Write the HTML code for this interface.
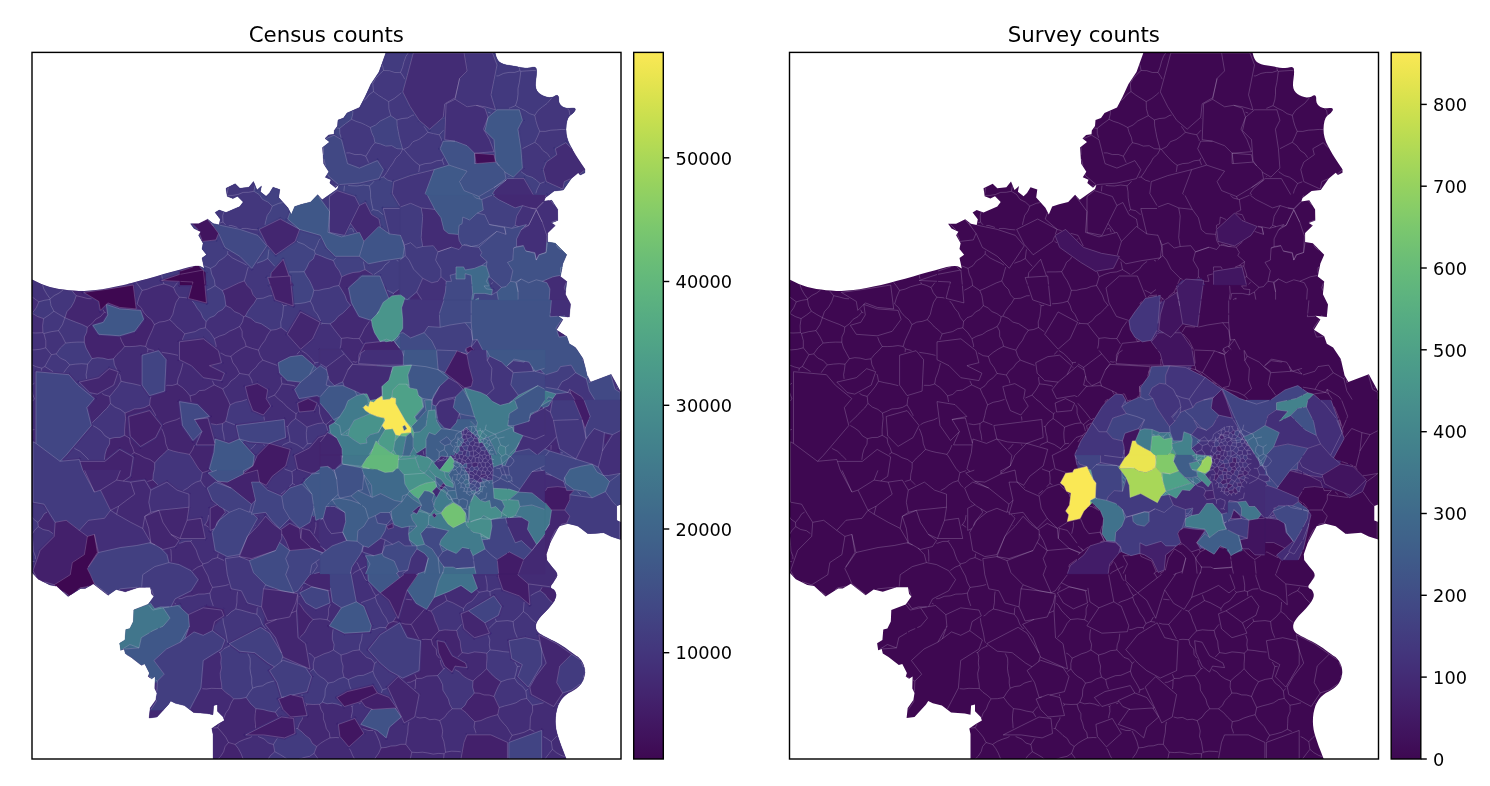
<!DOCTYPE html><html><head><meta charset="utf-8"><title>Census and survey counts</title>
<style>html,body{margin:0;padding:0;background:#fff}svg{display:block}text{font-family:"DejaVu Sans","Liberation Sans",sans-serif;fill:#000}</style></head><body>
<svg width="1490" height="786" viewBox="0 0 1490 786">
<defs>
<clipPath id="c1"><rect x="32.0" y="52.4" width="589.0" height="706.6"/></clipPath>
<clipPath id="c2"><rect x="789.5" y="52.4" width="589.0" height="706.6"/></clipPath>
<linearGradient id="vg" x1="0" y1="0" x2="0" y2="1"><stop offset="0.000" stop-color="#fae855"/><stop offset="0.031" stop-color="#ebe550"/><stop offset="0.062" stop-color="#dae24e"/><stop offset="0.094" stop-color="#c8df4f"/><stop offset="0.125" stop-color="#b7db53"/><stop offset="0.156" stop-color="#a6d759"/><stop offset="0.188" stop-color="#96d25f"/><stop offset="0.219" stop-color="#88cd67"/><stop offset="0.250" stop-color="#7ac76e"/><stop offset="0.281" stop-color="#6fc074"/><stop offset="0.312" stop-color="#65ba7a"/><stop offset="0.344" stop-color="#5db37f"/><stop offset="0.375" stop-color="#56ac83"/><stop offset="0.406" stop-color="#51a586"/><stop offset="0.438" stop-color="#4c9d89"/><stop offset="0.469" stop-color="#49968b"/><stop offset="0.500" stop-color="#478e8c"/><stop offset="0.531" stop-color="#44878c"/><stop offset="0.562" stop-color="#42808c"/><stop offset="0.594" stop-color="#41788c"/><stop offset="0.625" stop-color="#40718b"/><stop offset="0.656" stop-color="#3f698b"/><stop offset="0.688" stop-color="#3f628a"/><stop offset="0.719" stop-color="#3f5a89"/><stop offset="0.750" stop-color="#405287"/><stop offset="0.781" stop-color="#414985"/><stop offset="0.812" stop-color="#424081"/><stop offset="0.844" stop-color="#43377d"/><stop offset="0.875" stop-color="#432e77"/><stop offset="0.906" stop-color="#43256f"/><stop offset="0.938" stop-color="#421b66"/><stop offset="0.969" stop-color="#40125c"/><stop offset="1.000" stop-color="#3e0851"/></linearGradient>
</defs>
<rect width="1490" height="786" fill="#fff"/>
<g clip-path="url(#c1)">
<path d="M379.0,72.0L371.0,84.0L365.0,97.0L359.5,107.5L351.5,111.0L347.0,113.0L343.5,118.0L338.0,120.0L337.5,126.0L334.3,130.4L334.0,134.3L328.6,135.0L325.0,138.4L329.5,142.0L322.5,147.6L323.7,163.7L328.8,171.7L325.3,177.3L331.0,179.7L329.8,183.1L335.5,187.7L339.0,184.5L337.5,189.0L322.2,199.8L317.6,194.7L310.7,202.0L301.6,204.3L294.7,206.6L291.3,214.6L287.9,207.8L278.7,197.5L279.8,189.5L273.0,187.2L269.5,192.9L266.1,196.3L260.4,191.8L261.5,186.0L257.0,190.0L253.5,181.4L248.9,187.2L239.8,188.3L235.2,183.7L226.0,188.3L227.2,196.3L232.9,198.6L237.5,196.3L243.2,202.0L239.8,206.6L226.0,212.4L219.2,210.1L215.1,212.4L220.3,219.2L219.2,224.9L213.4,223.8L207.7,219.2L198.6,223.8L190.6,223.8L194.0,228.4L200.9,231.8L198.6,235.2L203.1,243.3L202.0,249.0L206.6,254.7L202.0,258.1L204.3,268.4L203.9,268.2L203.0,267.8L201.7,267.1L200.0,266.3L197.3,266.0L193.8,266.3L189.3,267.1L183.8,268.6L177.8,270.2L171.0,272.1L163.7,274.1L155.6,276.4L147.6,278.7L139.6,280.8L131.6,282.9L123.6,284.9L116.0,286.6L108.9,288.0L102.2,289.2L95.8,290.0L89.8,290.6L84.1,290.9L78.7,290.9L73.5,290.6L68.5,290.2L63.7,289.6L58.9,288.9L54.4,288.1L49.9,287.0L45.5,285.6L41.3,283.9L37.2,281.9L34.1,280.5L32.0,279.5L31.0,279.0L31.0,571.5L38.3,579.2L49.8,584.9L56.6,586.1L68.1,596.4L80.7,588.4L85.2,588.4L93.3,583.8L108.1,595.2L116.2,589.5L125.3,591.8L139.0,587.2L150.5,587.2L151.6,594.1L153.9,596.4L148.2,604.4L133.8,610.1L133.3,621.6L129.9,628.4L125.8,629.6L124.9,639.9L119.6,643.3L120.7,650.2L124.2,649.0L125.3,653.6L131.0,657.1L141.3,665.1L144.8,663.9L149.4,673.1L148.2,676.5L151.6,678.8L155.1,676.5L154.8,688.5L157.0,693.0L155.9,699.9L150.2,707.9L149.1,718.1L157.0,717.0L168.5,704.4L170.7,701.0L175.3,703.3L184.4,705.6L193.6,712.4L207.3,713.6L213.0,714.7L213.6,705.6L217.5,704.4L217.5,711.3L223.2,717.0L224.4,720.4L218.7,723.8L211.8,728.4L213.0,734.1L213.0,760.0L566.6,760.0L566.1,758.6L565.0,756.0L563.5,751.9L561.4,746.5L559.6,741.5L558.1,737.0L556.9,733.0L556.1,729.4L555.6,725.6L555.4,721.7L555.5,717.5L556.0,713.2L556.9,709.2L558.0,705.6L559.5,702.4L561.3,699.5L563.4,697.0L565.7,694.9L568.3,693.1L571.2,691.6L573.8,690.1L576.1,688.5L578.2,686.8L580.0,685.0L581.5,682.9L582.8,680.6L583.8,678.0L584.5,675.1L584.8,672.2L584.6,669.4L584.0,666.5L582.9,663.6L581.5,661.1L579.9,658.9L578.0,657.1L575.8,655.7L573.5,654.1L571.0,652.2L568.3,650.3L565.4,648.1L562.2,646.0L558.6,643.8L554.6,641.6L550.3,639.5L546.6,637.6L543.5,635.9L541.1,634.6L539.3,633.5L537.9,632.3L536.8,630.8L536.1,629.2L535.7,627.4L535.7,625.6L536.1,623.8L536.8,622.0L537.9,620.2L539.3,618.2L541.1,616.1L543.3,613.8L545.8,611.2L548.2,608.7L550.3,606.2L552.3,603.7L554.1,601.2L555.4,598.8L556.1,596.7L556.3,594.7L555.9,592.9L555.3,591.4L554.4,590.1L553.2,589.1L551.8,588.4L551.0,587.5L550.8,586.4L551.2,585.2L552.3,583.7L553.4,582.2L554.5,580.6L555.6,578.9L556.8,577.2L557.2,575.3L556.8,573.3L555.7,571.2L553.8,569.1L552.1,567.1L550.7,565.3L549.4,563.6L548.3,562.2L547.5,561.1L547.0,560.4L546.7,560.0L546.3,554.3L550.2,542.9L559.1,526.3L568.0,523.8L578.2,526.3L588.3,534.0L603.6,532.7L611.2,536.5L622.0,540.0L622.0,522.4L616.8,520.4L616.8,506.0L622.0,504.0L622.0,394.0L611.3,374.3L590.9,382.0L587.1,375.6L583.3,359.1L575.6,347.6L569.3,343.8L566.7,336.2L556.5,329.8L562.9,319.6L557.8,315.8L569.3,317.1L570.5,304.4L565.4,294.2L566.7,281.4L560.3,276.4L562.9,263.6L566.7,254.7L555.3,243.3L547.6,242.0L547.6,233.1L555.3,225.5L551.4,222.9L557.8,220.4L557.6,209.4L551.8,200.3L543.8,201.4L545.0,198.0L554.1,191.1L563.3,190.0L571.3,178.5L578.2,172.8L580.4,175.1L585.0,172.8L585.0,169.4L584.3,168.3L582.9,166.2L580.7,163.0L577.9,158.7L575.2,154.4L572.8,150.3L570.6,146.2L568.6,142.2L567.2,138.0L566.3,133.8L566.0,129.3L566.3,124.7L567.0,120.9L568.1,117.9L569.7,115.7L571.7,114.2L573.3,112.9L574.4,111.6L575.1,110.4L575.4,109.2L575.0,108.4L573.9,108.0L572.0,107.9L569.5,108.3L567.1,108.2L565.0,107.8L563.0,107.0L561.3,105.8L560.0,104.3L559.1,102.5L558.7,100.2L558.7,97.7L558.2,96.0L557.2,95.3L555.7,95.5L553.7,96.7L551.6,97.3L549.3,97.5L546.8,97.1L544.3,96.3L542.0,95.2L540.0,93.9L538.3,92.4L536.8,90.6L535.9,88.3L535.5,85.4L535.6,82.0L536.1,78.0L536.5,74.6L536.6,71.9L536.5,69.9L536.2,68.4L535.4,67.5L534.1,67.1L532.4,67.2L530.1,67.7L527.6,68.0L525.0,68.0L522.3,67.7L519.5,67.2L516.5,66.6L513.3,66.0L510.1,65.4L506.6,64.9L503.8,64.2L501.5,63.3L499.8,62.3L498.6,61.2L497.6,59.8L496.8,58.2L496.0,56.3L495.5,54.2L495.0,52.6L494.7,51.5L494.7,51.4L386.4,51.4Z" fill="#432e77"/>
<path d="M485.0,130.7L488.0,117.3L483.5,129.2L489.5,139.7L494.0,151.7L474.6,153.2L494.0,154.7L495.5,162.1L499.2,165.9L495.5,160.6L494.0,139.7ZM571.4,178.4L564.3,181.6L562.8,189.1L546.3,181.6L543.3,169.6L546.3,162.1L556.8,154.7L555.3,148.7L565.8,142.7L572.2,149.1L570.6,146.2L568.6,142.2L567.2,138.0L566.3,133.8L566.0,129.3L566.3,124.7L567.0,120.9L568.1,117.9L569.7,115.7L571.7,114.2L573.3,112.9L574.4,111.6L575.1,110.4L575.4,109.2L575.0,108.4L573.9,108.0L572.0,107.9L569.5,108.3L567.1,108.2L565.0,107.8L563.0,107.0L561.3,105.8L560.0,104.3L559.1,102.5L558.7,100.2L558.7,97.7L558.2,96.0L557.2,95.3L555.7,95.5L553.7,96.7L551.6,97.3L549.3,97.5L546.8,97.1L544.3,96.3L542.0,95.2L540.0,93.9L538.3,92.4L536.8,90.6L535.9,88.3L535.5,85.4L535.6,82.0L536.1,78.0L536.5,74.6L536.6,71.9L536.5,69.9L536.2,68.4L535.4,67.5L534.1,67.1L532.4,67.2L530.1,67.7L527.6,68.0L525.0,68.0L522.3,67.7L519.5,67.2L516.5,66.6L513.3,66.0L510.1,65.4L506.6,64.9L503.8,64.2L501.5,63.3L499.8,62.3L498.6,61.2L497.6,59.8L496.8,58.2L496.0,56.3L495.5,54.2L495.0,52.6L494.7,51.5L494.7,51.4L386.4,51.4L379.0,72.0L371.0,84.0L365.0,97.0L359.5,107.5L351.5,111.0L347.0,113.0L343.5,118.0L338.0,120.0L337.5,126.0L334.3,130.4L334.0,134.3L328.6,135.0L325.0,138.4L325.6,138.8L334.0,135.2L341.5,139.7L347.5,163.6L359.4,168.1L377.4,160.6L383.3,169.6L378.9,178.6L359.4,183.1L339.0,184.5L337.5,189.0L322.2,199.8L317.6,194.7L317.1,195.3L317.6,195.0L329.5,211.5L329.5,196.5L337.0,190.6L354.9,196.5L359.4,205.5L365.4,202.5L371.4,214.5L378.9,219.0L380.4,226.4L379.7,227.0L389.3,233.9L383.3,208.5L400.0,208.5L400.0,207.1L400.0,206.3L392.3,193.5L393.8,181.6L410.3,175.6L434.2,169.6L449.1,165.1L440.2,148.7L443.2,141.2L455.1,141.2L444.7,139.7L446.1,103.8L455.1,99.3L459.6,78.4L455.1,97.8L444.7,103.8L443.2,117.3L429.7,129.2L419.2,120.3L410.3,106.8L402.8,91.9L407.3,75.4L413.3,53.0L464.1,53.0L492.5,53.0L497.0,65.0L494.0,79.9L491.0,94.9L495.5,109.8L485.0,106.8L476.1,105.3L485.0,108.3L488.0,117.3L497.0,109.8L519.4,109.8L522.4,120.3L517.9,129.2L520.9,148.7L522.4,168.1L513.4,177.1L504.7,172.1L506.0,178.6L494.0,187.6L505.2,180.6L507.5,178.6L523.9,178.6L533.5,195.0L546.1,195.0L543.9,201.1L542.5,202.4L542.4,203.3L543.9,201.8L548.8,200.7L543.8,201.4L545.0,198.0L554.1,191.1L563.3,190.0L571.3,178.5ZM322.5,147.6L323.7,163.7L325.9,167.2L323.5,157.7L323.5,146.8ZM474.6,153.2L474.6,163.6L476.0,163.5ZM338.5,184.6L328.0,175.6L327.6,173.7L325.3,177.3L331.0,179.7L329.8,183.1L335.5,187.7L339.0,184.5ZM329.5,232.4L329.5,211.5L328.0,232.4L341.5,236.9L357.5,232.9L350.5,223.4L344.5,235.4ZM494.5,225.3L489.3,224.5L494.9,225.6ZM190.6,223.8L194.0,228.4L198.4,230.6L197.9,229.4L192.3,223.8ZM504.7,228.5L506.0,234.4L504.8,228.5ZM267.7,277.5L270.7,277.3L271.2,272.8L283.2,259.3L289.0,276.1L290.2,276.0L290.6,280.8L291.4,282.9L330.0,270.0L359.3,278.4L361.9,276.0L379.9,276.0L383.6,285.3L400.0,290.0L400.0,260.1L402.6,257.9L383.3,260.8L368.4,263.8L359.4,256.3L335.5,256.3L326.5,247.4L320.6,235.4L299.6,229.4L287.7,219.0L290.2,212.3L287.9,207.8L278.7,197.5L279.8,189.5L273.0,187.2L269.5,192.9L266.1,196.3L260.4,191.8L261.5,186.0L257.0,190.0L253.5,181.4L248.9,187.2L239.8,188.3L235.2,183.7L226.0,188.3L227.2,196.3L232.9,198.6L237.5,196.3L243.2,202.0L239.8,206.6L226.0,212.4L219.2,210.1L215.1,212.4L220.3,219.2L219.2,224.9L213.4,223.8L207.7,219.2L207.3,219.4L213.4,226.3L211.4,223.4L239.8,229.4L257.8,235.4L266.7,245.9L251.8,268.3L239.8,256.3L224.9,247.4L218.9,233.9L218.5,233.4L215.9,239.9L202.4,241.4L199.6,233.8L198.6,235.2L203.1,243.3L202.0,249.0L206.6,254.7L202.0,258.1L204.3,268.4L203.9,268.2L203.0,267.8L201.7,267.1L200.0,266.3L198.8,266.1L202.8,270.1L203.4,270.0L203.5,270.9L205.4,272.8L205.4,280.8L270.0,290.0L271.7,289.4L270.3,285.0L269.7,285.0L269.9,283.8ZM295.1,241.4L275.7,254.8L266.7,244.4L259.2,229.4L280.2,219.0L299.6,229.4ZM496.9,231.3L478.7,245.0L471.2,246.5L478.7,247.2ZM471.2,246.5L465.1,244.2L463.4,245.1ZM437.8,252.0L451.5,247.2L437.9,251.8ZM404.7,247.3L404.3,247.4L402.8,257.7L405.3,255.6ZM481.8,265.4L486.3,266.2L487.1,261.6ZM484.0,285.9L486.3,288.9L492.4,289.6L491.6,294.9L496.9,291.9L501.5,287.4L489.3,276.8L489.1,275.8L487.7,278.5L489.5,285.0L488.8,285.0L489.3,285.9ZM585.0,172.8L585.0,169.8L579.5,174.2L580.4,175.1ZM538.7,207.0L537.9,207.0L536.3,208.6L530.2,207.9L536.3,209.4ZM557.5,220.0L551.4,222.3L551.8,222.7L557.8,220.4L557.6,209.4L551.8,200.3L550.8,200.4L557.5,209.4ZM542.3,222.3L536.3,209.4L528.7,225.3L536.3,210.1ZM554.7,226.1L555.3,225.5L552.7,223.7ZM513.7,226.7L512.1,228.3L518.6,226.6L515.4,225.4L514.9,226.4ZM528.7,225.3L524.4,226.6L521.1,229.8ZM547.6,242.0L547.6,242.0L547.6,234.7L546.9,235.9L546.6,242.8L547.5,242.7ZM513.6,248.0L523.4,245.7L516.6,246.5ZM534.8,252.5L529.7,251.7L530.2,252.2L534.8,253.3L536.3,260.1ZM539.3,254.8L539.9,254.6L540.1,254.4L538.6,254.8L536.3,260.1ZM562.0,268.0L561.3,269.8L560.5,275.2L560.5,275.3L560.5,275.3ZM517.9,281.7L517.6,281.1L515.8,282.1L518.1,291.9L516.6,282.8ZM566.7,281.4L566.5,281.2L566.6,281.3L564.3,287.4L565.6,291.8ZM563.9,316.5L568.0,316.9L564.3,315.9ZM557.0,329.0L562.9,319.6L562.1,319.0L556.0,328.0L556.2,328.7ZM363.4,261.6L363.9,264.1L365.0,269.6L372.8,274.5L374.0,274.5L377.7,272.0L381.9,269.2L385.0,264.9L389.0,261.8L389.6,261.4L383.6,262.3L368.7,265.3L368.7,265.3L368.6,265.3L368.5,265.3L368.4,265.3L368.4,265.3L368.3,265.3L368.2,265.3L368.1,265.3L368.1,265.3L368.0,265.3L367.9,265.2L367.8,265.2L367.8,265.2L367.7,265.1L367.7,265.1L367.6,265.1L367.5,265.0L367.5,265.0L367.4,265.0ZM427.9,132.3L433.6,133.7L439.3,134.8L441.6,139.5L441.7,140.8L441.8,140.7L441.8,140.6L441.8,140.5L441.8,140.5L441.9,140.4L441.9,140.4L442.0,140.3L442.0,140.2L442.1,140.2L442.1,140.1L442.2,140.1L442.2,140.0L442.3,140.0L442.3,140.0L442.4,139.9L442.5,139.9L442.6,139.8L442.6,139.8L442.7,139.8L442.7,139.8L442.8,139.7L442.9,139.7L443.0,139.7L443.0,139.7L443.1,139.7L443.2,139.7L443.2,139.7L443.2,139.7L444.0,119.0L444.0,118.5L430.7,130.4L430.7,130.4L430.6,130.4L430.6,130.5L430.5,130.5L430.4,130.5L430.4,130.6L430.3,130.6L430.2,130.6L430.2,130.7L430.1,130.7L430.0,130.7L430.0,130.7L429.9,130.7L429.8,130.7L429.8,130.7L429.7,130.7L429.6,130.7L429.5,130.7L429.5,130.7L429.4,130.7L429.3,130.7L429.2,130.7L429.2,130.7L429.1,130.6L429.1,130.6L429.0,130.6L428.9,130.5L428.9,130.5L428.8,130.5L428.7,130.4L428.7,130.4L423.9,126.3L425.1,128.1ZM489.3,278.7L490.9,284.3L491.0,284.6L491.0,284.7L491.0,284.8L491.0,284.8L491.0,284.9L491.0,285.0L491.0,285.1L491.0,285.1L491.0,285.2L491.0,285.2L491.0,285.3L491.0,285.4L490.9,285.5L490.9,285.5L490.9,285.6L490.9,285.7L490.8,285.7L490.8,285.8L490.8,285.9L490.8,286.0L490.8,286.0L490.8,286.1L490.8,286.2L490.8,286.3L490.8,286.3L490.7,286.4L490.7,286.5L490.7,286.5L490.7,286.6L490.6,286.7L490.6,286.7L490.5,286.8L490.5,286.8L490.4,286.9L490.4,286.9L490.3,287.0L490.3,287.0L490.2,287.1L490.2,287.1L490.1,287.2L490.0,287.2L489.9,287.2L489.9,287.2L489.8,287.3L489.8,287.3L489.7,287.3L489.6,287.3L489.5,287.3L489.5,287.3L489.4,287.4L489.3,287.4L487.6,287.4L487.0,287.4L487.1,287.5L492.6,288.2L492.6,288.2L492.7,288.2L492.7,288.2L492.8,288.2L492.9,288.2L493.0,288.3L493.0,288.3L493.1,288.3L493.1,288.4L493.2,288.4L493.3,288.4L493.3,288.5L493.4,288.5L493.4,288.6L493.5,288.6L493.5,288.7L493.6,288.7L493.6,288.8L493.7,288.9L493.7,289.0L493.7,289.0L493.8,289.1L493.8,289.1L493.8,289.2L493.8,289.3L493.8,289.4L493.9,289.4L493.9,289.5L493.9,289.6L493.9,289.7L493.9,289.7L493.9,289.8L493.9,289.9L493.5,292.1L496.0,290.7L499.3,287.4ZM479.2,462.6L478.1,463.0L477.5,466.3L478.7,468.9L481.9,466.4L480.6,462.7ZM459.5,465.2L461.7,461.4L462.2,459.6L465.5,460.7L468.0,457.9L468.0,457.3L465.7,455.7L463.8,455.9L462.1,459.4L459.5,458.4L457.1,459.5L457.2,462.8ZM462.1,459.4L463.8,455.9L462.3,454.4L459.2,454.8L459.5,458.4ZM482.5,461.8L485.3,462.7L487.9,461.8L488.2,460.7L485.6,458.0L483.3,459.1L482.7,460.6Z" fill="#423c7f" stroke="#423c7f" stroke-width="0.3"/>
<path d="M31.0,571.2L31.0,571.5L37.0,577.8L33.5,571.4ZM49.8,584.9L55.8,586.0L54.2,584.8L41.6,580.8ZM120.6,588.8L118.2,590.0L125.3,591.8L139.0,587.2L145.6,587.2L141.7,586.8ZM93.6,584.1L108.1,595.2L108.9,594.6L108.5,594.8L94.4,583.8ZM80.3,587.8L71.1,594.5L80.7,588.4L85.2,588.4L91.4,584.9L86.4,586.8ZM69.1,595.7L59.4,588.6L68.1,596.4ZM148.5,604.8L150.8,603.9L152.9,607.5L153.7,607.4L149.8,602.2L148.2,604.4L133.8,610.1L133.8,610.1L148.2,604.4ZM120.7,650.2L124.2,649.0L124.2,649.0L139.0,647.9L129.9,644.5ZM131.0,657.1L126.7,654.5L131.0,657.1L141.3,665.1L142.8,664.6L141.3,665.1ZM263.5,588.8L267.5,589.2L272.2,588.4L265.2,585.4ZM150.6,587.8L151.6,594.1L153.6,596.1L153.8,595.8L150.8,587.8ZM184.8,638.7L188.7,628.0L188.3,628.0L186.6,631.0L184.4,639.0ZM173.7,606.2L179.9,604.8L182.1,609.2L188.3,614.7L203.2,607.8L203.3,607.9L205.2,606.9L205.5,607.0L206.8,606.3L223.3,609.3L224.8,615.3L219.4,618.6L219.2,619.0L213.7,625.3L212.3,630.7L224.9,639.9L221.5,649.0L203.2,660.5L200.9,688.0L189.7,709.5L193.6,712.4L207.3,713.6L213.0,714.7L213.6,705.6L217.5,704.4L217.5,711.3L223.2,717.0L224.4,720.4L218.7,723.8L211.8,728.4L213.0,734.1L213.0,760.0L566.6,760.0L566.1,758.6L565.0,756.0L563.5,751.9L561.4,746.5L559.6,741.5L558.1,737.0L556.9,733.0L556.1,729.4L555.6,725.6L555.4,721.7L555.5,717.5L556.0,713.2L556.9,709.2L558.0,705.6L559.5,702.4L561.3,699.5L563.4,697.0L565.7,694.9L568.3,693.1L571.2,691.6L573.8,690.1L576.1,688.5L578.2,686.8L580.0,685.0L581.4,683.1L571.7,690.1L562.7,693.0L553.7,706.5L531.3,694.5L529.8,687.1L535.8,676.6L546.2,663.1L541.7,649.7L538.8,634.7L556.7,643.7L571.7,654.2L580.6,660.2L584.6,669.4L584.6,669.4L584.0,666.5L582.9,663.6L581.5,661.1L579.9,658.9L578.0,657.1L575.8,655.7L573.5,654.1L571.0,652.2L568.3,650.3L565.4,648.1L562.2,646.0L558.6,643.8L554.6,641.6L550.3,639.5L546.6,637.6L543.5,635.9L541.1,634.6L539.3,633.5L537.9,632.3L536.8,630.8L536.1,629.2L535.7,627.4L535.7,625.6L536.1,623.8L536.8,622.0L537.9,620.2L539.3,618.2L541.1,616.1L543.3,613.8L545.8,611.2L548.2,608.7L550.3,606.2L552.3,603.7L554.1,601.2L554.7,600.0L529.4,600.0L529.8,604.8L524.2,600.0L496.9,600.0L501.4,606.3L498.4,615.3L484.9,622.8L489.4,633.2L474.5,637.7L464.0,628.8L461.0,613.8L468.5,610.8L486.9,600.0L432.4,600.0L426.6,609.3L416.1,603.3L413.9,600.0L403.8,600.0L402.7,603.3L398.2,618.3L389.2,600.3L388.8,600.0L356.0,600.0L356.3,601.8L363.8,606.3L371.3,625.8L369.8,631.7L344.4,633.2L329.4,625.8L341.4,607.8L332.4,601.8L330.0,602.8L330.0,602.9L315.9,608.9L305.8,602.9L299.8,592.8L307.7,588.8L308.5,585.4L308.8,585.3L305.7,583.7L305.5,583.9L302.9,583.9L297.8,590.8L295.3,592.0L296.4,593.6L297.8,593.8L297.5,595.1L298.0,595.9L296.5,610.8L298.0,637.7L305.5,643.7L310.0,669.1L283.1,657.2L282.8,656.5L281.1,661.7L283.1,660.2L305.5,667.6L311.5,676.6L307.0,691.6L292.4,695.0L302.5,697.5L307.0,715.5L290.6,717.0L283.1,709.5L278.6,699.0L284.3,696.9L281.6,697.5L277.1,682.6L269.6,670.6L274.5,666.8L268.1,663.1L254.7,652.7L239.7,651.2L229.2,643.7L260.6,627.3L269.6,633.2L281.5,653.0L275.6,637.7L265.1,624.3L265.7,616.7L261.5,606.9L247.4,602.9L241.4,590.8L231.3,588.8L229.0,580.7L196.2,582.7L191.1,590.8L175.0,598.9L171.1,606.6ZM541.7,664.6L528.3,687.1L517.8,676.6L522.3,664.6L511.8,658.7L508.9,640.7L525.3,637.7L538.8,640.7L541.7,649.7ZM380.3,634.7L399.7,622.8L407.2,637.7L420.6,640.7L419.1,670.6L402.7,678.1L389.2,670.6L380.3,663.1L368.3,649.7ZM467.0,734.9L490.9,734.9L507.4,742.4L507.4,758.8L461.0,758.8L464.0,742.4ZM541.7,758.8L508.9,758.8L508.9,742.4L541.7,730.4ZM414.7,717.0L404.2,722.9L395.2,703.5L387.7,687.1L398.2,676.6L419.1,694.5ZM444.6,666.1L438.6,652.7L437.1,640.7L444.6,642.2L452.0,655.7L465.5,663.1L467.0,667.6L455.0,666.1L452.0,672.1ZM372.6,709.4L365.3,706.5L361.4,701.3L344.4,706.5L336.9,697.5L347.4,691.6L372.8,685.6L377.3,693.0L389.2,697.5L396.7,708.0L395.4,708.3L401.2,717.0L389.2,727.4L386.2,737.9L377.3,730.4L360.8,724.4L371.3,709.5ZM348.9,746.9L339.9,736.4L338.4,724.4L354.8,718.5L363.8,733.4ZM263.6,734.9L245.7,734.9L263.6,725.9L281.6,717.0L293.5,718.5L295.0,733.4L284.6,737.9ZM148.8,674.9L148.2,676.5L150.0,677.7L150.0,676.9L149.3,676.5ZM584.8,672.0L582.5,681.2L582.8,680.6L583.8,678.0L584.5,675.1L584.8,672.2ZM154.8,688.5L156.7,692.5L157.3,681.5L156.0,682.6L155.0,682.1ZM150.5,709.9L156.2,701.7L156.5,695.9L155.9,699.9L150.2,707.9L149.1,718.1L157.0,717.0L163.4,709.9ZM540.1,590.7L542.1,587.3L529.9,585.6L530.6,595.7L534.8,593.1ZM475.8,733.4L475.9,732.7L474.0,727.2L474.8,721.6L470.2,717.3L466.0,712.6L461.0,708.8L452.3,708.8L447.9,712.5L444.5,717.3L439.7,720.6L441.5,725.7L442.7,731.0L442.0,736.5L443.9,741.6L444.8,746.9L445.6,752.2L451.4,751.2L457.1,751.4L460.8,751.8L462.5,742.1L462.5,742.1L462.5,742.0L462.6,741.9L462.6,741.9L462.6,741.8L465.6,734.4L465.6,734.3L465.6,734.2L465.7,734.2L465.7,734.1L465.7,734.1L465.8,734.0L465.8,734.0L465.9,733.9L465.9,733.8L466.0,733.8L466.0,733.7L466.1,733.7L466.2,733.7L466.3,733.6L466.3,733.6L466.4,733.5L466.4,733.5L466.5,733.5L466.6,733.5L466.7,733.4L466.7,733.4L466.8,733.4L466.9,733.4L467.0,733.4L467.0,733.4ZM497.7,714.7L500.0,719.2L503.3,723.1L506.8,726.8L509.3,731.2L512.1,735.3L518.3,733.9L524.3,732.2L529.9,729.3L530.2,723.2L530.4,717.2L532.7,711.3L532.4,705.2L526.8,698.4L521.1,699.6L516.0,702.8L510.4,704.5L504.8,705.9L499.2,707.6ZM298.8,603.2L300.7,605.4L304.1,610.6L308.4,615.2L313.0,619.5L320.1,618.8L327.2,619.8L328.6,614.4L328.6,608.7L330.5,604.3L316.5,610.3L316.5,610.3L316.4,610.3L316.3,610.4L316.2,610.4L316.2,610.4L316.1,610.4L316.0,610.4L316.0,610.4L315.9,610.4L315.8,610.4L315.8,610.4L315.7,610.4L315.6,610.4L315.5,610.4L315.5,610.4L315.4,610.3L315.3,610.3L315.3,610.3L315.2,610.3L315.1,610.2L315.1,610.2L305.0,604.2L305.0,604.2L304.9,604.1L304.9,604.1L304.8,604.0L304.8,604.0L304.7,603.9L304.7,603.9L304.6,603.8L304.6,603.8L304.5,603.7L304.5,603.6L299.1,594.6L299.1,594.8L299.2,595.0L299.3,595.0L299.3,595.1L299.3,595.1L299.4,595.2L299.4,595.3L299.4,595.4L299.5,595.4L299.5,595.5L299.5,595.6L299.5,595.7L299.5,595.7L299.5,595.8L299.5,595.9L299.5,596.0L299.5,596.0ZM205.0,524.8L204.0,525.2L206.6,538.2L206.6,538.2L206.6,538.3L206.7,538.3L206.7,538.4L206.7,538.5L206.7,538.6L206.6,538.6L206.6,538.7L206.6,538.8L206.6,538.9L206.6,538.9L206.6,539.0L206.5,539.0L206.5,539.1L206.5,539.2L206.4,539.3L206.4,539.3L206.3,539.4L206.3,539.4L206.2,539.5L206.2,539.5L206.1,539.6L206.1,539.6L206.0,539.7L206.0,539.7L205.9,539.8L205.8,539.8L205.8,539.8L205.7,539.8L205.6,539.9L205.6,539.9L205.5,539.9L205.4,539.9L205.3,539.9L205.3,539.9L205.2,540.0L205.2,540.0L191.8,540.0L190.7,541.3L193.5,545.6L196.2,550.0L197.8,555.0L199.7,559.8L202.8,564.0L202.3,565.3L205.0,570.7L208.0,576.0L209.7,582.0L212.5,587.4L209.9,593.1L210.7,598.5L212.5,603.7L213.3,606.0L223.5,607.8L223.6,607.8L223.7,607.9L223.7,607.9L223.8,607.9L223.8,607.9L223.9,608.0L224.0,608.0L224.0,608.0L224.1,608.1L224.2,608.1L224.2,608.1L224.3,608.2L224.3,608.2L224.4,608.3L224.4,608.3L224.5,608.4L224.5,608.5L224.5,608.5L224.6,608.6L224.6,608.7L224.6,608.7L224.7,608.8L224.7,608.8L224.7,608.9L224.7,608.9L226.2,614.9L226.2,615.0L226.2,615.0L226.2,615.1L226.3,615.2L226.3,615.2L226.3,615.3L226.3,615.4L226.2,615.5L226.2,615.5L226.2,615.6L226.2,615.7L226.2,615.8L226.2,615.8L226.1,615.9L226.1,615.9L226.1,616.0L227.6,615.3L231.4,611.7L235.8,609.0L241.1,610.1L246.2,611.6L251.5,613.1L256.8,614.2L257.2,608.5L257.7,607.4L247.0,604.3L247.0,604.3L246.9,604.3L246.9,604.3L246.8,604.2L246.7,604.2L246.6,604.1L246.6,604.1L246.5,604.0L246.5,604.0L246.4,603.9L246.3,603.9L246.3,603.8L246.2,603.8L246.2,603.7L246.2,603.7L246.1,603.6L246.1,603.5L240.4,592.1L231.0,590.3L231.0,590.2L230.9,590.2L230.9,590.2L230.8,590.2L230.7,590.2L230.6,590.1L230.6,590.1L230.5,590.0L230.5,590.0L230.4,590.0L230.3,589.9L230.3,589.9L230.2,589.8L230.2,589.7L230.1,589.7L230.1,589.6L230.1,589.6L230.0,589.5L230.0,589.5L229.9,589.4L229.9,589.3L229.9,589.2L229.9,589.2L225.9,575.1L225.9,575.1L225.8,575.0L225.8,575.0L225.8,574.9L225.8,574.9L223.8,558.8L223.8,558.7L223.8,558.6L223.8,558.6L223.8,558.5L223.8,558.5L223.8,558.4L223.8,558.3L223.8,558.2L223.8,558.2L223.9,558.1L223.9,558.0L223.9,557.9L224.0,557.9L224.0,557.8L224.0,557.8L224.1,557.7L224.1,557.7L224.2,557.6L224.2,557.5L224.3,557.5L224.3,557.4L224.4,557.4L224.4,557.4L224.5,557.3L224.6,557.3L224.6,557.2L224.7,557.2L224.8,557.2L224.8,557.2L224.9,557.1L225.0,557.1L225.0,557.1L214.6,551.9L214.5,551.9L214.4,551.8L214.4,551.8L214.3,551.7L214.3,551.7L214.2,551.6L214.2,551.6L214.1,551.5L214.1,551.5L214.0,551.4L214.0,551.4L214.0,551.3L213.9,551.3L213.9,551.2L213.9,551.2L213.8,551.1L213.8,551.0L213.8,550.9L213.8,550.9L213.7,550.8L213.7,550.8L210.7,532.7L210.7,532.6L210.7,532.5L210.7,532.5L210.7,532.4L210.7,532.3L210.7,532.2L210.7,532.2L210.7,532.1L210.7,532.0L210.8,531.9L210.8,531.9L210.8,531.8L210.8,531.8L210.9,531.7L210.7,531.8L210.7,531.8L210.6,531.8L210.6,531.8L210.5,531.9L210.4,531.9L210.3,531.9L210.3,531.9L210.2,531.9L210.2,531.9L210.1,531.9L210.0,531.9L209.9,531.9L209.9,531.9L209.8,531.8L209.7,531.8L209.6,531.8L209.6,531.8L209.5,531.7L209.5,531.7L209.4,531.7L209.3,531.6L209.3,531.6L209.2,531.5L209.1,531.5L209.1,531.4L209.0,531.4L209.0,531.3L209.0,531.2L208.9,531.2L208.9,531.1L208.9,531.1L208.8,531.0L208.8,530.9L208.8,530.9L208.7,530.8L208.7,530.7L208.7,530.7L208.7,530.6L208.7,530.5L208.7,530.4L208.7,530.4L208.7,527.3ZM31.5,430.2L34.5,429.4L34.5,399.4L31.5,401.4ZM34.5,399.0L32.2,392.9L31.5,390.8L31.5,401.4L34.5,399.4ZM478.1,438.8L479.9,436.5L476.9,434.4L475.5,434.8L474.1,438.6ZM467.0,450.5L464.6,450.2L462.8,451.6L462.3,454.4L463.8,455.9L465.7,455.7Z" fill="#432e77" stroke="#432e77" stroke-width="0.3"/>
<path d="M621.4,539.1L621.5,539.1L621.5,522.7L621.2,522.6L621.2,537.6ZM233.6,698.8L230.8,703.6L228.9,708.8L225.6,713.3L224.0,717.8L224.9,720.2L224.9,720.3L224.9,720.3L224.9,720.4L224.9,720.4L224.9,720.5L224.9,720.5L224.9,720.6L224.9,720.6L224.8,720.7L224.8,720.7L224.8,720.7L224.7,720.8L224.7,720.8L224.7,720.8L219.0,724.2L212.4,728.6L213.5,734.0L213.5,734.0L213.5,734.1L213.5,759.5L217.3,759.5L220.8,756.1L223.6,751.7L225.1,746.5L228.5,742.5L235.1,744.4L239.7,741.4L244.7,739.3L250.0,737.6L252.1,736.4L245.7,736.4L245.7,736.4L245.6,736.4L245.5,736.4L245.4,736.4L245.4,736.4L245.3,736.4L245.2,736.3L245.1,736.3L245.1,736.3L245.0,736.2L245.0,736.2L244.9,736.2L244.8,736.1L244.8,736.1L244.7,736.0L244.6,736.0L244.6,735.9L244.5,735.9L244.5,735.8L244.5,735.8L244.4,735.7L244.4,735.6L244.4,735.6L244.3,735.5L244.3,735.4L244.3,735.4L244.2,735.3L244.2,735.2L244.2,735.2L244.2,735.1L244.2,735.0L244.2,734.9L244.2,734.9L244.2,734.8L244.2,734.7L244.2,734.6L244.2,734.6L244.3,734.5L244.3,734.4L244.3,734.3L244.3,734.3L244.4,734.2L244.4,734.2L244.5,734.1L244.5,734.0L244.5,734.0L244.6,733.9L244.6,733.8L244.7,733.8L244.8,733.7L244.8,733.7L244.9,733.7L244.9,733.6L245.0,733.6L245.0,733.6L255.6,728.3L255.4,724.3L254.9,719.0L255.2,713.8L255.9,708.6L250.5,703.5L246.2,697.5L240.0,698.7ZM208.7,515.0L208.6,515.1L207.7,520.3L205.0,524.8L208.7,527.3ZM109.7,396.4L104.5,395.0L101.9,393.3L98.0,395.4L98.0,395.4L97.9,395.5L97.8,395.5L97.8,395.5L97.7,395.5L97.6,395.6L97.6,395.6L97.5,395.6L97.4,395.6L97.3,395.6L97.3,395.6L97.2,395.6L97.1,395.6L97.0,395.6L97.0,395.6L91.7,394.5L95.2,397.4L95.3,397.4L95.3,397.5L95.4,397.5L95.4,397.6L95.5,397.7L95.5,397.7L95.6,397.8L95.6,397.9L95.6,397.9L95.7,398.0L95.7,398.0L95.7,398.1L95.7,398.2L95.8,398.3L95.8,398.3L95.8,398.4L95.8,398.5L95.8,398.6L95.8,398.6L95.8,398.7L95.8,398.8L95.8,398.9L95.8,398.9L95.7,399.0L95.7,399.1L95.7,399.1L95.7,399.2L95.6,399.3L95.6,399.3L95.5,399.4L95.5,399.5L95.5,399.5L95.4,399.5L88.5,407.9L92.2,422.7L95.5,419.5L99.5,415.8L103.2,411.7L107.2,408.0L110.4,403.4ZM38.2,526.6L43.2,529.5L48.9,530.7L52.9,533.6L53.6,522.7L48.9,515.1L48.9,515.1L48.8,515.1L48.8,515.1L47.1,512.1L44.2,513.8L41.4,518.3L38.0,522.4ZM318.5,567.1L315.4,571.8L318.5,571.0ZM480.4,447.7L484.6,445.9L484.3,443.9L482.8,442.1L479.2,442.9L478.1,438.8L474.1,438.6L475.5,434.8L473.1,432.9L472.1,433.0L471.2,435.2L471.5,436.9L473.8,438.7L473.4,440.2L475.0,442.7L479.2,442.9L478.8,446.6ZM467.0,467.8L465.0,471.2L469.6,471.9L470.0,471.3L469.4,468.7ZM472.7,471.5L470.0,471.3L469.6,471.9L469.1,473.9L473.8,475.7L475.1,474.4ZM486.3,455.3L485.6,458.0L488.2,460.7L489.9,458.6L489.3,455.2Z" fill="#432771" stroke="#432771" stroke-width="0.3"/>
<path d="M542.1,587.3L540.1,590.7L544.7,594.0L548.1,598.7L552.3,602.5L552.4,602.6L553.7,600.9L554.9,598.6L555.6,596.6L555.8,594.7L555.4,593.0L554.9,591.6L554.0,590.4L552.9,589.5L551.6,588.8L551.5,588.8L551.5,588.8L551.4,588.8L551.4,588.7L551.1,588.3L551.0,588.4L550.9,588.4L550.8,588.4L550.8,588.4L550.7,588.4L550.6,588.4L550.5,588.4L550.5,588.4ZM137.1,304.0L137.1,304.0L137.6,308.7L140.8,308.9L140.8,308.9L140.9,308.9L140.9,308.9L141.0,308.9L141.1,308.9L141.2,309.0L141.2,309.0L141.3,309.0L141.3,309.0L141.4,309.1L141.5,309.1L141.5,309.2L141.6,309.2L141.7,309.3L141.7,309.3L141.8,309.4L141.8,309.4L141.9,309.5L141.9,309.5L141.9,309.6L142.0,309.6L142.0,309.7L142.0,309.8L142.1,309.9L142.1,309.9L145.1,318.9L145.1,318.9L145.1,319.0L145.1,319.0L145.1,319.1L145.1,319.2L145.1,319.3L145.1,319.3L145.1,319.4L145.1,319.5L145.1,319.6L145.1,319.6L145.1,319.7L145.1,319.7L145.1,319.8L145.0,319.9L145.0,320.0L145.0,320.0L144.9,320.1L144.9,320.1L144.9,320.2L144.8,320.2L135.9,332.2L135.8,332.2L135.8,332.3L135.7,332.3L135.7,332.4L135.6,332.5L135.5,332.5L135.5,332.5L135.4,332.6L135.4,332.6L135.3,332.7L135.2,332.7L135.1,332.7L135.1,332.7L120.1,337.2L120.1,337.2L120.0,337.3L120.0,337.3L119.9,337.3L119.9,337.3L119.8,337.3L119.7,337.3L119.6,337.3L119.6,337.3L98.7,335.8L98.6,335.8L98.5,335.8L98.5,335.8L98.4,335.7L98.4,335.7L98.3,335.7L98.2,335.7L98.1,335.6L98.1,335.6L98.0,335.6L97.9,335.5L97.9,335.5L97.8,335.4L97.7,335.4L97.7,335.3L97.6,335.3L97.6,335.2L97.5,335.1L97.5,335.1L91.6,326.2L91.5,326.1L91.5,326.0L91.5,326.0L91.4,325.9L91.4,325.9L91.4,325.8L91.4,325.7L91.3,325.6L91.3,325.6L91.3,325.5L91.3,325.4L91.3,325.3L91.3,325.3L91.3,325.2L91.3,325.1L91.3,325.0L91.3,325.0L91.4,324.9L91.4,324.9L91.4,324.8L91.4,324.7L91.5,324.6L91.5,324.6L91.5,324.5L91.6,324.5L91.6,324.4L91.7,324.3L91.7,324.3L91.8,324.2L91.8,324.2L91.9,324.1L92.0,324.1L92.0,324.1L92.1,324.0L92.1,324.0L92.2,323.9L92.3,323.9L92.4,323.9L92.4,323.9L102.3,321.1L106.2,314.5L105.2,307.6L103.1,309.7L104.4,312.2L100.6,316.5L95.6,319.3L91.9,323.8L87.3,327.1L86.7,332.2L84.4,337.0L84.3,342.2L86.0,348.0L89.0,353.3L91.9,358.7L97.3,357.7L102.7,358.1L108.1,359.5L113.5,358.8L117.0,354.4L121.1,350.7L124.7,346.5L129.9,346.6L135.2,346.3L140.4,345.6L145.7,346.4L147.4,340.7L149.8,335.4L152.3,330.1L154.4,324.6L151.6,319.9L147.3,316.5L143.8,312.5L141.1,307.7ZM473.0,681.0L472.6,687.1L474.3,693.0L479.3,693.2L484.1,694.9L489.2,695.0L494.0,696.5L496.0,691.4L498.3,686.4L501.1,681.7L495.7,678.0L490.9,673.6L486.6,668.7L482.3,673.0L477.5,676.8ZM313.0,619.5L308.4,615.2L304.1,610.6L300.7,605.4L298.8,603.2L298.0,610.8L299.5,637.0L300.1,637.5L300.5,636.7L304.4,632.9L307.0,628.2L309.5,623.5ZM228.5,742.5L225.1,746.5L223.6,751.7L220.8,756.1L217.3,759.5L243.7,759.5L242.8,758.1L240.8,753.2L238.3,748.6L235.1,744.4ZM168.0,449.4L165.8,443.7L165.0,437.6L163.1,431.7L161.7,428.6L156.9,438.1L156.9,438.2L156.9,438.2L156.9,438.3L156.8,438.4L156.8,438.4L156.7,438.5L156.7,438.5L156.6,438.6L156.6,438.6L156.5,438.7L156.5,438.7L156.4,438.7L156.4,438.8L141.4,447.7L141.4,447.7L141.3,447.8L141.3,447.8L141.2,447.8L141.1,447.9L141.0,447.9L141.0,447.9L140.9,447.9L140.9,447.9L140.8,447.9L140.7,447.9L140.6,447.9L140.6,447.9L140.5,447.9L140.4,447.9L140.3,447.9L140.3,447.9L140.2,447.9L140.2,447.9L140.1,447.8L140.0,447.8L139.9,447.8L139.9,447.7L139.8,447.7L139.8,447.7L139.7,447.6L139.7,447.6L139.6,447.5L139.6,447.5L130.0,437.9L129.6,438.2L130.4,443.2L132.7,447.8L134.2,452.6L139.5,454.8L144.5,457.7L150.0,459.5L154.7,462.9L158.9,458.1L163.6,453.9ZM158.0,484.8L157.2,484.1L152.9,479.9L153.3,474.2L154.6,468.6L154.7,462.9L150.0,459.5L144.5,457.7L139.5,454.8L134.2,452.6L132.7,447.8L130.4,443.2L129.6,438.2L124.7,435.3L120.0,437.4L114.8,437.5L109.8,438.7L109.5,444.1L106.6,448.9L105.1,454.1L104.4,459.4L104.3,459.8L118.8,448.3L118.8,448.2L118.9,448.2L118.9,448.2L119.0,448.1L119.0,448.1L119.1,448.0L119.2,448.0L119.3,448.0L119.3,448.0L119.4,448.0L119.5,447.9L119.6,447.9L119.6,447.9L119.7,447.9L119.8,447.9L119.9,447.9L119.9,447.9L120.0,448.0L120.1,448.0L120.1,448.0L120.2,448.0L120.3,448.0L120.3,448.1L120.4,448.1L120.4,448.1L133.9,455.6L133.9,455.6L134.0,455.7L134.0,455.7L134.1,455.7L134.2,455.8L134.2,455.9L134.3,455.9L134.3,456.0L134.4,456.0L134.4,456.1L134.5,456.1L134.5,456.2L134.5,456.3L134.6,456.4L134.6,456.4L134.6,456.5L134.6,456.6L134.6,456.7L134.7,456.7L134.7,456.8L134.7,456.9L134.7,457.0L134.7,457.0L134.7,457.1L134.7,457.1L131.7,476.6L131.7,476.6L131.6,476.7L131.6,476.7L131.6,476.8L131.6,476.9L131.5,477.0L131.5,477.0L131.5,477.1L131.4,477.2L131.4,477.3L131.3,477.3L131.3,477.4L131.2,477.4L131.2,477.5L131.1,477.5L131.0,477.6L131.0,477.6L127.3,480.1L130.7,480.6L144.5,478.6L144.6,478.6L144.7,478.6L144.7,478.6L144.8,478.6L144.9,478.6L145.0,478.6L145.0,478.6L145.1,478.6L145.2,478.6L145.2,478.6L145.3,478.7L145.4,478.7L145.4,478.7L145.5,478.8L145.6,478.8L145.6,478.8L145.7,478.9L145.7,478.9L145.8,479.0L145.9,479.0L145.9,479.1L145.9,479.2L146.0,479.2L146.0,479.3L146.0,479.3L151.4,488.2ZM300.7,590.7L300.7,590.5L302.8,586.6L299.2,591.4ZM381.0,747.9L378.7,753.2L375.3,757.9L374.6,759.5L409.8,759.5L410.5,758.0L411.7,752.2L405.8,744.3L400.8,744.3L395.9,745.8L390.9,746.0L386.0,747.4ZM362.7,728.6L363.0,728.7L368.5,730.5L373.2,730.5L361.2,726.2ZM437.3,461.9L441.3,459.9L444.3,457.9L441.7,457.6ZM610.2,435.6L605.7,434.5L604.6,444.5ZM318.5,402.6L318.5,398.0L316.8,397.2L310.7,398.2L317.8,401.7L317.8,401.7L317.9,401.8L317.9,401.8L318.0,401.9L318.0,401.9L318.1,402.0L318.1,402.0L318.2,402.1L318.2,402.1L318.3,402.2L318.3,402.2L318.4,402.3L318.4,402.4L318.4,402.4L318.5,402.5L318.5,402.6ZM558.8,331.8L560.0,335.5L564.0,335.1ZM469.8,324.2L468.2,324.2L470.0,326.4ZM417.3,499.9L413.8,497.6L413.1,497.1L413.0,497.1L413.0,497.1L412.9,497.0L412.8,497.0L412.8,496.9L409.5,493.6L409.1,494.1L413.3,497.7L417.6,500.6ZM212.2,365.0L209.4,365.7L212.0,367.0ZM93.9,490.9L84.4,470.0L120.6,470.0L116.6,480.1L123.2,481.0L130.2,476.3L133.2,456.9L119.7,449.4L104.8,461.4L79.9,461.4L82.7,470.0L93.8,491.0ZM191.5,365.7L203.4,377.7L221.4,380.6L224.4,373.2L209.4,365.7L221.4,362.7L218.4,350.7L203.4,338.8L179.5,341.8L179.5,359.7ZM392.8,340.6L391.9,341.4L390.9,340.9L385.9,341.8L384.9,341.2L364.9,343.3L358.9,355.2L358.9,360.8L360.9,353.0L365.4,350.0L400.0,350.0L400.0,348.8L393.5,340.5ZM376.8,365.7L403.8,365.7L403.8,365.1L403.3,365.1L380.6,365.1L366.2,364.2L372.8,365.5ZM196.0,444.9L214.7,444.9L214.9,443.2L207.9,418.0L194.5,419.5L201.9,431.5ZM224.8,615.3L223.3,609.3L206.8,606.3L205.5,607.0L217.4,609.6L221.5,610.1L221.6,610.6L223.3,610.9L222.4,612.6L223.8,615.9L219.5,618.5L219.4,618.6ZM252.9,559.3L268.5,553.3L268.7,552.8L251.5,558.6L240.2,556.7L240.0,556.8L243.9,558.4L248.7,560.0ZM214.3,528.7L216.1,525.7L217.2,522.3L225.3,512.3L223.3,508.7L219.2,506.2L217.4,504.6L210.2,508.3L210.2,530.4ZM251.5,504.2L255.5,500.2L251.5,482.1L259.5,482.1L257.5,470.0L243.4,474.0L227.3,482.1L217.2,481.1L231.3,488.1ZM323.0,552.7L325.3,551.0L323.3,548.3L320.0,545.9L320.0,543.9L309.8,530.4L301.8,528.4L300.8,538.5L311.9,548.5ZM485.5,471.7L485.6,474.0L486.6,475.5L487.4,476.0L490.5,473.8L490.7,472.2L487.3,470.1Z" fill="#43236e" stroke="#43236e" stroke-width="0.3"/>
<path d="M552.4,602.6L552.3,602.5L548.1,598.7L544.7,594.0L540.1,590.7L534.8,593.1L530.6,595.7L531.3,604.7L531.3,604.7L531.3,604.8L531.3,604.9L531.3,605.0L531.3,605.0L531.3,605.1L531.2,605.2L531.2,605.3L531.2,605.3L531.2,605.4L531.1,605.5L531.1,605.5L531.1,605.6L531.0,605.7L531.0,605.7L530.9,605.8L530.9,605.8L530.8,605.9L530.8,605.9L530.7,606.0L530.7,606.0L530.6,606.1L530.6,606.1L530.5,606.2L530.4,606.2L530.3,606.2L530.3,606.2L530.2,606.3L530.2,606.3L530.1,606.3L530.0,606.3L529.9,606.3L529.9,606.3L529.8,606.3L529.7,606.3L529.6,606.3L529.6,606.3L529.5,606.3L529.4,606.3L529.3,606.3L529.3,606.2L529.2,606.2L529.2,606.2L529.1,606.1L529.0,606.1L528.9,606.1L528.9,606.0L528.8,606.0L528.8,606.0L524.1,602.0L518.5,597.2L502.4,591.3L502.3,591.3L502.2,591.2L502.2,591.2L502.1,591.2L502.1,591.1L502.0,591.1L501.9,591.1L501.9,591.0L501.8,591.0L501.8,590.9L501.7,590.8L501.7,590.8L501.6,590.7L501.6,590.6L501.6,590.6L501.5,590.5L501.5,590.5L501.5,590.4L501.4,590.3L497.0,576.9L497.0,576.9L496.9,576.8L496.9,576.7L496.9,576.6L496.9,576.6L496.9,576.4L496.9,576.4L496.9,575.5L485.5,575.5L486.4,579.7L487.2,585.2L487.1,590.8L478.9,592.3L475.5,596.8L471.9,601.1L466.7,603.9L463.5,608.5L458.1,605.6L452.7,602.7L447.0,600.6L441.6,604.1L436.1,607.2L431.0,611.1L433.6,615.8L435.1,620.9L437.4,625.8L439.1,630.9L445.0,629.8L450.8,630.3L456.7,630.4L457.9,636.0L460.2,641.3L460.7,647.0L462.0,652.6L468.2,653.5L474.5,651.9L480.6,652.4L486.8,653.2L490.1,649.9L496.7,650.5L503.3,651.6L509.2,652.1L507.4,641.0L507.4,640.9L507.4,640.8L507.4,640.8L507.4,640.7L507.4,640.6L507.4,640.5L507.4,640.5L507.4,640.4L507.4,640.4L507.4,640.3L507.4,640.2L507.5,640.1L507.5,640.1L507.5,640.0L507.6,640.0L507.6,639.9L507.6,639.8L507.7,639.8L507.7,639.7L507.8,639.6L507.8,639.6L507.9,639.5L507.9,639.5L508.0,639.5L508.1,639.4L508.1,639.4L508.2,639.4L508.3,639.3L508.3,639.3L508.4,639.3L508.5,639.3L508.6,639.2L508.6,639.2L525.0,636.2L525.1,636.2L525.2,636.2L525.2,636.2L525.3,636.2L525.4,636.2L525.5,636.2L525.5,636.2L525.6,636.3L525.6,636.3L538.1,639.0L537.3,635.0L537.3,635.0L537.3,634.9L537.3,634.9L537.3,634.8L537.3,634.7L537.3,634.6L537.3,634.6L537.3,634.5L537.3,634.4L537.3,634.3L537.3,634.3L537.4,634.2L537.4,634.1L537.4,634.1L537.4,634.0L537.5,633.9L537.5,633.9L537.6,633.8L537.6,633.8L537.7,633.7L537.7,633.7L537.8,633.6L537.8,633.6L537.9,633.5L537.9,633.5L538.0,633.4L538.0,633.4L538.1,633.4L538.2,633.3L538.3,633.3L538.3,633.3L537.5,632.6L537.5,632.6L537.5,632.6L536.4,631.1L536.4,631.1L536.3,631.0L535.6,629.4L535.6,629.3L535.6,629.3L535.2,627.5L535.2,627.4L535.2,627.4L535.2,625.6L535.2,625.5L535.2,625.5L535.6,623.7L535.6,623.7L535.6,623.6L536.3,621.8L536.4,621.8L536.4,621.7L537.5,619.9L537.5,619.9L538.9,617.9L538.9,617.9L540.7,615.8L540.8,615.7L542.9,613.4L542.9,613.4L545.5,610.9L547.8,608.4L549.9,605.9L551.9,603.4ZM463.0,629.9L463.0,629.9L462.9,629.8L462.9,629.8L462.8,629.7L462.8,629.7L462.8,629.6L462.7,629.5L462.7,629.5L462.7,629.4L462.6,629.3L462.6,629.3L462.6,629.2L462.6,629.2L462.5,629.1L462.5,629.0L461.6,624.3L459.5,614.1L459.5,614.1L459.5,614.0L459.5,613.9L459.5,613.8L459.5,613.8L459.5,613.7L459.5,613.6L459.5,613.5L459.5,613.5L459.6,613.4L459.6,613.3L459.6,613.2L459.6,613.2L459.7,613.1L459.7,613.1L459.7,613.0L459.8,612.9L459.8,612.9L459.9,612.8L459.9,612.7L460.0,612.7L460.0,612.6L460.1,612.6L460.2,612.6L460.2,612.5L460.3,612.5L460.3,612.5L460.4,612.4L460.4,612.4L467.8,609.5L493.1,594.6L493.2,594.6L493.2,594.5L493.3,594.5L493.4,594.4L493.4,594.4L493.5,594.4L493.6,594.4L493.7,594.4L493.7,594.4L493.8,594.4L493.9,594.4L494.0,594.4L494.0,594.4L494.1,594.4L494.2,594.4L494.3,594.4L494.3,594.4L494.4,594.4L494.4,594.5L494.5,594.5L494.6,594.5L494.7,594.6L494.7,594.6L494.8,594.7L494.8,594.7L494.9,594.7L494.9,594.8L495.0,594.9L495.0,594.9L495.1,595.0L495.1,595.0L502.6,605.5L502.6,605.5L502.7,605.5L502.7,605.6L502.7,605.7L502.7,605.7L502.8,605.8L502.8,605.8L502.8,605.9L502.8,606.0L502.9,606.1L502.9,606.1L502.9,606.2L502.9,606.3L502.9,606.4L502.9,606.4L502.9,606.5L502.9,606.5L502.8,606.6L502.8,606.7L502.8,606.8L502.8,606.8L499.8,615.8L499.8,615.8L499.8,615.9L499.7,615.9L499.7,616.0L499.7,616.0L499.6,616.1L499.6,616.2L499.6,616.2L499.5,616.3L499.5,616.3L499.4,616.4L499.4,616.4L499.3,616.5L499.3,616.5L499.2,616.5L499.1,616.6L499.1,616.6L486.8,623.4L490.8,632.6L490.8,632.7L490.8,632.8L490.9,632.8L490.9,632.9L490.9,633.0L490.9,633.1L490.9,633.1L490.9,633.2L490.9,633.2L490.9,633.3L490.9,633.4L490.9,633.5L490.9,633.5L490.9,633.6L490.8,633.7L490.8,633.8L490.8,633.8L490.8,633.9L490.7,634.0L490.7,634.0L490.6,634.1L490.6,634.2L490.6,634.2L490.5,634.3L490.5,634.3L490.4,634.4L490.3,634.4L490.3,634.5L490.2,634.5L490.1,634.5L490.1,634.6L490.0,634.6L490.0,634.6L489.9,634.7L489.8,634.7L474.9,639.2L474.9,639.2L474.8,639.2L474.7,639.2L474.6,639.2L474.6,639.2L474.5,639.2L474.4,639.2L474.3,639.2L474.3,639.2L474.2,639.2L474.1,639.2L474.0,639.2L474.0,639.1L473.9,639.1L473.8,639.1L473.8,639.0L473.7,639.0L473.6,639.0L473.6,638.9L473.5,638.9L473.5,638.9ZM494.0,696.5L496.6,702.1L499.2,707.6L504.8,705.9L510.4,704.5L516.0,702.8L521.1,699.6L526.8,698.4L525.8,691.0L522.4,686.5L517.7,683.1L514.6,678.3L507.7,679.4L501.1,681.7L498.3,686.4L496.0,691.4ZM333.4,650.0L328.9,652.3L324.0,653.8L319.4,656.0L314.7,658.1L313.3,663.5L313.4,669.0L316.4,673.2L320.2,676.5L324.7,679.2L328.0,683.1L333.7,682.0L338.6,679.0L344.0,677.2L342.6,671.7L343.1,666.0L341.4,660.6L341.0,655.0ZM289.9,441.9L289.5,436.7L288.2,431.7L287.7,426.6L286.3,426.4L287.2,437.3L287.2,437.4L287.2,437.5L287.2,437.5L287.2,437.6L287.2,437.7L287.2,437.8L287.1,437.8L287.1,437.9L287.1,438.0L287.1,438.1L287.0,438.1L287.0,438.2L287.0,438.2L286.9,438.3L286.9,438.4L286.8,438.4L286.8,438.5L286.7,438.5L286.7,438.6L286.6,438.6L286.6,438.7L286.5,438.7L286.4,438.8L286.4,438.8L286.3,438.8L286.2,438.9L286.2,438.9L274.1,443.3L290.6,448.0L290.6,448.0L290.7,448.0L290.7,448.0L290.8,448.1L290.9,448.1L291.0,448.2L291.0,448.2L291.1,448.2L291.1,448.3L291.2,448.3L291.2,448.4L291.3,448.4L291.3,448.5L291.4,448.5L291.4,448.6L291.5,448.7L291.5,448.7L291.5,448.8L291.5,448.8L291.6,448.9L291.6,449.0L291.6,449.1L291.6,449.1L291.7,449.2L291.7,449.3L291.7,449.4L291.7,449.4L291.7,449.5L291.7,449.6L291.6,449.7L291.6,449.7L291.6,449.8L291.6,449.8L287.1,466.3L287.1,466.3L287.1,466.4L287.1,466.4L287.0,466.5L287.0,466.5L287.0,466.6L287.0,466.7L286.9,466.7L286.9,466.8L286.8,466.9L286.8,466.9L286.7,467.0L286.7,467.0L286.6,467.0L286.6,467.1L273.3,477.4L267.5,486.1L267.5,486.2L267.4,486.2L267.4,486.3L267.3,486.3L267.3,486.4L267.2,486.4L267.2,486.5L267.1,486.5L267.1,486.6L267.0,486.6L266.9,486.6L266.9,486.7L266.8,486.7L266.7,486.7L266.7,486.7L267.2,487.6L268.4,488.9L281.3,494.4L288.7,487.1L288.7,487.0L288.7,487.0L288.8,487.0L288.8,486.9L288.9,486.9L289.0,486.8L289.0,486.8L289.1,486.8L289.1,486.7L289.2,486.7L289.2,486.7L295.0,484.8L292.4,483.4L292.6,477.5L291.9,471.6L296.1,469.0L293.2,455.7L293.2,455.7L293.2,455.6L293.2,455.6L293.2,455.5L293.2,455.4L293.2,455.3L293.2,455.3L293.2,455.2L293.2,455.1L293.2,455.1L293.2,455.0L293.2,454.9L293.3,454.9L293.3,454.8L293.3,454.7L293.4,454.7L293.4,454.6L293.4,454.5L293.5,454.5L293.5,454.4L293.5,454.4L293.6,454.3L293.7,454.3L293.7,454.2L293.8,454.2L293.8,454.1L293.9,454.1L294.0,454.1L294.0,454.1L303.2,449.4L303.1,448.6L296.8,444.5ZM34.6,561.7L31.5,561.4L31.5,571.3L31.9,571.7L31.7,571.4L31.7,571.4L31.7,571.3L31.6,571.2L31.6,571.2L31.6,571.1L31.6,571.0L31.6,571.0L31.5,570.9L31.5,570.8L31.5,570.7L31.5,570.7L31.5,570.6L31.5,570.6L31.5,570.5L31.5,570.4L31.6,570.3L31.6,570.3L31.6,570.2L31.6,570.2ZM258.1,736.4L259.5,737.1L264.4,739.1L268.3,743.0L273.4,744.5L276.6,739.3L277.4,738.4L263.5,736.4ZM575.2,491.4L575.2,491.4L575.1,491.4L575.1,491.5L575.0,491.6L575.0,491.6L574.9,491.7L574.9,491.7L573.0,493.6L588.0,495.7L585.4,493.1ZM426.6,472.9L433.9,478.7L433.7,476.9L428.3,470.9ZM370.3,490.1L370.0,485.8L367.6,482.4L368.3,484.4ZM283.1,539.0L283.1,539.0L283.0,539.1L283.0,539.1L281.5,542.1L286.2,545.8L284.3,541.1ZM459.6,78.4L455.1,99.3L467.1,106.8L476.1,105.3L485.0,106.8L495.5,109.8L491.0,94.9L494.0,79.9L497.0,65.0L492.5,53.0L464.1,53.0L467.1,70.9ZM475.3,457.8L475.2,462.2L478.1,463.0L479.2,462.6L478.6,457.3Z" fill="#43347b" stroke="#43347b" stroke-width="0.3"/>
<path d="M474.8,721.6L474.0,727.2L475.9,732.7L475.8,733.4L490.9,733.4L490.9,733.4L491.0,733.4L491.1,733.4L491.2,733.4L491.3,733.5L491.4,733.5L491.4,733.5L491.5,733.5L491.5,733.5L508.0,741.0L508.0,741.0L508.1,741.1L508.1,741.1L508.2,741.0L508.2,741.0L508.3,741.0L508.3,741.0L541.2,729.0L541.3,729.0L541.3,729.0L541.4,729.0L541.5,728.9L541.5,728.9L541.6,728.9L541.7,728.9L541.8,728.9L541.8,728.9L541.9,728.9L542.0,728.9L542.1,729.0L542.1,729.0L542.2,729.0L542.2,729.0L542.3,729.0L542.4,729.1L542.5,729.1L542.5,729.1L542.6,729.2L542.6,729.2L542.7,729.3L542.7,729.3L542.8,729.4L542.8,729.4L542.9,729.5L542.9,729.5L543.0,729.6L543.0,729.6L543.1,729.7L543.1,729.8L543.1,729.8L543.1,729.9L543.2,730.0L543.2,730.0L543.2,730.1L543.2,730.2L543.2,730.3L543.2,730.3L543.2,730.4L543.2,730.4L543.2,736.6L546.2,738.1L551.3,741.7L552.4,749.3L548.9,753.8L545.4,758.4L544.9,759.5L565.9,759.5L565.6,758.8L564.6,756.1L563.0,752.1L560.9,746.7L560.9,746.7L559.1,741.7L559.1,741.7L557.6,737.2L557.6,737.2L556.4,733.1L556.4,733.1L555.6,729.5L555.6,729.5L555.1,725.7L555.1,725.6L554.9,721.7L554.9,721.6L555.1,717.5L555.1,717.5L555.6,713.1L555.6,713.1L556.4,709.1L556.4,709.1L557.5,705.5L557.6,705.4L558.3,703.8L559.0,702.2L559.1,702.1L560.9,699.2L560.9,699.2L563.0,696.7L563.0,696.6L565.4,694.5L565.4,694.4L567.5,693.0L563.6,694.3L555.0,707.3L554.9,707.4L554.9,707.4L554.9,707.5L554.8,707.5L554.8,707.6L554.7,707.6L554.6,707.7L554.6,707.7L554.5,707.8L554.4,707.8L554.4,707.8L554.3,707.9L554.3,707.9L554.2,707.9L554.1,707.9L554.0,708.0L554.0,708.0L553.9,708.0L553.8,708.0L553.7,708.0L553.7,708.0L553.6,708.0L553.5,708.0L553.4,708.0L553.4,708.0L553.3,707.9L553.3,707.9L553.2,707.9L553.1,707.9L553.0,707.8L553.0,707.8L543.6,702.8L538.4,704.1L532.4,705.2L532.7,711.3L530.4,717.2L530.2,723.2L529.9,729.3L524.3,732.2L518.3,733.9L512.1,735.3L509.3,731.2L506.8,726.8L503.3,723.1L500.0,719.2L497.7,714.7L491.9,716.2L486.2,718.1L480.8,720.6ZM313.0,619.5L309.5,623.5L307.0,628.2L304.4,632.9L300.5,636.7L300.1,637.5L306.4,642.5L306.5,642.5L306.5,642.6L306.6,642.7L306.6,642.7L306.7,642.8L306.7,642.9L306.8,642.9L306.8,643.0L306.8,643.0L306.9,643.1L306.9,643.2L306.9,643.3L307.0,643.3L307.0,643.4L307.0,643.4L308.7,653.1L311.0,654.2L314.7,658.1L319.4,656.0L324.0,653.8L328.9,652.3L333.4,650.0L334.1,644.6L332.3,639.3L332.4,634.0L333.1,629.3L328.8,627.1L328.7,627.1L328.6,627.0L328.6,627.0L328.5,627.0L328.5,626.9L328.4,626.9L328.4,626.8L328.3,626.8L328.3,626.7L328.2,626.6L328.2,626.6L328.1,626.5L328.1,626.5L328.1,626.4L328.0,626.3L328.0,626.2L328.0,626.2L328.0,626.1L328.0,626.0L327.9,626.0L327.9,625.9L327.9,625.8L327.9,625.8L327.9,625.7L327.9,625.6L327.9,625.5L328.0,625.5L328.0,625.4L328.0,625.3L328.0,625.2L328.0,625.2L328.1,625.1L328.1,625.0L328.2,624.9L328.2,624.9L339.3,608.2L332.2,603.5L330.9,604.1L330.8,604.1L330.8,604.1L330.7,604.2L330.7,604.2L330.6,604.2L330.6,604.3L330.5,604.3L328.6,608.7L328.6,614.4L327.2,619.8L320.1,618.8ZM200.7,480.7L203.3,485.0L205.8,487.5L205.8,487.5L205.8,487.5L205.9,487.4L205.9,487.4L205.9,487.3L206.0,487.2L206.0,487.1L206.1,487.1L206.1,487.0L206.2,487.0L206.2,486.9L206.3,486.9L214.3,480.9L214.3,480.9L214.4,480.8L214.5,480.8L214.6,480.7L214.6,480.7L207.2,474.1L207.2,474.1L207.1,474.1L207.1,474.0L207.0,473.9L207.0,473.9L206.9,473.8L206.9,473.8L206.8,473.7L206.8,473.6L206.8,473.6L206.8,473.5L206.7,473.4L206.7,473.4L206.7,473.3L206.7,473.2L206.7,473.1L206.7,473.1L206.7,473.0L206.7,472.9L206.7,472.8L206.7,472.8L206.7,472.7L206.7,472.6L206.8,472.5L206.8,472.5L206.8,472.4L206.8,472.3L206.9,472.3L206.9,472.2L207.0,472.1L207.0,472.1L207.1,472.0L207.1,472.0L207.2,471.9L207.2,471.9L207.3,471.8L207.3,471.8L207.4,471.7L207.5,471.7L207.5,471.7L207.6,471.6L207.7,471.6L207.7,471.6L209.6,471.0L208.8,470.3L207.7,471.0L202.4,472.7ZM332.0,419.9L330.6,420.7L326.0,424.6L327.6,429.9L327.9,431.1L328.0,431.1L328.0,431.1L328.1,431.1L328.2,431.2L328.2,431.2L328.3,431.2L328.3,431.2L328.7,431.4L327.6,426.0L327.6,426.0L327.6,425.9L327.6,425.8L327.6,425.7L327.6,425.7L327.6,425.6L327.6,425.6L327.6,425.5L327.6,425.4L327.6,425.3L327.7,425.3L327.7,425.2L327.7,425.1L327.7,425.0L327.8,425.0L327.8,424.9L327.8,424.9L327.9,424.8L327.9,424.8L328.0,424.7L328.0,424.7L328.1,424.6L328.1,424.6L328.2,424.5L328.2,424.5L328.3,424.4L328.3,424.4L333.4,421.5L333.7,421.2L333.7,421.2L333.6,421.2L333.6,421.2L333.5,421.1L333.4,421.1L333.3,421.1L333.3,421.1L333.2,421.1L333.1,421.1L333.0,421.0L333.0,421.0L332.9,421.0L332.8,420.9L332.8,420.9L332.7,420.9L332.6,420.8L332.6,420.8L332.5,420.7L332.5,420.7L332.4,420.6L332.4,420.6ZM478.9,592.3L477.2,590.5L472.4,594.1L472.4,594.1L472.3,594.1L472.2,594.2L472.1,594.2L472.1,594.2L472.0,594.3L472.0,594.3L471.9,594.3L471.8,594.3L471.7,594.3L471.7,594.4L471.6,594.4L471.5,594.4L471.4,594.4L471.4,594.4L471.3,594.4L471.2,594.3L471.2,594.3L471.1,594.3L471.0,594.3L471.0,594.3L470.9,594.2L470.8,594.2L470.7,594.2L470.7,594.2L470.6,594.1L470.6,594.1L460.9,587.1L449.7,592.7L449.7,592.7L449.6,592.8L449.6,592.8L435.1,598.6L427.9,610.1L427.9,610.1L427.8,610.2L427.8,610.2L431.0,611.1L436.1,607.2L441.6,604.1L447.0,600.6L452.7,602.7L458.1,605.6L463.5,608.5L466.7,603.9L471.9,601.1L475.5,596.8ZM101.9,393.3L104.5,395.0L109.7,396.4L113.8,391.5L117.7,386.7L121.0,381.2L126.6,382.6L132.3,383.6L137.9,384.9L140.8,385.7L140.7,385.6L140.7,385.6L140.7,385.5L140.7,385.4L140.7,385.3L140.6,385.3L140.6,385.2L140.6,385.1L140.6,355.2L140.6,355.2L140.6,355.1L140.7,355.1L140.7,355.0L140.7,354.9L140.7,354.8L140.7,354.8L140.8,354.7L140.8,354.6L140.8,354.5L140.8,354.5L140.9,354.4L140.9,354.4L141.0,354.3L141.0,354.2L141.1,354.2L141.1,354.1L141.2,354.1L141.2,354.0L141.3,354.0L141.4,353.9L141.4,353.9L141.5,353.9L141.6,353.8L141.6,353.8L141.7,353.8L141.7,353.8L154.0,350.4L153.1,350.3L147.9,348.9L145.7,346.4L140.4,345.6L135.2,346.3L129.9,346.6L124.7,346.5L121.1,350.7L117.0,354.4L113.5,358.8L114.4,364.7L116.8,369.6L118.7,370.3L118.7,370.3L118.8,370.3L118.9,370.3L118.9,370.4L119.0,370.4L119.1,370.4L119.1,370.5L119.2,370.5L119.2,370.6L119.3,370.6L119.3,370.7L119.4,370.7L119.4,370.8L119.5,370.9L119.5,370.9L119.5,371.0L119.6,371.0L119.6,371.1L119.6,371.2L119.7,371.3L119.7,371.3L119.7,371.4L119.7,371.4L119.7,371.5L119.7,371.6L119.7,371.7L119.7,371.7L119.7,371.8L119.7,371.9L119.7,372.0L119.7,372.0L119.6,372.1L119.6,372.1L115.2,385.6L115.1,385.6L115.1,385.7L115.1,385.8L115.1,385.8L115.0,385.9L115.0,386.0L115.0,386.0L114.9,386.1L114.9,386.1L114.8,386.2L114.8,386.2L114.7,386.3L114.7,386.3L114.6,386.4L114.6,386.4L114.5,386.4L114.5,386.4ZM283.5,305.7L286.7,305.3L282.0,303.8ZM418.8,453.5L418.8,453.6L418.8,453.6L424.5,455.2L424.5,449.7ZM281.7,697.9L284.3,696.9L281.6,697.5ZM301.3,692.9L292.4,695.0L302.5,697.5ZM543.8,201.4L543.9,201.1L542.5,202.4L542.4,203.3L543.9,201.8L548.8,200.7ZM358.0,364.7L372.8,365.5L366.2,364.2L358.6,363.6L358.6,362.1ZM352.6,363.6L348.0,369.7L352.6,364.4L353.2,364.4ZM538.7,207.0L537.9,207.0L536.3,208.6L530.2,207.9L536.3,209.4ZM571.1,393.9L569.6,389.3L568.1,392.4ZM118.6,506.2L110.5,510.3L116.6,514.3ZM402.8,91.9L410.3,106.8L419.2,120.3L429.7,129.2L443.2,117.3L444.7,103.8L455.1,97.8L459.6,78.4L467.1,70.9L464.1,53.0L413.3,53.0L407.3,75.4ZM533.5,195.0L523.9,178.6L507.5,178.6L505.2,180.6L506.0,180.1L495.5,189.1L492.5,193.5L495.2,195.0ZM542.4,203.3L542.5,202.4L537.9,207.0L538.7,207.0ZM546.3,162.1L543.3,169.6L546.3,181.6L562.8,189.1L564.3,181.6L571.4,178.4L578.2,172.8L579.5,174.2L585.0,169.8L585.0,169.4L584.3,168.3L582.9,166.2L580.7,163.0L577.9,158.7L575.2,154.4L572.8,150.3L572.2,149.1L565.8,142.7L555.3,148.7L556.8,154.7ZM550.7,586.9L550.8,586.7L550.8,586.4L551.2,585.2L552.3,583.7L553.1,582.7L557.2,575.3L556.8,573.3L555.7,571.2L553.8,569.1L552.1,567.1L550.7,565.3L549.4,563.6L548.3,562.2L547.5,561.1L547.0,560.4L546.7,560.0L546.5,557.4L546.6,558.2L546.4,560.1L545.0,560.1L545.0,574.0L518.4,574.0L517.8,574.9L528.3,583.9ZM421.2,237.4L422.7,246.5L433.3,245.7L437.9,251.8L451.5,247.2L459.1,249.5L462.3,245.6L462.1,245.7L459.1,240.4L458.3,234.4L448.5,233.6L443.9,229.8L440.9,217.7L434.8,209.4L421.2,207.9L422.7,216.2ZM549.9,288.9L549.2,299.5L549.2,300.0L551.4,300.0L568.3,300.0L570.5,304.4L565.4,294.2L565.6,291.8L564.3,287.4L566.6,281.3L566.5,281.2L560.3,276.4L560.5,275.3L560.5,275.3L552.9,276.8L542.3,281.3L546.9,282.8ZM532.0,471.7L535.2,471.3L533.6,470.9ZM557.6,486.6L565.7,487.6L563.7,481.5L551.5,475.4L545.0,473.7L545.0,491.5L547.4,487.6ZM360.9,393.9L363.9,393.9L366.9,393.9L370.0,400.7L376.8,399.2L382.1,395.4L382.1,386.3L388.9,380.3L391.2,372.7L392.7,366.7L380.6,365.9L352.6,364.4L348.0,369.7L342.7,381.8L344.2,386.2L354.8,390.9ZM334.4,385.6L342.7,381.8L348.0,369.7L352.6,363.6L344.2,353.8L326.1,367.4L329.1,380.3ZM515.3,542.8L521.4,540.6L532.0,550.4L536.5,544.3L527.5,529.2L529.0,521.6L521.4,517.1L505.5,517.8L507.8,526.2ZM532.0,492.9L545.0,503.5L545.0,470.1L532.0,471.7L519.9,489.1L518.4,492.1ZM465.0,463.8L466.3,463.3L465.5,460.7L462.2,459.6L461.7,461.4ZM480.1,477.7L479.9,476.7L476.2,474.2L475.1,474.4L473.8,475.7L473.0,478.3L474.1,479.5L477.1,481.3L475.0,485.1L475.1,485.8L476.6,487.8L478.4,488.1L480.6,486.6L479.4,483.0L477.3,481.3ZM485.3,462.7L482.5,461.8L480.6,462.7L481.9,466.4L483.4,467.4L485.4,467.0ZM457.1,459.5L459.5,458.4L459.2,454.8L457.4,453.3L456.7,453.4L455.2,456.4L455.1,458.3Z" fill="#432c75" stroke="#432c75" stroke-width="0.3"/>
<path d="M474.8,721.6L480.8,720.6L486.2,718.1L491.9,716.2L497.7,714.7L499.2,707.6L496.6,702.1L494.0,696.5L489.2,695.0L484.1,694.9L479.3,693.2L474.3,693.0L471.0,697.0L467.3,700.6L464.9,705.4L461.0,708.8L466.0,712.6L470.2,717.3ZM275.4,712.2L268.9,711.1L262.5,709.4L255.9,708.6L255.2,713.8L254.9,719.0L255.4,724.3L255.6,728.3L278.3,716.9ZM487.4,476.0L486.6,475.5L481.0,478.0L480.1,477.7L477.3,481.3L479.4,483.0L483.6,483.0L481.1,478.1L486.8,479.8L487.6,477.3Z" fill="#43226d" stroke="#43226d" stroke-width="0.3"/>
<path d="M250.6,449.2L252.3,448.1L255.7,444.1L255.9,443.9L249.7,443.4L249.7,443.4L249.6,443.4L249.5,443.4L249.4,443.4L249.4,443.4L244.0,441.8ZM221.9,688.6L225.5,692.3L229.8,695.3L233.6,698.8L240.0,698.7L246.2,697.5L250.5,703.5L255.9,708.6L262.5,709.4L268.9,711.1L275.4,712.2L279.1,707.6L280.3,706.9L277.2,699.6L277.2,699.6L277.2,699.5L277.2,699.5L277.1,699.4L277.1,699.3L277.1,699.2L277.1,699.2L277.1,699.1L277.1,699.0L277.1,698.9L277.1,698.9L277.1,698.8L277.1,698.7L277.1,698.6L277.2,698.6L277.2,698.5L277.2,698.4L277.3,698.3L277.3,698.3L277.3,698.2L277.4,698.2L277.4,698.1L277.5,698.0L277.5,698.0L277.6,697.9L277.6,697.9L277.7,697.8L277.8,697.8L277.8,697.7L277.9,697.7L277.9,697.7L278.0,697.6L278.1,697.6L279.8,697.0L275.7,683.2L268.3,671.4L268.3,671.4L268.3,671.3L268.3,671.3L268.2,671.2L268.2,671.1L268.2,671.0L268.2,671.0L268.1,670.9L268.1,670.8L268.1,670.7L268.1,670.7L268.1,670.6L268.1,670.5L268.1,670.5L268.1,670.4L268.2,670.3L268.2,670.3L268.2,670.2L268.2,670.1L268.2,670.0L268.3,670.0L268.3,669.9L268.3,669.9L268.4,669.8L268.4,669.7L268.5,669.7L268.5,669.6L268.6,669.5L268.6,669.5L268.7,669.4L268.7,669.4L271.8,667.0L267.4,664.4L267.3,664.4L267.2,664.3L267.2,664.3L254.1,654.1L239.6,652.7L239.5,652.7L239.4,652.7L239.4,652.6L239.3,652.6L239.2,652.6L239.1,652.6L239.1,652.5L239.0,652.5L239.0,652.5L238.9,652.4L238.8,652.4L230.1,646.1L229.3,646.1L224.2,648.5L220.2,652.5L221.3,657.6L220.8,662.8L221.5,667.9L220.2,673.1L220.5,678.3L221.5,683.4ZM522.4,148.7L528.2,145.7L534.8,142.3L537.4,136.8L539.7,131.3L537.5,126.1L535.9,120.8L534.8,115.3L529.6,113.7L525.1,110.6L520.2,108.4L515.5,105.6L510.4,107.8L508.9,108.3L519.4,108.3L519.4,108.3L519.5,108.3L519.6,108.3L519.7,108.3L519.7,108.3L519.8,108.4L519.9,108.4L520.0,108.4L520.0,108.4L520.1,108.5L520.2,108.5L520.2,108.6L520.3,108.6L520.4,108.6L520.4,108.7L520.5,108.7L520.5,108.8L520.6,108.9L520.6,108.9L520.7,109.0L520.7,109.0L520.7,109.1L520.8,109.1L520.8,109.2L520.8,109.3L520.8,109.4L520.9,109.4L523.8,119.9L523.9,119.9L523.9,120.0L523.9,120.0L523.9,120.1L523.9,120.2L523.9,120.3L523.9,120.3L523.9,120.4L523.9,120.4L523.9,120.5L523.9,120.6L523.9,120.7L523.8,120.7L523.8,120.8L523.8,120.8L523.8,120.9L523.7,120.9L519.5,129.5L522.4,148.5L522.4,148.5L522.4,148.6L522.4,148.6ZM84.3,342.2L78.0,342.1L71.8,342.4L65.6,343.1L60.3,348.0L56.2,353.9L60.3,358.1L65.8,360.6L69.8,364.9L75.8,364.1L81.7,363.7L87.6,364.2L91.9,358.7L89.0,353.3L86.0,348.0ZM161.7,275.2L162.4,278.6L178.5,273.2L178.5,271.3L178.5,271.3L178.5,271.2L178.5,271.1L178.5,271.0L178.5,271.0L178.6,270.9L178.6,270.8L178.6,270.8L178.6,270.7L178.7,270.6L178.7,270.6L178.7,270.5L178.8,270.5L177.9,270.7L171.2,272.6L163.8,274.6ZM277.4,738.4L276.6,739.3L273.4,744.5L274.8,751.7L279.6,754.3L284.3,757.1L287.4,759.5L298.5,759.5L298.7,759.4L303.9,757.5L309.5,756.4L314.1,753.3L316.7,746.5L312.4,743.5L309.8,738.6L305.5,735.5L301.9,731.8L297.7,728.6L296.1,728.5L296.5,733.3L296.5,733.3L296.5,733.4L296.5,733.4L296.5,733.5L296.5,733.6L296.5,733.7L296.5,733.7L296.5,733.8L296.5,733.9L296.4,734.0L296.4,734.0L296.4,734.1L296.4,734.1L296.3,734.2L296.3,734.3L296.2,734.3L296.2,734.4L296.1,734.4L296.1,734.5L296.0,734.6L296.0,734.6L295.9,734.6L295.9,734.7L295.8,734.7L295.7,734.7L295.6,734.8L295.6,734.8L285.2,739.3L285.1,739.3L285.1,739.3L285.0,739.3L284.9,739.4L284.9,739.4L284.8,739.4L284.7,739.4L284.7,739.4L284.6,739.4L284.5,739.4L284.5,739.4L284.4,739.4L284.4,739.4ZM382.2,64.5L382.5,65.4L383.6,70.5L389.3,70.7L394.8,72.5L400.5,72.4L402.6,67.2L404.0,61.6L406.0,56.3L408.9,51.9L386.7,51.9ZM556.1,392.4L560.6,391.8L557.1,390.8L546.5,388.9L546.5,389.7ZM490.8,139.0L490.8,139.0L490.9,139.1L490.9,139.1L490.9,139.2L490.9,139.2L492.8,144.3L492.5,140.4L490.4,138.2ZM416.1,455.2L416.8,454.5L416.8,454.5L416.7,454.5L416.6,454.4L416.6,454.4L416.5,454.4L416.4,454.4L416.3,454.4L416.3,454.3L416.2,454.3L416.2,454.3L416.1,454.2L416.0,454.2L416.0,454.1L415.9,454.1L415.8,454.0L415.8,454.0L415.7,453.9L415.7,453.9L415.7,453.8L415.6,453.8L413.7,450.6L412.3,453.4L413.4,453.1L413.4,453.1L413.5,453.0L413.6,453.0L413.7,453.0L413.7,453.0L413.8,453.0L413.9,453.0L414.0,453.0L414.0,453.0L414.1,453.0L414.2,453.0L414.3,453.0L414.3,453.0L414.4,453.1L414.5,453.1L414.6,453.1L414.6,453.2L414.7,453.2L414.7,453.2L414.8,453.3L414.8,453.3L414.9,453.4L415.0,453.4L415.0,453.5L415.1,453.5L415.1,453.6L415.1,453.7ZM388.6,543.6L386.1,542.2L385.7,544.2ZM328.4,381.7L327.8,384.1L330.1,384.8L331.4,384.7ZM407.7,590.6L407.2,589.9L406.9,590.8ZM261.2,236.6L257.8,235.4L266.7,245.9L267.3,245.0L262.2,235.4ZM320.0,363.6L320.1,365.7L326.7,370.1L326.1,367.4ZM213.6,438.3L214.9,443.2L215.4,439.0ZM371.3,709.5L372.6,709.4L371.6,709.0ZM494.0,154.7L495.5,162.1L499.2,165.9L495.5,160.6L494.0,139.7L485.0,130.7L488.0,117.3L483.5,129.2L489.5,139.7L494.0,151.7L474.6,153.2ZM243.4,470.9L243.4,473.2L252.8,465.9ZM275.6,550.5L268.7,552.8L268.5,553.3ZM535.2,471.3L542.5,470.4L540.3,469.2L536.2,469.7L533.6,470.9ZM562.7,693.0L571.7,690.1L581.4,683.1L581.5,682.9L582.5,681.2L584.8,672.0L584.6,669.4L580.6,660.2L571.7,654.2L559.7,666.1L556.7,682.6ZM50.1,514.3L55.2,522.3L66.2,520.3L79.3,530.4L88.4,520.3L104.5,518.3L110.5,510.3L100.5,490.1L94.4,492.1L82.7,470.0L79.3,459.5L60.0,461.3L36.0,443.4L33.0,441.8L33.0,502.2L44.1,504.2ZM145.6,587.2L150.5,587.2L150.6,587.8L150.8,587.8L153.8,595.8L153.6,596.1L153.9,596.4L149.8,602.2L154.6,608.7L160.9,606.9L169.2,606.9L171.1,606.6L175.0,598.9L191.1,590.8L198.1,579.7L191.1,570.7L179.0,564.6L168.9,562.6L154.8,566.6L142.7,574.7L141.7,586.8ZM440.9,269.2L440.9,276.8L446.2,281.3L451.5,281.3L450.0,275.3L456.0,273.7L456.0,266.9L463.6,266.9L465.1,270.0L474.2,268.4L481.8,265.4L487.1,261.6L480.3,255.6L481.8,252.5L478.7,247.2L471.2,246.5L462.8,245.0L459.1,249.5L451.5,247.2L437.8,252.0L435.6,260.1ZM409.1,260.1L413.6,269.2L422.7,278.3L431.8,282.8L437.9,281.3L440.9,276.8L440.9,269.2L435.6,260.1L437.9,251.8L433.3,245.7L422.7,246.5L416.7,248.0L410.6,242.7L404.5,245.0L405.3,255.6ZM404.5,245.0L410.6,242.7L416.7,248.0L422.7,246.5L421.2,237.4L422.7,216.2L421.2,207.9L410.6,203.3L400.0,207.1L400.0,234.4ZM407.6,299.5L416.7,291.9L422.7,278.3L413.6,269.2L409.1,260.1L405.3,255.6L400.0,260.1L400.0,294.9L400.5,294.9L404.9,298.1L404.6,298.9ZM582.0,419.3L573.9,400.0L552.5,400.0L550.4,412.2L553.5,420.4ZM566.7,523.2L575.9,525.3L577.3,526.1L578.2,526.3L580.2,527.9L581.0,528.3L582.7,529.8L587.5,533.4L595.3,533.4L603.6,532.7L611.2,536.5L619.7,539.3L619.7,522.2L617.3,520.6L616.8,520.4L616.8,520.3L616.6,520.2L616.6,505.9L612.6,501.8L605.4,491.6L592.2,497.8L569.8,494.7L569.8,499.8L564.7,510.0L569.8,516.1ZM385.1,539.8L392.7,544.3L398.7,541.3L404.8,545.9L412.4,545.9L409.3,539.8L408.6,533.7L409.3,526.2L401.8,527.7L394.2,524.7L391.9,518.6L386.6,524.7L385.1,530.7L380.6,538.3ZM386.6,526.2L392.7,523.1L393.4,527.7L388.1,529.2ZM487.2,468.0L490.0,466.1L490.5,464.5L487.9,461.8L485.3,462.7L485.4,467.0ZM459.7,466.3L460.7,466.9L465.0,463.8L461.7,461.4L459.5,465.2Z" fill="#423b7f" stroke="#423b7f" stroke-width="0.3"/>
<path d="M255.9,443.9L255.7,444.1L252.3,448.1L250.6,449.2L255.4,454.4L255.4,454.4L255.5,454.5L255.5,454.5L255.6,454.6L255.6,454.7L255.6,454.7L255.6,454.8L255.7,454.9L255.7,454.9L255.7,455.0L255.7,455.1L255.8,455.1L255.9,454.8L255.9,454.8L255.9,454.7L256.0,454.7L256.0,454.6L256.0,454.5L256.1,454.5L256.1,454.4L256.2,454.4L256.2,454.3L264.9,445.6L263.4,444.5ZM253.9,191.3L254.9,186.1L253.4,182.4L249.3,187.5L249.3,187.5L249.2,187.6L249.2,187.6L249.1,187.6L249.1,187.7L249.1,187.7L249.0,187.7L249.0,187.7L239.9,188.8L239.8,188.8L239.8,188.8L239.7,188.8L239.7,188.8L239.6,188.8L239.6,188.7L239.5,188.7L239.5,188.7L239.4,188.7L235.1,184.3L226.5,188.6L227.3,193.5L227.7,195.9L232.9,198.1L237.3,195.9L237.3,195.8L237.4,195.8L237.4,195.8L237.5,195.8L237.5,195.8L237.6,195.8L237.6,195.8L237.7,195.8L237.7,195.8L237.7,195.9L237.8,195.9L237.8,195.9L237.9,195.9L243.6,201.6L243.6,201.7L243.6,201.7L243.6,201.8L243.7,201.8L243.7,201.9L243.7,201.9L243.7,202.0L243.7,202.0L243.7,202.1L243.7,202.1L243.7,202.2L243.7,202.2L243.6,202.3L243.6,202.3L240.2,206.9L240.2,206.9L240.1,207.0L240.1,207.0L240.0,207.0L240.0,207.1L226.2,212.9L226.1,212.9L226.1,212.9L226.0,212.9L226.0,212.9L225.9,212.9L225.9,212.9L225.8,212.9L219.3,210.6L215.8,212.6L220.7,218.9L220.7,218.9L220.7,219.0L220.8,219.0L220.8,219.1L220.8,219.1L220.8,219.2L220.8,219.2L220.8,219.2L220.8,219.3L220.1,223.0L219.9,223.7L240.1,228.0L240.1,228.0L240.3,228.0L240.3,228.0L258.2,234.0L258.2,234.0L258.3,234.0L258.4,234.0L258.5,234.1L258.5,234.1L258.6,234.1L258.6,234.2L258.7,234.2L258.7,234.3L258.8,234.3L258.8,234.3L258.9,234.4L258.9,234.4L261.7,237.7L257.9,230.1L257.9,230.1L257.9,230.0L257.8,229.9L257.8,229.9L257.8,229.8L257.8,229.8L257.8,229.7L257.8,229.7L257.8,229.6L257.7,229.5L257.7,229.4L257.7,229.4L257.8,229.3L257.8,229.2L257.8,229.1L257.8,229.1L257.8,229.0L257.8,228.9L257.9,228.8L257.9,228.8L257.9,228.7L258.0,228.7L258.0,228.6L258.0,228.5L258.1,228.5L258.1,228.4L258.2,228.4L258.2,228.3L258.3,228.3L258.3,228.2L258.4,228.2L258.5,228.1L258.6,228.1L258.6,228.1L264.9,224.9L265.9,220.5L267.2,215.4L270.4,211.0L272.3,206.1L267.9,202.1L262.5,199.4L259.0,194.4ZM333.1,629.3L332.4,634.0L332.3,639.3L334.1,644.6L333.4,650.0L341.0,655.0L347.1,653.3L353.0,650.7L359.3,650.0L362.9,653.5L366.4,657.3L371.4,659.2L374.6,663.3L372.9,671.2L374.6,676.2L377.3,680.7L380.0,685.2L382.4,689.9L386.7,688.5L386.4,687.7L386.4,687.7L386.3,687.6L386.3,687.5L386.3,687.4L386.3,687.4L386.3,687.3L386.2,687.2L386.2,687.1L386.2,687.1L386.2,687.0L386.2,686.9L386.3,686.8L386.3,686.8L386.3,686.7L386.3,686.6L386.3,686.5L386.4,686.5L386.4,686.4L386.4,686.3L386.5,686.3L386.5,686.2L386.6,686.1L386.6,686.1L386.7,686.0L386.7,686.0L396.4,676.3L388.5,671.9L388.5,671.9L388.4,671.9L388.4,671.8L388.3,671.8L388.3,671.8L379.3,664.3L379.3,664.3L379.2,664.2L379.2,664.2L379.2,664.2L379.1,664.1L367.2,650.7L367.2,650.7L367.1,650.6L367.1,650.5L367.0,650.5L367.0,650.4L366.9,650.3L366.9,650.3L366.9,650.2L366.9,650.1L366.8,650.0L366.8,650.0L366.8,649.9L366.8,649.8L366.8,649.7L366.8,649.7L366.8,649.6L366.8,649.5L366.8,649.4L366.8,649.4L366.9,649.3L366.9,649.3L366.9,649.2L366.9,649.1L367.0,649.0L367.0,649.0L367.0,648.9L367.1,648.8L367.1,648.8L367.1,648.7L379.1,633.8L379.1,633.8L379.2,633.7L379.2,633.7L379.3,633.6L379.3,633.6L379.4,633.5L379.4,633.5L379.5,633.5L379.5,633.5L386.3,629.3L385.8,627.6L388.4,623.4L386.1,618.0L382.5,613.2L380.1,607.9L377.1,602.8L375.2,597.2L369.4,599.7L363.5,601.7L361.0,602.9L364.6,605.0L364.6,605.0L364.7,605.1L364.7,605.1L364.8,605.2L364.8,605.2L364.9,605.3L364.9,605.3L365.0,605.4L365.0,605.4L365.1,605.5L365.1,605.6L365.1,605.6L365.2,605.7L365.2,605.8L365.2,605.8L372.7,625.2L372.7,625.2L372.7,625.3L372.7,625.4L372.8,625.5L372.8,625.5L372.8,625.6L372.8,625.7L372.8,625.8L372.8,625.8L372.8,625.9L372.8,626.0L372.8,626.1L372.7,626.1L371.3,632.1L371.2,632.1L371.2,632.2L371.2,632.3L371.2,632.4L371.1,632.4L371.1,632.5L371.1,632.5L371.0,632.6L371.0,632.7L370.9,632.7L370.9,632.8L370.8,632.8L370.8,632.9L370.7,632.9L370.7,633.0L370.6,633.0L370.6,633.0L370.5,633.1L370.4,633.1L370.3,633.1L370.3,633.2L370.2,633.2L370.1,633.2L370.1,633.2L370.0,633.2L369.9,633.2L369.9,633.2L344.5,634.7L344.4,634.7L344.3,634.7L344.3,634.7L344.2,634.7L344.1,634.7L344.0,634.7L344.0,634.7L343.9,634.6L343.8,634.6L343.7,634.6L343.7,634.6ZM327.9,431.1L327.6,429.9L326.0,424.6L323.6,422.9L317.8,423.5L312.3,425.2L307.0,427.1L306.3,432.7L306.5,438.2L307.4,443.8L303.1,448.6L303.2,449.4L308.7,446.7L317.4,436.5L317.5,436.5L317.5,436.4L317.5,436.4L317.6,436.3L317.6,436.3L317.7,436.2L317.8,436.2L317.8,436.2L317.9,436.1L318.0,436.1L318.0,436.1L318.1,436.0L318.1,436.0L324.7,433.9L326.4,431.6L326.4,431.6L326.5,431.5L326.5,431.5L326.6,431.4L326.6,431.4L326.7,431.3L326.7,431.3L326.8,431.2L326.8,431.2L326.9,431.2L327.0,431.2L327.1,431.1L327.1,431.1L327.2,431.1L327.2,431.1L327.3,431.0L327.4,431.0L327.5,431.0L327.5,431.0L327.6,431.0L327.7,431.0L327.8,431.0L327.8,431.0L327.9,431.1ZM58.5,330.6L62.5,324.5L64.9,317.7L59.3,314.5L53.9,311.2L48.9,315.1L43.6,318.6L42.6,325.6L42.9,332.7L43.9,333.5L51.2,331.7ZM63.7,372.7L66.4,368.9L69.8,364.9L65.8,360.6L60.3,358.1L56.2,353.9L51.4,354.7L48.1,360.6L44.8,366.5L50.3,369.9L53.1,371.7ZM349.2,229.2L352.1,228.1L350.7,226.3ZM210.5,268.4L211.7,274.2L214.3,279.7L215.1,285.6L222.3,290.5L227.8,288.2L233.2,285.6L238.6,283.0L244.3,280.9L247.1,285.6L251.0,289.5L253.0,294.7L256.7,298.7L263.1,298.2L269.1,295.8L272.2,295.7L269.1,286.4L269.1,286.4L269.0,286.4L269.0,286.4L268.9,286.3L268.8,286.3L268.8,286.2L268.7,286.2L268.7,286.1L268.6,286.1L268.6,286.0L268.5,286.0L268.5,285.9L268.4,285.8L268.4,285.8L268.4,285.7L268.3,285.6L268.3,285.6L268.3,285.5L268.3,285.4L268.2,285.3L268.2,285.3L268.2,285.2L268.2,285.1L268.2,285.0L268.2,285.0L268.2,284.9L268.2,284.9L268.3,284.0L266.3,278.0L266.3,277.9L266.3,277.8L266.3,277.8L266.3,277.7L266.2,277.6L266.2,277.6L266.2,277.5L266.2,277.4L266.2,277.4L266.3,277.3L266.3,277.2L266.3,277.1L266.3,277.1L266.3,277.0L266.3,276.9L266.4,276.8L266.4,276.8L266.4,276.7L266.5,276.7L266.5,276.6L266.6,276.6L266.6,276.5L266.6,276.5L266.7,276.4L266.7,276.4L266.8,276.3L266.9,276.3L266.9,276.2L267.0,276.2L267.1,276.1L267.1,276.1L267.2,276.1L267.2,276.1L267.3,276.0L267.4,276.0L267.5,276.0L267.5,276.0L267.6,276.0L267.6,276.0L269.3,275.9L269.7,272.6L269.7,272.6L269.7,272.5L269.8,272.4L269.8,272.3L269.8,272.3L269.8,272.2L269.9,272.1L269.9,272.1L269.9,272.0L270.0,271.9L270.0,271.9L270.1,271.8L270.1,271.8L274.9,266.4L272.1,263.4L267.8,258.5L263.2,261.0L258.2,262.7L256.9,263.3L253.0,269.1L253.0,269.2L252.9,269.2L252.9,269.3L252.8,269.3L252.8,269.4L252.7,269.4L252.7,269.5L252.6,269.5L252.6,269.6L252.5,269.6L252.5,269.6L252.4,269.7L252.3,269.7L252.2,269.7L252.2,269.7L252.1,269.8L252.0,269.8L251.9,269.8L251.9,269.8L251.8,269.8L251.7,269.8L251.6,269.8L251.6,269.8L251.5,269.8L251.5,269.8L251.4,269.7L251.3,269.7L251.2,269.7L251.2,269.7L251.1,269.6L251.0,269.6L251.0,269.6L250.9,269.5L250.8,269.5L250.8,269.4L250.7,269.4L250.7,269.4L238.9,257.5L227.8,250.9L227.7,254.0L223.7,258.0L218.9,260.9L215.5,265.6ZM567.1,487.1L567.8,489.1L570.7,489.1L566.9,486.2ZM413.0,527.7L410.7,527.7L410.5,530.0L412.3,528.3ZM322.9,199.9L328.0,206.9L328.0,196.5L328.0,196.5L328.0,196.4L328.0,196.4L328.0,196.3ZM132.2,646.9L130.1,646.1L128.3,647.2ZM92.5,393.2L89.8,392.6L79.3,382.1L76.0,382.9L77.8,385.1L91.2,396.0ZM298.2,594.4L300.5,593.9L299.8,592.8L300.6,592.4L298.5,589.8L297.8,590.8L295.3,592.0L296.4,593.6L297.8,593.8L297.5,595.1L298.0,595.9ZM207.6,416.9L194.5,419.5L207.9,418.0ZM225.3,558.6L239.4,556.6L247.4,536.4L239.4,554.6L227.3,556.6L224.9,555.4ZM255.7,457.0L254.3,455.4L252.8,465.9L257.3,455.4ZM524.4,226.6L521.1,229.8L528.7,225.3ZM416.9,574.0L414.5,574.0L417.6,574.9L418.5,573.5ZM551.5,475.4L545.0,471.8L545.0,473.7ZM231.3,588.8L241.4,590.8L247.4,602.9L261.5,606.9L263.5,588.8L265.6,584.8L253.5,572.7L249.4,560.6L239.4,556.6L225.3,558.6L227.3,574.7ZM513.1,372.7L535.0,371.2L534.0,369.7L533.3,371.2L531.8,366.4L529.0,362.1L524.7,361.3L524.2,362.1L513.6,360.6L507.4,365.5L506.3,366.7L506.9,367.2L512.8,371.2L512.2,372.0ZM544.6,374.1L540.4,369.6L535.0,371.2ZM545.0,380.6L545.4,375.0L545.0,374.6ZM559.6,448.9L575.9,459.1L586.1,438.7L582.0,419.3L553.5,420.4L556.6,436.7ZM461.6,469.7L464.8,471.3L464.9,474.4L465.7,474.9L468.9,474.2L469.7,478.8L473.0,478.3L473.8,475.7L469.1,473.9L469.6,471.9L465.0,471.2L467.0,467.8L469.4,468.7L472.0,466.0L471.9,463.2L475.2,462.2L475.3,457.8L473.8,456.4L478.8,453.4L475.2,450.8L473.6,450.9L473.4,456.2L469.8,455.9L468.0,457.3L468.0,457.9L470.9,461.0L471.5,462.9L466.8,463.6L466.8,467.6L460.9,467.1ZM467.3,445.5L464.4,442.6L463.3,442.6L462.0,443.3L461.4,445.8L462.2,446.3Z" fill="#43377d" stroke="#43377d" stroke-width="0.3"/>
<path d="M225.7,421.3L222.5,423.6L216.4,424.7L211.1,423.7L214.9,437.5L215.0,437.5L215.0,437.5L215.1,437.5L215.2,437.5L215.3,437.5L215.3,437.5L215.4,437.5L215.5,437.5L215.6,437.5L215.6,437.5L215.7,437.5L215.8,437.5L215.9,437.5L215.9,437.5L228.8,441.8L237.6,438.1L234.9,425.8L234.9,425.8L234.9,425.7L234.8,425.7L234.8,425.6L234.8,425.5L234.8,425.4L234.8,425.4L234.9,425.3L234.9,425.2L234.9,425.1L234.9,425.1L234.9,425.0L235.0,424.9L235.0,424.9L231.0,423.3ZM375.2,597.2L377.1,602.8L380.1,607.9L382.5,613.2L386.1,618.0L388.4,623.4L393.2,621.5L395.8,617.2L395.9,617.0L388.0,601.3L379.3,594.0L379.3,594.0L379.2,593.9L379.2,593.9L379.2,593.9L375.8,595.7ZM183.2,490.6L187.6,488.1L191.5,484.8L195.8,482.2L200.7,480.7L202.4,472.7L198.5,468.5L195.5,463.8L192.6,459.0L189.5,454.4L184.1,453.3L178.7,452.4L173.3,451.1L168.0,449.4L163.6,453.9L158.9,458.1L154.7,462.9L154.6,468.6L153.3,474.2L152.9,479.9L157.2,484.1L158.0,484.8L166.2,480.7L166.3,480.7L166.3,480.7L166.4,480.7L166.5,480.6L166.5,480.6L166.6,480.6L166.7,480.6L166.8,480.6L166.8,480.6L166.9,480.6L166.9,480.6L167.0,480.6L167.1,480.6L167.2,480.6L167.2,480.6L167.3,480.6L167.4,480.7L167.5,480.7L167.5,480.7L167.6,480.7L167.6,480.8L167.7,480.8L167.7,480.8L167.8,480.9L167.8,480.9L177.7,488.8ZM287.7,426.6L288.2,431.7L289.5,436.7L289.9,441.9L296.8,444.5L303.1,448.6L307.4,443.8L306.5,438.2L306.3,432.7L307.0,427.1L301.4,422.7L295.6,418.5L291.0,422.0ZM149.6,404.9L150.1,399.8L150.9,396.8L150.0,397.0L150.0,397.0L149.9,397.1L149.9,397.1L149.8,397.1L149.7,397.1L149.6,397.1L149.6,397.1L149.5,397.1L149.5,397.1L149.4,397.1L149.3,397.1L149.2,397.0L149.2,397.0L149.1,397.0L149.0,397.0L149.0,396.9L148.9,396.9L148.8,396.9L148.8,396.8L148.7,396.8L148.7,396.8L148.6,396.7L148.6,396.7L148.5,396.6L148.5,396.6L148.4,396.5L148.4,396.5L140.9,386.0L140.9,386.0L140.9,385.9L140.8,385.9L140.8,385.8L140.8,385.7L140.8,385.7L137.9,384.9L132.3,383.6L126.6,382.6L121.0,381.2L117.7,386.7L113.8,391.5L109.7,396.4L110.4,403.4L114.9,407.1L120.4,409.4L125.0,413.0L129.8,411.1L134.5,408.9L139.9,408.6L144.9,407.4ZM280.3,706.9L279.1,707.6L275.4,712.2L278.3,716.9L280.9,715.6L280.9,715.6L281.0,715.6L281.1,715.6L281.2,715.5L281.2,715.5L281.3,715.5L281.3,715.5L281.4,715.5L281.5,715.5L281.6,715.5L281.6,715.5L281.7,715.5L281.8,715.5L287.7,716.2L282.0,710.6L282.0,710.5L281.9,710.5L281.9,710.4L281.8,710.4L281.8,710.3L281.8,710.2L281.7,710.2L281.7,710.1L281.7,710.1ZM31.5,286.0L31.8,285.0L32.6,280.3L31.8,279.9L31.5,279.8ZM110.4,403.4L107.2,408.0L103.2,411.7L99.5,415.8L95.5,419.5L92.2,422.7L92.8,425.1L92.8,425.2L92.8,425.3L92.8,425.3L92.8,425.4L92.8,425.4L92.8,425.5L92.8,425.6L92.8,425.7L92.8,425.7L92.8,425.8L92.8,425.9L92.7,426.0L92.7,426.0L92.7,426.1L92.7,426.1L92.6,426.2L92.6,426.3L92.5,426.3L92.5,426.4L92.5,426.5L92.4,426.5L67.0,456.4L67.0,456.4L67.0,456.5L66.9,456.5L63.9,459.5L79.2,458.0L79.2,458.0L79.3,458.0L79.4,458.0L79.5,458.0L79.5,458.0L79.6,458.1L79.6,458.1L79.7,458.1L79.8,458.1L79.9,458.1L79.9,458.2L80.0,458.2L80.0,458.2L80.1,458.3L80.2,458.3L80.2,458.3L80.3,458.4L80.4,458.4L80.4,458.5L80.5,458.5L80.5,458.6L80.5,458.7L80.6,458.7L80.6,458.8L80.6,458.8L80.7,458.9L80.7,459.0L80.7,459.0L80.8,459.1L81.0,459.9L88.5,459.9L104.2,459.9L104.3,459.8L104.4,459.4L105.1,454.1L106.6,448.9L109.5,444.1L109.8,438.7L114.8,437.5L120.0,437.4L124.7,435.3L124.6,429.8L125.0,424.2L125.6,418.6L125.0,413.0L120.4,409.4L114.9,407.1ZM184.7,333.9L182.5,339.1L182.6,339.9L203.3,337.3L203.3,337.3L203.4,337.3L203.4,337.3L203.5,337.3L203.6,337.3L203.7,337.3L203.7,337.3L203.8,337.3L203.9,337.3L204.0,337.4L204.0,337.4L204.1,337.4L204.2,337.5L204.2,337.5L204.3,337.5L204.4,337.6L204.4,337.6L216.1,347.0L216.1,345.4L214.4,338.7L210.4,332.7L205.3,327.8L200.0,328.8L195.2,331.6L189.9,332.7ZM318.5,362.3L314.7,362.7L315.0,364.5L315.1,364.6L315.1,364.6L315.2,364.7L315.2,364.7L315.3,364.8L315.3,364.8L315.4,364.9L315.4,364.9L315.4,365.0L315.5,365.1L315.5,365.2L315.5,365.2L315.5,365.3L315.6,365.4L315.6,365.5L315.6,365.5L315.6,365.6L315.6,365.7L315.6,365.8L315.6,365.8L315.6,365.9L315.6,366.0L315.5,366.1L315.5,366.1L315.5,366.2L315.5,366.2L315.4,366.3L315.4,366.4L314.3,368.7L318.9,364.7L318.9,364.6L318.8,364.6L318.8,364.5L318.8,364.5L318.7,364.4L318.7,364.3L318.6,364.2L318.6,364.2L318.6,364.1L318.6,364.1L318.5,364.0L318.5,363.9L318.5,363.8L318.5,363.8L318.5,363.7L318.5,363.6ZM614.0,380.3L616.3,388.3L616.4,388.4L619.3,390.0ZM148.2,534.9L147.3,528.7L145.2,522.5L144.3,528.1ZM309.6,668.9L283.1,657.2L282.8,656.5L281.1,661.7L283.1,660.2L305.5,667.6L307.8,671.1ZM300.7,401.8L308.1,398.6L309.3,399.2L309.7,396.8L299.1,398.6ZM197.6,441.2L201.9,431.5L194.4,439.0ZM215.2,482.1L231.3,488.1L216.9,480.8ZM212.2,532.4L214.3,528.7L211.8,529.8ZM547.4,446.8L544.7,449.0L545.2,449.2ZM265.6,516.3L273.6,524.4L280.7,529.7L289.7,523.4L299.8,528.4L289.7,518.3L279.6,528.4L271.6,520.3L267.1,514.4ZM257.5,518.3L247.4,536.4L257.5,526.4L261.1,521.9ZM474.6,163.6L476.0,163.5L474.6,153.2ZM263.5,588.8L267.5,589.2L272.2,588.4L265.2,585.4ZM225.3,512.3L217.2,522.3L216.1,525.7L219.2,520.3L229.3,512.3L223.3,508.7ZM311.9,548.5L322.5,553.1L323.0,552.7ZM437.9,251.8L437.8,252.0L451.5,247.2ZM149.5,542.8L155.2,545.0L150.8,542.5ZM425.2,193.5L434.2,169.6L410.3,175.6L393.8,181.6L392.3,193.5L400.0,206.3L400.0,195.0L426.4,195.0ZM410.6,203.3L421.2,207.9L434.8,209.4L427.3,195.0L400.0,195.0L400.0,207.1ZM403.0,332.6L410.6,337.9L424.2,332.6L428.0,326.5L440.1,327.3L439.4,313.6L443.9,300.0L404.2,300.0L401.6,307.8L402.7,319.7L402.7,328.4L400.0,332.7L400.0,333.3ZM487.3,360.6L488.8,357.6L487.1,357.0ZM512.2,372.0L512.8,371.2L506.9,367.2ZM569.6,389.3L581.7,396.9L583.8,400.0L584.1,400.0L595.0,400.0L589.3,390.9L586.3,378.7L575.7,372.7L568.1,378.7L562.0,381.8L557.5,389.3L568.1,392.4ZM472.9,380.3L471.4,386.3L464.6,387.9L480.5,392.4L486.6,395.4L494.1,388.6L491.1,380.3L491.9,368.2L487.3,360.6L486.6,350.0L471.4,350.0L466.9,354.5L469.2,366.7ZM491.1,380.3L494.1,388.6L486.6,395.4L492.6,401.5L500.2,405.3L509.3,403.0L518.4,395.4L510.8,384.8L513.1,372.7L506.3,366.7L501.7,362.1L489.6,356.1L487.3,360.6L491.9,368.2ZM467.2,438.6L465.6,434.7L463.9,434.4L463.3,434.7L461.6,437.5L463.9,439.5Z" fill="#43357c" stroke="#43357c" stroke-width="0.3"/>
<path d="M222.5,423.6L225.7,421.3L227.2,415.8L228.3,410.3L230.1,404.9L227.8,399.5L225.0,394.3L222.7,388.9L214.2,384.9L209.5,387.4L204.9,390.1L199.3,390.7L195.2,394.4L190.0,395.9L186.3,391.3L182.1,387.3L177.2,384.0L172.3,385.4L167.0,385.3L166.3,385.7L166.1,391.2L166.1,391.2L166.1,391.3L166.1,391.3L166.0,391.4L166.0,391.5L166.0,391.6L166.0,391.6L165.9,391.7L165.9,391.8L165.9,391.8L165.9,391.9L165.8,392.0L165.8,392.0L165.7,392.1L165.7,392.1L165.6,392.2L165.6,392.2L165.5,392.3L165.5,392.3L165.4,392.4L165.4,392.4L165.3,392.4L165.2,392.5L165.2,392.5L165.1,392.5L165.0,392.5L165.0,392.5L150.9,396.8L150.1,399.8L149.6,404.9L144.9,407.4L139.9,408.6L134.5,408.9L129.8,411.1L125.0,413.0L125.6,418.6L125.0,424.2L124.6,429.8L124.7,435.3L129.6,438.2L130.0,437.9L129.1,437.0L129.1,437.0L129.0,436.9L129.0,436.9L128.9,436.8L128.9,436.8L128.9,436.7L128.8,436.6L128.8,436.5L128.8,436.5L128.7,436.4L128.7,436.4L128.7,436.3L128.7,436.2L128.7,436.1L128.7,436.1L127.2,416.6L127.2,416.6L127.2,416.5L127.2,416.5L127.2,416.4L127.2,416.3L127.2,416.2L127.2,416.2L127.3,416.1L127.3,416.0L127.3,416.0L127.3,415.9L127.4,415.8L127.4,415.8L127.4,415.7L127.5,415.7L127.5,415.6L127.6,415.5L127.6,415.5L127.7,415.4L127.7,415.4L127.8,415.3L127.9,415.3L127.9,415.3L128.0,415.2L128.0,415.2L128.1,415.1L128.2,415.1L128.2,415.1L128.3,415.1L149.2,409.1L149.2,409.1L149.3,409.1L149.4,409.1L149.5,409.1L149.5,409.1L149.6,409.1L149.7,409.1L149.8,409.1L149.8,409.1L149.9,409.1L150.0,409.1L150.0,409.1L150.1,409.1L150.2,409.2L150.2,409.2L150.3,409.2L150.4,409.2L150.4,409.3L150.5,409.3L150.6,409.4L150.6,409.4L150.7,409.5L150.7,409.5L150.8,409.6L150.8,409.6L162.8,424.6L162.8,424.6L162.8,424.7L162.8,424.7L162.9,424.8L162.9,424.8L163.0,424.9L163.0,425.0L163.0,425.0L163.0,425.1L163.0,425.2L163.1,425.2L163.1,425.3L163.1,425.4L163.1,425.5L163.1,425.5L163.1,425.6L163.1,425.7L163.1,425.7L163.1,425.8L163.0,425.9L163.0,425.9L163.0,426.0L163.0,426.1L162.9,426.2L162.9,426.2L161.7,428.6L163.1,431.7L165.0,437.6L165.8,443.7L168.0,449.4L173.3,451.1L178.7,452.4L184.1,453.3L189.5,454.4L192.6,459.0L195.5,463.8L198.5,468.5L202.4,472.7L207.7,471.0L208.8,470.3L208.4,470.0L208.4,470.0L208.3,469.9L208.3,469.9L208.2,469.8L208.2,469.7L208.2,469.7L208.1,469.6L208.1,469.5L208.1,469.5L208.0,469.4L208.0,469.3L208.0,469.2L208.0,469.2L207.9,469.1L207.9,469.0L207.9,468.9L207.9,468.9L207.9,468.8L207.9,468.7L207.9,468.6L208.0,468.6L208.0,468.5L208.0,468.5L212.4,452.1L213.1,446.4L196.0,446.4L195.9,446.4L195.8,446.4L195.8,446.4L195.7,446.4L195.6,446.4L195.6,446.4L195.5,446.4L195.4,446.3L195.4,446.3L195.3,446.3L195.2,446.2L195.1,446.2L195.1,446.2L195.0,446.1L195.0,446.1L194.9,446.0L194.9,446.0L194.8,445.9L194.8,445.9L194.7,445.8L194.7,445.7L194.6,445.7L194.6,445.6L194.6,445.5L194.6,445.5L194.5,445.4L194.5,445.3L194.5,445.2L194.5,445.2L194.5,445.1L194.5,445.0L194.5,444.9L194.5,444.9L194.5,444.8L194.5,444.7L194.5,444.6L194.5,444.6L194.5,444.5L194.6,444.4L194.6,444.4L194.6,444.3L197.3,438.3L194.0,441.5L194.0,441.5L193.9,441.6L193.9,441.6L193.8,441.7L193.8,441.7L193.7,441.8L193.7,441.8L193.6,441.8L193.5,441.8L193.4,441.9L193.4,441.9L193.3,441.9L193.3,441.9L193.2,441.9L193.1,441.9L193.0,442.0L193.0,442.0L192.9,442.0L192.8,441.9L192.7,441.9L192.7,441.9L192.6,441.9L192.5,441.9L192.4,441.9L192.4,441.8L192.3,441.8L192.3,441.8L192.2,441.7L192.1,441.7L192.1,441.6L192.0,441.6L192.0,441.6L191.9,441.5L191.9,441.4L191.8,441.4L191.8,441.3L191.7,441.3L181.3,426.4L181.3,426.3L181.2,426.3L181.2,426.2L181.2,426.1L181.1,426.1L181.1,426.0L181.1,425.9L181.1,425.9L181.0,425.8L181.0,425.7L181.0,425.7L180.1,417.9L178.0,401.8L178.0,401.7L178.0,401.6L178.0,401.6L178.0,401.5L178.0,401.4L178.0,401.4L178.0,401.3L178.1,401.2L178.1,401.2L178.1,401.1L178.1,401.0L178.2,400.9L178.2,400.9L178.2,400.8L178.3,400.8L178.3,400.7L178.4,400.6L178.4,400.6L178.4,400.5L178.5,400.5L178.6,400.4L178.6,400.4L178.7,400.3L178.8,400.3L178.8,400.3L178.9,400.2L178.9,400.2L179.0,400.2L179.1,400.1L179.2,400.1L179.2,400.1L179.3,400.1L179.4,400.1L179.5,400.1L179.5,400.1L179.6,400.1L179.6,400.1L179.7,400.1L179.8,400.1L197.7,403.1L197.7,403.1L197.8,403.1L197.9,403.1L198.0,403.2L198.0,403.2L198.1,403.2L198.2,403.2L198.3,403.3L198.3,403.3L198.4,403.4L198.4,403.4L198.5,403.5L198.5,403.5L210.5,415.5L210.5,415.5L210.6,415.6L210.6,415.6L210.7,415.7L210.7,415.7L210.7,415.8L210.8,415.8L210.8,415.9L210.8,416.0L210.9,416.1L210.9,416.1L210.9,416.2L210.9,416.3L210.9,416.4L210.9,416.4L210.9,416.5L210.9,416.6L210.9,416.7L210.9,416.7L210.9,416.8L210.9,416.8L210.9,416.9L210.9,417.0L210.8,417.1L210.8,417.1L210.8,417.2L210.7,417.3L210.7,417.3L210.7,417.4L210.6,417.5L210.6,417.5L210.5,417.6L210.5,417.6L210.4,417.7L210.4,417.7L210.3,417.8L210.2,417.8L210.2,417.8L210.1,417.9L210.0,417.9L210.0,417.9L209.9,418.0L209.8,418.0L209.7,418.0L209.7,418.0L209.5,418.0L211.1,423.7L216.4,424.7ZM443.6,668.9L445.0,668.4L443.6,667.3L443.6,667.3L443.5,667.2L443.5,667.2L443.4,667.1L443.4,667.1L443.3,667.0L443.3,667.0L443.3,666.9L443.2,666.8L443.2,666.8L443.2,666.7L437.2,653.3L437.2,653.3L437.2,653.2L437.1,653.1L437.1,653.0L437.1,653.0L437.1,652.9L437.1,652.9L435.6,640.9L435.6,640.9L435.6,640.8L435.6,640.7L435.6,640.6L435.6,640.6L435.6,640.5L435.6,640.4L435.6,640.3L435.6,640.3L435.7,640.2L435.7,640.1L435.7,640.1L435.8,640.0L435.8,639.9L435.8,639.9L435.9,639.8L435.9,639.8L436.0,639.7L436.0,639.6L436.1,639.6L436.1,639.5L436.2,639.5L436.3,639.5L436.3,639.4L436.4,639.4L436.5,639.3L436.5,639.3L436.6,639.3L436.7,639.3L436.8,639.2L436.8,639.2L436.9,639.2L437.0,639.2L437.1,639.2L437.1,639.2L437.2,639.2L437.3,639.2L437.4,639.2L437.4,639.2L444.9,640.7L444.9,640.7L445.0,640.8L445.0,640.8L445.1,640.8L445.1,640.8L445.2,640.9L445.3,640.9L445.4,640.9L445.4,641.0L445.5,641.0L445.5,641.1L445.6,641.1L445.6,641.2L445.7,641.2L445.7,641.3L445.8,641.3L445.8,641.4L445.9,641.5L445.9,641.5L453.1,654.6L457.7,657.1L462.0,652.6L460.7,647.0L460.2,641.3L457.9,636.0L456.7,630.4L450.8,630.3L445.0,629.8L439.1,630.9L437.4,625.8L435.1,620.9L433.6,615.8L431.0,611.1L427.8,610.2L427.8,610.2L427.7,610.3L427.7,610.4L427.6,610.4L427.6,610.5L427.5,610.5L427.5,610.5L427.4,610.6L427.4,610.6L427.3,610.7L427.2,610.7L427.1,610.7L427.1,610.7L427.0,610.8L427.0,610.8L426.9,610.8L426.8,610.8L426.7,610.8L426.7,610.8L426.6,610.8L426.5,610.8L426.4,610.8L426.4,610.8L426.3,610.8L426.2,610.8L426.2,610.7L426.1,610.7L426.0,610.7L426.0,610.7L425.9,610.6L425.9,610.6L415.4,604.6L415.4,604.6L415.3,604.6L415.3,604.5L415.2,604.5L415.2,604.5L415.1,604.4L415.1,604.4L415.0,604.3L415.0,604.3L414.9,604.2L414.9,604.2L412.0,599.8L411.4,599.8L405.7,599.2L404.1,603.8L399.6,618.7L399.6,618.7L399.6,618.8L399.6,618.9L399.5,619.0L399.5,619.0L399.5,619.1L399.4,619.1L399.4,619.2L399.3,619.3L399.3,619.3L399.2,619.4L399.2,619.4L399.1,619.5L399.1,619.5L399.0,619.5L398.9,619.6L398.9,619.6L398.8,619.7L398.7,619.7L398.7,619.7L398.6,619.7L398.5,619.8L398.5,619.8L398.4,619.8L398.3,619.8L398.2,619.8L398.2,619.8L398.1,619.8L398.0,619.8L397.9,619.8L397.9,619.7L397.8,619.7L397.7,619.7L397.6,619.7L397.6,619.6L397.5,619.6L397.5,619.6L397.4,619.5L397.3,619.5L397.2,619.4L397.2,619.4L397.1,619.3L397.1,619.3L397.0,619.2L397.0,619.2L397.0,619.1L396.9,619.1L396.9,619.0L396.9,619.0L395.9,617.0L395.8,617.2L393.2,621.5L388.4,623.4L385.8,627.6L386.3,629.3L398.9,621.5L398.9,621.5L399.0,621.4L399.1,621.4L399.2,621.4L399.2,621.4L399.3,621.3L399.3,621.3L399.4,621.3L399.5,621.3L399.6,621.3L399.6,621.3L399.7,621.3L399.8,621.3L399.9,621.3L399.9,621.3L400.0,621.3L400.1,621.3L400.2,621.3L400.2,621.4L400.3,621.4L400.3,621.4L400.4,621.5L400.5,621.5L400.6,621.5L400.6,621.6L400.7,621.6L400.7,621.7L400.8,621.7L400.8,621.8L400.9,621.8L400.9,621.9L401.0,622.0L401.0,622.0L401.0,622.1L401.0,622.1L401.5,623.1L408.2,636.4L421.0,639.2L421.0,639.3L421.1,639.3L421.1,639.3L421.2,639.3L421.3,639.4L421.4,639.4L421.4,639.4L421.5,639.5L421.5,639.5L421.6,639.6L421.6,639.6L421.7,639.7L421.7,639.7L421.8,639.8L421.8,639.8L421.9,639.9L421.9,639.9L422.0,640.0L422.0,640.1L422.0,640.2L422.1,640.2L422.1,640.3L422.1,640.4L422.1,640.5L422.1,640.5L422.1,640.6L422.1,640.7L422.1,640.8L422.1,640.8L420.6,670.7L420.6,670.7L420.6,670.8L420.6,670.9L420.6,671.0L420.6,671.0L420.6,671.1L420.5,671.2L420.5,671.2L420.5,671.3L420.4,671.4L420.4,671.4L420.4,671.5L420.3,671.5L420.3,671.6L420.2,671.7L420.2,671.7L420.1,671.8L420.0,671.8L420.0,671.8L419.9,671.9L419.9,671.9L419.8,672.0L419.8,672.0L403.7,679.3L407.3,682.4L410.3,682.2L415.6,679.8L416.6,678.5L421.9,678.3L426.9,676.1L432.2,675.8L437.5,675.6ZM398.8,573.5L400.1,575.7L400.8,575.1L400.7,575.1L400.7,575.1L400.6,575.0L400.6,574.9L400.5,574.9L400.5,574.8L400.5,574.7L400.4,574.7L400.4,574.6L400.4,574.6L400.3,574.5L400.3,574.4L400.3,574.3L400.3,574.3L400.3,574.2L400.3,574.1L400.3,574.0L400.3,574.0L400.3,573.9L400.3,573.8L400.3,573.7L400.3,573.7L400.3,573.6L400.3,573.5L400.4,573.5L400.4,573.4L400.4,573.3L400.5,573.3L400.5,573.2L400.5,573.2L400.6,573.1L400.6,573.0L400.7,573.0L400.7,572.9L400.8,572.9L400.9,572.8L400.9,572.8L401.0,572.8L401.0,572.7L399.4,573.0Z" fill="#43256f" stroke="#43256f" stroke-width="0.3"/>
<path d="M225.7,421.3L231.0,423.3L235.0,424.9L235.0,424.8L235.0,424.8L235.1,424.7L235.1,424.7L235.1,424.6L235.2,424.6L235.2,424.5L235.3,424.5L235.3,424.4L235.4,424.4L235.5,424.3L235.5,424.3L235.6,424.2L235.6,424.2L235.7,424.1L235.8,424.1L235.8,424.1L235.9,424.1L236.0,424.0L236.0,424.0L236.1,424.0L236.2,424.0L264.3,420.5L264.4,419.7L263.9,416.4L263.8,416.4L263.8,416.4L263.7,416.5L263.7,416.5L263.6,416.5L263.5,416.5L263.4,416.5L263.4,416.5L263.3,416.5L263.2,416.5L263.1,416.5L263.1,416.5L263.0,416.5L262.9,416.5L262.8,416.5L262.8,416.5L262.7,416.4L262.7,416.4L252.2,411.9L252.2,411.9L252.1,411.9L252.0,411.8L252.0,411.8L251.9,411.8L251.8,411.7L251.8,411.7L251.7,411.6L251.7,411.6L251.6,411.5L251.6,411.5L251.5,411.4L251.5,411.3L251.5,411.2L251.4,411.2L251.4,411.1L251.4,411.1L247.0,399.4L241.5,401.2L235.6,402.3L230.1,404.9L228.3,410.3L227.2,415.8ZM532.4,705.2L538.4,704.1L543.6,702.8L530.6,695.9L530.6,695.9L530.5,695.8L530.4,695.8L530.3,695.7L530.3,695.7L530.2,695.6L530.2,695.6L530.1,695.5L530.1,695.5L530.0,695.4L530.0,695.4L530.0,695.3L529.9,695.2L529.9,695.1L529.9,695.1L529.9,695.0L529.8,695.0L529.8,694.9L529.8,694.8L528.6,688.5L528.5,688.5L528.4,688.6L528.3,688.6L528.3,688.6L528.2,688.6L528.1,688.6L528.0,688.5L528.0,688.5L527.9,688.5L527.8,688.5L527.8,688.5L527.7,688.4L527.6,688.4L527.6,688.4L527.5,688.3L527.4,688.3L527.4,688.2L527.3,688.2L527.2,688.1L527.2,688.1L516.8,677.7L516.7,677.6L516.7,677.6L516.7,677.5L516.6,677.5L516.6,677.4L516.5,677.3L516.5,677.3L516.5,677.2L516.4,677.2L516.4,677.1L516.4,677.0L516.4,676.9L516.4,676.9L516.3,676.8L516.3,676.8L516.3,676.7L516.3,676.6L516.3,676.5L516.3,676.5L516.3,676.4L516.3,676.3L516.4,676.2L516.4,676.2L516.4,676.1L516.4,676.1L520.5,665.3L511.1,660.0L511.1,659.9L511.0,659.9L511.0,659.9L510.9,659.8L510.8,659.8L510.8,659.7L510.7,659.7L510.7,659.6L510.6,659.6L510.6,659.5L510.6,659.4L510.5,659.3L510.5,659.3L510.4,659.2L510.4,659.2L510.4,659.1L510.4,659.0L510.4,658.9L510.4,658.9L509.2,652.1L503.3,651.6L496.7,650.5L490.1,649.9L486.8,653.2L487.0,658.4L486.6,663.5L486.6,668.7L490.9,673.6L495.7,678.0L501.1,681.7L507.7,679.4L514.6,678.3L517.7,683.1L522.4,686.5L525.8,691.0L526.8,698.4ZM35.4,559.2L35.4,556.3L33.4,551.1L33.1,545.6L32.7,540.1L31.8,534.7L34.6,530.3L38.2,526.6L38.0,522.4L33.4,519.1L31.5,516.3L31.5,534.7L31.5,561.4L34.6,561.7ZM372.8,83.2L373.5,91.5L378.4,95.2L383.5,98.4L388.7,101.6L388.9,108.8L390.8,115.7L396.9,119.9L397.2,125.9L398.3,131.7L399.4,137.5L401.0,143.3L402.6,149.0L396.9,148.7L391.7,145.7L385.8,146.1L380.5,144.0L374.9,142.7L373.9,137.5L371.7,132.6L370.2,127.5L365.7,125.1L361.0,122.9L356.1,121.4L351.5,119.3L345.5,123.7L339.7,128.3L339.8,133.4L341.1,137.7L342.3,138.4L342.3,138.4L342.4,138.5L342.4,138.5L342.5,138.6L342.5,138.6L342.6,138.7L342.6,138.7L342.7,138.8L342.7,138.8L342.8,138.9L342.8,139.0L342.8,139.1L342.8,139.1L342.9,139.2L342.9,139.2L342.9,139.3L342.9,139.3L348.7,162.5L359.4,166.5L376.8,159.3L376.8,159.3L376.9,159.2L377.0,159.2L377.0,159.2L377.1,159.2L377.2,159.2L377.2,159.2L377.3,159.1L377.4,159.1L377.5,159.2L377.5,159.2L377.6,159.2L377.7,159.2L377.8,159.2L377.8,159.2L377.9,159.3L378.0,159.3L378.1,159.3L378.1,159.3L378.2,159.4L378.2,159.4L378.3,159.5L378.3,159.5L378.4,159.6L378.4,159.6L378.5,159.7L378.5,159.7L378.6,159.8L378.6,159.8L384.6,168.8L384.6,168.8L384.7,168.9L384.7,168.9L384.7,169.0L384.7,169.1L384.8,169.1L384.8,169.2L384.8,169.3L384.8,169.3L384.8,169.4L384.8,169.5L384.8,169.6L384.8,169.6L384.8,169.7L384.8,169.8L384.8,169.9L384.8,169.9L384.8,170.0L384.8,170.0L384.8,170.1L384.7,170.2L384.7,170.3L384.7,170.3L381.1,177.4L383.5,177.0L386.8,172.4L389.7,167.5L393.0,163.0L395.7,158.0L400.1,154.2L402.7,149.1L403.8,149.3L409.1,146.7L412.9,141.7L418.6,139.6L423.4,136.2L427.9,132.3L425.1,128.1L423.9,126.3L418.3,121.4L418.2,121.4L418.2,121.3L418.1,121.3L418.1,121.2L418.1,121.2L418.0,121.1L418.0,121.1L409.0,107.7L409.0,107.6L408.9,107.5L408.9,107.5L401.4,92.5L401.4,92.5L401.4,92.4L401.4,92.4L401.3,92.3L401.3,92.2L401.3,92.1L401.3,92.1L401.3,92.0L401.3,91.9L401.3,91.8L401.3,91.8L401.3,91.6L401.3,91.6L401.3,91.5L401.3,91.5L405.8,75.0L411.8,52.6L411.8,52.6L411.8,52.5L411.9,52.4L411.9,52.3L411.9,52.3L412.0,52.2L412.0,52.2L412.1,52.1L412.1,52.0L412.2,52.0L412.2,51.9L412.2,51.9L408.9,51.9L406.0,56.3L404.0,61.6L402.6,67.2L400.5,72.4L394.8,72.5L389.3,70.7L383.6,70.5L379.4,74.3L375.7,78.4ZM439.3,134.8L433.6,133.7L427.9,132.3L423.4,136.2L418.6,139.6L412.9,141.7L409.1,146.7L403.8,149.3L402.7,149.1L400.1,154.2L395.7,158.0L393.0,163.0L389.7,167.5L386.8,172.4L383.5,177.0L387.8,180.1L392.3,181.5L392.3,181.4L392.3,181.4L392.3,181.3L392.4,181.2L392.4,181.1L392.4,181.1L392.4,181.0L392.5,180.9L392.5,180.9L392.5,180.8L392.6,180.7L392.6,180.7L392.7,180.6L392.7,180.6L392.8,180.5L392.8,180.5L392.9,180.4L392.9,180.4L393.0,180.3L393.1,180.3L393.1,180.2L393.2,180.2L393.3,180.2L393.3,180.2L409.8,174.2L409.8,174.2L409.9,174.1L409.9,174.1L433.8,168.2L446.9,164.2L438.9,149.4L438.8,149.4L438.8,149.3L438.8,149.2L438.7,149.2L438.7,149.1L438.7,149.0L438.7,149.0L438.7,148.9L438.7,148.8L438.7,148.7L438.7,148.7L438.7,148.6L438.7,148.5L438.7,148.4L438.7,148.4L438.7,148.3L438.7,148.2L438.8,148.2L438.8,148.1L441.7,140.8L441.6,139.5ZM274.8,751.7L270.2,755.8L267.9,759.5L287.4,759.5L284.3,757.1L279.6,754.3ZM331.3,180.4L330.4,182.9L335.5,187.0L337.2,185.5L337.0,185.3ZM485.5,471.7L487.3,470.1L487.2,468.0L485.4,467.0L483.4,467.4L482.5,470.6ZM472.5,446.3L473.3,450.7L469.6,451.5L469.8,455.9L473.4,456.2L473.6,450.9L475.2,450.8L478.6,446.7L473.8,445.5ZM477.6,470.5L474.4,469.2L472.7,471.5L475.1,474.4L476.2,474.2Z" fill="#43387e" stroke="#43387e" stroke-width="0.3"/>
<path d="M254.9,186.1L253.9,191.3L259.0,194.4L262.5,199.4L267.9,202.1L272.3,206.1L270.4,211.0L267.2,215.4L265.9,220.5L264.9,224.9L279.5,217.6L279.5,217.6L279.6,217.6L279.7,217.6L279.8,217.5L279.8,217.5L279.9,217.5L279.9,217.5L280.0,217.5L280.1,217.5L280.2,217.5L280.2,217.5L280.3,217.5L280.4,217.5L280.5,217.5L280.5,217.5L280.6,217.5L280.6,217.5L280.7,217.6L280.8,217.6L280.9,217.6L280.9,217.6L288.6,221.8L286.7,220.1L286.6,220.1L286.6,220.0L286.5,220.0L286.5,219.9L286.4,219.8L286.4,219.8L286.4,219.7L286.3,219.6L286.3,219.6L286.3,219.5L286.2,219.4L286.2,219.3L286.2,219.3L286.2,219.2L286.2,219.2L286.2,219.1L286.2,219.0L286.2,218.9L286.2,218.9L286.2,218.7L286.2,218.7L286.2,218.6L286.2,218.6L286.2,218.5L286.3,218.4L288.7,211.8L288.8,211.8L288.8,211.7L288.8,211.6L288.9,211.5L288.9,211.5L288.9,211.4L289.0,211.4L289.0,211.3L289.1,211.3L289.1,211.3L287.5,208.1L278.3,197.8L278.3,197.8L278.3,197.8L278.2,197.7L278.2,197.7L278.2,197.6L278.2,197.6L278.2,197.5L278.2,197.5L278.2,197.4L279.2,189.8L273.2,187.8L269.9,193.2L269.9,193.2L269.9,193.3L266.5,196.7L266.4,196.7L266.4,196.7L266.3,196.7L266.3,196.8L266.2,196.8L266.2,196.8L266.2,196.8L266.1,196.8L266.1,196.8L266.0,196.8L266.0,196.8L265.9,196.8L265.9,196.7L265.8,196.7L265.8,196.7L260.1,192.2L260.1,192.2L260.0,192.1L260.0,192.1L260.0,192.0L259.9,192.0L259.9,192.0L259.9,191.9L259.9,191.9L259.9,191.8L259.9,191.8L259.9,191.7L260.7,187.3L257.3,190.4L257.3,190.4L257.3,190.4L257.2,190.5L257.2,190.5L257.1,190.5L257.1,190.5L257.0,190.5L257.0,190.5L256.9,190.5L256.9,190.5L256.8,190.5L256.8,190.4L256.7,190.4L256.7,190.4L256.6,190.4L256.6,190.3L256.6,190.3L256.6,190.2L256.5,190.2ZM508.3,177.1L509.1,176.3L506.8,175.0L507.2,177.1L507.3,177.1L507.3,177.1L507.4,177.1L507.5,177.1ZM333.3,260.5L335.7,266.2L339.4,271.1L341.7,276.8L347.3,274.3L353.1,272.5L359.3,271.9L365.0,269.6L363.9,264.1L363.4,261.6L358.9,257.8L336.0,257.8ZM352.1,228.1L349.2,229.2L346.8,234.0L355.0,232.0L352.5,228.7ZM326.0,177.1L328.8,178.2L327.1,176.7L327.0,176.7L327.0,176.6L326.9,176.6L326.9,176.5L326.8,176.5L326.8,176.4L326.7,176.4L326.7,176.3L326.7,176.2L326.6,176.1L326.6,176.1Z" fill="#424182" stroke="#424182" stroke-width="0.3"/>
<path d="M137.1,304.0L137.1,304.0L139.2,297.1L142.1,290.4L147.6,289.1L152.9,286.8L158.4,285.3L163.9,284.0L168.9,285.4L173.6,287.6L175.8,292.8L179.3,297.2L185.5,297.7L187.0,298.2L187.0,298.2L187.0,298.1L187.0,298.0L187.0,298.0L190.2,286.5L180.0,286.5L180.0,286.5L179.9,286.5L179.8,286.5L179.7,286.5L179.7,286.5L179.6,286.5L179.5,286.5L179.4,286.4L179.4,286.4L179.3,286.4L179.3,286.4L179.2,286.3L179.1,286.3L179.1,286.2L179.0,286.2L179.0,286.1L178.9,286.1L178.9,286.0L178.8,286.0L178.8,285.9L178.7,285.9L178.7,285.8L178.7,285.7L178.6,285.6L178.6,285.6L178.6,285.5L178.6,285.5L178.5,285.4L178.5,285.3L178.5,285.2L178.5,285.2L178.5,285.1L178.5,285.0L178.5,282.8L161.5,282.0L161.5,282.0L161.4,282.0L161.3,281.9L161.2,281.9L161.2,281.9L161.1,281.9L161.0,281.9L161.0,281.8L160.9,281.8L160.8,281.8L160.8,281.7L160.7,281.7L160.7,281.7L160.6,281.6L160.5,281.6L160.5,281.5L160.4,281.4L160.4,281.4L160.4,281.3L160.3,281.2L160.3,281.2L160.2,281.1L160.2,281.1L160.2,281.0L160.2,280.9L160.1,280.8L160.1,280.8L160.1,280.7L160.1,280.6L160.1,280.5L160.1,280.5L160.1,280.4L160.1,280.4L160.1,280.3L160.1,280.2L160.1,280.1L160.1,280.1L160.2,280.0L160.2,279.9L160.2,279.8L160.2,279.8L160.3,279.7L160.3,279.7L160.4,279.6L160.4,279.5L160.5,279.5L160.5,279.4L160.6,279.4L160.6,279.3L160.7,279.3L160.7,279.2L160.8,279.2L160.9,279.2L160.9,279.1L161.0,279.1L161.1,279.1L161.1,279.0L162.4,278.6L161.7,275.2L155.8,276.9L155.8,276.9L147.8,279.2L147.7,279.2L139.7,281.3L139.7,281.3L131.7,283.4L131.7,283.4L128.3,284.2L132.9,283.5L132.9,283.5L133.0,283.5L133.1,283.5L133.2,283.5L133.2,283.5L133.3,283.5L133.4,283.5L133.5,283.5L133.5,283.5L133.6,283.5L133.7,283.5L133.8,283.6L133.8,283.6L133.9,283.7L134.0,283.7L134.0,283.7L134.1,283.8L134.2,283.8L134.2,283.9L134.3,283.9L134.3,284.0L134.4,284.1L134.4,284.1L134.5,284.2L134.5,284.2L134.5,284.3L134.5,284.4L134.6,284.4L134.6,284.5L134.6,284.6L134.6,284.6L134.7,284.7L134.7,284.8ZM50.2,298.8L46.7,294.0L43.8,288.9L42.6,284.9L41.1,284.3L41.1,284.3L37.0,282.4L33.9,280.9L32.6,280.3L31.8,285.0L31.5,286.0L31.5,296.5L38.8,301.8L44.3,300.3L50.0,299.4ZM65.6,343.1L62.4,336.6L58.5,330.6L51.2,331.7L43.9,333.5L45.8,340.5L45.8,347.8L51.4,354.7L56.2,353.9L60.3,348.0ZM31.8,534.7L32.7,540.1L33.1,545.6L33.4,551.1L35.4,556.3L35.4,559.2L38.7,550.0L38.7,550.0L38.7,549.9L38.7,549.9L38.8,549.8L38.8,549.8L38.8,549.7L38.8,549.7L38.9,549.6L38.9,549.6L39.0,549.5L39.0,549.5L52.7,535.8L52.9,533.6L48.9,530.7L43.2,529.5L38.2,526.6L34.6,530.3ZM44.8,366.5L48.1,360.6L51.4,354.7L45.8,347.8L39.9,349.3L34.0,349.9L31.5,349.8L31.5,362.9L32.0,365.0L36.8,366.9L41.8,368.2ZM297.7,728.6L299.4,723.7L302.3,719.1L302.5,717.4L295.0,718.1L295.0,718.1L295.0,718.2L295.0,718.3L295.0,718.3L296.1,728.5ZM257.4,515.0L256.9,515.6L258.6,517.3L258.6,517.3L258.6,517.3L258.7,517.4L258.7,517.5L258.8,517.5L258.8,517.6L258.8,517.6L258.9,517.7L258.9,517.8L258.9,517.9L258.9,517.9L259.0,518.0L259.0,518.1L259.0,518.2L259.0,518.2L259.0,518.3L259.0,518.4L259.0,518.5L259.0,518.5L259.0,518.6L259.0,518.7L258.9,518.8L258.9,518.8L258.9,518.9L258.9,518.9L258.8,519.0L258.8,519.0L253.9,527.8L255.8,525.9L256.4,525.4L264.4,515.4L264.4,515.3L264.5,515.3L264.5,515.2L264.6,515.2L264.6,515.1L264.7,515.1L264.7,515.1L264.8,515.0L264.9,515.0L264.9,514.9L265.0,514.9L265.1,514.9L265.1,514.9L265.2,514.8L265.3,514.8L265.4,514.8L265.4,514.8L265.5,514.8L265.6,514.8L265.6,514.8L264.9,513.9ZM41.4,370.7L41.8,368.2L36.8,366.9L32.0,365.0L31.5,365.2L31.5,385.3L34.5,383.1L34.5,371.7L34.5,371.7L34.5,371.6L34.5,371.5L34.5,371.4L34.5,371.4L34.5,371.3L34.6,371.2L34.6,371.1L34.6,371.1L34.6,371.0L34.7,370.9L34.7,370.9L34.7,370.8L34.8,370.7L34.8,370.7L34.9,370.6L34.9,370.6L35.0,370.5L35.0,370.5L35.1,370.4L35.2,370.4L35.2,370.4L35.3,370.3L35.4,370.3L35.4,370.3L35.5,370.2L35.6,370.2L35.7,370.2L35.7,370.2L35.8,370.2L35.8,370.2L35.9,370.2L36.0,370.2L36.1,370.2L36.1,370.2ZM614.7,475.8L608.7,476.8L608.7,476.8L608.6,476.8L608.6,476.9L608.5,476.9L608.5,476.9L607.0,476.9L609.7,479.5Z" fill="#43337a" stroke="#43337a" stroke-width="0.3"/>
<path d="M104.4,312.2L103.1,309.7L101.3,311.4L101.3,311.4L101.2,311.5L101.2,311.5L101.1,311.6L101.1,311.6L101.0,311.7L101.0,311.7L100.9,311.7L100.8,311.8L100.7,311.8L100.7,311.8L100.6,311.8L100.5,311.8L100.4,311.9L100.4,311.9L100.3,311.9L100.2,311.9L100.1,311.9L100.1,311.9L100.0,311.8L99.9,311.8L99.8,311.8L99.8,311.8L99.7,311.8L99.7,311.7L99.6,311.7L99.5,311.7L99.4,311.6L99.4,311.6L99.3,311.5L99.3,311.5L99.2,311.4L99.2,311.4L99.1,311.3L99.1,311.3L99.0,311.2L99.0,311.2L98.9,311.1L98.9,311.0L98.9,310.9L98.9,310.9L98.8,310.8L98.8,310.7L98.8,310.6L98.8,310.6L97.4,302.3L91.6,298.8L87.4,298.5L81.8,297.0L76.2,295.7L74.2,301.6L71.2,307.0L66.9,311.7L64.9,317.7L70.5,320.1L76.2,322.3L81.8,324.4L87.3,327.1L91.9,323.8L95.6,319.3L100.6,316.5ZM72.1,291.0L72.3,291.1L76.2,295.7L81.8,297.0L87.4,298.5L91.6,298.8L83.1,293.7L83.0,293.7L83.0,293.6L82.9,293.6L82.8,293.6L82.8,293.5L82.7,293.5L82.7,293.4L82.6,293.3L82.6,293.3L82.6,293.2L82.5,293.2L82.5,293.1L82.5,293.0L82.4,293.0L82.4,292.9L82.4,292.8L82.4,292.8L82.3,292.7L82.3,292.6L82.3,292.5L82.3,292.5L82.3,292.4L82.3,292.3L82.3,292.2L82.4,292.2L82.4,292.1L82.4,292.0L82.4,291.9L82.4,291.9L82.5,291.8L82.5,291.8L82.5,291.7L82.6,291.6L82.6,291.5L82.6,291.5L82.7,291.4L82.7,291.4L82.8,291.4L78.7,291.4L78.6,291.4L73.5,291.1L73.5,291.1ZM256.7,298.7L253.0,294.7L251.0,289.5L247.1,285.6L244.3,280.9L238.6,283.0L233.2,285.6L227.8,288.2L222.3,290.5L224.3,295.3L225.2,300.4L225.8,305.6L230.6,307.9L234.5,311.6L239.4,313.6L243.7,316.7L245.4,316.1L247.7,311.5L250.8,307.2L254.1,303.2ZM180.3,538.5L180.0,538.5L170.9,534.4L179.0,540.5ZM125.5,479.4L123.2,481.0L126.3,481.5ZM302.1,527.0L299.8,528.4L300.8,538.5L301.8,528.4L302.3,528.5ZM106.4,305.2L106.3,304.4L105.7,304.9ZM275.7,254.8L295.1,241.4L299.6,229.4L280.2,219.0L259.2,229.4L266.7,244.4ZM97.3,394.1L113.7,385.1L118.2,371.7L109.2,368.7L98.8,377.7L79.3,382.1L89.8,392.6ZM312.6,338.8L320.1,322.3L300.6,311.9L287.2,334.3L300.6,349.2ZM330.8,433.4L329.7,433.8L334.2,436.4L333.7,435.6ZM320.0,469.4L320.0,467.1L320.0,455.0L320.0,442.4L325.6,435.1L318.6,437.5L309.6,447.9L294.7,455.4L297.6,468.9L311.1,473.3L315.1,472.7ZM339.3,465.2L341.0,464.4L341.1,463.4ZM283.1,657.2L310.0,669.1L305.5,643.7L298.0,637.7L296.5,610.8L291.4,613.0L289.7,617.0L276.6,619.4L265.1,624.3L275.6,637.7ZM274.4,588.1L267.5,589.2L281.7,590.8ZM281.7,590.8L296.4,593.6L295.3,592.0L293.7,592.8ZM297.5,595.1L295.8,602.9L291.4,613.0L296.5,610.8L298.0,595.9ZM267.6,621.0L265.7,616.7L265.1,624.3L276.6,619.4ZM404.2,722.9L414.7,717.0L419.1,694.5L398.2,676.6L387.7,687.1L395.2,703.5ZM546.2,663.1L535.8,676.6L529.8,687.1L531.3,694.5L553.7,706.5L562.7,693.0L556.7,682.6L559.7,666.1L571.7,654.2L556.7,643.7L538.8,634.7L541.7,649.7ZM474.5,637.7L489.4,633.2L484.9,622.8L468.5,610.8L461.0,613.8L464.0,628.8ZM170.9,534.4L180.0,538.5L187.0,520.3L189.0,507.2L158.9,510.3L162.9,522.3ZM201.1,518.3L187.0,520.3L180.0,538.5L205.2,538.5ZM150.8,542.5L162.9,549.5L175.0,546.5L179.0,540.5L170.9,534.4L162.9,522.3L158.9,510.3L144.8,516.3L148.8,528.4ZM275.6,550.5L279.6,542.5L281.7,538.5L281.7,530.4L273.6,524.4L265.6,516.3L257.5,526.4L247.4,536.4L239.4,556.6L251.5,558.6ZM267.6,621.0L289.7,617.0L295.8,602.9L297.8,593.8L281.7,590.8L263.5,588.8L261.5,606.9ZM217.4,609.6L205.2,606.9L203.3,607.9ZM222.4,612.6L223.3,610.9L221.6,610.6ZM214.6,621.6L213.7,625.3L219.2,619.0L219.5,618.5ZM188.3,628.0L188.7,628.0L189.4,626.2ZM330.0,590.8L330.0,574.7L329.3,574.0L320.0,574.0L320.0,572.2L309.8,574.7L303.8,582.7L311.9,586.8ZM545.0,531.4L545.0,533.7L538.0,542.8L545.0,535.3L545.0,560.1L546.4,560.1L546.6,558.2L546.3,554.3L547.3,551.3L547.4,550.7L551.5,538.5L555.5,530.3L558.5,527.3L559.1,526.3L559.8,526.1L561.6,524.2L566.7,523.2L569.8,516.1L564.7,510.0L551.5,510.0L549.4,524.2ZM336.7,437.8L327.6,432.5L320.0,442.4L320.0,455.0L341.2,455.0L342.0,462.6L342.5,457.5L342.0,448.4ZM327.6,466.4L331.0,469.0L332.4,469.0ZM327.6,466.4L334.4,470.1L342.0,462.6L341.2,455.0L320.0,455.0L320.0,467.1ZM421.5,505.7L418.4,506.5L412.4,511.8L416.9,514.1ZM184.8,638.7L194.0,631.9L203.2,635.3L212.3,630.7L214.6,621.6L223.8,615.9L221.5,610.1L203.2,607.8L188.3,614.7L189.4,626.2ZM481.2,450.3L480.4,447.7L478.8,446.6L479.2,442.9L475.0,442.7L473.8,445.5L478.6,446.7L475.2,450.8L478.8,453.4L473.8,456.4L475.3,457.8L478.6,457.3L479.1,456.7L479.9,454.9L479.2,453.5ZM479.1,456.7L482.7,460.6L483.3,459.1L481.9,455.4L479.9,454.9Z" fill="#432670" stroke="#432670" stroke-width="0.3"/>
<path d="M142.1,290.4L139.2,297.1L137.1,304.0L141.1,307.7L143.8,312.5L147.3,316.5L151.6,319.9L154.4,324.6L159.2,322.1L164.6,321.4L169.7,319.7L172.8,314.4L174.2,308.4L176.0,302.5L179.3,297.2L175.8,292.8L173.6,287.6L168.9,285.4L163.9,284.0L158.4,285.3L152.9,286.8L147.6,289.1ZM452.3,708.8L449.7,704.3L448.4,699.2L445.7,694.7L442.9,690.2L442.6,684.7L440.4,680.0L437.5,675.6L432.2,675.8L426.9,676.1L421.9,678.3L416.6,678.5L415.6,679.8L410.3,682.2L407.3,682.4L420.1,693.4L420.1,693.4L420.2,693.5L420.2,693.5L420.3,693.6L420.3,693.6L420.4,693.7L420.4,693.7L420.5,693.8L420.5,693.9L420.5,694.0L420.5,694.0L420.6,694.1L420.6,694.1L420.6,694.2L420.6,694.3L420.6,694.4L420.6,694.4L420.6,694.5L420.6,694.6L420.6,694.7L420.6,694.7L420.6,694.8L420.6,694.8L416.1,717.3L416.1,717.3L416.1,717.4L416.1,717.4L416.1,717.5L416.0,717.6L416.0,717.6L416.0,717.7L415.9,717.8L415.9,717.8L415.8,717.9L415.8,717.9L415.7,718.0L415.7,718.0L415.6,718.1L415.6,718.1L415.5,718.2L415.5,718.2L415.4,718.3L415.4,718.3L409.0,721.9L408.1,726.1L407.8,732.3L406.6,738.3L405.8,744.3L411.7,752.2L417.1,752.6L422.5,752.2L427.9,753.0L433.2,754.1L438.7,753.4L444.1,753.8L445.6,752.2L444.8,746.9L443.9,741.6L442.0,736.5L442.7,731.0L441.5,725.7L439.7,720.6L444.5,717.3L447.9,712.5ZM233.6,698.8L229.8,695.3L225.5,692.3L221.9,688.6L221.5,683.4L220.5,678.3L220.2,673.1L221.5,667.9L220.8,662.8L221.3,657.6L220.2,652.5L219.0,652.4L204.6,661.4L202.4,688.1L202.4,688.1L202.3,688.2L202.3,688.3L202.3,688.4L202.3,688.4L202.3,688.5L202.2,688.5L202.2,688.6L202.2,688.7L191.1,709.9L193.8,711.9L207.3,713.1L207.4,713.1L212.5,714.1L213.1,705.6L213.1,705.5L213.1,705.5L213.1,705.4L213.2,705.4L213.2,705.3L213.2,705.3L213.2,705.3L213.3,705.2L213.3,705.2L213.4,705.2L213.4,705.1L213.5,705.1L217.4,703.9L217.4,703.9L217.4,703.9L217.5,703.9L217.5,703.9L217.6,703.9L217.6,703.9L217.7,703.9L217.7,704.0L217.8,704.0L217.8,704.0L217.9,704.0L217.9,704.1L217.9,704.1L217.9,704.2L218.0,704.2L218.0,704.3L218.0,704.3L218.0,704.4L218.0,704.4L218.0,711.1L223.6,716.6L223.6,716.7L223.6,716.7L223.6,716.8L223.7,716.8L223.7,716.8L224.0,717.8L225.6,713.3L228.9,708.8L230.8,703.6ZM166.3,385.7L167.0,385.3L172.3,385.4L177.2,384.0L182.1,387.3L186.3,391.3L190.0,395.9L195.2,394.4L199.3,390.7L204.9,390.1L209.5,387.4L214.2,384.9L222.7,388.9L227.5,385.7L230.9,381.0L235.7,377.7L239.5,373.4L236.7,367.7L232.8,362.5L230.8,356.4L235.5,352.5L240.7,349.1L246.1,346.3L244.8,341.3L242.2,336.6L242.1,331.1L239.7,326.4L234.7,329.0L229.5,331.2L224.8,334.4L219.4,336.1L214.4,338.7L216.1,345.4L216.1,347.0L219.3,349.6L219.4,349.6L219.4,349.6L219.5,349.7L219.5,349.7L219.5,349.8L219.6,349.9L219.6,349.9L219.7,350.0L219.7,350.0L219.7,350.1L219.8,350.1L219.8,350.2L219.8,350.3L219.8,350.4L219.9,350.4L222.8,362.3L222.8,362.4L222.9,362.5L222.9,362.5L222.9,362.6L222.9,362.7L222.9,362.8L222.9,362.8L222.9,362.9L222.9,362.9L222.8,363.0L222.8,363.1L222.8,363.2L222.8,363.2L222.8,363.3L222.7,363.4L222.7,363.5L222.7,363.5L222.6,363.6L222.6,363.6L222.5,363.7L222.5,363.7L222.4,363.8L222.4,363.8L222.3,363.9L222.3,363.9L222.2,364.0L222.1,364.0L222.1,364.0L222.0,364.1L221.9,364.1L221.9,364.1L221.8,364.2L221.8,364.2L213.7,366.2L225.0,371.8L225.1,371.8L225.2,371.9L225.2,371.9L225.3,372.0L225.3,372.0L225.4,372.1L225.4,372.1L225.5,372.2L225.5,372.2L225.6,372.3L225.6,372.3L225.7,372.4L225.7,372.5L225.7,372.5L225.8,372.6L225.8,372.7L225.8,372.7L225.8,372.8L225.8,372.9L225.9,373.0L225.9,373.0L225.9,373.1L225.9,373.2L225.9,373.3L225.9,373.3L225.9,373.4L225.8,373.5L225.8,373.6L225.8,373.6L225.8,373.7L225.8,373.7L222.8,381.2L222.8,381.2L222.7,381.3L222.7,381.4L222.7,381.4L222.6,381.5L222.6,381.6L222.5,381.6L222.5,381.7L222.4,381.7L222.4,381.8L222.3,381.8L222.3,381.9L222.2,381.9L222.1,381.9L222.1,382.0L222.0,382.0L222.0,382.0L221.9,382.1L221.8,382.1L221.7,382.1L221.7,382.1L221.6,382.1L221.6,382.1L221.5,382.1L221.4,382.1L221.3,382.1L221.3,382.1L221.2,382.1L221.1,382.1L203.2,379.1L203.2,379.1L203.1,379.1L203.0,379.1L202.9,379.1L202.9,379.0L202.8,379.0L202.7,379.0L202.6,378.9L202.6,378.9L202.5,378.8L202.5,378.8L202.4,378.7L202.4,378.7L190.6,366.9L178.9,361.1L178.8,361.0L178.7,361.0L178.7,361.0L178.6,360.9L178.6,360.9L178.5,360.8L178.5,360.8L178.4,360.7L178.4,360.7L178.3,360.6L178.3,360.5L178.2,360.5L178.2,360.4L178.2,360.3L178.1,360.3L178.1,360.2L178.1,360.1L178.1,360.0L178.0,360.0L178.0,359.9L178.0,359.8L178.0,359.7L178.0,359.7L178.0,355.4L178.0,341.8L178.0,341.7L178.0,341.6L178.0,341.6L178.0,341.5L178.1,341.5L178.1,341.4L178.1,341.3L178.1,341.2L178.1,341.2L178.2,341.1L178.2,341.1L178.3,341.0L178.3,340.9L178.3,340.9L178.4,340.8L178.4,340.7L178.5,340.7L178.5,340.6L178.6,340.6L178.6,340.6L178.7,340.5L178.8,340.5L178.8,340.5L178.9,340.4L178.9,340.4L179.0,340.4L179.1,340.3L179.2,340.3L179.2,340.3L179.3,340.3L179.3,340.3L182.6,339.9L182.5,339.1L184.7,333.9L181.1,330.2L177.0,327.0L173.6,323.1L169.7,319.7L164.6,321.4L159.2,322.1L154.4,324.6L152.3,330.1L149.8,335.4L147.4,340.7L145.7,346.4L147.9,348.9L153.1,350.3L154.0,350.4L158.2,349.3L158.2,349.3L158.3,349.3L158.4,349.3L158.5,349.2L158.5,349.2L158.6,349.2L158.6,349.2L158.7,349.2L158.8,349.3L158.9,349.3L158.9,349.3L159.0,349.3L159.1,349.3L159.2,349.4L159.2,349.4L159.3,349.4L159.3,349.4L159.4,349.5L159.4,349.5L159.5,349.6L159.6,349.6L159.6,349.7L159.7,349.7L159.7,349.8L159.7,349.8L167.2,358.8L167.2,358.8L167.3,358.8L167.3,358.9L167.4,359.0L167.4,359.0L167.4,359.1L167.4,359.1L167.5,359.2L167.5,359.3L167.5,359.3L167.5,359.4L167.5,359.5L167.6,359.5L167.6,359.6L167.6,359.7L167.6,359.8L167.6,359.8ZM405.7,599.2L411.4,599.8L412.0,599.8L407.6,593.3ZM31.5,455.4L31.5,455.4L31.5,441.8L31.5,441.8L31.5,441.7L31.5,441.6L31.5,441.5L31.6,441.5L31.6,441.4L31.6,441.4L31.6,441.3L31.6,441.2L31.7,441.1L31.7,441.1L31.8,441.0L31.8,441.0L31.8,440.9L31.9,440.8L31.9,440.8L32.0,440.7L32.0,440.7L32.1,440.6L32.2,440.6L32.2,440.6L32.3,440.5L32.3,440.5L32.4,440.4L32.5,440.4L32.6,440.4L32.6,440.4L32.7,440.3L32.8,440.3L32.8,440.3L32.9,440.3L33.0,440.3L33.0,440.3L33.1,440.3L33.2,440.3L33.3,440.3L33.3,440.3L33.4,440.4L33.5,440.4L33.6,440.4L33.6,440.4L33.7,440.5L33.7,440.5L34.5,440.9L34.5,429.4L31.5,430.2ZM230.8,356.4L232.8,362.5L236.7,367.7L239.5,373.4L248.8,375.0L251.8,370.8L255.8,367.5L258.7,363.3L262.8,360.1L260.0,355.4L258.4,350.1L252.2,348.4L246.1,346.3L240.7,349.1L235.5,352.5ZM354.9,759.5L352.5,755.3L350.5,750.4L349.1,748.4L349.0,748.4L348.9,748.4L348.9,748.4L348.8,748.4L348.7,748.4L348.6,748.4L348.6,748.3L348.5,748.3L348.4,748.3L348.4,748.3L348.3,748.3L348.2,748.2L348.2,748.2L348.1,748.2L348.0,748.1L348.0,748.1L347.9,748.0L347.8,748.0L347.8,747.9L347.7,747.9L347.7,747.8L338.8,737.4L338.7,737.4L338.7,737.3L338.7,737.2L338.6,737.2L338.6,737.1L338.5,737.0L338.5,737.0L338.5,736.9L338.5,736.9L338.4,736.8L338.4,736.7L338.4,736.6L338.4,736.6L336.9,724.6L336.9,724.6L336.9,724.5L336.9,724.5L336.9,724.4L336.9,724.3L336.9,724.2L336.9,724.2L336.9,724.1L337.0,724.0L337.0,723.9L337.0,723.9L337.0,723.8L337.1,723.8L337.1,723.7L337.1,723.6L337.2,723.6L337.2,723.5L337.3,723.5L337.3,723.4L337.4,723.3L337.4,723.3L337.5,723.3L337.5,723.2L337.6,723.2L337.6,723.1L337.7,723.1L337.8,723.1L337.9,723.0L337.9,723.0L351.2,718.2L351.2,716.9L352.4,711.7L352.2,706.5L350.9,706.1L344.8,707.9L344.8,707.9L344.7,708.0L344.7,708.0L344.6,708.0L344.5,708.0L344.4,708.0L344.4,708.0L344.3,708.0L344.2,708.0L344.1,708.0L344.1,708.0L344.0,707.9L343.9,707.9L343.8,707.9L343.8,707.9L343.7,707.8L343.7,707.8L343.6,707.8L343.5,707.7L343.5,707.7L343.4,707.7L343.3,707.6L343.3,707.6L343.2,707.5L343.2,707.5L342.0,706.0L337.3,704.2L332.3,703.2L327.1,703.8L322.3,702.2L319.6,704.3L320.9,709.2L323.4,713.6L323.4,718.9L325.2,723.6L326.3,728.5L329.3,732.8L330.0,737.9L325.3,740.3L320.8,743.1L316.7,746.5L314.1,753.3L317.3,757.7L318.1,759.5ZM246.1,346.3L252.2,348.4L258.4,350.1L261.4,345.0L265.0,340.3L267.5,335.0L270.9,330.2L266.1,326.9L261.2,323.7L255.4,322.1L250.8,318.3L245.4,316.1L243.7,316.7L242.5,321.9L239.7,326.4L242.1,331.1L242.2,336.6L244.8,341.3ZM434.2,498.9L438.7,491.0L438.7,491.0L438.7,491.0L438.6,490.9L438.6,490.9L436.6,488.9L434.0,491.5L435.5,493.5L435.5,493.5L435.6,493.6L435.6,493.6L435.7,493.7L435.7,493.7L435.7,493.8L435.7,493.9L435.8,494.0L435.8,494.0L435.8,494.1L435.8,494.2L435.8,494.3L435.8,494.3L435.8,494.4L435.8,494.5L435.8,494.6L435.8,494.6L435.8,494.7L435.8,494.8L435.7,494.9L435.7,494.9ZM485.6,474.0L485.5,471.7L482.5,470.6L481.3,471.2L481.2,474.5ZM469.6,444.8L472.5,446.3L473.8,445.5L475.0,442.7L473.4,440.2L469.6,442.4ZM466.3,463.3L466.8,463.6L471.5,462.9L470.9,461.0L468.0,457.9L465.5,460.7Z" fill="#432a74" stroke="#432a74" stroke-width="0.3"/>
<path d="M76.2,295.7L72.3,291.1L72.1,291.0L68.5,290.7L68.5,290.7L63.6,290.1L63.6,290.1L63.1,290.0L59.0,293.1L54.3,295.5L50.2,298.8L50.0,299.4L51.0,305.6L53.9,311.2L59.3,314.5L64.9,317.7L62.5,324.5L58.5,330.6L62.4,336.6L65.6,343.1L71.8,342.4L78.0,342.1L84.3,342.2L84.4,337.0L86.7,332.2L87.3,327.1L81.8,324.4L76.2,322.3L70.5,320.1L64.9,317.7L66.9,311.7L71.2,307.0L74.2,301.6ZM452.3,708.8L461.0,708.8L464.9,705.4L467.3,700.6L471.0,697.0L474.3,693.0L472.6,687.1L473.0,681.0L467.8,678.9L463.2,676.0L459.3,671.8L454.9,669.6L453.4,672.8L453.4,672.8L453.3,672.9L453.3,672.9L453.2,673.0L453.2,673.1L453.1,673.1L453.1,673.2L453.0,673.2L453.0,673.3L452.9,673.3L452.9,673.4L452.8,673.4L452.7,673.4L452.7,673.5L452.6,673.5L452.5,673.5L452.5,673.5L452.4,673.6L452.3,673.6L452.2,673.6L452.2,673.6L452.1,673.6L452.0,673.6L451.9,673.6L451.9,673.6L451.8,673.6L451.7,673.6L451.6,673.6L451.6,673.5L451.5,673.5L451.5,673.5L451.4,673.5L451.3,673.4L451.2,673.4L451.2,673.4L451.1,673.3L451.1,673.3L445.0,668.4L443.6,668.9L437.5,675.6L440.4,680.0L442.6,684.7L442.9,690.2L445.7,694.7L448.4,699.2L449.7,704.3ZM219.0,652.4L220.2,652.5L224.2,648.5L229.3,646.1L228.9,645.3L228.4,644.9L228.4,644.9L228.3,644.8L228.2,644.8L228.2,644.8L228.1,644.7L228.1,644.6L228.0,644.6L228.0,644.5L228.0,644.5L227.9,644.4L227.9,644.4L227.9,644.3L227.8,644.2L227.8,644.1L227.8,644.1L227.8,644.0L227.8,643.9L227.8,643.8L227.7,643.8L227.7,643.7L227.7,643.6L227.8,643.6L227.8,643.5L227.8,643.4L227.8,643.4L227.8,643.3L227.8,643.2L227.9,643.1L227.9,643.1L227.9,643.0L227.9,643.0L228.0,642.9L228.0,642.8L228.1,642.8L228.1,642.7L228.2,642.6L228.2,642.6L228.3,642.5L228.3,642.5L228.4,642.5L228.4,642.4L228.5,642.4L228.6,642.4L259.9,625.9L260.0,625.9L260.1,625.9L260.1,625.9L260.2,625.8L260.2,625.8L260.3,625.8L260.4,625.8L260.5,625.8L260.5,625.8L260.6,625.8L260.7,625.8L260.8,625.8L260.8,625.8L260.9,625.8L261.0,625.8L261.1,625.8L261.1,625.8L261.2,625.9L261.2,625.9L261.3,625.9L261.4,625.9L261.5,626.0L261.5,626.0L267.9,630.3L263.9,625.2L263.9,625.2L263.9,625.1L263.9,625.1L263.8,625.0L263.8,624.9L263.8,624.8L263.7,624.8L263.7,624.7L263.7,624.7L263.7,624.6L263.7,624.5L263.6,624.4L263.6,624.4L263.6,624.3L263.6,624.3L263.6,624.2L263.6,624.2L264.2,616.9L260.4,608.1L257.7,607.4L257.2,608.5L256.8,614.2L251.5,613.1L246.2,611.6L241.1,610.1L235.8,609.0L231.4,611.7L227.6,615.3L226.1,616.0L226.1,616.0L226.0,616.1L226.0,616.2L226.0,616.2L225.9,616.3L225.9,616.3L225.8,616.4L225.8,616.4L225.7,616.5L225.7,616.5L225.6,616.6L225.6,616.6L222.9,618.2L220.6,619.7L220.5,619.8L220.5,619.8L220.5,619.9L220.4,619.9L220.4,620.0L220.4,620.0L215.0,626.0L214.0,630.1L225.8,638.7L225.8,638.7L225.9,638.8L225.9,638.8L226.0,638.9L226.0,638.9L226.1,639.0L226.1,639.0L226.2,639.1L226.2,639.1L226.2,639.2L226.3,639.3L226.3,639.4L226.3,639.4L226.3,639.5L226.4,639.6L226.4,639.7L226.4,639.7L226.4,639.8L226.4,639.9L226.4,640.0L226.4,640.0L226.4,640.1L226.4,640.2L226.4,640.2L226.3,640.3L226.3,640.4L226.3,640.4L222.9,649.6L222.9,649.6L222.8,649.7L222.8,649.7L222.8,649.8L222.7,649.8L222.7,649.9L222.7,650.0L222.6,650.0L222.6,650.1L222.5,650.1L222.5,650.2L222.4,650.2L222.4,650.3L222.3,650.3L222.3,650.3ZM534.8,142.3L528.2,145.7L522.4,148.7L523.9,168.0L523.9,168.0L523.9,168.1L523.9,168.2L523.9,168.3L523.9,168.3L523.9,168.4L523.9,168.5L523.8,168.6L523.8,168.6L523.8,168.7L523.8,168.7L523.7,168.8L523.7,168.9L523.7,168.9L523.6,169.0L523.6,169.1L523.5,169.1L523.5,169.2L523.5,169.2L521.1,171.6L522.7,172.8L526.9,175.6L532.0,177.2L536.2,180.0L540.1,183.5L544.8,181.8L541.9,170.0L541.9,170.0L541.9,169.9L541.8,169.8L541.8,169.7L541.8,169.6L541.8,169.5L541.8,169.5L541.9,169.4L541.9,169.3L541.9,169.2L541.9,169.2L541.9,169.1L541.9,169.1L544.9,161.6L544.9,161.6L545.0,161.5L545.0,161.4L545.1,161.4L545.1,161.3L545.1,161.2L545.2,161.2L545.2,161.1L545.3,161.1L545.3,161.0L545.4,161.0L545.4,160.9L545.5,160.9L550.1,157.6L547.5,153.7L542.7,150.4L539.4,145.7ZM534.8,115.3L535.9,120.8L537.5,126.1L539.7,131.3L537.4,136.8L534.8,142.3L539.4,145.7L542.7,150.4L547.5,153.7L550.1,157.6L555.1,154.0L553.8,149.0L553.8,149.0L553.8,148.9L553.8,148.9L553.8,148.8L553.8,148.7L553.8,148.6L553.8,148.6L553.8,148.5L553.8,148.4L553.8,148.3L553.9,148.3L553.9,148.2L553.9,148.1L553.9,148.1L554.0,148.0L554.0,147.9L554.0,147.9L554.1,147.8L554.1,147.8L554.2,147.7L554.2,147.6L554.3,147.6L554.3,147.5L554.4,147.5L554.4,147.4L554.5,147.4L554.6,147.4L565.0,141.4L565.0,141.4L565.1,141.3L565.2,141.3L565.3,141.3L565.3,141.3L565.4,141.2L565.5,141.2L565.6,141.2L565.6,141.2L565.7,141.2L565.8,141.2L565.9,141.2L565.9,141.2L566.0,141.2L566.1,141.2L566.2,141.3L566.2,141.3L566.3,141.3L566.4,141.3L566.4,141.4L566.5,141.4L566.6,141.4L566.6,141.5L566.7,141.5L566.7,141.6L566.8,141.6L566.8,141.6L568.7,143.5L568.2,142.4L568.1,142.4L566.7,138.2L566.7,138.1L565.8,133.8L565.8,133.8L565.5,129.3L565.5,129.3L565.8,124.7L565.8,124.6L566.5,120.8L566.5,120.8L566.5,120.7L567.7,117.7L567.7,117.7L567.7,117.6L567.7,117.6L569.3,115.4L569.3,115.3L569.4,115.3L569.4,115.3L569.8,115.0L571.4,113.8L572.9,112.5L574.0,111.3L574.7,110.2L574.9,109.3L574.7,108.8L573.8,108.5L572.1,108.5L569.5,108.7L569.4,108.7L567.1,108.7L567.0,108.7L567.0,108.7L564.9,108.3L564.8,108.2L564.8,108.2L562.8,107.4L562.8,107.4L562.7,107.4L561.0,106.2L561.0,106.2L560.9,106.2L560.9,106.2L559.6,104.6L559.6,104.6L559.6,104.6L559.5,104.5L558.7,102.7L558.7,102.6L558.6,102.6L558.2,100.3L558.2,100.3L558.2,100.2L558.2,97.7L557.8,96.3L557.1,95.8L555.9,96.0L553.9,97.1L553.9,97.1L553.8,97.2L551.9,97.7L550.9,99.0L547.2,103.3L542.5,106.8L538.0,110.4ZM190.7,541.3L191.8,540.0L180.4,540.0L180.4,540.0L180.4,540.0L180.4,540.1L180.5,540.2L180.5,540.3L180.5,540.3L180.5,540.4L180.5,540.5L180.5,540.6L180.5,540.6L180.5,540.7L180.5,540.8L180.4,540.9L180.4,540.9L180.4,541.0L180.4,541.1L180.3,541.1L180.3,541.2L180.2,541.3L180.2,541.3L178.9,543.2L180.1,543.2L185.3,541.4ZM50.2,298.8L54.3,295.5L59.0,293.1L63.1,290.0L58.9,289.4L58.8,289.4L54.3,288.6L54.2,288.6L49.8,287.4L49.7,287.4L45.4,286.0L45.4,286.0L42.6,284.9L43.8,288.9L46.7,294.0ZM116.8,369.6L114.4,364.7L113.5,358.8L108.1,359.5L102.7,358.1L97.3,357.7L91.9,358.7L87.6,364.2L81.7,363.7L75.8,364.1L69.8,364.9L66.4,368.9L63.7,372.7L69.0,373.2L69.0,373.2L69.1,373.2L69.2,373.2L69.3,373.2L69.3,373.2L69.4,373.3L69.5,373.3L69.5,373.3L69.6,373.3L69.7,373.4L69.7,373.4L69.8,373.5L69.8,373.5L69.9,373.6L69.9,373.6L70.0,373.7L70.0,373.7L78.9,384.1L80.2,385.1L78.3,383.2L78.3,383.2L78.2,383.1L78.2,383.1L78.1,383.0L78.1,383.0L78.0,382.9L78.0,382.8L78.0,382.7L78.0,382.7L77.9,382.6L77.9,382.6L77.9,382.5L77.9,382.4L77.9,382.3L77.8,382.3L77.8,382.2L77.8,382.1L77.8,382.0L77.9,382.0L77.9,381.9L77.9,381.8L77.9,381.8L77.9,381.7L77.9,381.6L78.0,381.6L78.0,381.5L78.0,381.4L78.1,381.4L78.1,381.3L78.1,381.2L78.2,381.2L78.2,381.1L78.3,381.1L78.3,381.0L78.4,381.0L78.5,380.9L78.5,380.9L78.6,380.8L78.6,380.8L78.7,380.8L78.8,380.8L78.8,380.7L78.9,380.7L79.0,380.7L79.0,380.7L98.1,376.3L108.3,367.5L108.3,367.5L108.4,367.5L108.4,367.4L108.5,367.4L108.5,367.4L108.6,367.3L108.7,367.3L108.8,367.3L108.8,367.2L108.9,367.2L109.0,367.2L109.1,367.2L109.1,367.2L109.2,367.2L109.3,367.2L109.4,367.2L109.4,367.2L109.5,367.2L109.6,367.2L109.7,367.3L109.7,367.3ZM31.5,488.8L31.5,488.8L31.5,516.3L33.4,519.1L38.0,522.4L41.4,518.3L44.2,513.8L47.1,512.1L43.2,505.6L32.8,503.7L32.7,503.7L32.6,503.7L32.6,503.6L32.5,503.6L32.4,503.6L32.4,503.6L32.3,503.5L32.2,503.5L32.2,503.5L32.1,503.4L32.1,503.4L32.0,503.3L32.0,503.3L31.9,503.2L31.9,503.2L31.8,503.1L31.8,503.0L31.7,502.9L31.7,502.9L31.6,502.8L31.6,502.8L31.6,502.7L31.6,502.6L31.6,502.5L31.5,502.5L31.5,502.4L31.5,502.3L31.5,502.2L31.5,502.2ZM544.3,405.8L547.4,404.7L548.1,403.5L544.4,405.5ZM318.5,561.7L317.5,562.4L318.5,564.6ZM464.4,442.6L467.9,440.6L467.5,438.9L471.5,436.9L471.2,435.2L465.8,434.6L467.9,431.7L467.0,428.9L463.5,430.5L463.9,434.4L465.6,434.7L467.2,438.6L463.9,439.5L463.3,442.6Z" fill="#43367c" stroke="#43367c" stroke-width="0.3"/>
<path d="M454.9,669.6L459.3,671.8L463.2,676.0L467.8,678.9L473.0,681.0L477.5,676.8L482.3,673.0L486.6,668.7L486.6,663.5L487.0,658.4L486.8,653.2L480.6,652.4L474.5,651.9L468.2,653.5L462.0,652.6L457.7,657.1L466.2,661.8L466.2,661.8L466.3,661.9L466.4,661.9L466.4,662.0L466.5,662.0L466.5,662.1L466.6,662.1L466.6,662.2L466.7,662.2L466.7,662.3L466.7,662.3L466.8,662.4L466.8,662.4L466.9,662.5L466.9,662.6L466.9,662.6L466.9,662.7L468.4,667.2L468.4,667.2L468.4,667.3L468.5,667.3L468.5,667.4L468.5,667.5L468.5,667.6L468.5,667.6L468.5,667.7L468.5,667.7L468.5,667.8L468.5,667.9L468.4,668.0L468.4,668.0L468.4,668.1L468.4,668.2L468.3,668.3L468.3,668.3L468.3,668.4L468.3,668.4L468.2,668.5L468.2,668.5L468.1,668.6L468.1,668.6L468.0,668.7L468.0,668.8L467.9,668.8L467.9,668.8L467.8,668.9L467.7,668.9L467.7,669.0L467.6,669.0L467.5,669.0L467.5,669.0L467.4,669.1L467.3,669.1L467.3,669.1L467.2,669.1L467.1,669.1L467.1,669.1L467.0,669.1L466.9,669.1L466.8,669.1L466.8,669.1L455.9,667.8ZM202.8,564.0L199.7,559.8L197.8,555.0L196.2,550.0L193.5,545.6L190.7,541.3L185.3,541.4L180.1,543.2L178.9,543.2L176.2,547.3L176.2,547.4L176.1,547.4L176.1,547.5L176.0,547.5L176.0,547.6L175.9,547.6L175.9,547.7L175.8,547.7L175.8,547.7L175.7,547.8L175.7,547.8L175.6,547.9L175.6,547.9L175.5,547.9L175.4,547.9L175.3,548.0L175.3,548.0L165.0,550.5L168.0,553.5L168.0,553.5L168.0,553.6L168.1,553.6L168.1,553.7L168.1,553.7L168.2,553.8L168.2,553.8L168.3,553.9L168.3,554.0L168.3,554.0L168.3,554.1L168.4,554.2L168.4,554.2L170.1,561.3L179.3,563.2L179.3,563.2L179.4,563.2L179.4,563.2L179.5,563.2L179.6,563.2L179.6,563.3L179.7,563.3L191.7,569.3L191.8,569.3L191.8,569.4L191.9,569.4L191.9,569.5L192.0,569.5L192.0,569.5L192.1,569.6L192.1,569.6L192.2,569.7L192.2,569.7L192.2,569.7L199.3,578.8L199.3,578.8L199.4,578.9L199.4,578.9L199.4,579.0L199.5,579.1L199.5,579.1L199.5,579.2L199.5,579.3L199.6,579.3L199.6,579.4L199.6,579.5L199.6,579.6L199.6,579.6L199.6,579.7L199.6,579.7L199.6,579.8L199.6,579.9L199.6,580.0L199.6,580.0L199.6,580.1L199.5,580.2L199.5,580.3L199.5,580.3L199.5,580.4L199.4,580.4L199.4,580.5L199.4,580.5L192.3,591.6L192.3,591.6L192.3,591.7L192.2,591.7L192.2,591.8L192.1,591.8L192.1,591.9L192.1,591.9L192.0,592.0L191.9,592.0L191.9,592.1L191.8,592.1L191.8,592.1L191.7,592.1L178.6,598.7L181.3,598.6L186.8,596.3L192.7,595.9L198.3,594.1L204.2,594.0L209.9,593.1L212.5,587.4L209.7,582.0L208.0,576.0L205.0,570.7L202.3,565.3ZM460.8,751.8L457.1,751.4L451.4,751.2L445.6,752.2L444.1,753.8L443.6,758.9L443.5,759.5L459.7,759.5L459.6,759.4L459.6,759.4L459.6,759.3L459.6,759.3L459.5,759.2L459.5,759.1L459.5,759.0L459.5,759.0L459.5,758.9L459.5,758.8L459.5,758.7L459.5,758.7L459.5,758.6L459.5,758.6ZM411.7,752.2L410.5,758.0L409.8,759.5L443.5,759.5L443.6,758.9L444.1,753.8L438.7,753.4L433.2,754.1L427.9,753.0L422.5,752.2L417.1,752.6ZM365.0,269.6L359.3,271.9L353.1,272.5L347.3,274.3L341.7,276.8L339.0,285.5L342.0,290.4L344.9,295.3L346.8,300.7L350.4,305.2L346.7,309.3L342.8,313.1L338.2,316.3L334.7,320.7L330.1,323.8L333.7,328.8L337.5,333.6L341.3,338.4L341.0,344.6L340.1,348.5L341.2,348.5L341.2,348.5L341.3,348.5L341.4,348.5L341.5,348.5L341.5,348.5L341.6,348.6L341.7,348.6L341.8,348.6L341.8,348.6L341.9,348.7L341.9,348.7L342.0,348.7L342.1,348.8L342.1,348.8L342.2,348.9L342.3,348.9L342.3,349.0L342.4,349.0L342.4,349.1L345.4,352.8L352.7,361.5L353.7,362.7L353.7,362.7L353.8,362.8L353.8,362.8L353.9,362.9L353.9,362.9L353.9,363.0L357.1,363.1L357.1,362.1L357.1,362.1L357.1,362.0L357.1,361.9L357.2,361.8L357.2,361.8L357.4,360.6L357.4,355.2L357.4,355.2L357.5,355.1L357.5,355.1L357.5,355.0L357.5,354.9L357.5,354.8L357.5,354.8L357.5,354.7L357.6,354.7L357.6,354.6L357.6,354.6L363.6,342.6L363.6,342.6L363.6,342.5L363.7,342.4L363.7,342.4L363.8,342.3L363.8,342.2L363.9,342.2L363.9,342.1L364.0,342.1L364.1,342.0L364.1,342.0L364.2,342.0L364.2,341.9L364.3,341.9L364.4,341.9L364.5,341.8L364.5,341.8L364.6,341.8L364.6,341.8L364.7,341.8L364.8,341.8L377.6,340.4L373.3,333.5L373.3,333.5L373.3,333.4L373.2,333.3L373.2,333.2L373.2,333.2L371.0,326.7L371.0,326.7L371.0,326.6L371.0,326.6L371.0,326.5L371.0,326.5L370.2,321.7L358.5,317.8L358.5,317.8L358.4,317.7L358.3,317.7L358.2,317.7L358.2,317.7L358.1,317.6L358.1,317.6L358.0,317.5L358.0,317.5L357.9,317.4L357.9,317.4L357.8,317.3L357.8,317.3L357.7,317.2L357.7,317.2L357.6,317.1L357.6,317.1L350.2,303.6L350.1,303.6L350.1,303.5L350.1,303.5L350.0,303.4L350.0,303.3L350.0,303.2L350.0,303.2L347.0,288.2L347.0,288.2L347.0,288.1L347.0,288.1L347.0,288.0L347.0,287.9L347.0,287.8L347.0,287.8L347.0,287.7L347.0,287.6L347.0,287.6L347.0,287.5L347.1,287.4L347.1,287.4L347.1,287.3L347.2,287.2L347.2,287.2L347.2,287.1L347.3,287.0L347.3,287.0L347.4,286.9L347.4,286.9L347.5,286.8L347.5,286.8L360.9,274.9L361.0,274.8L361.0,274.8L361.1,274.7L361.2,274.7L361.2,274.7L361.3,274.6L361.4,274.6L361.5,274.6L361.5,274.5L361.6,274.5L361.7,274.5L361.8,274.5L361.8,274.5L361.9,274.5L361.9,274.5L372.8,274.5ZM310.2,528.9L310.2,528.9L310.3,529.0L310.4,529.0L310.5,529.0L310.5,529.1L310.6,529.1L310.6,529.1L310.7,529.2L310.8,529.2L310.8,529.3L310.9,529.3L310.9,529.4L311.0,529.4L311.0,529.5L311.0,529.5L318.5,539.4L318.5,520.8L316.5,521.7L316.5,521.7L316.4,521.8L316.3,521.8L316.2,521.8L316.2,521.8L316.1,521.8L316.0,521.8L315.9,521.8L315.9,521.8L315.9,521.8L315.8,521.8L315.7,521.8L315.6,521.8L315.6,521.8L315.5,521.8L315.4,521.8L315.3,521.7L315.3,521.7L315.2,521.7L315.1,521.6L315.1,521.6L315.0,521.6L314.9,521.5L314.9,521.5L314.8,521.4L314.8,521.4L314.7,521.3L314.7,521.2L314.6,521.2L314.6,521.1L314.6,521.0L314.5,521.0L314.5,520.9L314.5,520.8L314.4,520.8L314.4,520.7L314.4,520.6L314.4,520.6L313.5,515.1L313.2,516.0L311.3,522.8L311.3,522.8L311.3,522.9L311.2,522.9L311.2,523.0L311.2,523.0L311.1,523.1L311.1,523.2L311.1,523.2L311.0,523.3L311.0,523.3L310.9,523.4L310.9,523.4L310.8,523.5L310.8,523.5L310.7,523.6L310.6,523.6L310.6,523.6L304.2,527.5ZM288.9,522.1L288.9,522.1L289.0,522.1L289.0,522.0L289.1,522.0L289.1,522.0L289.2,521.9L289.3,521.9L289.4,521.9L289.4,521.9L289.5,521.9L289.6,521.9L289.7,521.9L289.7,521.9L289.8,521.9L289.8,521.9L289.9,521.9L290.0,521.9L290.1,521.9L290.1,521.9L290.2,521.9L290.3,522.0L290.4,522.0L290.4,522.0L292.2,522.9L289.7,520.4L286.1,524.0ZM121.2,590.2L125.3,591.3L131.2,589.3ZM116.3,509.0L113.5,510.5L115.6,511.9ZM498.4,576.4L498.4,574.0L497.6,574.0ZM210.8,223.3L213.4,226.3L211.4,223.4ZM317.8,541.0L320.0,543.9L320.0,540.3ZM142.7,528.4L150.8,542.5L148.8,528.4L144.8,516.3ZM158.9,510.3L150.8,512.3L144.8,516.3ZM357.5,232.9L359.4,232.4L363.9,241.4L378.9,226.4L379.7,227.0L380.4,226.4L378.9,219.0L371.4,214.5L365.4,202.5L359.4,205.5L350.5,223.4ZM307.7,588.8L311.9,586.8L308.8,585.3L308.5,585.4ZM330.0,584.8L330.0,590.8L311.9,586.8L328.0,590.8L330.0,602.8L332.4,601.8ZM100.5,490.1L116.6,480.1L120.6,470.0L84.4,470.0L94.4,492.1ZM118.6,506.2L134.7,494.2L130.7,482.1L116.6,480.1L100.5,490.1L110.5,510.3ZM130.7,522.3L142.7,528.4L144.8,516.3L150.8,512.3L148.8,502.2L150.8,490.1L144.8,480.1L130.7,482.1L134.7,494.2L118.6,506.2L116.6,514.3ZM506.0,203.3L515.1,207.9L522.7,205.6L530.2,207.9L536.3,208.6L543.9,201.1L546.1,195.0L492.4,195.0L498.4,199.5ZM532.1,550.2L535.5,546.1L535.9,545.2L532.1,550.2ZM545.0,574.0L545.0,535.3L538.0,542.8L532.0,550.4L523.7,559.5L518.4,574.0ZM471.2,435.2L472.1,433.0L471.1,431.8L467.9,431.7L465.8,434.6Z" fill="#432973" stroke="#432973" stroke-width="0.3"/>
<path d="M544.9,759.5L545.4,758.4L548.9,753.8L552.4,749.3L551.3,741.7L546.2,738.1L543.2,736.6L543.2,758.8L543.2,758.9L543.2,759.0L543.2,759.0L543.2,759.1L543.2,759.2L543.2,759.2L543.2,759.3L543.1,759.4L543.1,759.4L543.1,759.5ZM314.7,658.1L311.0,654.2L308.7,653.1L311.5,668.9L311.5,668.9L311.5,669.0L311.5,669.0L311.5,669.1L311.5,669.2L311.5,669.3L311.5,669.3L311.5,669.4L311.4,669.5L311.4,669.6L311.4,669.6L311.4,669.7L311.3,669.7L311.3,669.8L311.3,669.9L311.2,670.0L311.2,670.0L311.1,670.1L311.1,670.1L311.0,670.2L311.0,670.2L310.9,670.3L310.9,670.3L310.8,670.4L310.8,670.4L310.7,670.4L310.6,670.5L310.6,670.5L310.5,670.5L310.4,670.6L310.4,670.6L310.3,670.6L310.2,670.6L310.1,670.6L310.1,670.6L310.0,670.6L309.9,670.6L309.8,670.6L309.8,670.6L309.7,670.6L309.6,670.6L309.5,670.6L309.5,670.5L309.4,670.5L309.4,670.5L309.1,670.4L309.9,671.5L313.4,669.0L313.3,663.5ZM361.0,602.9L363.5,601.7L369.4,599.7L375.2,597.2L375.8,595.7L373.1,591.4L371.0,586.8L368.6,583.3L367.2,582.0L367.2,581.9L367.2,581.9L367.1,581.8L367.1,581.7L367.0,581.7L367.0,581.6L367.0,581.6L366.9,581.5L366.9,581.4L366.9,581.3L366.8,581.3L366.8,581.2L366.8,581.1L366.8,581.0L366.8,581.0L366.5,575.5L365.4,575.5L365.4,575.5L365.3,575.5L365.3,575.5L365.2,575.5L365.1,575.5L365.0,575.5L365.0,575.4L364.9,575.4L364.8,575.4L364.7,575.3L364.7,575.3L364.6,575.3L364.6,575.2L364.5,575.2L364.4,575.2L364.4,575.1L364.3,575.0L364.3,575.0L364.2,574.9L364.2,574.9L364.2,574.8L364.1,574.7L364.1,574.7L364.0,574.6L364.0,574.5L364.0,574.4L364.0,574.4L364.0,574.3L363.9,574.3L363.9,574.2L363.9,574.1L363.9,574.0L363.9,574.0L363.9,573.9L363.9,573.8L364.0,573.7L364.0,573.7L364.0,573.6L364.0,573.5L364.1,573.4L364.1,573.4L366.1,569.0L365.9,566.3L365.4,558.8L364.1,556.4L364.1,556.4L364.1,556.3L364.0,556.3L364.0,556.2L364.0,556.1L364.0,556.0L364.0,556.0L363.9,555.9L363.9,555.8L363.9,555.7L363.9,555.7L363.9,555.6L363.9,555.5L364.0,555.4L364.0,555.4L364.0,555.3L364.0,555.2L364.0,555.2L364.0,555.1L364.1,555.0L364.1,555.0L364.2,554.9L364.2,554.8L364.2,554.8L364.3,554.7L364.3,554.7L364.4,554.6L364.5,554.6L364.5,554.5L364.6,554.5L364.6,554.4L364.7,554.4L364.7,554.4L364.8,554.3L364.9,554.3L362.4,553.5L362.3,553.9L362.3,553.9L362.3,554.0L362.3,554.0L362.2,554.1L362.2,554.2L362.1,554.2L362.1,554.3L356.8,562.3L353.2,567.6L352.2,572.2L357.7,600.9ZM53.1,371.7L50.3,369.9L44.8,366.5L41.8,368.2L41.4,370.7ZM341.7,276.8L339.4,271.1L335.7,266.2L333.3,260.5L327.2,258.5L321.2,256.0L315.2,253.8L313.3,258.8L309.0,262.3L306.9,267.2L304.2,271.7L306.6,276.3L309.6,280.7L311.8,285.4L313.8,290.3L319.0,290.3L324.0,289.0L329.1,288.3L333.9,286.4L339.0,285.5ZM31.5,390.8L32.2,392.9L34.5,399.0L34.5,383.1L31.5,385.3ZM322.2,323.4L320.8,324.4L314.0,339.4L313.9,339.4L313.9,339.5L313.9,339.6L313.8,339.7L313.8,339.7L313.7,339.8L313.7,339.8L313.6,339.9L313.6,339.9L301.6,350.4L301.6,350.4L301.5,350.5L301.5,350.5L301.5,350.5L306.1,353.5L310.6,357.8L314.7,362.7L318.5,362.3L318.5,350.0L318.5,350.0L318.5,349.9L318.5,349.8L318.5,349.7L318.5,349.7L318.6,349.6L318.6,349.5L318.6,349.4L318.6,349.4L318.7,349.3L318.7,349.3L318.7,349.2L318.8,349.1L318.8,349.1L318.9,349.0L318.9,349.0L319.0,348.9L319.0,348.9L319.1,348.8L319.1,348.8L319.2,348.7L319.3,348.7L319.3,348.7L319.4,348.6L319.4,348.6L319.5,348.6L319.6,348.6L319.7,348.5L319.7,348.5L319.8,348.5L319.9,348.5L320.0,348.5L320.0,348.5L340.1,348.5L341.0,344.6L341.3,338.4L337.5,333.6L333.7,328.8L330.1,323.8ZM352.2,706.5L352.4,711.7L351.2,716.9L351.2,718.2L354.3,717.1L354.4,717.0L354.4,717.0L354.5,717.0L354.6,717.0L354.6,717.0L354.7,717.0L354.8,717.0L354.9,717.0L354.9,717.0L355.0,717.0L355.1,717.0L355.2,717.0L355.2,717.0L355.3,717.0L355.4,717.1L355.5,717.1L355.5,717.1L355.6,717.2L355.6,717.2L355.7,717.2L355.8,717.3L355.8,717.3L355.9,717.4L355.9,717.4L356.0,717.5L356.0,717.6L356.1,717.6L356.1,717.7L356.1,717.7L359.6,723.5L369.3,709.7L364.8,707.9L364.7,707.9L364.7,707.8L364.6,707.8L364.5,707.8L364.5,707.8L364.4,707.7L364.4,707.7L364.3,707.6L364.3,707.6L364.2,707.5L364.2,707.5L364.1,707.4L364.1,707.4L360.8,703.0L353.1,705.4ZM291.9,471.6L292.6,477.5L292.4,483.4L295.0,484.8L301.3,482.7L301.3,482.7L301.4,482.6L301.5,482.6L301.6,482.6L301.6,482.6L301.7,482.6L301.8,482.6L301.9,482.6L301.9,482.6L302.0,482.6L302.1,482.6L302.2,482.6L302.2,482.7L302.3,482.7L302.4,482.7L302.5,482.8L302.4,482.7L302.4,482.6L302.4,482.5L302.4,482.5L302.3,482.4L302.3,482.3L302.3,482.3L302.3,482.2L302.3,482.1L302.3,482.1L302.3,482.0L302.3,481.9L302.3,481.8L302.3,481.8L302.4,481.7L302.4,481.6L302.4,481.5L302.4,481.5L302.5,481.4L302.5,481.4L302.5,481.3L302.6,481.2L302.6,481.1L302.7,481.1L302.7,481.0L302.7,481.0L303.7,480.1L303.6,479.5L303.6,479.5L303.6,479.4L303.6,479.3L303.6,479.2L303.6,479.2L303.6,479.1L303.7,479.0L303.7,478.9L303.7,478.9L303.7,478.8L303.7,478.7L303.8,478.7L303.8,478.6L303.9,478.5L303.9,478.5L303.9,478.4L304.0,478.4L304.0,478.3L304.1,478.3L304.1,478.2L304.2,478.2L304.3,478.1L304.3,478.1L308.5,475.3L309.4,474.4L297.2,470.3L297.1,470.3L297.0,470.2L297.0,470.2L296.9,470.2L296.9,470.1L296.8,470.1L296.7,470.1L296.7,470.0L296.6,470.0L296.5,469.9L296.5,469.8L296.4,469.8L296.4,469.7L296.4,469.6L296.3,469.6L296.3,469.5L296.3,469.5L296.2,469.4L296.2,469.3L296.2,469.2L296.2,469.2L296.1,469.0ZM444.3,457.9L441.3,459.9L437.3,461.9L436.1,463.1L436.1,463.1L436.1,463.2L436.0,463.2L435.9,463.3L435.9,463.3L435.9,463.3L439.6,467.8L442.6,464.0L444.4,461.2L444.4,461.2L444.5,461.2L444.5,461.2L446.7,458.2ZM479.9,476.7L481.2,474.5L481.3,471.2L478.7,469.8L477.6,470.5L476.2,474.2ZM478.7,468.9L478.7,469.8L481.3,471.2L482.5,470.6L483.4,467.4L481.9,466.4Z" fill="#433079" stroke="#433079" stroke-width="0.3"/>
<path d="M359.3,650.0L353.0,650.7L347.1,653.3L341.0,655.0L341.4,660.6L343.1,666.0L342.6,671.7L344.0,677.2L348.2,679.5L353.0,677.5L357.9,675.7L363.3,675.3L368.1,673.3L372.9,671.2L374.6,663.3L371.4,659.2L366.4,657.3L362.9,653.5ZM169.7,319.7L173.6,323.1L177.0,327.0L181.1,330.2L184.7,333.9L189.9,332.7L195.2,331.6L200.0,328.8L205.3,327.8L206.1,321.6L202.8,317.5L200.7,312.5L197.3,308.5L194.7,304.0L192.2,300.9L188.1,299.9L188.1,299.9L188.0,299.8L188.0,299.8L187.9,299.8L187.8,299.8L187.7,299.7L187.7,299.7L187.6,299.6L187.6,299.6L187.5,299.5L187.5,299.5L187.4,299.4L187.4,299.4L187.3,299.3L187.3,299.3L187.2,299.2L187.2,299.1L187.1,299.1L187.1,299.0L187.1,298.9L187.1,298.9L187.0,298.8L187.0,298.7L187.0,298.6L187.0,298.6L187.0,298.5L187.0,298.4L187.0,298.3L187.0,298.3L187.0,298.2L185.5,297.7L179.3,297.2L176.0,302.5L174.2,308.4L172.8,314.4ZM205.3,327.8L210.4,332.7L214.4,338.7L219.4,336.1L224.8,334.4L229.5,331.2L234.7,329.0L239.7,326.4L242.5,321.9L243.7,316.7L239.4,313.6L234.5,311.6L230.6,307.9L225.8,305.6L222.5,309.6L217.9,312.0L214.5,315.9L209.5,317.8L206.1,321.6ZM375.8,595.7L379.2,593.9L368.6,583.3L371.0,586.8L373.1,591.4ZM444.3,116.3L445.6,116.9L446.1,103.8L455.1,99.3L459.6,78.4L455.1,97.8L444.7,103.8L443.2,117.3ZM266.2,485.3L259.5,481.9L264.8,487.4ZM272.9,442.1L269.2,443.4L273.0,444.5ZM268.3,444.4L269.2,443.4L267.9,443.3ZM391.3,698.3L389.2,697.5L396.7,708.0L395.4,708.3L401.2,717.0L392.3,697.2ZM136.2,308.9L119.7,307.4L107.8,302.9L106.3,304.4L119.7,308.9L136.3,310.1ZM536.3,210.1L542.3,222.3L536.3,209.4L528.7,225.3ZM281.7,533.8L281.7,538.5L279.6,542.5L289.7,550.5L285.7,540.5ZM326.1,550.4L323.3,548.3L325.3,551.0ZM467.4,352.2L466.2,349.4L465.1,350.0L467.6,353.8L468.8,352.6ZM467.2,354.2L461.0,352.3L466.9,354.5ZM455.1,141.2L467.1,145.7L474.6,153.2L494.0,151.7L489.5,139.7L483.5,129.2L488.0,117.3L485.0,108.3L476.1,105.3L467.1,106.8L455.1,99.3L446.1,103.8L444.7,139.7ZM344.5,235.4L350.5,223.4L359.4,205.5L354.9,196.5L337.0,190.6L329.5,196.5L329.5,211.5L329.5,232.4ZM87.4,536.4L94.4,534.4L98.5,552.5L120.6,547.5L136.7,545.5L150.8,542.5L142.7,528.4L130.7,522.3L116.6,514.3L110.5,510.3L104.5,518.3L88.4,520.3L79.3,530.4ZM546.9,235.9L547.6,234.7L547.6,233.1L554.7,226.1L552.7,223.7L551.4,222.9L551.8,222.7L551.4,222.3L557.5,220.0L557.5,209.4L550.8,200.4L548.8,200.7L543.9,201.8L536.3,209.4L542.3,222.3ZM523.4,245.7L525.7,251.0L534.8,252.5L536.3,260.1L538.6,254.8L546.1,252.5L546.9,235.9L542.3,222.3L536.3,210.1L528.7,225.3L521.1,229.8L516.6,238.9L516.6,246.5ZM558.4,316.2L557.8,315.8L560.5,316.1L564.3,315.9L568.0,316.9L569.3,317.1L570.5,304.4L568.3,300.0L551.4,300.0L549.9,316.7ZM454.8,400.4L455.3,397.8L453.4,398.6ZM438.3,402.6L436.3,406.0L436.3,406.1L439.6,401.5L445.0,400.3L439.8,400.7L439.6,400.7ZM459.3,413.6L457.5,419.0L460.6,419.0L459.4,413.6ZM543.0,407.8L543.7,408.2L545.0,407.5L545.0,409.0L550.4,412.2L552.5,400.0L573.9,400.0L574.9,400.0L571.1,393.9L568.1,392.4L556.0,393.9L552.9,398.4L548.4,406.0ZM538.0,410.6L534.3,412.1L532.1,414.3L543.7,408.2L540.8,406.4ZM529.0,421.2L530.3,415.8L530.0,416.0ZM547.4,446.8L556.6,436.7L553.5,420.4L550.4,412.2L545.0,409.0L545.0,434.8L535.0,439.3L522.9,435.6L519.3,442.4L514.8,451.9L529.1,448.9L537.2,455.0ZM608.5,475.4L620.7,473.3L620.7,430.5L612.6,434.6L602.4,450.9L598.3,467.2L603.4,475.4ZM380.6,365.1L403.3,365.1L403.3,357.6L403.5,355.7L401.8,350.0L365.4,350.0L360.9,353.0L358.6,362.1L358.6,363.6ZM326.1,367.4L344.2,353.8L341.2,350.0L320.0,350.0L320.0,363.6ZM435.8,406.0L439.6,400.7L447.2,398.5L455.5,396.9L463.1,389.4L457.8,383.3L448.7,378.0L439.6,386.3L432.1,400.0L432.1,404.5ZM438.1,421.2L444.2,428.0L450.2,429.5L456.3,422.7L459.3,413.6L453.3,407.5L454.8,400.4L453.3,398.5L439.6,401.5L435.8,406.8L436.6,413.6ZM522.9,435.6L535.0,439.3L545.0,434.8L545.0,407.5L530.5,415.1L529.0,421.2L513.8,425.7L513.8,431.8ZM331.4,533.7L342.7,532.2L345.7,521.6L345.0,512.5L334.4,506.5L326.1,506.5L323.0,518.6L326.8,527.7ZM326.1,550.4L332.1,545.9L346.5,540.6L342.7,532.2L331.4,533.7L326.8,527.7L323.0,518.6L320.0,520.1L320.0,545.9ZM373.8,555.7L382.1,553.4L385.1,539.8L380.6,538.3L368.5,547.4L363.2,545.9L362.4,551.9ZM473.3,450.7L472.5,446.3L469.6,444.8L468.3,445.8L467.0,450.5L469.6,451.5ZM464.6,450.2L462.2,446.3L461.4,445.8L459.1,446.8L459.5,450.8L462.8,451.6ZM484.9,454.3L481.9,455.4L483.3,459.1L485.6,458.0L486.3,455.3Z" fill="#432f78" stroke="#432f78" stroke-width="0.3"/>
<path d="M313.4,669.0L309.9,671.5L312.7,675.8L312.7,675.8L312.8,675.9L312.8,675.9L312.9,676.0L312.9,676.0L312.9,676.1L312.9,676.2L312.9,676.3L313.0,676.3L313.0,676.4L313.0,676.5L313.0,676.6L313.0,676.6L313.0,676.7L313.0,676.8L313.0,676.9L312.9,676.9L312.9,677.0L312.9,677.0L308.4,692.0L308.4,692.0L308.4,692.1L308.4,692.1L308.3,692.2L308.3,692.3L308.3,692.3L308.2,692.4L308.2,692.5L308.2,692.5L308.1,692.6L308.1,692.6L308.0,692.7L308.0,692.7L307.9,692.8L307.8,692.8L307.8,692.8L307.7,692.9L307.6,692.9L307.6,692.9L307.5,693.0L307.5,693.0L307.4,693.0L307.3,693.0L298.7,695.0L302.1,695.9L302.9,696.1L302.9,696.1L303.0,696.1L303.0,696.1L303.1,696.2L303.2,696.2L303.3,696.2L303.3,696.3L303.4,696.3L303.4,696.3L303.5,696.4L303.5,696.4L303.6,696.5L303.6,696.5L303.7,696.6L303.7,696.7L303.8,696.7L303.8,696.8L303.9,696.9L303.9,696.9L303.9,697.0L303.9,697.0L304.0,697.1L304.0,697.2L305.4,702.9L307.0,704.1L313.3,704.5L319.6,704.3L322.3,702.2L324.9,696.1L325.3,689.2L328.0,683.1L324.7,679.2L320.2,676.5L316.4,673.2ZM515.5,105.6L520.2,108.4L525.1,110.6L529.6,113.7L534.8,115.3L538.0,110.4L542.5,106.8L547.2,103.3L550.9,99.0L551.9,97.7L551.7,97.8L551.6,97.8L551.6,97.8L549.3,98.0L549.2,98.0L549.2,98.0L546.8,97.6L546.7,97.6L546.7,97.6L544.1,96.7L544.0,96.7L541.8,95.7L541.7,95.6L539.7,94.3L539.7,94.3L539.6,94.3L537.9,92.7L537.9,92.7L537.9,92.7L536.4,90.9L536.4,90.9L536.4,90.9L536.4,90.8L535.4,88.5L535.4,88.4L535.4,88.4L535.0,85.5L535.0,85.5L535.0,85.4L535.1,82.0L535.1,81.9L535.6,77.9L536.0,74.6L536.1,71.9L536.1,69.9L535.8,68.7L535.2,67.9L534.1,67.6L532.4,67.7L530.2,68.2L530.1,68.2L527.7,68.5L527.6,68.5L525.0,68.5L525.0,68.5L522.3,68.2L522.2,68.2L519.4,67.7L516.4,67.1L513.3,66.5L510.0,65.9L506.6,65.4L506.5,65.3L503.7,64.6L503.6,64.6L501.3,63.8L501.3,63.8L501.2,63.7L499.5,62.7L499.5,62.7L499.5,62.7L499.4,62.7L498.3,61.5L498.2,61.5L498.2,61.5L497.2,60.1L497.2,60.0L496.3,58.4L496.3,58.4L495.6,56.5L495.6,56.4L495.0,54.3L494.5,52.7L494.3,51.9L493.5,51.9L493.6,51.9L493.6,52.0L493.7,52.0L493.7,52.1L493.8,52.2L493.8,52.2L493.8,52.3L493.9,52.3L493.9,52.4L493.9,52.5L498.4,64.4L498.4,64.4L498.4,64.5L498.4,64.6L498.5,64.7L498.5,64.7L498.5,64.8L498.5,64.9L498.5,64.9L498.5,65.0L498.5,65.1L498.5,65.1L498.5,65.2L498.5,65.2L492.5,94.8L496.6,108.4L496.7,108.3L496.7,108.3L496.8,108.3L496.9,108.3L497.0,108.3L497.0,108.3L508.9,108.3L510.4,107.8ZM544.8,181.8L540.1,183.5L536.8,190.1L535.9,193.5L546.1,193.5L546.1,193.5L546.2,193.5L546.3,193.5L546.4,193.5L546.4,193.5L546.5,193.6L546.6,193.6L546.7,193.6L546.7,193.6L546.8,193.7L546.8,193.7L546.9,193.7L547.0,193.8L547.0,193.8L547.1,193.8L547.2,193.9L547.2,193.9L547.3,194.0L547.3,194.0L547.3,194.1L547.4,194.2L547.4,194.2L547.4,194.3L547.5,194.4L547.5,194.4L547.5,194.5L547.6,194.6L547.6,194.6L547.6,194.7L547.6,194.8L547.6,194.8L547.6,194.9L547.6,195.0L547.6,195.1L547.6,195.1L547.6,195.2L547.6,195.3L547.6,195.4L547.6,195.4L547.6,195.4L553.8,190.7L553.8,190.7L553.9,190.6L553.9,190.6L554.0,190.6L554.0,190.6L560.8,189.8L545.7,182.9L545.7,182.9L545.6,182.9L545.6,182.9L545.5,182.8L545.4,182.8L545.4,182.7L545.3,182.7L545.2,182.6L545.2,182.6L545.1,182.5L545.1,182.5L545.1,182.4L545.0,182.3L545.0,182.2L545.0,182.2L544.9,182.1L544.9,182.1L544.9,182.0L544.9,181.9ZM263.4,444.5L264.9,445.6L265.9,444.7ZM373.5,91.5L372.8,83.2L375.7,78.4L379.4,74.3L383.6,70.5L382.5,65.4L382.2,64.5L379.5,72.2L379.4,72.2L379.4,72.3L371.4,84.2L365.5,97.2L365.4,97.2L359.9,107.7L359.9,107.8L359.9,107.8L359.9,107.8L359.8,107.9L359.8,107.9L359.7,107.9L359.7,108.0L352.8,111.0L352.8,113.9L351.5,119.3L356.1,121.4L361.0,122.9L365.7,125.1L370.2,127.5L375.6,125.0L380.2,121.0L385.5,118.4L390.8,115.7L388.9,108.8L388.7,101.6L383.5,98.4L378.4,95.2ZM38.8,301.8L36.2,307.9L32.2,313.3L37.6,316.5L43.6,318.6L48.9,315.1L53.9,311.2L51.0,305.6L50.0,299.4L44.3,300.3ZM339.0,285.5L333.9,286.4L329.1,288.3L324.0,289.0L319.0,290.3L313.8,290.3L312.5,295.9L310.3,301.2L305.0,302.7L299.6,303.5L294.5,303.8L294.7,305.7L294.7,305.8L294.7,305.9L294.7,305.9L294.7,306.0L294.6,306.1L294.6,306.2L294.6,306.2L294.6,306.3L294.6,306.4L294.5,306.4L294.5,306.5L294.5,306.6L294.5,306.6L294.4,306.7L294.4,306.7L294.3,306.8L294.3,306.9L294.2,306.9L294.2,307.0L294.1,307.0L294.1,307.1L294.0,307.1L294.0,307.2L293.9,307.2L293.8,307.2L293.7,307.3L293.7,307.3L293.6,307.3L293.5,307.3L293.4,307.4L293.4,307.4L293.3,307.4L293.2,307.4L293.1,307.4L293.1,307.4L293.0,307.4L292.9,307.4L292.9,307.4L292.8,307.3L292.7,307.3L292.7,307.3L286.7,305.3L283.5,305.7L283.0,311.2L282.4,316.7L280.7,322.0L281.0,327.5L285.1,330.5L286.9,331.8L299.3,311.1L299.4,311.1L299.4,311.0L299.4,311.0L299.5,310.9L299.5,310.8L299.6,310.8L299.6,310.7L299.7,310.7L299.7,310.7L299.8,310.6L299.9,310.6L299.9,310.5L300.0,310.5L300.1,310.5L300.1,310.5L300.2,310.4L300.3,310.4L300.4,310.4L300.4,310.4L300.5,310.4L300.5,310.4L300.6,310.4L300.7,310.4L300.8,310.4L300.8,310.4L300.9,310.4L301.0,310.4L301.1,310.4L301.1,310.4L301.2,310.5L301.2,310.5L301.3,310.5L301.3,310.5L320.8,321.0L320.8,321.0L320.9,321.1L320.9,321.1L321.0,321.2L321.1,321.2L321.1,321.3L321.2,321.3L321.2,321.4L321.3,321.4L321.3,321.5L321.3,321.5L321.4,321.6L321.4,321.7L321.5,321.8L321.5,321.8L321.5,321.9L321.5,321.9L321.5,322.0L321.6,322.1L321.6,322.2L321.6,322.2L321.6,322.3L321.6,322.4L321.6,322.5L321.6,322.5L321.5,322.6L321.5,322.7L321.5,322.8L321.5,322.8L321.4,322.9L321.4,323.0L320.8,324.4L322.2,323.4L330.1,323.8L334.7,320.7L338.2,316.3L342.8,313.1L346.7,309.3L350.4,305.2L346.8,300.7L344.9,295.3L342.0,290.4ZM281.0,327.5L280.7,322.0L282.4,316.7L283.0,311.2L283.5,305.7L282.0,303.8L274.7,301.3L274.7,301.3L274.6,301.3L274.6,301.3L274.5,301.2L274.4,301.2L274.4,301.1L274.3,301.1L274.2,301.0L274.2,301.0L274.1,300.9L274.1,300.9L274.0,300.8L274.0,300.8L273.9,300.7L273.9,300.6L273.9,300.5L273.8,300.5L273.8,300.4L273.8,300.4L272.2,295.7L269.1,295.8L263.1,298.2L256.7,298.7L254.1,303.2L250.8,307.2L247.7,311.5L245.4,316.1L250.8,318.3L255.4,322.1L261.2,323.7L266.1,326.9L270.9,330.2L276.2,329.5ZM328.0,683.1L325.3,689.2L324.9,696.1L322.3,702.2L327.1,703.8L332.3,703.2L337.3,704.2L342.0,706.0L335.7,698.5L335.7,698.5L335.7,698.4L335.6,698.4L335.6,698.3L335.6,698.2L335.5,698.1L335.5,698.1L335.5,698.0L335.5,698.0L335.4,697.9L335.4,697.8L335.4,697.7L335.4,697.7L335.4,697.6L335.4,697.5L335.4,697.4L335.4,697.4L335.4,697.3L335.4,697.2L335.5,697.1L335.5,697.1L335.5,697.0L335.5,697.0L335.6,696.9L335.6,696.8L335.6,696.7L335.6,696.7L335.7,696.6L335.7,696.6L335.8,696.5L335.8,696.5L335.9,696.4L335.9,696.4L336.0,696.3L336.1,696.3L336.1,696.2L336.2,696.2L346.6,690.2L346.6,690.2L346.7,690.2L346.8,690.2L346.9,690.1L346.9,690.1L347.0,690.1L347.0,690.1L372.4,684.1L372.5,684.1L372.6,684.1L372.6,684.1L372.7,684.1L372.8,684.1L372.9,684.1L372.9,684.1L373.0,684.1L373.0,684.1L373.1,684.1L373.2,684.1L373.3,684.2L373.3,684.2L373.4,684.2L373.5,684.2L373.5,684.3L373.6,684.3L373.7,684.4L373.7,684.4L373.8,684.4L373.8,684.5L373.9,684.5L373.9,684.6L374.0,684.7L374.0,684.7L374.1,684.8L374.1,684.8L378.3,691.8L381.4,693.0L382.4,689.9L380.0,685.2L377.3,680.7L374.6,676.2L372.9,671.2L368.1,673.3L363.3,675.3L357.9,675.7L353.0,677.5L348.2,679.5L344.0,677.2L338.6,679.0L333.7,682.0ZM382.4,689.9L381.4,693.0L389.8,696.1L389.8,696.1L389.9,696.2L389.9,696.2L390.0,696.2L390.0,696.3L390.1,696.3L390.2,696.4L390.2,696.4L390.3,696.5L390.3,696.5L390.4,696.6L390.4,696.6L390.4,696.7L386.7,688.5ZM346.8,433.9L347.2,432.3L345.2,433.7L346.5,433.9ZM400.0,234.4L400.0,208.5L383.3,208.5L389.3,233.9L400.4,235.3ZM404.7,247.3L404.5,245.0L402.5,240.2L404.3,247.4ZM478.6,457.3L479.2,462.6L480.6,462.7L482.5,461.8L482.7,460.6L479.1,456.7Z" fill="#42397e" stroke="#42397e" stroke-width="0.3"/>
<path d="M540.1,183.5L536.2,180.0L532.0,177.2L526.9,175.6L522.7,172.8L521.1,171.6L515.6,177.1L523.9,177.1L523.9,177.1L524.0,177.1L524.1,177.1L524.2,177.1L524.2,177.1L524.3,177.1L524.3,177.2L524.4,177.2L524.5,177.2L524.6,177.2L524.6,177.3L524.7,177.3L524.7,177.3L524.8,177.4L524.8,177.4L524.9,177.5L524.9,177.5L525.0,177.6L525.0,177.6L525.1,177.7L525.1,177.7L525.2,177.8L525.2,177.8L534.3,193.5L535.9,193.5L536.8,190.1ZM62.1,459.2L60.0,461.3L63.0,461.1ZM362.5,551.0L363.2,545.9L360.9,553.4ZM365.4,555.7L373.8,555.7L363.6,552.3ZM444.6,141.2L455.1,141.2L444.7,139.7ZM286.4,222.3L299.6,229.4L287.7,219.0ZM320.0,520.1L323.0,518.6L320.0,518.6ZM609.5,481.5L620.7,473.3L608.5,475.4L603.4,475.4ZM334.4,385.6L329.1,380.3L328.1,376.0L326.1,385.1L329.9,386.3L342.7,385.6L344.2,386.2L342.7,381.8ZM534.8,252.5L529.7,251.7L530.2,252.2L534.8,253.3L536.3,260.1ZM512.1,228.3L518.6,226.6L515.4,225.4L514.9,226.4L513.7,226.7ZM465.1,244.2L463.4,245.1L471.2,246.5ZM342.7,464.1L342.0,462.6L341.1,463.4L341.0,464.4L339.3,465.2L334.4,470.1ZM188.7,628.0L188.3,628.0L186.6,631.0L184.4,639.0L184.8,638.7ZM315.7,561.9L311.9,564.6L309.8,574.7L312.0,574.2L317.5,566.0ZM305.7,583.7L303.8,582.7L302.9,583.9L305.5,583.9ZM254.7,652.7L268.1,663.1L274.5,666.8L281.1,661.7L282.8,656.5L281.5,653.0L269.6,633.2L260.6,627.3L229.2,643.7L239.7,651.2ZM94.4,583.8L108.5,594.8L108.9,594.6L116.2,589.5L118.2,590.0L120.6,588.8L141.7,586.8L142.7,574.7L154.8,566.6L168.9,562.6L166.9,554.6L160.5,548.1L155.2,545.0L149.5,542.8L136.7,545.5L120.6,547.5L98.5,552.5L87.4,568.7L90.4,574.7ZM219.2,506.2L229.3,512.3L239.4,508.3L249.4,512.3L251.5,504.2L231.3,488.1L215.2,482.1L207.2,488.1L212.2,500.2ZM477.2,213.2L484.8,214.7L489.3,224.5L504.5,226.8L512.1,228.3L515.1,225.3L516.6,216.2L522.7,205.6L515.1,207.9L506.0,203.3L498.4,199.5L492.4,195.0L481.8,199.5L483.3,210.1ZM436.3,350.0L436.3,350.0L436.6,350.0L457.0,350.8L461.0,352.3L467.2,354.2L467.6,353.8L465.1,350.0L466.2,349.4L465.9,348.5L470.4,346.2L471.2,346.9L472.7,340.1L471.2,330.3L465.1,322.7L450.0,325.0L440.1,327.3L428.0,326.5L424.2,332.6L431.8,340.9Z" fill="#424081" stroke="#424081" stroke-width="0.3"/>
<path d="M205.8,487.5L203.3,485.0L200.7,480.7L195.8,482.2L191.5,484.8L187.6,488.1L183.2,490.6L189.5,492.7L189.5,492.7L189.6,492.8L189.7,492.8L189.8,492.8L189.8,492.9L189.9,492.9L189.9,492.9L190.0,493.0L190.0,493.0L190.1,493.1L190.1,493.1L190.2,493.2L190.2,493.2L190.3,493.3L190.3,493.4L190.4,493.4L190.4,493.5L190.4,493.6L190.4,493.6L190.5,493.7L190.5,493.8L190.5,493.8L190.5,493.9L190.5,494.0L190.5,494.0L190.5,494.1L190.5,494.2L190.5,507.2L190.5,507.3L190.5,507.3L190.5,507.4L190.5,507.5L190.5,507.5L188.8,518.6L200.9,516.8L200.9,516.8L201.0,516.8L201.1,516.8L201.2,516.8L201.2,516.8L201.3,516.8L201.4,516.8L201.5,516.9L201.5,516.9L201.6,516.9L201.7,516.9L201.8,517.0L201.8,517.0L201.9,517.0L202.0,517.1L202.0,517.1L202.1,517.2L202.2,517.2L202.2,517.3L202.3,517.3L202.3,517.4L202.4,517.4L202.4,517.5L202.4,517.6L202.5,517.6L202.5,517.7L202.5,517.8L202.6,517.9L202.6,517.9L202.6,518.0L202.6,518.0L204.0,525.2L205.0,524.8L207.7,520.3L208.6,515.1L208.7,515.0L208.7,508.3L208.7,508.2L208.7,508.1L208.7,508.1L208.7,508.0L208.7,507.9L208.8,507.8L208.8,507.8L208.8,507.7L208.8,507.6L208.9,507.6L208.9,507.5L208.9,507.4L209.0,507.4L209.0,507.3L209.1,507.3L209.1,507.2L209.2,507.2L209.2,507.1L209.3,507.1L209.4,507.0L209.4,507.0L209.5,506.9L209.5,506.9L214.7,504.3L211.2,501.3L211.2,501.3L211.1,501.3L211.1,501.2L211.0,501.2L211.0,501.1L211.0,501.0L210.9,501.0L210.9,500.9L210.9,500.9L210.8,500.8L210.8,500.8L205.8,488.7L205.8,488.7L205.7,488.6L205.7,488.5L205.7,488.4L205.7,488.4L205.7,488.3L205.7,488.2L205.7,488.1L205.7,488.1L205.7,488.0L205.7,487.9L205.7,487.8L205.7,487.8L205.7,487.7L205.8,487.6ZM487.1,590.8L487.2,585.2L486.4,579.7L485.5,575.5L474.4,575.5L478.9,587.9L478.9,587.9L478.9,588.0L478.9,588.0L478.9,588.1L478.9,588.2L478.9,588.3L479.0,588.3L479.0,588.4L478.9,588.5L478.9,588.6L478.9,588.6L478.9,588.7L478.9,588.8L478.9,588.9L478.9,588.9L478.8,589.0L478.8,589.0L478.8,589.1L478.7,589.2L478.7,589.2L478.6,589.3L478.6,589.4L478.6,589.4L478.5,589.5L478.4,589.5L478.4,589.6L478.4,589.6L477.2,590.5L478.9,592.3ZM209.9,593.1L204.2,594.0L198.3,594.1L192.7,595.9L186.8,596.3L181.3,598.6L178.6,598.7L176.1,600.0L174.5,603.1L173.7,604.7L179.6,603.4L179.6,603.4L179.7,603.3L179.7,603.3L179.8,603.3L179.9,603.3L180.0,603.3L180.0,603.3L180.1,603.3L180.2,603.4L180.3,603.4L180.3,603.4L180.4,603.4L180.4,603.4L180.5,603.5L180.6,603.5L180.7,603.5L180.7,603.6L180.8,603.6L180.8,603.6L180.9,603.7L180.9,603.7L181.0,603.8L181.0,603.8L181.1,603.9L181.1,603.9L181.2,604.0L181.2,604.1L181.2,604.1L181.2,604.2L183.3,608.3L188.5,612.9L202.5,606.5L202.5,606.5L202.6,606.4L202.7,606.4L202.8,606.4L202.8,606.4L202.9,606.4L204.5,605.6L204.5,605.6L204.6,605.5L204.6,605.5L204.7,605.5L204.8,605.5L204.9,605.4L204.9,605.4L205.0,605.4L205.1,605.4L205.2,605.4L205.2,605.4L205.3,605.4L206.1,605.0L206.2,605.0L206.3,604.9L206.3,604.9L206.4,604.9L206.4,604.9L206.5,604.9L206.6,604.8L206.7,604.8L206.7,604.8L206.8,604.8L206.8,604.8L206.9,604.8L207.0,604.8L207.1,604.8L207.1,604.8L213.3,606.0L212.5,603.7L210.7,598.5ZM45.8,347.8L45.8,340.5L43.9,333.5L42.9,332.7L35.5,333.0L31.5,332.8L31.5,349.8L34.0,349.9L39.9,349.3ZM318.1,759.5L317.3,757.7L314.1,753.3L309.5,756.4L303.9,757.5L298.7,759.4L298.5,759.5ZM448.9,478.3L447.4,475.4L447.4,475.3L447.3,475.2L447.3,475.2L447.3,475.1L447.3,475.1L447.2,475.0L447.2,474.9L447.2,474.8L447.2,474.8L447.2,474.7L447.2,474.6L447.2,474.5L447.2,474.5L447.2,474.4L447.2,474.4L447.3,474.3L447.3,474.2L447.3,474.1L447.3,474.1L447.4,474.0L447.4,474.0L447.4,473.9L447.5,473.9L447.5,473.7L446.2,473.5L447.0,476.9ZM162.1,549.8L162.9,549.5L160.5,548.1ZM219.3,234.9L218.9,233.9L218.5,233.4L217.9,234.9ZM264.7,630.0L269.6,633.2L281.5,653.0L275.6,637.7L265.1,624.3ZM484.6,107.1L484.9,106.8L476.1,105.3L485.0,108.3ZM603.2,443.3L602.4,450.9L606.5,444.4ZM398.2,676.6L400.9,678.9L402.7,678.1L398.8,676.0ZM538.8,640.7L541.7,649.7L540.0,641.0ZM530.2,688.9L529.8,687.1L535.8,676.6L546.2,663.1L541.7,649.7L541.7,664.6L528.3,687.1ZM508.9,758.8L508.9,742.4L508.0,742.7L507.4,742.4L507.4,758.8ZM252.9,559.3L248.7,560.0L243.9,558.4L249.4,560.6ZM448.5,377.2L452.7,378.6L444.7,372.7ZM582.0,419.3L586.1,438.7L585.1,428.5ZM150.8,512.3L158.9,510.3L189.0,507.2L189.0,494.2L177.0,490.1L166.9,482.1L150.8,490.1L148.8,502.2ZM528.7,225.3L536.3,209.4L530.2,207.9L522.7,205.6L516.6,216.2L515.1,225.3L518.6,226.6L526.4,224.5L524.4,226.6ZM445.4,291.9L446.2,281.3L440.9,276.8L437.9,281.3L431.8,282.8L422.7,278.3L416.7,291.9L422.0,300.0L443.2,300.0ZM477.2,339.4L471.2,346.9L474.2,350.0L482.8,350.0ZM452.7,378.6L448.5,377.2L448.1,377.6L448.7,378.0L457.8,383.3L463.1,389.3L463.6,388.6L453.9,379.6ZM432.5,399.3L439.6,386.3L437.9,388.9L432.6,398.4L432.5,398.5ZM453.4,398.6L455.3,397.8L455.5,396.9L447.2,398.5L439.8,400.7L445.0,400.3L453.3,398.5ZM436.0,405.9L436.3,406.0L438.3,402.6ZM598.3,467.2L602.4,450.9L604.4,432.6L594.2,428.5L586.1,438.7L575.9,459.1L592.2,464.2ZM456.3,449.9L454.3,455.0L489.7,455.0L489.6,454.5L485.1,446.9L480.5,440.1L471.4,432.5L466.1,427.2L461.6,431.8L462.3,440.9ZM461.6,464.1L468.4,474.7L469.2,480.7L480.5,482.3L486.6,480.7L492.6,480.0L493.4,467.1L491.1,455.0L450.2,455.0L453.3,459.5ZM416.9,574.0L424.5,571.6L428.3,558.0L424.5,553.4L416.9,548.9L410.9,558.0L407.8,570.1L401.8,574.0ZM484.9,450.9L481.2,450.3L479.2,453.5L479.9,454.9L481.9,455.4L484.9,454.3Z" fill="#433179" stroke="#433179" stroke-width="0.3"/>
<path d="M286.3,426.4L287.7,426.6L291.0,422.0L295.6,418.5L301.4,422.7L307.0,427.1L312.3,425.2L317.8,423.5L323.6,422.9L326.0,424.6L330.6,420.7L332.0,419.9L327.9,414.5L318.9,404.0L318.8,404.0L318.8,403.9L318.8,403.8L318.7,403.7L318.7,403.7L318.6,403.6L318.6,403.6L318.6,403.5L318.6,403.4L318.5,403.4L318.5,403.5L318.5,403.5L318.5,403.6L318.5,403.6L315.5,411.1L315.5,411.1L315.4,411.2L315.4,411.3L315.4,411.3L315.3,411.4L315.3,411.5L315.2,411.5L315.2,411.6L315.1,411.6L315.1,411.7L315.0,411.7L315.0,411.8L314.9,411.8L314.8,411.9L314.8,411.9L314.7,411.9L314.6,411.9L314.6,412.0L314.5,412.0L314.4,412.0L314.4,412.0L314.3,412.0L314.2,412.0L299.3,413.5L299.3,413.5L299.2,413.5L299.1,413.5L299.0,413.5L299.0,413.5L298.9,413.5L298.8,413.5L298.7,413.5L298.7,413.5L298.6,413.4L298.5,413.4L298.4,413.4L298.4,413.3L298.3,413.3L298.3,413.3L298.2,413.2L298.2,413.2L298.1,413.1L298.0,413.1L298.0,413.0L297.9,413.0L297.9,412.9L297.9,412.8L297.8,412.7L297.8,412.7L297.7,412.6L297.7,412.6L297.7,412.5L297.7,412.4L297.7,412.3L297.7,412.3L296.2,403.3L296.2,403.3L296.1,403.2L296.1,403.2L296.1,403.1L296.1,403.0L296.2,402.9L296.2,402.9L296.2,402.8L296.2,402.7L296.2,402.6L296.2,402.6L296.3,402.5L296.3,402.5L296.3,402.4L296.3,402.3L296.4,402.3L296.4,402.2L296.5,402.1L296.5,402.1L296.6,402.0L296.6,402.0L296.7,401.9L296.7,401.9L296.8,401.8L296.8,401.8L296.9,401.8L296.9,401.7L297.0,401.7L297.1,401.7L301.8,399.7L299.4,400.1L299.4,400.1L299.3,400.1L299.2,400.1L299.1,400.1L299.1,400.1L299.0,400.1L298.9,400.1L298.8,400.1L298.8,400.0L298.7,400.0L298.6,400.0L298.5,400.0L298.5,399.9L298.4,399.9L298.4,399.9L298.3,399.8L298.3,399.8L298.2,399.7L298.1,399.7L298.1,399.6L298.0,399.6L298.0,399.5L297.9,399.5L297.9,399.4L297.9,399.4L297.8,399.3L297.8,399.3L293.3,390.3L293.3,390.3L293.3,390.2L293.2,390.1L293.2,390.0L293.2,390.0L293.2,389.9L293.2,389.9L293.2,389.8L293.2,389.7L293.2,389.6L293.2,389.6L293.2,389.5L293.2,389.4L293.2,389.3L293.2,389.3L293.2,389.2L293.2,389.2L293.3,389.1L293.3,389.0L293.3,388.9L293.3,388.9L293.4,388.8L293.4,388.8L293.5,388.7L293.5,388.7L297.8,383.3L287.0,382.1L287.0,382.1L286.9,382.1L286.8,382.1L286.8,382.1L286.7,382.1L286.6,382.0L286.6,382.0L286.5,382.0L286.4,382.0L286.4,381.9L286.3,381.9L286.2,381.8L286.2,381.8L286.1,381.7L286.1,381.7L278.6,374.2L278.6,374.2L278.6,374.1L278.5,374.1L278.5,374.0L278.5,374.0L278.4,373.9L278.4,373.9L278.3,373.8L278.3,373.8L278.3,373.7L278.3,373.6L278.2,373.5L278.2,373.5L278.2,373.4L278.2,373.4L276.7,362.9L276.7,362.9L276.7,362.8L276.7,362.7L276.7,362.7L276.7,362.6L276.7,362.5L276.7,362.5L276.7,362.4L276.8,362.3L276.8,362.2L276.8,362.2L276.8,362.1L276.9,362.1L276.9,362.0L276.9,361.9L277.0,361.8L277.0,361.8L277.1,361.7L277.1,361.7L277.2,361.6L277.2,361.6L277.3,361.5L277.3,361.5L277.4,361.4L277.4,361.4L277.5,361.4L277.5,361.4L289.5,355.4L289.5,355.4L289.6,355.3L289.7,355.3L289.8,355.3L289.8,355.3L290.0,355.2L290.0,355.2L296.8,354.4L301.9,353.7L302.0,353.7L302.1,353.7L302.1,353.7L302.2,353.7L302.2,353.7L302.3,353.7L302.4,353.7L302.5,353.8L302.5,353.8L302.6,353.8L302.7,353.8L302.7,353.9L302.8,353.9L302.9,353.9L302.9,353.9L303.0,354.0L303.0,354.0L303.1,354.1L303.1,354.1L315.0,364.5L314.7,362.7L310.6,357.8L306.1,353.5L301.5,350.5L301.4,350.5L301.4,350.6L301.3,350.6L301.2,350.6L301.1,350.7L301.1,350.7L301.0,350.7L301.0,350.7L300.9,350.7L300.8,350.7L300.7,350.7L300.7,350.7L300.6,350.7L300.5,350.7L300.4,350.7L300.4,350.7L300.3,350.7L300.2,350.7L300.1,350.7L300.1,350.6L300.0,350.6L300.0,350.6L299.9,350.5L299.8,350.5L299.8,350.5L299.7,350.4L299.6,350.4L299.6,350.3L299.5,350.3L299.5,350.2L286.1,335.3L286.0,335.3L286.0,335.2L286.0,335.2L285.9,335.1L285.9,335.0L285.8,335.0L285.8,334.9L285.8,334.8L285.8,334.8L285.7,334.7L285.7,334.6L285.7,334.5L285.7,334.5L285.7,334.4L285.7,334.3L285.7,334.2L285.7,334.2L285.7,334.1L285.7,334.0L285.7,334.0L285.7,333.9L285.8,333.8L285.8,333.8L285.8,333.7L285.8,333.6L285.9,333.5L285.9,333.5L286.9,331.8L285.1,330.5L281.0,327.5L276.2,329.5L270.9,330.2L267.5,335.0L265.0,340.3L261.4,345.0L258.4,350.1L260.0,355.4L262.8,360.1L258.7,363.3L255.8,367.5L251.8,370.8L248.8,375.0L239.5,373.4L235.7,377.7L230.9,381.0L227.5,385.7L222.7,388.9L225.0,394.3L227.8,399.5L230.1,404.9L235.6,402.3L241.5,401.2L247.0,399.4L246.9,399.1L246.9,399.1L246.9,399.0L246.8,399.0L243.9,387.0L243.9,387.0L243.8,386.9L243.8,386.8L243.8,386.7L243.8,386.7L243.8,386.6L243.8,386.5L243.8,386.4L243.8,386.4L243.9,386.3L243.9,386.2L243.9,386.1L243.9,386.1L243.9,386.0L244.0,386.0L244.0,385.9L244.0,385.8L244.1,385.8L244.1,385.7L244.2,385.6L244.2,385.6L244.3,385.5L244.3,385.5L244.4,385.4L244.4,385.4L244.5,385.4L244.6,385.3L244.6,385.3L244.7,385.3L244.8,385.2L244.8,385.2L244.9,385.2L244.9,385.2L256.9,382.2L256.9,382.2L257.0,382.2L257.1,382.2L257.2,382.1L257.2,382.1L257.3,382.1L257.4,382.1L257.5,382.1L257.5,382.2L257.6,382.2L257.6,382.2L257.7,382.2L257.8,382.2L257.9,382.3L257.9,382.3L258.0,382.3L258.0,382.3L268.5,388.3L268.5,388.3L268.6,388.4L268.6,388.4L268.7,388.5L268.7,388.5L268.8,388.6L268.9,388.6L268.9,388.7L269.0,388.7L269.0,388.8L269.0,388.9L269.1,389.0L269.1,389.0L269.1,389.1L269.2,389.1L269.2,389.2L269.2,389.3L269.2,389.4L269.2,389.4L269.2,389.5L269.2,389.6L269.2,389.7L269.2,389.7L269.2,389.8L269.2,389.9L267.8,398.3L272.0,405.3L272.0,405.3L272.1,405.4L272.1,405.4L272.1,405.5L272.1,405.6L272.2,405.7L272.2,405.7L272.2,405.8L272.2,405.8L272.2,405.9L272.2,406.0L272.2,406.1L272.2,406.1L272.2,406.2L272.2,406.3L272.2,406.4L272.2,406.4L272.2,406.5L272.1,406.6L272.1,406.6L272.1,406.7L272.1,406.8L272.0,406.8L272.0,406.9L272.0,406.9L271.9,407.0L271.9,407.0L264.4,416.0L264.4,416.0L264.3,416.1L264.3,416.1L264.2,416.2L264.2,416.2L264.1,416.3L264.1,416.3L264.0,416.4L263.9,416.4L263.9,416.4L264.4,419.7L264.3,420.5L284.0,418.0L284.0,418.0L284.1,418.0L284.2,418.0L284.3,418.0L284.3,418.0L284.4,418.0L284.5,418.1L284.6,418.1L284.6,418.1L284.7,418.1L284.8,418.1L284.9,418.2L284.9,418.2L285.0,418.3L285.0,418.3L285.1,418.3L285.2,418.4L285.2,418.4L285.3,418.5L285.3,418.6L285.4,418.6L285.4,418.7L285.4,418.7L285.5,418.8L285.5,418.8L285.6,418.9L285.6,419.0L285.6,419.1L285.6,419.1L285.7,419.2L285.7,419.3L285.7,419.4L285.7,419.4ZM302.8,586.6L300.7,590.5L300.7,590.7L306.4,587.8L306.8,585.9L305.7,585.4L305.7,585.4L305.6,585.4L305.5,585.4L305.5,585.4L303.7,585.4ZM252.1,736.4L250.0,737.6L244.7,739.3L239.7,741.4L235.1,744.4L238.3,748.6L240.8,753.2L242.8,758.1L243.7,759.5L267.9,759.5L270.2,755.8L274.8,751.7L273.4,744.5L268.3,743.0L264.4,739.1L259.5,737.1L258.1,736.4ZM31.9,313.4L31.5,315.2L31.5,332.8L35.5,333.0L42.9,332.7L42.6,325.6L43.6,318.6L37.6,316.5L32.2,313.3L36.2,307.9L38.8,301.8L31.5,296.5L31.5,313.2ZM374.6,759.5L375.3,757.9L378.7,753.2L381.0,747.9L386.0,747.4L390.9,746.0L395.9,745.8L400.8,744.3L405.8,744.3L406.6,738.3L407.8,732.3L408.1,726.1L409.0,721.9L404.9,724.3L404.9,724.3L404.8,724.3L404.8,724.3L404.7,724.4L404.6,724.4L404.5,724.4L404.5,724.4L404.4,724.4L404.4,724.4L404.3,724.4L404.2,724.4L404.1,724.4L404.1,724.4L404.0,724.4L403.9,724.4L403.8,724.4L403.8,724.4L403.7,724.4L403.6,724.3L403.5,724.3L403.5,724.3L403.4,724.2L403.4,724.2L403.3,724.2L403.3,724.1L403.2,724.1L403.1,724.0L403.1,724.0L403.0,723.9L403.0,723.8L403.0,723.8L402.9,723.7L402.9,723.7L402.8,723.6L402.8,723.6L400.8,719.3L390.6,728.3L387.7,738.3L387.7,738.3L387.6,738.4L387.6,738.5L387.6,738.6L387.6,738.6L387.5,738.7L387.5,738.7L387.4,738.8L387.4,738.9L387.3,738.9L387.3,739.0L387.2,739.0L387.2,739.1L387.1,739.1L387.1,739.2L387.0,739.2L386.9,739.2L386.8,739.3L386.8,739.3L386.7,739.3L386.7,739.3L386.6,739.4L386.5,739.4L386.4,739.4L386.4,739.4L386.3,739.4L386.2,739.4L386.1,739.4L386.1,739.4L386.0,739.4L385.9,739.4L385.8,739.3L385.8,739.3L385.7,739.3L385.6,739.3L385.6,739.2L385.5,739.2L385.4,739.2L385.4,739.1L385.3,739.1L385.3,739.1L376.5,731.7L373.2,730.5L368.5,730.5L363.0,728.7L362.7,728.6L365.1,732.6L365.1,732.7L365.2,732.8L365.2,732.8L365.2,732.9L365.2,732.9L365.3,733.0L365.3,733.1L365.3,733.2L365.3,733.2L365.3,733.3L365.3,733.4L365.3,733.5L365.3,733.5L365.3,733.6L365.3,733.7L365.3,733.8L365.3,733.8L365.2,733.9L365.2,733.9L365.2,734.0L365.2,734.1L365.1,734.2L365.1,734.2L365.0,734.3L365.0,734.3L364.9,734.4L364.9,734.4L364.8,734.5L364.8,734.5L349.9,748.0L349.8,748.0L349.8,748.1L349.7,748.1L349.6,748.2L349.6,748.2L349.5,748.2L349.5,748.2L349.4,748.3L349.3,748.3L349.2,748.3L349.2,748.3L349.1,748.4L349.1,748.4L350.5,750.4L352.5,755.3L354.9,759.5ZM543.2,664.5L544.6,662.9L543.2,658.9Z" fill="#432d76" stroke="#432d76" stroke-width="0.3"/>
<path d="M316.7,746.5L320.8,743.1L325.3,740.3L330.0,737.9L329.3,732.8L326.3,728.5L325.2,723.6L323.4,718.9L323.4,713.6L320.9,709.2L319.6,704.3L313.3,704.5L307.0,704.1L305.4,702.9L308.5,715.1L308.5,715.1L308.5,715.2L308.5,715.3L308.5,715.4L308.5,715.4L308.5,715.5L308.5,715.6L308.5,715.7L308.5,715.7L308.5,715.8L308.5,715.8L308.4,715.9L308.4,716.0L308.4,716.1L308.4,716.1L308.3,716.2L308.3,716.2L308.2,716.3L308.2,716.4L308.1,716.4L308.1,716.5L308.0,716.5L308.0,716.6L307.9,716.6L307.9,716.7L307.8,716.7L307.8,716.7L307.7,716.8L307.7,716.8L307.6,716.9L307.5,716.9L307.4,716.9L307.4,716.9L307.3,716.9L307.3,717.0L307.2,717.0L307.1,717.0L302.5,717.4L302.3,719.1L299.4,723.7L297.7,728.6L301.9,731.8L305.5,735.5L309.8,738.6L312.4,743.5ZM398.5,289.5L393.4,293.3L393.5,294.2L398.5,293.6ZM599.3,471.6L597.3,468.4L596.3,467.9L598.3,471.1ZM547.6,448.6L549.9,449.5L565.4,454.3L558.8,450.2L558.8,450.1L558.7,450.1L558.7,450.1L558.6,450.0L558.6,450.0L558.5,449.9L558.5,449.9L558.4,449.8L558.4,449.7L558.3,449.7L558.3,449.6L558.3,449.5L558.2,449.5L558.2,449.4L558.2,449.4L558.2,449.3L558.2,449.2L555.8,439.8L548.5,447.8L548.5,447.9L548.4,447.9L548.4,447.9L548.3,448.0L548.3,448.0ZM419.2,298.5L416.3,294.1L411.1,298.5ZM149.7,717.5L156.8,716.5L161.4,711.4L150.5,711.4L150.5,711.4L150.4,711.4L150.3,711.4ZM486.6,475.5L485.6,474.0L481.2,474.5L479.9,476.7L480.1,477.7L481.0,478.0ZM478.1,463.0L475.2,462.2L471.9,463.2L472.0,466.0L473.9,467.6L477.5,466.3Z" fill="#432872" stroke="#432872" stroke-width="0.3"/>
<path d="M333.3,260.5L336.0,257.8L335.5,257.8L335.5,257.8L335.4,257.8L335.3,257.8L335.2,257.8L335.2,257.8L335.1,257.8L335.0,257.8L335.0,257.7L334.9,257.7L334.8,257.7L334.8,257.7L334.7,257.6L334.6,257.6L334.6,257.5L334.5,257.5L334.5,257.4L334.4,257.4L325.5,248.4L325.5,248.4L325.4,248.3L325.3,248.3L325.3,248.2L325.3,248.2L325.2,248.1L325.2,248.0L320.4,238.5L318.9,240.6L316.8,245.7L314.4,250.6L315.2,253.8L321.2,256.0L327.2,258.5ZM396.9,119.9L390.8,115.7L385.5,118.4L380.2,121.0L375.6,125.0L370.2,127.5L371.7,132.6L373.9,137.5L374.9,142.7L380.5,144.0L385.8,146.1L391.7,145.7L396.9,148.7L402.6,149.0L401.0,143.3L399.4,137.5L398.3,131.7L397.2,125.9ZM392.3,181.5L387.8,180.1L383.5,177.0L381.1,177.4L380.2,179.3L380.2,179.3L380.1,179.4L380.1,179.4L380.1,179.5L380.0,179.5L380.0,179.6L379.9,179.6L379.9,179.7L379.8,179.7L379.8,179.8L379.7,179.8L379.6,179.9L379.6,179.9L379.5,179.9L379.5,180.0L379.4,180.0L379.3,180.0L379.2,180.0L379.2,180.1L359.8,184.5L359.7,184.5L359.7,184.6L359.6,184.6L359.6,184.6L359.5,184.6L339.1,186.0L339.1,186.0L339.1,186.0L339.0,186.0L338.0,189.2L338.0,189.2L337.9,189.3L337.9,189.3L343.9,191.3L355.4,195.1L355.4,195.1L355.5,195.2L355.6,195.2L355.7,195.2L355.7,195.2L355.8,195.3L355.8,195.3L355.9,195.4L355.9,195.4L356.0,195.5L356.0,195.5L356.1,195.6L356.1,195.6L356.2,195.7L356.2,195.8L356.3,195.8L356.3,195.9L360.1,203.5L364.7,201.2L364.8,201.2L364.8,201.1L364.9,201.1L365.0,201.1L365.0,201.1L365.1,201.0L365.2,201.0L365.3,201.0L365.3,201.0L365.4,201.0L365.5,201.0L365.6,201.0L365.6,201.0L365.7,201.0L365.8,201.1L365.9,201.1L365.9,201.1L366.0,201.1L366.0,201.2L366.1,201.2L366.2,201.2L366.3,201.3L366.3,201.3L366.4,201.4L366.4,201.4L366.5,201.5L366.5,201.5L366.6,201.6L366.6,201.6L366.7,201.7L366.7,201.7L366.7,201.8L366.7,201.8L371.3,210.9L372.5,213.4L379.6,217.7L379.7,217.7L379.7,217.7L379.8,217.8L379.9,217.8L379.9,217.9L380.0,218.0L380.0,218.0L380.1,218.1L380.1,218.1L380.2,218.2L380.2,218.3L380.2,218.3L380.3,218.4L380.3,218.5L380.3,218.5L380.3,218.6L380.3,218.7L381.8,226.1L381.8,226.2L381.8,226.3L381.9,226.3L381.9,226.4L381.9,226.5L381.9,226.6L381.8,226.6L381.8,226.7L387.0,230.4L381.9,208.8L381.9,208.8L381.9,208.7L381.9,208.7L381.9,208.6L381.8,208.5L381.9,208.4L381.9,208.4L381.9,208.3L381.9,208.2L381.9,208.1L381.9,208.1L381.9,208.0L382.0,207.9L382.0,207.8L382.0,207.8L382.1,207.7L382.1,207.7L382.2,207.6L382.2,207.5L382.3,207.5L382.3,207.4L382.4,207.4L382.4,207.3L382.5,207.3L382.5,207.2L382.6,207.2L382.7,207.2L382.7,207.1L382.8,207.1L382.9,207.1L382.9,207.1L383.0,207.0L383.1,207.0L383.2,207.0L383.2,207.0L383.3,207.0L383.3,207.0L398.5,207.0L398.5,206.8L391.0,194.3L391.0,194.3L391.0,194.2L391.0,194.2L390.9,194.1L390.9,194.0L390.9,193.9L390.9,193.9L390.8,193.8L390.8,193.8L390.8,193.7L390.8,193.6L390.8,193.5L390.8,193.5L390.8,193.4L390.8,193.4ZM486.8,108.9L487.9,112.1L488.7,114.7L493.5,110.8Z" fill="#414282" stroke="#414282" stroke-width="0.3"/>
<path d="M389.6,261.4L389.0,261.8L385.0,264.9L381.9,269.2L377.7,272.0L374.0,274.5L379.9,274.5L379.9,274.5L380.0,274.5L380.1,274.5L380.2,274.5L380.2,274.5L380.3,274.5L380.3,274.6L380.4,274.6L380.5,274.6L380.6,274.7L380.6,274.7L380.7,274.7L380.7,274.8L380.8,274.8L380.9,274.8L380.9,274.9L381.0,274.9L381.0,275.0L381.1,275.1L381.1,275.1L381.1,275.2L381.2,275.3L381.2,275.3L381.3,275.4L381.3,275.4L389.5,295.9L391.0,294.7L391.0,294.7L391.1,294.7L391.1,294.6L391.2,294.6L391.3,294.6L391.4,294.5L391.4,294.5L391.5,294.5L391.6,294.5L391.7,294.5L391.7,294.5L393.5,294.2L393.4,293.3L398.5,289.5L398.5,261.1L398.5,260.1L398.5,260.1L398.5,260.0ZM192.2,300.9L194.7,304.0L197.3,308.5L200.7,312.5L202.8,317.5L206.1,321.6L209.5,317.8L214.5,315.9L217.9,312.0L222.5,309.6L225.8,305.6L225.2,300.4L224.3,295.3L222.3,290.5L215.1,285.6L214.3,279.7L211.7,274.2L210.5,268.4L215.5,265.6L218.9,260.9L223.7,258.0L227.7,254.0L227.8,250.9L224.1,248.7L224.1,248.6L224.0,248.6L223.9,248.6L223.9,248.5L223.8,248.5L223.8,248.4L223.7,248.3L223.7,248.3L223.6,248.2L223.6,248.1L223.5,248.1L223.5,248.0L223.5,248.0L218.6,237.1L217.3,240.4L217.3,240.5L217.2,240.6L217.2,240.6L217.2,240.7L217.1,240.7L217.1,240.8L217.0,240.8L217.0,240.9L216.9,241.0L216.9,241.0L216.8,241.1L216.8,241.1L216.7,241.1L216.6,241.2L216.6,241.2L216.5,241.3L216.5,241.3L216.4,241.3L216.3,241.3L216.2,241.4L216.2,241.4L216.1,241.4L216.1,241.4L203.4,242.8L203.5,243.1L203.6,243.1L203.6,243.1L203.6,243.2L203.6,243.2L203.6,243.3L203.6,243.3L203.6,243.4L202.5,248.9L207.0,254.4L207.0,254.4L207.0,254.5L207.1,254.5L207.1,254.6L207.1,254.6L207.1,254.7L207.1,254.7L207.1,254.8L207.1,254.8L207.1,254.9L207.1,254.9L207.0,255.0L207.0,255.0L207.0,255.0L206.9,255.1L206.9,255.1L202.6,258.3L204.8,268.3L204.8,268.3L204.8,268.4L204.8,268.4L204.8,268.5L204.8,268.5L204.8,268.6L204.7,268.6L204.7,268.7L204.7,268.7L204.7,268.7L204.6,268.8L204.6,268.8L204.5,268.8L204.5,268.9L204.5,268.9L204.4,268.9L204.5,268.9L204.5,269.0L204.6,269.0L204.6,269.1L204.7,269.2L204.7,269.2L204.8,269.3L204.8,269.3L204.8,269.4L204.8,269.5L204.9,269.6L204.9,269.6L204.9,269.7L204.9,269.7L204.9,269.8L204.9,269.9L205.0,270.2L206.5,271.7L206.5,271.7L206.6,271.8L206.6,271.9L206.7,271.9L206.7,272.0L206.7,272.1L206.8,272.1L206.8,272.2L206.8,272.2L206.8,272.3L206.9,272.4L206.9,272.5L206.9,272.5L206.9,272.6L206.9,272.7L206.9,272.8L206.9,272.8L206.9,285.0L206.9,285.1L206.9,285.2L206.9,285.2L206.9,285.3L206.9,285.4L206.9,285.5L206.8,285.5L206.8,285.6L206.8,285.6L206.8,285.7L206.7,285.8L206.7,285.9L206.7,285.9L206.6,286.0L206.6,286.0L206.5,286.1L206.5,286.1L206.4,286.2L207.9,302.8L207.9,302.8L207.9,302.9L207.9,302.9L207.9,303.0L207.9,303.1L207.9,303.2L207.9,303.2L207.9,303.3L207.9,303.4L207.8,303.5L207.8,303.5L207.8,303.6L207.7,303.7L207.7,303.7L207.6,303.8L207.6,303.9L207.6,303.9L207.5,304.0L207.4,304.0L207.4,304.1L207.3,304.1L207.3,304.2L207.2,304.2L207.1,304.2L207.1,304.3L207.0,304.3L206.9,304.3L206.8,304.3L206.8,304.4L206.7,304.4L206.6,304.4L206.5,304.4L206.5,304.4L206.4,304.4L206.3,304.4L206.2,304.4L206.2,304.4L206.1,304.4L206.1,304.3ZM468.3,445.8L469.6,444.8L469.6,442.4L467.9,440.6L464.4,442.6L467.3,445.5ZM469.6,442.4L473.4,440.2L473.8,438.7L471.5,436.9L467.5,438.9L467.9,440.6ZM472.0,466.0L469.4,468.7L470.0,471.3L472.7,471.5L474.4,469.2L473.9,467.6ZM477.5,466.3L473.9,467.6L474.4,469.2L477.6,470.5L478.7,469.8L478.7,468.9Z" fill="#423d80" stroke="#423d80" stroke-width="0.3"/>
<path d="M314.4,250.6L316.8,245.7L318.9,240.6L320.4,238.5L319.5,236.7L300.5,231.2L296.5,241.9L296.5,241.9L296.5,242.0L296.5,242.1L296.4,242.2L296.4,242.2L296.3,242.3L296.3,242.3L296.2,242.4L296.2,242.4L296.1,242.5L296.1,242.5L296.0,242.6L296.0,242.6L276.5,256.1L276.5,256.1L276.4,256.1L276.4,256.2L276.3,256.2L276.3,256.2L276.2,256.3L276.1,256.3L276.0,256.3L276.0,256.3L275.9,256.3L275.8,256.3L275.7,256.3L275.7,256.3L275.6,256.3L275.6,256.3L275.5,256.3L275.4,256.3L275.3,256.3L275.3,256.3L275.2,256.2L275.1,256.2L275.0,256.2L275.0,256.2L274.9,256.1L274.9,256.1L274.8,256.0L274.7,256.0L274.7,255.9L274.6,255.9L274.6,255.8L274.6,255.8L267.4,247.5L256.9,263.3L258.2,262.7L263.2,261.0L267.8,258.5L272.1,263.4L274.9,266.4L282.0,258.3L282.1,258.3L282.1,258.2L282.2,258.2L282.2,258.1L282.3,258.1L282.4,258.1L282.4,258.0L282.5,258.0L282.5,258.0L282.6,257.9L282.7,257.9L282.8,257.9L282.8,257.9L282.9,257.9L283.0,257.8L283.1,257.8L283.1,257.8L283.2,257.8L283.3,257.8L283.4,257.8L283.4,257.9L283.5,257.9L283.6,257.9L283.7,257.9L283.7,257.9L283.8,258.0L283.8,258.0L283.9,258.0L284.0,258.1L284.0,258.1L284.1,258.1L284.2,258.2L284.2,258.2L284.3,258.3L284.3,258.3L284.4,258.4L284.4,258.5L284.4,258.5L284.5,258.6L284.5,258.7L284.5,258.7L284.6,258.8L284.6,258.8L290.0,274.5L290.1,274.5L290.1,274.5L290.2,274.5L290.2,274.5L290.3,274.5L290.4,274.5L290.5,274.5L290.5,274.5L290.6,274.5L290.7,274.6L290.7,274.6L290.8,274.6L290.9,274.7L290.9,274.7L291.0,274.7L291.0,274.8L291.1,274.8L291.2,274.9L291.2,274.9L291.3,275.0L291.3,275.0L291.4,275.1L291.4,275.1L291.4,275.2L291.5,275.3L291.5,275.3L291.5,275.4L291.6,275.4L291.6,275.5L291.6,275.6L291.6,275.7L291.6,275.7L291.7,275.8L291.7,275.8L292.1,280.4L293.6,284.6L293.6,284.6L293.6,284.7L293.6,284.7L293.6,284.8L293.6,284.9L293.6,285.0L293.6,285.0L293.6,285.1L293.6,285.2L293.6,285.3L293.6,285.3L293.6,285.4L293.6,285.5L293.5,285.6L293.5,285.6L293.5,285.7L293.5,285.7L293.4,285.8L293.4,285.9L293.3,286.0L293.3,286.0L293.2,286.1L293.2,286.1L293.1,286.2L293.1,286.2L293.0,286.3L293.0,286.3L292.9,286.4L292.8,286.4L292.7,286.4L292.7,286.4L294.5,303.8L299.6,303.5L305.0,302.7L310.3,301.2L312.5,295.9L313.8,290.3L311.8,285.4L309.6,280.7L306.6,276.3L304.2,271.7L306.9,267.2L309.0,262.3L313.3,258.8L315.2,253.8ZM341.1,137.7L339.8,133.4L339.7,128.3L345.5,123.7L351.5,119.3L352.8,113.9L352.8,111.0L351.7,111.5L347.3,113.4L343.9,118.3L343.9,118.3L343.8,118.4L343.8,118.4L343.8,118.4L343.7,118.5L343.7,118.5L338.5,120.4L338.0,126.0L338.0,126.1L338.0,126.1L338.0,126.2L338.0,126.2L337.9,126.3L337.9,126.3L334.8,130.6L334.5,133.8L334.5,133.8L334.6,133.9L334.7,133.9L334.8,133.9L334.8,133.9ZM564.7,187.1L568.8,181.2L565.6,182.6ZM547.6,242.0L546.6,241.8L546.6,242.8L547.5,242.7ZM327.2,208.3L329.5,211.5L329.5,207.6ZM344.6,235.1L344.5,235.4L329.5,232.4L329.5,211.5L328.0,232.4L341.5,236.9L345.3,235.9ZM254.0,513.9L253.2,514.0L253.8,514.6ZM539.3,254.8L540.1,254.4L538.6,254.8L536.3,260.1ZM516.6,246.5L513.6,248.0L523.4,245.7ZM494.9,225.6L494.5,225.3L489.3,224.5ZM149.6,395.6L164.6,391.1L166.1,359.7L158.6,350.7L142.1,355.2L142.1,385.1ZM249.8,441.9L269.2,443.4L285.7,437.5L284.2,419.5L236.3,425.5L239.3,439.0ZM272.2,588.4L274.4,588.1L265.6,584.8L265.2,585.4ZM341.4,607.8L356.3,601.8L350.7,572.2L350.3,574.0L329.3,574.0L330.0,574.7L330.0,584.8L332.4,601.8ZM541.7,758.8L541.7,730.4L508.9,742.4L508.9,758.8ZM498.4,615.3L501.4,606.3L493.9,595.9L468.5,610.8L484.9,622.8ZM227.3,556.6L239.4,554.6L247.4,536.4L257.5,518.3L253.2,514.0L251.5,514.3L251.9,512.7L251.5,512.3L249.6,511.7L249.4,512.3L239.4,508.3L229.3,512.3L219.2,520.3L212.2,532.4L215.2,550.5ZM251.5,514.3L265.6,512.3L271.6,520.3L279.6,528.4L289.7,518.3L283.7,508.3L281.7,496.2L267.6,490.1L259.5,482.1L251.5,482.1L255.5,500.2ZM288.7,566.6L285.7,574.7L293.7,592.8L297.8,590.8L303.8,582.7L309.8,574.7L311.9,564.6L320.0,558.8L320.0,554.9L322.5,553.1L311.9,548.5L289.7,550.5L285.7,558.6ZM315.9,608.9L330.0,602.9L328.0,590.8L311.9,586.8L299.8,592.8L305.8,602.9ZM496.9,291.9L491.6,294.9L484.8,293.4L474.2,293.4L472.9,300.0L474.7,300.0L478.7,298.0L478.2,300.0L498.4,300.0ZM537.2,455.0L529.1,448.9L514.8,451.9L511.7,455.0L512.3,455.0L545.0,455.0L545.0,456.4L549.4,450.9L544.7,449.0ZM540.5,467.7L536.2,469.7L540.3,469.2ZM563.7,481.5L564.7,477.4L569.8,469.2L581.0,466.2L592.2,464.2L575.9,459.1L549.4,450.9L545.0,456.4L545.0,465.6L540.5,467.7L540.3,469.2L542.5,470.4L545.0,470.1L545.0,471.8L551.5,475.4ZM612.6,501.8L616.6,505.9L620.7,503.9L620.7,473.3L609.5,481.5L605.4,491.6ZM444.9,372.7L457.0,350.8L436.6,350.0L438.1,369.7ZM518.4,395.4L538.0,385.6L545.0,389.4L545.0,374.2L535.0,371.2L513.1,372.7L510.8,384.8ZM386.6,524.7L391.9,518.6L389.7,512.5L380.6,512.5L375.3,515.6L377.5,523.1ZM444.2,567.1L453.3,567.1L456.3,568.6L474.5,567.1L472.9,555.7L469.9,548.9L462.3,547.4L456.3,553.4L447.2,549.6L442.7,551.9L438.1,558.0L439.6,561.0ZM476.0,574.0L498.7,574.0L497.2,559.5L491.1,554.9L485.1,548.9L472.9,555.7L474.5,567.1ZM491.1,554.9L497.2,559.5L509.3,551.9L523.7,559.5L532.0,550.4L521.4,540.6L515.3,542.8L507.8,526.2L505.5,517.8L491.1,519.4L491.9,526.2L489.6,539.0L482.0,539.8L485.1,548.9Z" fill="#414483" stroke="#414483" stroke-width="0.3"/>
<path d="M148.2,604.4L148.5,604.8L150.8,603.9L152.9,607.5L153.7,607.4L149.8,602.2ZM461.6,464.1L453.3,459.5L451.5,457.3L454.0,461.1ZM447.2,549.6L439.6,544.3L442.7,551.9ZM409.3,539.8L412.4,545.9L416.9,545.9Z" fill="#3f5c89" stroke="#3f5c89" stroke-width="0.3"/>
<path d="M124.0,648.2L124.2,649.0L139.0,647.9L129.9,644.5ZM402.5,495.9L401.8,501.9L407.1,494.4ZM453.9,450.3L454.0,451.2L456.7,453.4L457.4,453.3L459.5,450.8L459.1,446.8L457.2,446.4L455.4,446.8Z" fill="#3f688b" stroke="#3f688b" stroke-width="0.3"/>
<path d="M157.2,683.2L157.3,681.5L156.0,682.6ZM513.3,177.2L504.7,172.1L506.0,178.6L494.0,187.6L505.2,180.6L507.5,178.6L513.9,178.6ZM387.1,232.3L389.3,233.9L388.7,231.3ZM409.2,298.1L407.6,299.5L404.6,298.9L404.2,300.0L409.9,300.0ZM598.3,467.2L592.2,464.2L597.3,472.3L603.4,475.4ZM504.8,228.5L504.7,228.5L506.0,234.4ZM471.2,322.7L465.1,322.7L471.2,330.3L472.7,340.1ZM557.5,389.3L545.0,387.1L545.0,390.8L556.0,393.9L568.1,392.4ZM332.4,469.0L331.0,469.0L334.4,471.7L334.9,473.3L335.2,473.3L334.4,470.1ZM335.7,505.0L330.0,505.0L330.0,506.5L334.4,506.5L345.0,512.5L336.7,506.5ZM224.9,247.4L239.8,256.3L251.8,268.3L266.7,245.9L257.8,235.4L239.8,229.4L211.4,223.4L218.9,233.9ZM193.0,440.5L201.9,431.5L194.5,419.5L209.4,416.5L197.5,404.6L179.5,401.6L182.5,425.5ZM289.7,518.3L299.8,528.4L309.8,522.3L313.9,508.3L311.9,494.2L301.8,484.1L289.7,488.1L281.7,496.2L283.7,508.3ZM487.1,261.6L486.3,266.2L489.3,275.3L489.1,275.8L489.3,276.8L501.5,287.4L506.0,286.6L510.5,281.3L512.8,270.7L507.5,262.4L512.8,260.1L513.6,248.0L516.6,246.5L516.6,238.9L521.1,229.8L526.4,224.5L512.1,228.3L504.5,226.8L506.0,234.4L496.9,231.3L478.7,247.2L481.8,252.5L480.3,255.6ZM472.7,293.4L471.2,275.3L465.1,273.7L465.1,279.0L456.0,279.0L456.0,273.7L450.0,275.3L451.5,281.3L446.2,281.3L445.4,291.9L443.2,300.0L443.9,300.0L471.2,300.0L471.6,300.0ZM465.1,322.7L471.2,322.7L471.2,300.0L443.9,300.0L439.4,313.6L440.1,327.3L450.0,325.0ZM589.3,390.9L595.0,400.0L620.3,400.0L620.3,392.4L615.0,389.3L610.8,374.5L590.9,382.0L590.8,381.9L589.3,382.5L588.8,378.5L587.8,376.7L586.3,378.7ZM432.1,548.9L438.1,558.0L442.7,551.9L439.6,544.3L441.1,539.8L448.7,530.7L435.1,527.7L426.0,527.7L420.7,533.7L424.5,544.3ZM320.0,574.0L350.3,574.0L351.8,567.1L360.9,553.4L363.2,545.9L357.1,541.3L346.5,540.6L332.1,545.9L326.1,550.4L320.0,554.9ZM394.2,561.0L398.7,571.6L407.8,570.1L410.9,558.0L416.9,548.9L416.9,545.9L412.4,545.9L404.8,545.9L398.7,541.3L392.7,544.3L385.1,545.9L382.1,553.4L383.6,556.5ZM493.4,488.3L509.3,489.1L518.4,492.1L519.9,489.1L507.8,480.7L501.7,464.1L493.4,467.1L492.6,480.0ZM519.9,489.1L532.0,471.7L545.0,465.6L545.0,455.0L512.3,455.0L501.7,464.1L507.8,480.7ZM478.4,493.5L479.3,493.1L480.3,491.7L478.4,488.1L476.6,487.8L475.5,490.0L475.9,492.6Z" fill="#414985" stroke="#414985" stroke-width="0.3"/>
<path d="M171.5,605.8L171.1,606.6L172.0,606.5ZM244.3,440.4L239.3,439.0L242.8,442.8ZM495.5,189.1L506.0,180.1L494.0,187.6L479.0,196.5L480.0,199.1L481.8,199.5L492.4,195.0L495.2,195.0L492.5,193.5ZM515.1,225.3L513.7,226.7L514.9,226.4L515.4,225.4ZM504.7,228.5L504.8,228.5L504.5,226.8L494.5,225.3L494.9,225.6L504.5,227.6ZM299.1,398.6L317.1,395.6L320.0,397.1L320.0,396.9L329.1,386.3L329.9,386.3L326.1,385.1L328.1,376.0L326.7,370.1L320.1,365.7L309.6,374.7L300.6,382.1L294.7,389.6ZM265.6,584.8L281.7,590.8L293.7,592.8L285.7,574.7L288.7,566.6L285.7,558.6L289.7,550.5L279.6,542.5L275.6,550.5L249.4,560.6L253.5,572.7ZM436.3,350.0L431.8,340.9L424.2,332.6L410.6,337.9L403.0,332.6L400.0,333.3L400.0,350.0L401.8,350.0L403.5,355.7L404.0,350.0L436.3,350.0Z" fill="#404b85" stroke="#404b85" stroke-width="0.3"/>
<path d="M288.4,717.8L293.5,718.5L293.4,716.7L290.6,717.0L289.4,715.8ZM252.8,410.6L263.3,415.0L270.7,406.1L266.2,398.6L267.7,389.6L257.3,383.6L245.3,386.6L248.3,398.6ZM502.9,589.9L519.3,595.9L529.8,604.8L528.3,583.9L517.8,574.9L518.3,574.0L498.7,574.0L498.4,574.0L498.4,576.4ZM290.6,717.0L307.0,715.5L302.5,697.5L290.6,694.5L278.6,699.0L283.1,709.5ZM284.6,737.9L295.0,733.4L293.5,718.5L281.6,717.0L263.6,725.9L245.7,734.9L263.6,734.9ZM585.1,428.5L590.2,416.3L584.1,400.0L573.9,400.0L582.0,419.3ZM518.4,574.0L523.7,559.5L509.3,551.9L497.2,559.5L498.7,574.0Z" fill="#421c68" stroke="#421c68" stroke-width="0.3"/>
<path d="M495.5,109.8L496.2,110.0L496.2,110.4L497.0,109.8ZM314.1,365.7L309.6,374.7L317.1,368.3ZM301.8,484.1L306.2,488.5L305.8,485.0L303.8,482.1ZM315.2,516.0L313.9,508.3L311.7,515.8ZM549.4,524.2L545.0,530.9L545.0,531.4ZM360.9,393.9L354.8,390.9L357.1,395.4L363.9,393.9ZM449.1,165.1L467.1,171.1L459.6,181.6L464.1,190.6L479.0,196.5L494.0,187.6L506.0,178.6L504.5,171.1L495.5,162.1L476.1,163.6L476.0,163.5L474.6,163.6L474.6,153.2L467.1,145.7L455.1,141.2L443.2,141.2L440.2,148.7ZM358.9,316.4L371.5,320.5L371.4,319.7L376.7,314.4L378.4,311.9L378.8,311.4L383.2,302.4L388.8,298.3L379.9,276.0L361.9,276.0L348.5,287.9L351.5,302.9ZM400.0,348.7L400.0,335.6L394.8,341.8ZM411.6,365.1L406.7,365.1L406.8,365.5ZM386.2,737.9L389.2,727.4L401.2,717.0L395.2,708.0L371.3,709.5L360.8,724.4L377.3,730.4ZM227.3,482.1L243.4,474.0L243.4,470.0L217.2,470.0L208.2,473.0L217.2,481.1ZM510.5,281.3L515.8,282.1L521.1,279.0L528.7,282.8L536.3,279.8L542.3,281.3L552.9,276.8L560.5,275.3L560.5,267.7L562.3,266.6L562.9,263.6L566.7,254.7L563.5,251.5L558.2,248.0L555.2,243.5L549.7,242.4L547.6,242.0L546.1,252.5L539.3,254.8L536.3,260.1L534.8,253.3L525.7,251.0L523.4,245.7L513.6,248.0L512.8,260.1L507.5,262.4L512.8,270.7ZM518.1,300.0L549.2,300.0L549.2,299.5L549.9,288.9L546.9,282.8L542.3,281.3L536.3,279.8L528.7,282.8L521.1,279.0L516.6,282.8L518.1,291.9ZM564.3,315.9L560.5,316.1L563.9,316.5ZM482.8,350.0L486.6,350.0L545.0,350.0L545.0,368.2L540.4,369.6L544.6,374.1L545.0,374.2L545.0,374.6L545.4,375.0L557.5,371.2L560.5,366.6L571.1,365.1L575.7,372.7L586.3,378.7L587.8,376.7L587.1,375.6L584.9,366.1L584.0,363.6L582.2,357.5L576.5,349.0L573.9,346.5L569.3,343.8L566.9,336.9L566.6,336.3L559.0,337.1L556.6,329.8L556.5,329.8L556.5,329.7L556.0,328.0L562.1,319.0L558.4,316.2L549.9,316.7L551.4,300.0L471.2,300.0L471.2,322.7L472.7,340.1L477.2,339.4ZM489.6,356.1L486.6,350.0L487.1,357.0L488.3,357.4L488.8,357.6ZM507.4,365.5L513.6,360.6L524.2,362.1L524.7,361.3L513.8,359.1ZM534.0,369.7L531.8,366.4L533.3,371.2ZM488.3,538.5L487.6,539.2L489.6,539.0L488.4,538.3ZM338.2,494.4L339.7,498.2L351.0,495.9L357.9,490.6L362.4,489.8L363.9,474.7L361.6,467.9L342.7,464.1L334.4,470.1L336.7,479.2ZM363.2,545.9L368.5,547.4L380.6,538.3L385.1,530.7L386.6,524.7L377.5,523.1L375.3,515.6L368.5,518.6L363.9,526.2L357.9,530.7L357.1,541.3ZM486.8,479.8L481.1,478.1L483.6,483.0L479.4,483.0L480.6,486.6L483.2,486.6L484.4,486.1L484.0,483.3L486.9,480.4ZM461.1,475.4L459.8,474.1L458.6,474.0L457.4,474.6L456.7,479.8L458.6,480.5L461.1,476.4ZM474.1,479.5L470.9,483.6L475.0,485.1L477.1,481.3Z" fill="#405287" stroke="#405287" stroke-width="0.3"/>
<path d="M380.4,226.4L379.7,227.0L380.6,227.7ZM400.0,260.1L402.6,257.9L400.0,258.3ZM405.3,255.6L404.7,247.3L404.3,247.4L402.8,257.7ZM478.7,247.2L496.9,231.3L478.7,245.0L471.2,246.5ZM563.7,481.5L566.7,490.6L573.9,490.6L569.8,494.7L592.2,497.8L586.1,491.6L573.9,489.6L565.7,483.5L564.7,477.4ZM346.9,540.6L342.7,532.2L346.5,540.6ZM65.9,455.4L91.3,425.5L86.8,407.6L94.3,398.6L77.8,385.1L68.9,374.7L36.0,371.7L36.0,443.4L36.0,443.4L60.0,461.3ZM462.1,245.7L462.3,245.6L462.8,245.0L463.4,245.1L465.1,244.2L471.2,246.5L478.7,245.0L496.9,231.3L506.0,234.4L504.5,227.6L489.3,224.5L484.8,214.7L477.2,213.2L469.7,220.0L462.8,217.0L462.1,223.8L459.1,225.3L458.3,234.4L459.1,240.4ZM474.5,492.9L480.5,489.8L480.5,482.3L469.2,480.7L469.2,487.6Z" fill="#414684" stroke="#414684" stroke-width="0.3"/>
<path d="M380.2,341.7L384.9,341.2L383.3,340.2L380.0,341.4ZM440.6,490.8L441.1,489.8L439.6,489.8ZM416.9,526.2L409.3,526.2L408.6,533.7ZM466.1,479.5L468.7,479.9L469.7,478.8L468.9,474.2L465.7,474.9Z" fill="#3f638a" stroke="#3f638a" stroke-width="0.3"/>
<path d="M335.2,421.8L339.7,416.6L333.6,419.7ZM490.0,286.9L489.5,285.0L488.8,285.0L489.3,285.9L484.0,285.9L486.3,288.9L491.8,289.6ZM434.3,494.4L432.1,500.4L433.9,505.1L435.1,500.4L436.7,497.6ZM501.7,516.1L501.7,517.1L491.1,519.4L509.0,517.7L508.5,517.3ZM465.1,273.7L471.2,275.3L472.7,293.4L471.6,300.0L472.9,300.0L474.2,293.4L484.8,293.4L491.6,294.9L492.4,289.6L486.3,288.9L484.0,285.9L489.3,285.9L486.3,281.3L489.3,275.3L486.3,266.2L481.8,265.4L474.2,268.4L465.1,270.0L463.6,266.9L456.0,266.9L456.0,279.0L465.1,279.0ZM474.7,300.0L478.2,300.0L478.7,298.0ZM542.3,406.0L541.2,405.7L538.0,410.6L540.8,406.4L541.5,406.8ZM480.5,489.8L474.5,492.9L471.4,500.4L474.5,494.4ZM513.2,517.5L521.4,517.1L515.3,515.6L514.1,516.0ZM419.9,431.8L426.0,425.7L428.3,410.6L431.1,410.3L431.3,409.8L432.1,400.0L424.5,400.0L426.0,410.6L416.9,421.2L411.6,426.5L413.9,432.5ZM371.5,485.3L372.2,497.4L380.6,493.6L394.2,500.4L401.8,501.9L402.5,495.9L407.1,494.4L409.3,491.3L404.8,483.8L404.0,474.7L398.0,467.9L392.7,471.7L385.1,472.4L377.5,469.4L361.6,467.9L363.9,474.7ZM474.5,567.1L471.4,567.8L456.3,568.6L453.3,567.1L444.2,567.1L442.7,574.0L476.0,574.0ZM500.8,457.7L502.7,465.8L504.9,465.8L507.2,460.8L509.4,455.8L505.8,454.1L501.8,456.1Z" fill="#3f6a8b" stroke="#3f6a8b" stroke-width="0.3"/>
<path d="M327.6,432.5L329.7,433.8L330.8,433.4L329.9,429.6ZM443.3,565.9L444.0,567.7L444.2,567.1ZM444.2,428.0L438.1,421.2L437.7,419.0L436.3,419.0L436.6,421.2L441.1,428.7L450.2,429.5ZM391.9,518.6L391.2,511.0L389.7,512.5ZM464.2,567.9L471.4,567.8L474.5,567.1ZM485.0,130.7L494.0,139.7L495.5,160.6L499.2,165.9L504.5,171.1L504.7,172.1L513.4,177.1L522.4,168.1L520.9,148.7L517.9,129.2L522.4,120.3L519.4,109.8L497.0,109.8L488.0,117.3ZM299.6,229.4L320.6,235.4L326.5,247.4L335.5,256.3L359.4,256.3L363.9,241.4L359.4,232.4L341.5,236.9L328.0,232.4L329.5,211.5L317.6,195.0L317.1,195.3L310.7,202.0L301.6,204.3L294.7,206.6L291.3,214.6L290.2,212.3L287.7,219.0ZM103.3,322.3L92.8,325.3L98.8,334.3L119.7,335.8L134.7,331.3L143.6,319.3L140.6,310.4L119.7,308.9L106.3,304.4L107.8,314.9ZM287.2,380.6L300.6,382.1L309.6,374.7L314.1,365.7L302.1,355.2L290.2,356.7L278.2,362.7L279.7,373.2ZM209.4,468.9L212.5,471.6L217.2,470.0L243.4,470.0L243.4,470.9L252.8,465.9L254.3,455.4L239.3,439.0L228.9,443.4L215.4,439.0L213.9,452.4ZM362.1,467.9L361.9,467.4L360.6,467.7L361.6,467.9ZM313.3,473.9L320.0,473.1L320.0,469.4ZM335.2,473.3L335.0,473.3L334.9,473.3L336.7,479.2ZM305.1,479.3L305.3,480.6L309.4,476.5ZM357.9,490.6L371.0,496.8L364.9,479.3L363.9,475.1L362.4,489.8ZM306.2,488.5L311.9,494.2L305.8,485.0ZM338.2,494.4L332.1,499.7L339.7,498.2ZM351.0,500.4L359.4,503.5L351.0,495.9L339.7,498.2ZM335.7,505.0L332.1,499.7L330.0,502.1L330.0,505.0ZM370.0,564.0L366.9,558.4L367.6,569.3ZM399.7,577.9L396.8,573.1L395.7,574.0L367.9,574.0L368.3,580.9L380.3,592.9ZM369.8,631.7L371.3,625.8L363.8,606.3L356.3,601.8L341.4,607.8L329.4,625.8L344.4,633.2ZM173.7,606.2L178.0,605.5L182.1,609.2L179.9,604.8ZM184.4,639.0L186.6,631.0L180.3,642.2L180.5,642.0ZM152.4,678.3L150.0,676.9L150.0,677.7L151.6,678.8ZM156.0,682.6L157.3,681.5L157.4,681.1L155.0,679.8L155.0,682.1ZM315.9,520.3L320.0,518.6L320.0,473.1L311.9,474.0L303.8,482.1L311.9,494.2L313.9,508.3ZM326.1,506.5L330.0,506.5L330.0,502.1ZM160.9,606.9L161.6,608.2L163.1,607.8L169.2,606.9ZM440.9,217.7L443.9,229.8L448.5,233.6L458.3,234.4L459.1,225.3L462.1,223.8L462.8,217.0L469.7,220.0L477.2,213.2L483.3,210.1L481.8,199.5L475.7,198.0L472.7,195.0L427.3,195.0L434.8,209.4ZM444.7,372.7L444.4,372.5L438.1,369.7L448.1,377.6L448.5,377.2ZM433.6,395.4L432.6,398.4L437.3,390.0L437.9,388.9ZM419.9,396.9L420.7,396.9L418.4,395.4ZM415.8,419.0L418.8,419.0L426.0,410.6L424.5,400.0L432.1,400.0L423.0,398.5L422.8,398.4L423.5,407.5L415.0,417.4ZM436.6,413.6L435.8,406.8L436.3,406.1L436.3,406.0L436.0,405.9L435.8,406.0L432.9,404.8L431.8,404.5L432.1,402.4L432.1,400.0L431.3,409.8L431.1,410.3L435.1,409.8L436.3,419.0L437.7,419.0ZM329.1,413.6L333.6,419.7L339.7,416.6L345.0,408.3L348.0,400.7L357.1,395.4L354.8,390.9L342.7,385.6L329.1,386.3L320.0,396.9L320.0,403.0ZM409.3,387.9L416.9,389.4L418.4,395.4L423.0,398.5L432.1,400.0L433.6,395.4L439.6,386.3L448.7,378.0L438.1,369.7L426.0,366.7L411.6,365.1L407.8,375.0ZM509.3,413.6L507.8,425.7L513.8,425.7L529.0,421.2L530.5,413.6L538.0,410.6L545.0,400.0L545.0,389.4L538.0,385.6L514.6,400.0L517.6,408.3ZM411.6,365.1L426.0,366.7L438.1,369.7L436.6,350.0L404.0,350.0L403.3,357.6L403.3,365.1ZM501.7,362.1L506.3,366.7L513.8,359.1L529.0,362.1L535.0,371.2L545.0,368.2L545.0,350.0L486.6,350.0L489.6,356.1ZM323.0,518.6L326.1,506.5L332.1,499.7L338.2,494.4L336.7,479.2L334.4,471.7L327.6,466.4L320.0,467.1L320.0,518.6ZM163.1,626.2L152.8,630.7L141.3,637.6L139.0,647.9L124.2,649.0L125.2,653.2L125.3,653.6L126.7,654.5L131.0,657.1L141.3,665.1L142.8,664.6L144.8,663.9L149.4,673.1L148.8,674.9L149.3,676.5L152.4,678.3L155.1,676.5L155.0,679.8L157.4,681.1L164.2,674.2L153.9,660.5L166.5,649.0L180.3,642.2L189.4,626.2L188.3,614.7L178.0,605.5L163.1,607.8L170.0,618.1Z" fill="#3f5788" stroke="#3f5788" stroke-width="0.3"/>
<path d="M311.1,473.3L312.3,474.0L313.3,473.9L315.1,472.7ZM559.6,448.9L560.9,454.4L575.9,459.1ZM396.8,573.1L399.7,577.9L404.6,574.0L401.8,574.0L407.8,570.1L398.7,571.6ZM251.5,504.2L249.6,511.7L251.9,512.7L255.5,500.2ZM320.0,558.8L315.7,561.9L317.5,566.0L312.0,574.2L320.0,572.2ZM471.2,346.9L477.2,339.4L472.7,340.1ZM538.0,542.8L536.5,544.3L535.5,546.1ZM385.1,545.9L392.7,544.3L385.1,539.8L382.1,553.4ZM281.6,697.5L284.3,696.9L290.6,694.5L292.4,695.0L307.0,691.6L311.5,676.6L305.5,667.6L283.1,660.2L269.6,670.6L277.1,682.6ZM389.2,670.6L402.7,678.1L419.1,670.6L420.6,640.7L407.2,637.7L399.7,622.8L380.3,634.7L368.3,649.7L380.3,663.1ZM522.3,664.6L517.8,676.6L528.3,687.1L541.7,664.6L541.7,649.7L538.8,640.7L525.3,637.7L508.9,640.7L511.8,658.7ZM557.5,389.3L562.0,381.8L568.1,378.7L575.7,372.7L571.1,365.1L560.5,366.6L557.5,371.2L545.4,375.0L545.0,380.6L545.0,387.1ZM585.1,428.5L586.1,438.7L594.2,428.5L604.4,432.6L612.6,434.6L620.7,430.5L620.7,400.0L584.1,400.0L590.2,416.3ZM157.0,693.0L156.5,695.9L156.2,701.7L150.5,709.9L163.4,709.9L168.5,704.4L170.7,701.0L175.3,703.3L184.4,705.6L189.7,709.5L200.9,688.0L203.2,660.5L221.5,649.0L224.9,639.9L212.3,630.7L203.2,635.3L194.0,631.9L184.8,638.7L180.3,642.2L166.5,649.0L153.9,660.5L164.2,674.2L157.4,681.1L156.7,692.5ZM480.4,447.7L481.2,450.3L484.9,450.9L486.9,449.0L486.9,447.9L484.6,445.9ZM462.3,454.4L462.8,451.6L459.5,450.8L457.4,453.3L459.2,454.8ZM468.7,479.9L469.6,483.0L470.1,483.5L470.9,483.6L474.1,479.5L473.0,478.3L469.7,478.8Z" fill="#423e80" stroke="#423e80" stroke-width="0.3"/>
<path d="M490.0,277.4L489.3,276.8L489.1,275.8L487.8,278.8ZM548.4,406.0L552.9,398.4L548.4,396.9L546.3,400.0L551.5,400.0L543.4,404.4L541.5,406.8L543.0,407.8ZM547.5,242.7L546.6,242.8L546.1,252.5ZM555.2,243.5L558.2,248.0L563.5,251.5L566.7,254.7L555.3,243.3L549.6,242.3L549.7,242.4ZM529.7,251.7L525.7,251.0L530.2,252.2ZM540.1,254.4L539.9,254.6L546.1,252.5ZM560.5,267.7L560.5,275.2L561.3,269.8L562.0,268.0L562.3,266.6ZM517.9,281.7L521.1,279.0L517.6,281.1ZM461.6,431.8L466.1,427.2L470.0,431.1L470.0,420.4L476.4,426.8L477.5,422.7L475.6,419.0L460.6,419.0L457.5,419.0L456.3,422.7L450.2,429.5ZM426.6,609.3L434.1,597.4L438.6,580.9L443.1,571.8L444.0,567.7L443.3,565.9L439.6,561.0L438.1,558.0L439.6,574.0L424.5,574.0L428.3,558.0L424.5,571.6L418.5,573.5L417.6,574.9L407.2,589.9L416.1,603.3ZM426.0,456.0L435.1,462.1L441.1,456.0L449.4,457.0L450.2,456.0L450.7,456.8L450.4,457.2L451.0,456.5L451.5,457.3L451.8,457.3L450.2,455.0L454.3,455.0L456.3,449.9L462.3,440.9L461.6,431.8L450.2,429.5L441.1,428.7L435.1,434.8L429.0,432.5L426.0,439.3L426.0,446.9ZM407.1,428.7L404.8,425.0L402.5,426.5L404.0,431.0ZM441.1,489.8L439.6,487.6L443.4,483.0L445.7,485.3L441.1,479.2L435.1,476.2L436.6,486.8L439.6,489.8ZM450.2,495.9L453.3,501.9L460.8,506.5L465.4,512.5L468.1,522.2L468.4,522.2L469.2,505.0L471.4,500.4L474.5,492.9L469.2,487.6L468.4,474.7L461.6,464.1L454.0,461.1L453.3,467.9L448.7,474.7L453.3,483.8L453.3,487.6L445.7,485.3L441.1,489.8L444.2,489.8ZM421.2,505.8L421.5,505.7L420.8,506.9L419.9,509.5L430.5,514.1L434.8,508.4L433.6,506.5L433.9,505.1L432.1,500.4L434.3,494.4L429.0,491.3L424.5,490.6L418.4,498.9L421.5,505.0ZM365.4,508.0L368.5,518.6L375.3,515.6L380.6,512.5L389.7,512.5L391.2,511.0L401.8,501.9L394.2,500.4L380.6,493.6L372.2,497.4L357.9,490.6L351.0,495.9L359.4,503.5ZM345.0,512.5L345.7,521.6L342.7,532.2L346.9,540.6L357.1,541.3L357.9,530.7L363.9,526.2L368.5,518.6L365.4,508.0L359.4,503.5L351.0,500.4L339.7,498.2L332.1,499.7L336.7,506.5ZM416.9,548.9L424.5,553.4L428.3,558.0L424.5,574.0L439.6,574.0L438.1,558.0L432.1,548.9L424.5,544.3L416.9,545.9ZM474.5,494.4L480.5,500.4L485.1,501.9L489.6,500.4L491.1,508.0L495.7,506.5L501.7,512.5L504.7,506.5L501.7,500.4L494.1,498.2L493.4,488.3L492.6,480.0L486.6,480.7L480.5,482.3L480.5,489.8ZM461.1,476.4L458.6,480.5L459.8,482.5L461.2,483.2L463.0,482.7L464.8,480.0Z" fill="#3f5e89" stroke="#3f5e89" stroke-width="0.3"/>
<path d="M491.8,294.0L491.6,294.9L492.6,294.4ZM334.2,436.4L336.7,437.8L333.7,435.6ZM517.6,281.1L515.8,282.1L518.1,291.9L516.6,282.8L517.9,281.7ZM368.4,263.8L383.3,260.8L402.6,257.9L402.8,257.7L404.3,247.4L402.5,240.2L400.4,235.3L389.3,233.9L378.9,226.4L363.9,241.4L359.4,256.3Z" fill="#3f5488" stroke="#3f5488" stroke-width="0.3"/>
<path d="M435.1,462.1L426.0,456.0L426.0,457.2L429.0,458.0L433.9,463.3ZM152.9,607.5L153.8,608.9L154.6,608.7L153.7,607.4ZM162.0,608.1L161.6,608.2L160.9,606.9L153.8,608.9L150.8,603.9L148.5,604.8L152.8,610.1L162.0,608.1ZM549.4,524.2L551.5,510.0L545.0,502.2L545.0,503.5L545.0,509.5L545.0,530.9ZM488.3,538.5L481.1,536.1L482.0,539.8L487.6,539.2ZM496.8,455.0L508.8,455.0L509.3,454.5L516.9,446.9L522.9,435.6L513.8,431.8L512.3,427.2L488.1,437.1L493.4,446.9ZM529.0,521.6L527.5,529.2L536.5,544.3L538.0,542.8L545.0,533.7L545.0,509.5L532.0,505.0L519.9,506.5L515.3,515.6L521.4,517.1ZM501.7,464.1L512.3,455.0L491.1,455.0L493.4,467.1ZM342.7,464.1L361.6,466.4L366.9,458.0L370.0,455.0L342.7,455.0L342.0,462.6ZM129.9,628.4L127.2,629.2L125.8,629.6L124.9,639.9L121.1,642.3L119.6,643.3L120.0,645.5L120.7,650.2L120.7,650.2L129.9,644.5L139.0,647.9L141.3,637.6L152.8,630.7L163.1,626.2L170.0,618.1L163.1,607.8L152.8,610.1L148.2,604.4L133.8,610.1L133.6,614.9L133.3,621.6Z" fill="#41768c" stroke="#41768c" stroke-width="0.3"/>
<path d="M416.9,453.0L413.5,447.6L409.3,456.0L413.9,454.5L415.9,457.5L418.4,455.0L416.4,454.4L416.3,453.4ZM359.3,467.4L360.6,467.7L361.9,467.4L362.3,467.9L363.1,466.8L360.3,466.2ZM498.5,447.1L498.0,451.8L501.8,456.1L505.8,454.1L505.6,447.1L500.6,445.1Z" fill="#427e8c" stroke="#427e8c" stroke-width="0.3"/>
<path d="M394.8,341.8L400.0,335.6L400.0,332.7L394.8,340.3L393.5,340.5L400.0,348.8ZM464.1,190.6L459.6,181.6L467.1,171.1L449.1,165.1L434.2,169.6L425.2,193.5L426.4,195.0L427.3,195.0L472.7,195.0L475.7,198.0L480.0,199.1L479.0,196.5ZM518.1,291.9L515.8,282.1L510.5,281.3L506.0,286.6L501.5,287.4L496.9,291.9L498.4,300.0L518.1,300.0ZM459.3,413.6L465.4,415.1L474.5,416.6L469.9,401.5L463.1,389.4L455.5,396.9L453.3,407.5ZM365.4,574.0L395.7,574.0L398.7,571.6L394.2,561.0L383.6,556.5L382.1,553.4L373.8,555.7L365.4,555.7L370.0,564.0ZM464.8,471.3L461.6,469.7L459.8,474.1L461.1,475.4L464.9,474.4ZM459.8,474.1L461.6,469.7L460.9,467.1L466.8,467.6L466.8,463.6L466.3,463.3L465.0,463.8L460.7,466.9L459.7,466.3L457.5,467.5L455.8,469.4L458.6,474.0Z" fill="#3f5989" stroke="#3f5989" stroke-width="0.3"/>
<path d="M406.7,365.1L403.8,365.1L403.8,365.7L376.8,365.7L392.7,366.7L391.2,372.7L393.4,366.7L406.8,365.5ZM487.1,261.6L481.8,265.4L486.3,266.2ZM432.9,404.8L432.1,404.5L432.1,402.4L431.8,404.5ZM468.4,474.7L469.2,487.6L469.2,480.7ZM463.1,389.3L463.1,389.4L466.8,396.0L463.6,388.6ZM474.5,416.6L465.4,415.1L459.4,413.6L460.6,419.0L475.6,419.0Z" fill="#404e86" stroke="#404e86" stroke-width="0.3"/>
<path d="M382.1,396.2L382.8,400.0L382.1,386.3L382.1,395.4L376.8,399.2ZM406.3,384.1L409.3,387.9L409.1,385.4ZM502.9,513.4L501.7,512.5L501.7,515.1L502.6,516.1Z" fill="#468c8c" stroke="#468c8c" stroke-width="0.3"/>
<path d="M367.7,398.5L368.5,403.0L365.7,405.4L368.5,406.8L370.0,401.5L373.8,402.2L376.8,399.2L370.0,400.7L366.9,393.9L363.9,393.9ZM376.7,314.4L377.8,313.2L378.8,311.4L378.4,311.9ZM392.8,340.6L394.8,340.3L396.2,337.9ZM386.5,339.2L383.3,340.2L385.9,341.8L390.9,340.9ZM348.0,435.6L354.1,440.1L360.1,443.9L366.9,443.1L366.2,438.6L370.0,434.8L378.3,432.5L383.6,422.7L384.4,418.1L377.5,416.6L370.0,413.6L354.1,420.4L349.5,428.7ZM404.0,474.7L424.5,473.2L419.9,470.1L415.4,458.0L398.4,459.5L398.0,466.4L398.0,467.9ZM409.3,491.3L419.9,485.3L426.0,483.0L435.1,481.5L424.5,473.2L404.0,474.7L404.8,483.8ZM501.7,500.4L509.3,499.7L513.1,496.6L518.4,492.1L509.3,489.1L493.4,488.3L494.1,498.2Z" fill="#48938b" stroke="#48938b" stroke-width="0.3"/>
<path d="M348.0,435.6L349.5,428.7L341.2,434.8ZM501.7,515.1L501.7,516.1L502.6,516.1ZM483.5,515.6L481.2,517.9L486.2,516.9ZM396.6,455.0L398.7,455.0L398.7,456.0L402.5,456.0L404.8,443.9L406.3,436.3L399.5,435.6L395.0,440.9L393.4,449.9ZM419.9,431.8L413.9,432.5L413.1,437.8L413.1,446.9L416.9,453.0L426.0,446.9L426.0,439.3L429.0,432.5L435.1,434.8L441.1,428.7L436.6,421.2L435.1,409.8L428.3,410.6L426.0,425.7Z" fill="#43828c" stroke="#43828c" stroke-width="0.3"/>
<path d="M384.4,418.1L383.6,422.7L378.3,432.5L385.1,420.4ZM413.1,437.8L413.9,432.5L411.6,426.5L405.6,421.2L410.9,428.0L410.9,432.5ZM418.4,498.9L424.5,490.6L429.0,491.3L434.3,494.4L432.1,491.3L436.6,486.8L435.1,481.5L426.0,483.0L419.9,485.3L409.3,491.3L413.9,495.9ZM448.7,472.4L453.3,467.9L454.0,461.1L451.0,456.5L445.7,462.6L439.6,470.1L444.2,471.7Z" fill="#57ad83" stroke="#57ad83" stroke-width="0.3"/>
<path d="M379.0,444.3L378.3,440.9L377.2,442.4ZM396.6,455.0L393.4,449.9L391.2,453.0L395.2,455.0Z" fill="#4d9e89" stroke="#4d9e89" stroke-width="0.3"/>
<path d="M370.4,455.0L372.9,448.8L368.6,455.0ZM398.7,456.0L398.4,459.5L402.5,456.0Z" fill="#4a988a" stroke="#4a988a" stroke-width="0.3"/>
<path d="M395.7,434.8L395.0,440.9L399.5,435.6Z" fill="#55aa84" stroke="#55aa84" stroke-width="0.3"/>
<path d="M401.8,433.3L399.5,435.6L406.3,436.3L410.9,432.5Z" fill="#65ba7a" stroke="#65ba7a" stroke-width="0.3"/>
<path d="M392.7,471.7L396.4,469.0L395.3,469.0Z" fill="#47908b" stroke="#47908b" stroke-width="0.3"/>
<path d="M395.7,398.5L391.9,396.9L391.2,397.7Z" fill="#76c470" stroke="#76c470" stroke-width="0.3"/>
<path d="M422.8,398.4L420.7,396.9L419.9,396.9L421.5,398.5L423.0,406.8ZM538.0,385.6L518.4,395.4L512.7,400.2L513.8,400.0L514.0,400.3L514.6,400.0ZM469.9,401.5L464.6,387.9L463.6,388.6L466.8,396.0ZM556.0,393.9L545.0,390.8L545.0,400.0L545.0,400.0L546.3,400.0L548.4,396.9L552.9,398.4ZM541.2,405.7L542.3,406.0L543.4,404.4L541.4,405.5ZM513.8,400.0L512.7,400.2L509.3,403.0L514.0,400.3ZM511.2,426.8L512.3,427.2L513.8,431.8L513.8,426.5L513.8,426.5ZM519.3,442.4L516.9,446.9L509.3,454.5L508.8,455.0L511.7,455.0L514.8,451.9ZM551.5,400.0L545.0,400.0L541.4,405.5ZM334.4,422.7L339.7,425.7L341.2,434.8L349.5,428.7L354.1,420.4L370.0,413.6L365.4,410.6L363.2,407.5L365.4,405.3L365.7,405.4L368.5,403.0L367.7,398.5L363.9,393.9L357.1,395.4L348.0,400.7L345.0,408.3L339.7,416.6ZM342.0,448.4L342.5,457.5L342.7,455.0L368.6,455.0L370.0,453.0L372.9,448.8L376.0,440.9L377.2,442.4L378.3,440.9L385.1,429.5L382.1,425.7L378.3,432.5L370.0,434.8L366.2,438.6L366.9,443.1L360.1,443.9L354.1,440.1L348.0,435.6L341.2,434.8L339.7,425.7L334.4,422.7L329.1,425.7L330.6,433.3L336.7,437.8ZM342.7,464.1L359.3,467.4L360.3,466.2ZM474.5,416.6L477.5,422.7L476.0,428.7L480.5,440.1L488.1,437.1L512.3,427.2L507.8,425.7L509.3,413.6L517.6,408.3L514.6,400.0L509.3,403.0L500.2,405.3L492.6,401.5L486.6,395.4L480.5,392.4L464.6,387.9L469.9,401.5ZM436.6,511.0L441.1,512.5L445.7,506.5L452.5,501.9L450.2,496.6L445.7,492.9L441.1,489.8L435.1,500.4L433.6,506.5ZM435.1,527.7L448.7,530.7L441.1,539.8L439.6,544.3L447.2,549.6L456.3,553.4L462.3,547.4L469.9,548.9L472.9,555.7L485.1,548.9L482.0,539.8L480.5,533.7L472.9,532.2L466.9,526.2L465.4,521.6L460.8,523.9L453.3,527.7L448.0,523.9L444.2,518.6L441.1,513.3L435.1,514.1L436.6,515.6L434.3,517.8L432.1,514.8L429.0,515.6L428.3,524.7ZM416.9,526.2L408.6,533.7L409.3,539.8L416.9,545.9L424.5,544.3L420.7,533.7L426.0,527.7L428.3,524.7L429.0,515.6L427.5,513.3L418.5,511.1L416.9,514.1L414.6,512.9L410.9,514.8L412.4,520.1Z" fill="#417b8c" stroke="#417b8c" stroke-width="0.3"/>
<path d="M412.4,498.9L421.5,505.0L418.4,498.9L413.9,495.9L409.3,491.3L407.1,494.4ZM469.2,505.0L468.4,522.2L469.2,522.4Z" fill="#41788c" stroke="#41788c" stroke-width="0.3"/>
<path d="M364.9,479.3L371.0,496.8L372.2,497.4L371.5,485.3L363.9,474.7ZM573.9,489.6L586.1,491.6L592.2,497.8L605.4,491.6L609.5,481.5L603.4,475.4L597.3,472.3L592.2,464.2L581.0,466.2L569.8,469.2L564.7,477.4L565.7,483.5ZM464.9,474.4L461.1,475.4L461.1,476.4L464.8,480.0L466.1,479.5L465.7,474.9Z" fill="#3f618a" stroke="#3f618a" stroke-width="0.3"/>
<path d="M435.1,476.2L428.3,468.6L424.5,473.2L435.1,481.5L436.6,486.8ZM482.8,442.1L484.0,438.9L480.1,436.4L482.2,431.9L481.9,431.4L480.3,430.5L477.6,431.0L476.9,434.4L479.9,436.5L478.1,438.8L479.2,442.9Z" fill="#44878c" stroke="#44878c" stroke-width="0.3"/>
<path d="M445.7,492.9L450.2,496.6L452.5,501.9L445.7,506.5L441.1,512.5L436.6,511.0L434.8,508.4L430.5,514.1L419.9,509.5L418.5,511.1L427.5,513.3L429.0,515.6L432.1,514.8L434.3,513.3L435.1,514.1L441.1,513.3L445.7,507.2L453.3,502.7L460.8,507.2L465.4,513.3L465.4,521.6L468.1,522.2L465.4,512.5L460.8,506.5L453.3,501.9L450.2,495.9L444.2,489.8L441.1,489.8ZM453.3,483.8L448.7,474.7L453.3,467.9L448.7,472.4L444.2,471.7L445.7,477.7Z" fill="#42808c" stroke="#42808c" stroke-width="0.3"/>
<path d="M435.1,527.7L428.3,524.7L426.0,527.7ZM415.0,417.4L423.5,407.5L423.0,400.5L423.0,406.8L414.6,416.6ZM415.8,419.0L416.9,421.2L418.8,419.0ZM530.5,415.1L532.1,414.3L534.3,412.1L530.5,413.6L530.0,416.0L530.3,415.8ZM513.8,425.7L507.8,425.7L511.2,426.8L513.8,426.5L513.8,426.5ZM470.0,420.4L470.0,431.1L471.4,432.5L480.5,440.1L476.0,428.7L476.4,426.8ZM402.5,456.0L409.3,456.0L413.5,447.6L413.1,446.9L413.1,437.8L410.9,432.5L406.3,436.3L404.8,443.9ZM489.6,454.5L489.8,455.0L491.1,455.0L496.8,455.0L493.4,446.9L488.1,437.1L480.5,440.1L485.1,446.9ZM420.8,506.9L418.7,510.7L419.9,509.5ZM401.8,527.7L409.3,526.2L416.9,526.2L412.4,520.1L410.9,514.8L414.6,512.9L412.4,511.8L418.4,506.5L421.2,505.8L421.5,505.0L412.4,498.9L407.1,494.4L401.8,501.9L391.2,511.0L391.9,518.6L394.2,524.7ZM518.4,500.4L519.9,506.5L532.0,505.0L545.0,509.5L545.0,503.5L532.0,492.9L518.4,492.1L513.1,496.6L509.3,499.7Z" fill="#3f668a" stroke="#3f668a" stroke-width="0.3"/>
<path d="M97.4,552.5L88.4,566.6L88.5,567.0L98.5,552.5L94.4,534.4ZM271.2,272.8L270.7,277.3L289.0,276.1L283.2,259.3ZM291.1,285.0L292.1,285.0L290.6,280.8ZM269.7,285.0L270.3,285.0L269.9,283.8ZM293.2,305.9L290.2,276.0L267.7,277.5L275.2,299.9ZM140.6,446.4L155.6,437.5L161.6,425.5L149.6,410.6L128.7,416.5L130.2,436.0ZM398.2,618.3L402.7,603.3L407.2,589.9L417.6,574.9L414.5,574.0L404.6,574.0L399.7,577.9L380.3,592.9L389.2,600.3ZM372.6,709.4L395.2,708.0L395.4,708.3L396.7,708.0L389.2,697.5L377.3,693.0L360.8,700.5L365.3,706.5ZM461.0,758.8L507.4,758.8L507.4,742.4L490.9,734.9L467.0,734.9L464.0,742.4ZM38.3,579.2L41.6,580.8L54.2,584.8L70.3,574.7L72.3,562.6L84.4,554.6L87.4,536.4L79.3,530.4L66.2,520.3L55.2,522.3L54.2,536.4L40.1,550.5L33.0,570.7L37.0,577.8ZM289.7,550.5L311.9,548.5L300.8,538.5L299.8,528.4L289.7,523.4L280.7,529.7L281.7,530.4L281.7,533.8L285.7,540.5ZM574.9,400.0L583.8,400.0L581.7,396.9L569.6,389.3L571.1,393.9ZM436.6,515.6L434.3,513.3L432.1,514.8L434.3,517.8ZM393.4,527.7L392.7,523.1L386.6,526.2L388.1,529.2ZM445.7,485.3L443.4,483.0L439.6,487.6L441.1,489.8Z" fill="#43206b" stroke="#43206b" stroke-width="0.3"/>
<path d="M495.5,162.1L494.0,154.7L474.6,153.2L476.1,163.6Z" fill="#400e58" stroke="#400e58" stroke-width="0.3"/>
<path d="M325.9,167.2L328.8,171.7L327.6,173.7L328.0,175.6L338.5,184.6L339.0,184.5L339.0,184.5L339.0,184.5L359.4,183.1L378.9,178.6L383.3,169.6L377.4,160.6L359.4,168.1L347.5,163.6L341.5,139.7L334.0,135.2L325.6,138.8L329.5,142.0L323.5,146.8L323.5,157.7Z" fill="#414884" stroke="#414884" stroke-width="0.3"/>
<path d="M198.4,230.6L200.9,231.8L199.6,233.8L202.4,241.4L215.9,239.9L218.5,233.4L213.4,226.3L207.3,219.4L198.6,223.8L192.3,223.8L197.9,229.4Z" fill="#41145f" stroke="#41145f" stroke-width="0.3"/>
<path d="M197.3,266.0L195.4,266.1L180.0,271.3L180.0,274.4L202.8,270.1L198.8,266.1ZM203.5,270.9L204.8,285.0L205.4,285.0L205.4,272.8ZM180.0,281.3L180.0,285.0L192.1,285.0L193.0,282.0ZM100.3,310.4L107.8,302.9L119.7,307.4L136.2,308.9L133.2,285.0L106.3,289.4L83.8,292.4L98.8,301.4ZM188.5,298.4L206.4,302.9L203.4,270.0L179.5,274.5L161.6,280.5L193.0,282.0ZM56.6,586.1L59.4,588.6L69.1,595.7L71.1,594.5L80.3,587.8L86.4,586.8L91.4,584.9L93.3,583.8L93.6,584.1L94.4,583.8L90.4,574.7L87.4,568.7L88.5,567.0L88.4,566.6L97.4,552.5L94.4,534.4L87.4,536.4L84.4,554.6L72.3,562.6L70.3,574.7L54.2,584.8L55.8,586.0Z" fill="#3e0851" stroke="#3e0851" stroke-width="0.3"/>
<path d="M489.5,285.0L487.7,278.5L486.3,281.3L488.8,285.0Z" fill="#3f6d8b" stroke="#3f6d8b" stroke-width="0.3"/>
<path d="M314.1,410.6L317.1,403.1L308.1,398.6L297.6,403.1L299.1,412.0ZM243.4,473.2L243.4,474.0L257.5,470.0L259.5,481.9L266.2,485.3L272.2,476.3L285.7,465.9L290.2,449.4L269.2,443.4L257.3,455.4L252.8,465.9ZM444.6,666.1L452.0,672.1L455.0,666.1L467.0,667.6L465.5,663.1L452.0,655.7L444.6,642.2L437.1,640.7L438.6,652.7ZM449.1,375.9L444.9,372.7L444.7,372.6L444.7,372.7ZM464.6,387.9L464.6,387.9L457.8,382.6L453.9,379.6L463.6,388.6ZM564.7,510.0L569.8,499.8L569.8,494.7L573.9,490.6L566.7,490.6L565.7,487.6L557.6,486.6L547.4,487.6L545.0,491.5L545.0,502.2L551.5,510.0ZM464.6,387.9L471.4,386.3L472.9,380.3L469.2,366.7L466.9,354.5L457.0,350.8L444.9,372.7L457.8,382.6Z" fill="#421a65" stroke="#421a65" stroke-width="0.3"/>
<path d="M456.3,568.6L464.7,568.1L464.2,567.9ZM471.5,592.9L477.5,588.4L472.2,574.0L442.7,574.0L443.1,571.8L438.6,580.9L434.1,597.4L449.0,591.4L461.0,585.4Z" fill="#40728c" stroke="#40728c" stroke-width="0.3"/>
<path d="M361.4,701.3L360.8,700.5L377.3,693.0L372.8,685.6L347.4,691.6L336.9,697.5L344.4,706.5ZM348.9,746.9L363.8,733.4L354.8,718.5L338.4,724.4L339.9,736.4ZM468.8,352.6L471.4,350.0L474.2,350.0L472.7,348.5L471.2,346.9L470.4,346.2L465.9,348.5L467.4,352.2Z" fill="#411661" stroke="#411661" stroke-width="0.3"/>
<path d="M502.9,513.4L502.6,516.1L508.5,517.3ZM513.2,517.5L514.1,516.0L510.0,517.6L510.2,517.6ZM486.2,516.9L481.2,517.9L480.5,518.6L490.6,519.3L490.6,519.1ZM474.5,520.1L470.0,522.0L470.0,522.1L480.5,518.6ZM480.5,533.7L481.1,536.1L488.3,538.5L488.4,538.3ZM413.9,454.5L409.3,456.0L402.5,456.0L398.7,459.0L398.7,459.5L415.4,458.0L415.9,457.5ZM424.5,473.2L428.3,468.6L432.1,461.1L429.0,458.0L418.4,455.0L415.4,458.0L419.9,470.1ZM469.2,522.4L474.5,520.1L480.5,518.6L483.5,515.6L491.1,519.4L501.7,517.1L501.7,512.5L495.7,506.5L491.1,508.0L489.6,500.4L485.1,501.9L480.5,500.4L474.5,494.4L471.4,500.4L469.2,505.0ZM501.7,512.5L509.0,517.7L509.8,517.6L515.3,515.6L519.9,506.5L518.4,500.4L509.3,499.7L501.7,500.4L504.7,506.5ZM472.9,532.2L480.5,533.7L489.6,539.0L491.9,526.2L491.1,519.4L480.5,518.6L469.2,522.4L465.4,521.6L466.9,526.2Z" fill="#478e8c" stroke="#478e8c" stroke-width="0.3"/>
<path d="M385.1,448.4L379.1,444.6L379.0,444.3L378.3,443.9L376.0,440.9L370.4,455.0L395.2,455.0L391.2,453.0ZM398.0,466.4L395.3,469.0L396.4,469.0L398.0,467.9ZM373.9,469.0L370.0,468.6L363.1,466.8L362.3,467.9L373.7,469.0Z" fill="#60b67d" stroke="#60b67d" stroke-width="0.3"/>
<path d="M385.1,448.4L391.2,453.0L393.4,449.9L395.0,440.9L395.7,434.8L392.7,428.7L385.1,429.5L378.3,440.9L379.1,444.6Z" fill="#4c9c89" stroke="#4c9c89" stroke-width="0.3"/>
<path d="M388.9,380.3L382.1,386.3L382.8,400.0L389.7,399.2L391.9,396.9L392.7,390.1L398.7,384.1L406.3,384.1L409.1,385.4L407.8,375.0L411.6,365.1L393.4,366.7L391.2,372.7Z" fill="#4b9a8a" stroke="#4b9a8a" stroke-width="0.3"/>
<path d="M395.7,398.5L395.7,403.8L400.3,412.1L405.6,421.2L411.6,426.5L416.9,421.2L414.6,416.6L423.0,406.8L421.5,398.5L418.4,395.4L416.9,389.4L409.3,387.9L406.3,384.1L398.7,384.1L392.7,390.1L391.9,396.9Z" fill="#4ea188" stroke="#4ea188" stroke-width="0.3"/>
<path d="M450.2,456.0L445.7,462.1L443.9,464.9L445.7,462.6L450.7,456.8Z" fill="#51a686" stroke="#51a686" stroke-width="0.3"/>
<path d="M370.0,413.6L377.5,416.6L384.4,418.1L385.1,420.4L382.1,425.7L385.1,429.5L392.7,428.7L395.7,434.8L399.5,435.6L401.8,433.3L410.9,432.5L410.9,428.0L405.6,421.2L400.3,412.1L395.7,403.8L395.7,398.5L391.2,397.7L389.7,399.2L382.8,400.0L382.1,396.2L376.8,399.2L373.8,402.2L370.0,401.5L368.5,406.8L365.4,405.3L363.2,407.5L365.4,410.6ZM407.1,428.7L404.0,431.0L402.5,426.5L404.8,425.0Z" fill="#fae855" stroke="#fae855" stroke-width="0.3"/>
<path d="M441.1,479.2L445.7,485.3L453.3,487.6L453.3,483.8L445.7,477.7L444.2,471.7L439.6,470.1L432.1,461.1L428.3,468.6L435.1,476.2Z" fill="#45898c" stroke="#45898c" stroke-width="0.3"/>
<path d="M377.5,469.4L385.1,472.4L392.7,471.7L398.0,466.4L398.7,455.0L370.0,455.0L366.9,458.0L361.6,466.4L370.0,468.6Z" fill="#63b87b" stroke="#63b87b" stroke-width="0.3"/>
<path d="M448.0,523.9L453.3,527.7L460.8,523.9L465.4,521.6L465.4,513.3L460.8,507.2L453.3,502.7L445.7,507.2L441.1,513.3L444.2,518.6Z" fill="#72c273" stroke="#72c273" stroke-width="0.3"/>
<path d="M372.4,326.2L374.6,332.7L380.0,341.4L386.5,339.2L391.9,341.4L397.3,337.0L402.7,328.4L402.7,319.7L401.6,307.8L404.9,298.1L400.5,294.9L391.9,295.9L383.2,302.4L377.8,313.2L371.4,319.7Z" fill="#49958b" stroke="#49958b" stroke-width="0.3"/>
<path d="M484.6,445.9L486.9,447.9L489.5,445.4L489.4,444.7L486.8,442.9L484.3,443.9Z" fill="#406f8b" stroke="#406f8b" stroke-width="0.3"/>
<path d="M484.0,438.9L482.8,442.1L484.3,443.9L486.8,442.9L487.8,440.3L484.6,438.7Z" fill="#3f6c8b" stroke="#3f6c8b" stroke-width="0.3"/>
<path d="M469.6,451.5L467.0,450.5L468.3,445.8L467.3,445.5L462.2,446.3L464.6,450.2L467.0,450.5L465.7,455.7L468.0,457.3L469.8,455.9Z" fill="#423f81" stroke="#423f81" stroke-width="0.3"/>
<path d="M457.5,467.5L459.7,466.3L459.5,465.2L457.2,462.8L453.2,463.2L454.8,466.0ZM476.9,434.4L477.6,431.0L475.9,430.1L473.1,432.9L475.5,434.8Z" fill="#3f5f89" stroke="#3f5f89" stroke-width="0.3"/>
<path d="M473.7,494.1L475.9,492.6L475.5,490.0L471.4,490.5L471.1,491.6L471.9,493.6ZM446.4,495.3L449.2,499.6L457.2,498.3L455.7,490.3L448.2,490.9Z" fill="#3f698b" stroke="#3f698b" stroke-width="0.3"/>
<path d="M481.8,491.6L483.2,486.6L480.6,486.6L478.4,488.1L480.3,491.7ZM468.7,479.9L466.1,479.5L464.8,480.0L463.0,482.7L465.3,484.7L469.6,483.0ZM469.6,483.0L465.3,484.7L465.8,487.0L467.9,487.8L469.2,487.5L470.1,483.5Z" fill="#3f678a" stroke="#3f678a" stroke-width="0.3"/>
<path d="M465.3,484.7L463.0,482.7L461.2,483.2L461.0,487.0L464.5,488.0L465.8,487.0ZM471.1,491.6L471.4,490.5L470.9,488.7L469.2,487.5L467.9,487.8L466.8,492.0Z" fill="#3f5d89" stroke="#3f5d89" stroke-width="0.3"/>
<path d="M471.4,490.5L475.5,490.0L476.6,487.8L475.1,485.8L470.9,488.7ZM500.3,478.2L507.5,481.9L511.9,480.7L511.7,476.9L509.4,475.1L502.0,474.7Z" fill="#404d86" stroke="#404d86" stroke-width="0.3"/>
<path d="M470.9,483.6L470.1,483.5L469.2,487.5L470.9,488.7L475.1,485.8L475.0,485.1Z" fill="#404c86" stroke="#404c86" stroke-width="0.3"/>
<path d="M459.1,446.8L461.4,445.8L462.0,443.3L458.7,439.2L458.2,439.2L457.2,442.5L457.2,446.4Z" fill="#3f678b" stroke="#3f678b" stroke-width="0.3"/>
<path d="M462.0,443.3L463.3,442.6L463.9,439.5L461.6,437.5L458.7,439.2Z" fill="#3f5a89" stroke="#3f5a89" stroke-width="0.3"/>
<path d="M502.7,465.8L499.9,468.4L502.0,474.7L509.4,475.1L508.2,466.7L504.9,465.8Z" fill="#414583" stroke="#414583" stroke-width="0.3"/>
<path d="M444.9,445.6L450.4,443.8L451.0,441.4L447.0,436.7L439.9,441.5L439.8,442.0Z" fill="#3f5688" stroke="#3f5688" stroke-width="0.3"/>
<path d="M36.0,443.4L36.0,443.4L60.0,461.3M36.0,443.4L33.0,441.8L33.0,502.2L44.1,504.2L50.1,514.3L55.2,522.3M60.0,461.3L65.9,455.4L91.3,425.5L86.8,407.6L94.3,398.6L77.8,385.1L68.9,374.7L36.0,371.7L36.0,443.4M55.2,522.3L54.2,536.4L40.1,550.5L33.0,570.7L36.0,576.1M44.6,581.8L54.2,584.8M54.2,584.8L54.9,585.3M54.2,584.8L70.3,574.7L72.3,562.6L84.4,554.6L87.4,536.4M55.2,522.3L66.2,520.3L79.3,530.4M79.9,461.4L79.3,459.5L60.0,461.3L60.0,461.3M63.5,591.6L68.7,595.4M77.5,589.9L80.3,587.8L86.4,586.8L88.4,586.0M87.4,536.4L79.3,530.4M79.3,530.4L88.4,520.3L104.5,518.3L110.5,510.3M123.2,481.0L130.2,476.3L133.2,456.9L119.7,449.4L104.8,461.4L79.9,461.4M79.9,461.4L82.7,470.0L93.8,491.0M93.9,490.9L84.6,470.4M94.4,534.4L87.4,536.4M94.4,583.8L90.4,574.7L87.4,568.7L88.5,567.0M88.5,567.0L88.4,566.6L97.4,552.5L94.4,534.4M98.5,552.5L88.5,567.0M94.4,492.1L93.8,491.0M93.8,491.0L93.9,490.9M93.9,490.9L94.4,492.1M94.2,583.8L94.4,583.8M100.5,490.1L94.4,492.1M94.4,534.4L98.5,552.5M94.4,583.8L108.2,594.5M149.5,542.8L136.7,545.5L120.6,547.5L98.5,552.5M110.5,510.3L100.5,490.1M100.5,490.1L116.6,480.1M106.3,304.4L107.8,314.9L103.3,322.3L92.8,325.3L98.8,334.3L119.7,335.8L134.7,331.3L143.6,319.3L140.6,310.4L119.7,308.9L106.3,304.4M106.3,304.4L107.8,302.9L119.7,307.4L136.2,308.9L133.2,285.0L106.3,289.4L83.8,292.4L98.8,301.4L100.3,310.4L106.3,304.4M116.6,514.3L110.5,510.3M110.5,510.3L118.6,506.2M116.6,480.1L123.2,481.0M120.4,470.4L116.6,480.1M116.6,514.3L130.7,522.3L142.7,528.4M118.6,506.2L116.6,514.3M118.6,506.2L134.7,494.2L130.7,482.1M118.9,589.7L120.6,588.8L137.5,587.2M122.6,649.0L129.9,644.5L139.0,647.9M130.7,482.1L123.2,481.0M139.0,647.9L124.7,649.0M150.8,490.1L144.8,480.1L130.7,482.1M149.6,632.7L141.3,637.6L139.0,647.9M141.7,586.7L142.7,574.7L154.8,566.6L168.9,562.6M150.8,542.5L142.7,528.4M142.7,528.4L144.8,516.3M144.8,516.3L148.8,528.4L150.8,542.5M144.8,516.3L150.8,512.3M158.9,510.3L144.8,516.3M163.1,607.8L152.8,610.1L148.5,604.8M149.0,675.6L149.3,676.5L149.6,676.6M155.2,545.0L149.5,542.8M149.5,542.8L150.8,542.5M150.1,602.6L154.6,608.7L160.9,606.9L169.2,606.9M157.8,628.5L152.8,630.7L150.4,632.1M150.4,677.1L151.9,678.0M150.8,512.3L148.8,502.2L150.8,490.1M189.0,507.2L189.0,494.2L177.0,490.1L166.9,482.1L150.8,490.1M150.8,512.3L158.9,510.3M150.8,542.5L155.2,545.0M156.3,700.2L156.2,701.7L150.8,709.5M151.3,589.2L153.7,595.5M160.5,548.1L155.2,545.0M155.5,680.0L157.4,681.1M157.4,681.1L156.8,691.4M180.3,642.2L166.5,649.0L153.9,660.5L164.2,674.2L157.4,681.1M158.9,510.3L162.9,522.3L170.9,534.4M189.0,507.2L158.9,510.3M163.1,607.8L170.0,618.1L163.1,626.2L159.8,627.6M160.5,548.1L162.9,549.5L175.0,546.5L179.0,540.5L170.9,534.4M168.9,562.6L166.9,554.6L160.5,548.1M169.2,606.9L163.1,607.8M171.1,606.6L175.0,598.9L191.1,590.8L198.1,579.7L191.1,570.7L179.0,564.6L168.9,562.6M169.2,606.9L171.1,606.6M170.9,534.4L180.0,538.5M188.3,614.7L178.0,605.5L171.1,606.6M179.6,274.5L179.5,274.5L161.6,280.5L179.6,281.3M180.0,538.5L205.2,538.5L201.1,518.3L187.0,520.3M180.0,538.5L187.0,520.3M180.3,642.2L188.1,628.5M184.8,638.7L180.3,642.2M193.2,266.9L180.4,271.1M180.4,274.3L202.8,270.1M192.3,284.6L193.0,282.0L180.4,281.4M188.6,628.5L184.8,638.7M212.3,630.7L203.2,635.3L194.0,631.9L184.8,638.7M187.0,520.3L189.0,507.2M188.3,614.7L189.4,626.2M212.3,630.7L214.6,621.6L223.8,615.9L221.5,610.1L203.2,607.8L188.3,614.7M188.6,627.6L189.4,626.2M189.4,626.2L188.9,627.6M189.9,709.0L200.9,688.0L203.2,660.5L221.5,649.0L224.9,639.9L212.3,630.7M192.0,285.5L188.5,298.4L206.4,302.9L204.9,285.5M192.8,224.3L197.9,229.4L198.1,229.9M194.5,419.5L201.9,431.5M194.5,419.5L209.4,416.5L197.5,404.6L179.5,401.6L182.5,425.5L193.0,440.5L201.9,431.5M214.9,443.2L207.9,418.0L194.5,419.5M202.8,270.1L199.3,266.7M199.8,234.3L202.1,240.4M201.9,431.5L196.0,444.9L214.7,444.9M202.6,241.4L215.9,239.9L218.5,233.4M204.8,284.6L203.4,270.0L202.8,270.1M213.4,226.3L207.7,219.8M212.4,223.7L211.4,223.4L213.4,226.3M212.5,471.6L208.2,473.0L217.2,481.1M214.7,444.9L213.9,452.4L209.4,468.9L212.5,471.6M212.5,471.6L216.8,470.1M218.5,233.4L215.3,229.0L213.4,226.3M214.3,528.7L212.2,532.4L215.2,550.5L227.3,556.6L239.4,554.6L247.4,536.4M217.4,504.6L210.2,508.3L210.2,530.4L214.3,528.7M214.3,528.7L215.1,527.5L216.1,525.7M214.7,444.9L214.8,444.2L214.9,443.2M239.3,439.0L228.9,443.4L215.4,439.0L214.9,443.2M216.1,525.7L217.2,522.3L225.3,512.3L223.3,508.7M229.3,512.3L219.2,520.3L216.1,525.7M243.4,474.0L227.3,482.1L217.2,481.1M217.2,481.1L231.3,488.1M223.3,508.7L219.2,506.2L217.4,504.6M231.3,488.1L215.2,482.1L207.2,488.1L212.2,500.2L217.4,504.6M218.5,233.4L218.9,233.9L224.9,247.4L239.8,256.3L251.8,268.3L266.7,245.9L257.8,235.4L239.8,229.4L219.6,225.2M223.3,508.7L229.3,512.3M249.6,511.7L249.4,512.3L239.4,508.3L229.3,512.3M251.5,504.2L231.3,488.1M239.3,439.0L249.8,441.9L269.2,443.4M252.8,465.9L254.3,455.4L239.3,439.0M269.2,443.4L285.7,437.5L284.2,419.5L236.3,425.5L239.3,439.0M239.4,556.6L251.5,558.6L275.6,550.5M249.4,560.6L239.4,556.6M239.4,556.6L225.3,558.6L227.3,574.7L231.3,588.8L241.4,590.8L247.4,602.9L261.5,606.9M247.4,536.4L239.4,556.6M243.4,470.4L243.4,470.9M243.4,473.2L243.4,470.9M243.4,470.9L252.8,465.9M243.4,473.2L243.4,474.0M252.8,465.9L243.4,473.2M243.4,474.0L257.5,470.0L259.5,481.9M247.4,536.4L257.5,518.3L253.2,514.0M280.7,529.7L273.6,524.4L265.6,516.3L257.5,526.4L247.4,536.4M249.4,560.6L253.5,572.7L265.6,584.8M275.6,550.5L249.4,560.6M251.9,512.7L251.5,512.3L249.6,511.7M249.6,511.7L251.5,504.2M251.5,504.2L255.5,500.2M253.2,514.0L251.5,514.3L251.9,512.7M255.5,500.2L251.9,512.7M269.2,443.4L257.3,455.4L252.8,465.9M253.2,514.0L265.6,512.3L271.6,520.3L279.6,528.4L289.7,518.3M255.5,500.2L251.5,482.1L259.5,482.1M259.5,481.9L266.2,485.3L272.2,476.3L285.7,465.9L290.2,449.4L269.2,443.4M259.5,482.1L259.5,481.9M281.7,496.2L267.6,490.1L259.5,482.1M261.5,606.9L267.6,621.0L276.6,619.4M263.5,588.8L261.5,606.9M281.7,590.8L263.5,588.8M263.5,588.8L265.6,584.8M265.6,584.8L281.7,590.8M270.7,277.3L267.7,277.5L270.1,284.6M270.4,285.5L275.2,299.9L293.2,305.9L291.1,285.5M289.0,276.1L283.2,259.3L271.2,272.8L270.7,277.3M270.7,277.3L286.1,276.3L289.0,276.1M274.5,666.8L269.6,670.6L277.1,682.6L281.6,697.5L284.3,696.9M281.5,653.0L269.6,633.2L260.6,627.3L229.2,643.7L239.7,651.2L254.7,652.7L268.1,663.1L274.5,666.8M274.5,666.8L281.1,661.7M275.6,550.5L279.6,542.5M276.6,619.4L265.1,624.3L275.6,637.7L281.5,653.0M291.4,613.0L289.7,617.0L276.6,619.4M289.7,550.5L279.6,542.5M279.6,542.5L281.7,538.5L281.7,533.8M280.7,529.7L281.7,530.4L281.7,533.8M299.8,528.4L289.7,523.4L280.7,529.7M281.1,661.7L282.8,656.5M292.4,695.0L307.0,691.6L311.5,676.6L305.5,667.6L283.1,660.2L281.1,661.7M282.8,656.5L282.2,654.8L281.5,653.0M289.7,518.3L283.7,508.3L281.7,496.2M311.9,494.2L301.8,484.1L289.7,488.1L281.7,496.2M281.7,533.8L285.7,540.5L289.7,550.5M281.7,590.8L293.7,592.8M297.5,595.1L297.8,593.8L281.7,590.8M282.8,656.5L283.1,657.2L310.0,669.1L305.5,643.7L298.0,637.7L296.5,610.8M284.3,696.9L278.6,699.0L283.1,709.5L290.6,717.0L307.0,715.5L302.5,697.5L292.4,695.0M284.3,696.9L290.6,694.5L292.4,695.0M291.0,284.6L290.2,276.0L289.0,276.1M289.7,518.3L299.8,528.4M293.7,592.8L285.7,574.7L288.7,566.6L285.7,558.6L289.7,550.5M289.7,550.5L311.9,548.5M289.9,212.9L287.7,219.0L299.6,229.4M297.5,595.1L295.8,602.9L291.4,613.0M296.5,610.8L291.4,613.0M293.7,592.8L297.8,590.8L303.8,582.7M296.5,610.8L298.0,595.9L297.5,595.1M299.6,229.4L320.6,235.4L326.5,247.4L335.5,256.3L359.4,256.3M299.6,229.4L280.2,219.0L259.2,229.4L266.7,244.4L275.7,254.8L295.1,241.4L299.6,229.4M300.8,538.5L299.8,528.4M299.8,528.4L309.8,522.3L313.9,508.3M300.6,382.1L294.7,389.6L299.1,398.6L317.1,395.6L319.6,396.8M309.6,374.7L314.1,365.7L302.1,355.2L290.2,356.7L278.2,362.7L279.7,373.2L287.2,380.6L300.6,382.1M300.6,382.1L309.6,374.7M311.9,548.5L300.8,538.5M319.6,543.3L309.8,530.4L301.8,528.4L300.8,538.5M303.8,582.7L311.9,586.8M303.8,582.7L309.8,574.7M326.7,370.1L320.1,365.7L309.6,374.7M309.9,574.5L309.8,574.7M309.8,574.7L310.7,574.5M315.7,561.9L311.9,564.6L310.1,573.6M313.4,504.6L311.9,494.2M319.6,473.2L311.9,474.0L303.8,482.1L311.9,494.2M311.9,548.5L323.0,552.7M322.5,553.1L311.9,548.5M311.9,586.8L329.5,590.7M311.9,586.8L299.8,592.8L305.8,602.9L315.9,608.9L330.0,602.9L328.0,590.8L311.9,586.8M312.4,573.6L317.5,566.0L315.7,561.9M313.9,508.3L313.5,505.5M313.9,508.3L315.9,520.3L319.6,518.8M319.6,572.3L314.3,573.6M315.7,561.9L319.6,559.1M329.5,211.5L318.9,196.9M325.6,435.1L318.6,437.5L309.6,447.9L294.7,455.4L297.6,468.9L311.1,473.3L315.1,472.7L319.6,469.7M320.3,442.0L325.6,435.1M320.3,396.6L329.1,386.3L329.9,386.3M320.3,403.3L329.1,413.6L333.6,419.7L339.7,416.6M323.3,548.3L320.4,546.1M320.4,554.7L322.5,553.1M320.4,363.9L326.1,367.4M323.0,518.6L320.4,519.9M327.6,466.4L320.4,467.1M320.4,518.6L323.0,518.6M323.0,552.7L322.5,553.1M323.0,552.7L325.3,551.0M323.0,518.6L326.8,527.7L331.4,533.7L342.7,532.2M323.0,518.6L326.1,506.5M323.3,548.3L326.1,550.4M325.3,551.0L323.3,548.3M323.5,147.4L323.5,154.8M323.8,158.9L325.5,165.7M326.1,550.4L325.3,551.0M336.7,437.8L327.6,432.5L325.6,435.1M326.1,367.4L326.7,370.1M344.2,353.8L326.1,367.4M329.5,506.5L326.1,506.5M326.1,506.5L326.9,505.5M326.1,550.4L332.1,545.9L346.5,540.6M339.5,184.5L359.4,183.1L378.9,178.6L383.3,169.6L377.4,160.6L359.4,168.1L347.5,163.6L341.5,139.7L334.0,135.2L326.1,138.6M328.1,376.0L326.7,370.1M327.6,466.4L331.6,468.6M330.4,468.6L327.6,466.4M327.7,174.4L328.0,175.6L338.3,184.4M327.7,504.6L329.5,502.6M328.1,376.0L329.1,380.3L334.4,385.6L342.7,381.8M329.9,386.3L326.1,385.1L328.1,376.0M329.5,211.5L329.5,232.4L344.5,235.4L350.5,223.4M357.5,232.9L341.5,236.9L328.0,232.4L329.5,211.5M359.4,205.5L354.9,196.5L337.0,190.6L329.5,196.5L329.5,211.5M344.2,386.2L342.7,385.6L329.9,386.3M332.1,499.7L330.4,501.6M345.0,512.5L334.4,506.5L330.4,506.5M330.4,587.9L332.4,601.8L341.4,607.8M336.7,479.2L334.4,471.7L331.6,469.5M335.4,504.6L332.1,499.7M338.2,494.4L332.1,499.7M332.1,499.7L339.7,498.2M333.2,469.5L334.4,470.1M334.4,422.7L339.7,425.7L341.2,434.8M334.4,422.7L329.1,425.7L330.6,433.3L336.7,437.8M339.7,416.6L334.4,422.7M334.4,470.1L336.7,479.2M334.4,470.1L335.1,469.5M335.3,469.5L334.4,470.1M336.0,468.6L342.0,462.6M336.0,505.5L336.7,506.5L345.0,512.5M342.7,464.1L336.5,468.6M336.7,437.8L342.0,448.4L342.3,454.6M336.7,479.2L338.2,494.4M339.7,498.2L338.2,494.4M339.7,416.6L345.0,408.3L348.0,400.7L357.1,395.4M339.7,498.2L351.0,500.4L359.4,503.5M351.0,495.9L339.7,498.2M348.0,435.6L341.2,434.8M341.2,434.8L349.5,428.7M341.2,455.4L342.0,462.6M341.4,607.8L329.4,625.8L344.4,633.2L369.8,631.7L371.3,625.8L363.8,606.3L356.3,601.8M341.4,607.8L356.3,601.8M344.2,353.8L341.5,350.4M342.0,462.6L342.7,464.1M342.0,462.6L342.5,457.5M342.3,455.4L342.5,457.5M342.5,457.5L342.7,455.4M342.7,381.8L344.2,386.2M348.0,369.7L342.7,381.8M342.7,464.1L361.6,466.4M361.6,467.9L342.7,464.1M342.7,532.2L346.9,540.6M346.5,540.6L342.7,532.2M345.0,512.5L345.7,521.6L342.7,532.2M344.2,386.2L354.8,390.9M348.0,369.7L352.6,363.6L344.2,353.8M346.9,540.6L346.5,540.6M346.9,540.6L357.1,541.3M391.2,372.7L392.7,366.7L380.6,365.9L352.6,364.4L348.0,369.7M348.0,435.6L354.1,440.1L360.1,443.9L366.9,443.1L366.2,438.6L370.0,434.8L378.3,432.5M349.5,428.7L348.0,435.6M349.5,428.7L354.1,420.4L370.0,413.6M350.7,572.2L350.4,573.6M350.5,223.4L357.5,232.9M350.5,223.4L359.4,205.5M351.0,573.7L350.7,572.2M350.7,572.2L351.8,567.1L360.9,553.4L363.2,545.9M359.4,503.5L351.0,495.9M357.9,490.6L351.0,495.9M356.3,601.8L351.1,574.2M354.8,390.9L360.9,393.9L363.9,393.9M357.1,395.4L354.8,390.9M363.9,393.9L357.1,395.4M363.2,545.9L357.1,541.3M357.1,541.3L357.9,530.7L363.9,526.2L368.5,518.6M357.5,232.9L359.4,232.4L363.9,241.4M357.9,490.6L371.0,496.8M363.9,475.1L362.4,489.8L357.9,490.6M358.9,360.8L358.6,362.1L358.6,363.6L380.6,365.1L403.3,365.1M390.9,340.9L385.9,341.8L384.9,341.2L364.9,343.3L358.9,355.2L358.9,360.8M358.9,360.8L360.9,353.0L365.1,350.2M359.4,503.5L360.9,504.6M379.7,227.0L380.4,226.4L378.9,219.0L371.4,214.5L365.4,202.5L359.4,205.5M359.4,256.3L368.4,263.8L383.3,260.8L402.6,257.9M359.4,256.3L363.9,241.4M361.4,701.3L365.3,706.5L372.6,709.4M377.3,693.0L372.8,685.6L347.4,691.6L336.9,697.5L344.4,706.5L361.4,701.3M361.4,701.3L360.8,700.5L377.3,693.0M361.6,466.4L369.8,468.6M361.6,466.4L366.9,458.0L369.5,455.4M369.0,468.6L361.6,467.9M361.6,467.9L361.9,468.6M362.1,505.5L365.4,508.0L368.5,518.6M362.2,469.5L363.9,474.7M363.2,545.9L368.5,547.4L380.6,538.3M363.2,545.9L362.4,551.9L373.8,555.7M371.0,496.8L364.9,479.3L363.9,475.1M363.9,475.1L363.9,474.7M363.9,241.4L378.9,226.4L379.7,227.0M363.9,393.9L366.9,393.9L370.0,400.7L376.8,399.2M365.7,405.4L368.5,403.0L367.7,398.5L363.9,393.9M363.9,474.7L371.5,485.3L372.2,497.4M373.8,555.7L365.4,555.7L370.0,564.0L365.6,573.6M376.8,399.2L373.8,402.2L370.0,401.5L368.5,406.8L365.7,405.4M370.0,413.6L365.4,410.6L363.2,407.5L365.4,405.3L365.7,405.4M367.9,574.5L368.3,580.9L380.3,592.9M368.5,518.6L375.3,515.6M368.9,454.6L370.0,453.0L372.9,448.8M384.4,418.1L377.5,416.6L370.0,413.6M372.9,448.8L370.5,454.6M372.2,497.4L371.0,496.8M371.5,320.5L372.4,326.2L374.6,332.7L380.0,341.4L386.5,339.2L390.9,340.9M388.8,298.3L379.9,276.0L361.9,276.0L348.5,287.9L351.5,302.9L358.9,316.4L371.5,320.5M371.5,320.5L371.4,319.7L376.7,314.4M372.2,497.4L380.6,493.6L394.2,500.4L401.8,501.9M372.6,709.4L371.3,709.5L360.8,724.4L377.3,730.4L386.2,737.9L389.2,727.4L401.2,717.0L395.4,708.3M372.6,709.4L395.2,708.0L395.4,708.3M372.9,448.8L376.0,440.9L377.2,442.4M373.8,555.7L382.1,553.4M375.3,515.6L377.5,523.1L386.6,524.7M389.7,512.5L380.6,512.5L375.3,515.6M376.7,314.4L378.4,311.9L378.8,311.4M378.8,311.4L377.8,313.2L376.7,314.4M376.8,399.2L382.1,395.4L382.1,386.3M382.8,400.0L382.1,396.2L376.8,399.2M379.0,444.3L378.3,443.9L377.2,442.4M377.2,442.4L378.3,440.9M395.4,708.3L396.7,708.0L389.2,697.5L377.3,693.0M392.7,471.7L385.1,472.4L377.7,469.5M378.3,432.5L383.6,422.7L384.4,418.1M382.1,425.7L378.3,432.5M378.3,440.9L379.0,444.3M378.3,440.9L385.1,429.5M378.8,311.4L383.2,302.4L388.8,298.3M391.2,453.0L385.1,448.4L379.1,444.6L379.0,444.3M389.3,233.9L379.7,227.0M380.3,592.9L389.2,600.3L398.2,618.3L402.7,603.3L407.2,589.9M380.3,592.9L399.7,577.9M385.1,539.8L380.6,538.3M380.6,538.3L385.1,530.7L386.6,524.7M382.1,386.3L382.8,400.0M382.1,386.3L388.9,380.3L391.2,372.7M385.1,429.5L382.1,425.7M384.4,418.1L385.1,420.4L382.1,425.7M382.1,553.4L383.6,556.5L394.2,561.0L398.7,571.6M382.1,553.4L385.1,539.8M392.7,544.3L385.1,545.9L382.1,553.4M382.8,400.0L389.7,399.2L391.2,397.7M395.7,434.8L392.7,428.7L385.1,429.5M385.1,539.8L392.7,544.3M386.6,524.7L391.9,518.6M399.6,295.0L391.9,295.9L388.8,298.3M400.4,235.3L389.3,233.9M399.6,208.5L383.3,208.5L389.3,233.9M391.9,518.6L389.7,512.5M389.7,512.5L391.2,511.0M392.8,340.6L391.9,341.4L390.9,340.9M411.6,365.1L393.4,366.7L391.2,372.7M395.7,398.5L391.2,397.7M391.2,397.7L391.9,396.9M394.3,454.6L391.2,453.0M391.2,453.0L393.4,449.9M391.2,511.0L391.9,518.6M401.8,501.9L391.2,511.0M391.9,396.9L395.7,398.5M391.9,396.9L392.7,390.1L398.7,384.1L406.3,384.1M391.9,518.6L394.2,524.7L401.8,527.7L409.3,526.2M392.7,471.7L394.9,469.5M395.7,469.5L392.7,471.7M392.7,544.3L398.7,541.3L404.8,545.9L412.4,545.9M392.8,340.6L397.3,337.0L399.6,333.4M399.6,348.3L393.5,340.5L392.8,340.6M393.4,449.9L396.3,454.6M393.4,449.9L395.0,440.9M395.0,440.9L395.7,434.8M399.5,435.6L395.0,440.9M395.7,398.5L395.7,403.8L400.3,412.1L405.6,421.2M395.7,434.8L399.5,435.6M395.8,468.6L398.0,466.4M396.8,573.1L396.1,573.7M399.7,577.9L396.8,573.1M396.8,573.1L398.7,571.6M398.0,467.9L397.0,468.6M398.0,466.4L398.0,467.9M398.4,459.5L398.0,466.4M398.6,468.6L398.0,467.9M398.4,459.5L398.7,456.0M398.7,459.5L398.4,459.5M398.7,456.0L402.5,456.0M398.7,455.4L398.7,456.0M402.5,456.0L398.7,459.0L398.7,459.5M398.7,459.5L415.4,458.0M398.7,571.6L407.8,570.1M404.0,474.7L399.4,469.5M406.3,436.3L399.5,435.6M399.5,435.6L401.8,433.3L410.9,432.5M434.2,169.6L410.3,175.6L393.8,181.6L392.3,193.5L399.6,205.6M399.6,336.1L394.8,341.8L399.6,348.1M404.0,574.5L399.7,577.9M400.4,235.3L400.2,234.8M402.6,257.9L400.3,259.8M402.5,240.2L400.4,235.3M421.2,207.9L410.6,203.3L400.4,207.0M400.4,294.9L400.5,294.9L404.9,298.1L404.6,298.9M404.1,300.4L401.6,307.8L402.7,319.7L402.7,328.4L400.4,332.0M400.4,333.2L403.0,332.6L410.6,337.9L424.2,332.6M401.8,501.9L402.5,495.9L407.1,494.4M407.1,494.4L401.8,501.9M401.9,350.4L403.5,355.7M407.8,570.1L402.5,573.6M402.5,240.2L404.5,245.0M402.8,257.7L404.3,247.4L402.5,240.2M402.5,456.0L409.3,456.0M402.5,456.0L402.6,455.4M402.6,257.9L402.7,257.8L402.8,257.7M402.8,454.6L404.8,443.9L406.3,436.3M405.3,255.6L402.8,257.7M403.3,365.1L411.6,365.1M403.3,365.1L403.3,357.6L403.5,355.7M403.5,355.7L404.0,350.4M409.3,491.3L404.8,483.8L404.0,474.7M404.0,474.7L424.5,473.2M404.4,299.6L404.6,298.9M404.5,245.0L405.3,255.6M422.7,246.5L416.7,248.0L410.6,242.7L404.5,245.0M404.6,298.9L407.6,299.5L416.7,291.9M405.3,255.6L409.1,260.1L413.6,269.2L422.7,278.3M405.6,421.2L411.6,426.5M410.9,432.5L410.9,428.0L405.6,421.2M406.3,384.1L409.1,385.4M409.3,387.9L406.3,384.1M410.9,432.5L406.3,436.3M421.5,505.0L412.4,498.9L407.1,494.4M407.1,494.4L409.3,491.3M407.2,589.9L416.1,603.3L426.6,609.3L434.1,597.4M407.2,589.9L417.6,574.9M407.8,570.1L410.9,558.0L416.9,548.9M408.6,533.7L409.3,539.8M408.6,533.7L409.3,526.2M416.9,526.2L408.6,533.7M409.1,385.4L409.3,387.9M409.1,385.4L407.8,375.0L411.6,365.1M418.4,395.4L416.9,389.4L409.3,387.9M409.3,456.0L409.6,455.4M411.0,455.4L409.3,456.0M409.3,491.3L413.9,495.9L418.4,498.9M409.3,491.3L419.9,485.3L426.0,483.0L435.1,481.5M409.3,526.2L416.9,526.2M409.3,539.8L416.9,545.9M412.4,545.9L409.3,539.8M410.1,454.6L413.5,447.6M413.1,437.8L410.9,432.5M438.1,369.7L426.0,366.7L411.6,365.1M411.6,426.5L413.9,432.5M411.6,426.5L416.9,421.2M416.9,545.9L412.4,545.9M413.5,447.6L413.1,446.9L413.1,437.8M413.9,432.5L413.1,437.8M413.5,447.6L416.9,453.0L426.0,446.9M413.9,454.6L413.9,454.5L413.7,454.6M413.9,432.5L419.9,431.8L426.0,425.7L426.9,419.5M415.9,457.5L414.5,455.4M418.5,511.1L416.9,514.1L414.6,512.9M414.6,512.9L410.9,514.8L412.4,520.1L416.9,526.2M414.6,512.9L412.4,511.8L418.4,506.5L421.2,505.8M415.0,417.4L415.2,417.8L415.6,418.6M415.0,417.4L414.6,416.6L423.0,406.8L421.5,398.5L418.4,395.4M422.8,398.4L423.5,407.5L415.0,417.4M419.3,468.6L415.4,458.0M415.4,458.0L415.9,457.5M418.3,455.1L415.9,457.5M417.6,574.9L416.1,574.5M416.9,421.2L416.1,419.5M416.7,291.9L421.7,299.6M422.7,278.3L416.7,291.9M418.4,419.5L416.9,421.2M416.9,548.9L416.9,545.9M416.9,545.9L424.5,544.3M428.3,558.0L424.5,553.4L416.9,548.9M417.3,573.9L418.5,573.5M418.5,573.5L417.6,574.9M418.4,395.4L422.8,398.4M418.4,498.9L421.5,505.0M418.4,498.9L424.5,490.6L429.0,491.3L434.3,494.4M428.3,558.0L424.5,571.6L418.5,573.5M429.0,515.6L427.5,513.3L418.5,511.1M418.5,511.1L420.8,506.9M419.1,418.6L426.0,410.6L424.5,400.0L432.1,400.0M424.5,473.2L419.9,470.1L419.7,469.5M432.1,461.1L429.0,458.0L420.0,455.4M420.8,506.9L419.9,509.5L430.5,514.1L434.8,508.4M421.2,505.8L421.5,505.7L420.8,506.9M421.5,505.0L421.2,505.8M434.8,209.4L421.2,207.9M421.2,207.9L422.7,216.2L421.2,237.4L422.7,246.5M422.7,246.5L433.3,245.7L437.9,251.8M422.7,278.3L431.8,282.8L437.9,281.3L440.9,276.8M432.1,400.0L423.0,398.5L422.8,398.4M424.2,332.6L431.8,340.9L436.1,349.6M424.2,332.6L428.0,326.5L440.1,327.3M435.1,481.5L424.5,473.2M424.5,473.2L427.6,469.5M424.5,544.3L432.1,548.9L438.1,558.0M426.0,527.7L420.7,533.7L424.5,544.3M424.6,573.6L428.3,558.0M426.0,446.9L426.0,454.6M426.0,446.9L426.0,439.3L429.0,432.5L435.1,434.8L441.1,428.7M426.0,455.4L426.0,456.0L435.1,462.1L437.3,459.9M437.3,459.9L439.0,458.1M439.0,458.1L441.1,456.0L447.0,456.7M447.0,456.7L449.4,457.0L450.2,456.0L450.7,456.8M435.1,527.7L426.0,527.7M426.0,527.7L428.3,524.7M434.2,169.6L425.2,193.5L426.0,194.6M427.1,418.6L428.3,410.6L431.1,410.3M427.5,195.4L434.8,209.4M428.3,524.7L435.1,527.7M429.0,515.6L428.3,524.7M428.3,468.6L432.1,461.1M429.0,469.5L435.1,476.2M432.1,514.8L429.0,515.6M431.1,410.3L431.3,409.8L432.1,400.0M436.2,418.6L435.1,409.8L431.1,410.3M432.1,400.0L432.1,404.5L435.8,406.0L439.6,400.7L447.2,398.5L455.5,396.9M432.1,400.0L433.6,395.4L439.6,386.3M439.6,386.3L432.1,400.0M438.3,468.6L432.1,461.1M435.1,514.1L436.6,515.6L434.3,517.8L432.1,514.8M435.1,514.1L434.3,513.3L432.1,514.8M434.8,508.4L433.6,506.5L433.9,505.1M433.9,505.1L432.1,500.4L434.3,494.4M441.1,489.8L435.1,500.4L433.9,505.1M434.1,597.4L438.6,580.9L443.1,571.8M434.1,597.4L449.0,591.4L461.0,585.4L471.5,592.9L477.5,588.4L472.4,574.5M449.1,165.1L434.2,169.6M434.3,494.4L432.1,491.3L436.6,486.8M434.8,508.4L436.6,511.0L441.1,512.5L445.7,506.5L452.5,501.9L451.3,499.2M451.3,499.2L450.2,496.6L447.0,493.9M447.0,493.9L445.7,492.9L441.1,489.8M434.8,209.4L440.9,217.7L443.9,229.8L448.5,233.6L458.3,234.4M435.1,476.2L441.1,479.2L445.7,485.3M435.1,476.2L436.6,486.8M436.6,486.8L435.1,481.5M441.1,513.3L435.1,514.1M435.1,527.7L448.7,530.7L441.1,539.8L439.6,544.3M441.1,428.7L436.6,421.2L436.4,419.5M436.6,486.8L439.6,489.8L441.1,489.8M438.1,369.7L436.6,350.4M437.0,350.0L457.0,350.8M454.8,400.4L453.3,398.5L439.6,401.5L435.8,406.8L436.6,413.6L437.6,418.6M437.8,419.5L438.1,421.2L444.2,428.0L450.2,429.5M437.8,252.0L435.6,260.1L440.9,269.2L440.9,276.8M437.8,252.0L437.9,251.8M451.5,247.2L437.8,252.0M437.9,251.8L451.5,247.2M438.1,369.7L444.9,372.7M448.7,378.0L438.1,369.7M443.3,565.9L439.6,561.0L438.1,558.0M438.1,558.0L439.6,573.6M438.1,558.0L442.7,551.9M439.6,470.1L439.1,469.5M443.8,300.4L439.4,313.6M439.4,314.5L440.1,327.3M439.6,386.3L448.7,378.0M444.2,471.7L439.6,470.1M440.2,469.5L439.6,470.1M439.6,544.3L447.2,549.6M442.7,551.9L439.6,544.3M440.1,327.3L450.0,325.0L465.1,322.7M450.7,456.8L450.4,457.2L445.7,462.6L440.9,468.6M440.9,276.8L446.2,281.3M450.2,429.5L441.1,428.7M441.1,489.8L444.2,489.8L447.3,493.0M447.3,493.0L450.2,495.9L451.8,499.1M451.8,499.1L453.3,501.9L460.8,506.5L465.4,512.5L468.1,522.2M441.1,489.8L439.6,487.6L440.7,486.2M440.7,486.2L443.4,483.0L445.7,485.3M445.7,485.3L443.9,487.1M443.9,487.1L441.1,489.8M465.4,521.6L460.8,523.9L453.3,527.7L448.0,523.9L444.2,518.6L441.1,513.3M465.4,521.6L465.4,513.3L460.8,507.2L453.3,502.7L445.7,507.2L441.1,513.3M447.2,549.6L442.7,551.9M442.8,573.6L443.1,571.8M443.1,571.8L443.7,569.4L444.0,567.7M443.3,565.9L444.2,567.1M444.0,567.7L443.3,565.9M445.9,285.5L445.4,291.9L443.3,299.6M444.2,567.1L444.0,567.7M444.2,471.7L448.7,472.4L451.7,469.5M453.3,483.8L445.7,477.7L444.2,471.7M444.2,567.1L453.3,567.1L456.3,568.6M444.9,372.7L457.8,382.6L464.6,387.9M457.0,350.8L444.9,372.7M445.7,485.3L453.3,487.6L453.3,483.8M446.2,281.3L445.9,284.6M446.2,281.3L451.5,281.3L450.0,275.3L456.0,273.7M447.2,549.6L456.3,553.4L462.3,547.4L469.1,548.7M463.1,389.4L457.8,383.3L448.7,378.0M449.1,165.1L467.1,171.1L459.6,181.6L464.1,190.6L479.0,196.5M455.1,141.2L443.2,141.2L440.2,148.7L449.1,165.1M450.2,429.5L460.5,431.5M460.5,431.5L461.6,431.8M457.4,419.5L456.3,422.7L450.2,429.5M451.8,457.3L450.5,455.4M450.7,456.8L451.0,456.5L451.5,457.3M451.5,247.2L459.1,249.5L462.3,245.6M451.5,457.3L451.8,457.3M454.0,461.1L451.5,457.3M451.8,457.3L453.3,459.5L457.2,461.7M457.2,461.7L460.5,463.5M460.5,463.5L461.6,464.1M452.2,469.5L448.7,474.7L453.3,483.8M452.6,468.6L453.3,467.9M453.3,467.9L452.8,468.6M454.0,461.1L453.3,467.9M461.6,464.1L460.4,463.6M460.4,463.6L457.2,462.3M457.2,462.3L454.0,461.1M454.4,454.6L455.3,452.3M455.3,452.3L456.3,449.9L458.5,446.6M458.5,446.6L461.3,442.4M461.3,442.4L462.3,440.9L462.1,438.0M462.1,438.0L462.0,436.9M462.0,436.9L461.8,433.9M461.8,433.9L461.6,431.8M459.3,413.6L453.3,407.5L454.8,400.4M455.5,396.9L454.8,400.4M455.1,99.3L467.1,106.8L476.1,105.3M455.1,99.3L446.1,103.8L444.7,139.7L455.1,141.2M459.6,78.4L455.1,99.3M455.1,141.2L467.1,145.7L474.6,153.2M455.5,396.9L463.1,389.4M471.9,284.6L471.2,275.3L465.1,273.7L465.1,279.0L456.0,279.0L456.0,273.7M456.0,273.7L456.0,266.9L463.6,266.9L465.1,270.0L474.2,268.4L481.8,265.4M456.3,568.6L474.5,567.1M474.5,567.1L471.4,567.8L456.3,568.6M457.0,350.8L461.0,352.3M457.7,418.6L459.3,413.6M462.3,245.6L462.1,245.7L459.1,240.4L458.3,234.4M458.3,234.4L459.1,225.3L462.1,223.8L462.8,217.0L469.7,220.0L477.2,213.2M459.3,413.6L459.4,413.6M474.5,416.6L465.4,415.1L459.4,413.6M459.4,413.6L460.5,418.6M464.1,53.0L413.3,53.0L407.3,75.4L402.8,91.9L410.3,106.8L419.2,120.3L429.7,129.2L443.2,117.3L444.7,103.8L455.1,97.8L459.6,78.4M459.6,78.4L467.1,70.9L464.1,53.0M461.0,352.3L467.2,354.2M466.9,354.5L461.0,352.3M461.6,431.8L463.2,430.2M463.2,430.2L464.6,428.8M464.6,428.8L466.1,427.2L466.4,427.5M466.4,427.5L467.1,428.2M467.1,428.2L469.6,430.7M461.6,464.1L462.5,465.5M462.5,465.5L463.7,467.3M463.7,467.3L464.5,468.6M462.3,245.6L462.8,245.0L463.4,245.1M469.9,401.5L463.1,389.4M471.2,246.5L463.4,245.1M463.4,245.1L465.1,244.2L471.2,246.5M476.1,105.3L485.0,106.8L495.5,109.8L491.0,94.9L494.0,79.9L497.0,65.0L492.5,53.0L464.1,53.0M464.6,387.9L480.5,392.4L486.6,395.4M464.6,387.9L469.9,401.5M464.6,387.9L471.4,386.3L472.9,380.3L469.2,366.7L466.9,354.5M465.0,469.5L465.5,470.2M465.5,470.2L466.3,471.4M466.3,471.4L468.2,474.3M468.2,474.3L468.4,474.7M465.1,322.7L471.2,322.7M472.7,340.1L471.2,330.3L465.1,322.7M468.1,522.2L465.4,521.6M465.4,521.6L466.9,526.2L469.1,528.3M466.2,349.4L467.4,352.2L468.8,352.6M467.6,353.8L465.1,350.0L466.2,349.4M466.2,349.4L465.9,348.5L470.4,346.2L471.2,346.9M467.2,354.2L466.9,354.5M467.2,354.2L467.6,353.8M468.8,352.6L467.6,353.8M468.1,522.2L468.4,522.2M468.4,474.7L469.0,479.6M469.0,479.6L469.1,479.9M469.1,485.8L468.9,483.3M468.9,483.3L468.7,480.0M468.7,480.0L468.7,479.9M468.7,479.9L468.4,474.7M469.1,522.4L468.4,522.2M468.4,522.2L469.1,506.1M468.5,610.8L484.9,622.8M468.5,610.8L461.0,613.8L464.0,628.8L474.5,637.7L489.4,633.2L484.9,622.8M484.9,622.8L498.4,615.3L501.4,606.3L493.9,595.9L468.5,610.8M468.8,352.6L471.1,350.3M469.2,506.2L469.2,519.9M469.9,401.5L474.5,416.6M470.4,420.8L476.4,426.8M470.4,431.6L470.7,431.8M470.7,431.8L471.4,432.5L472.0,433.0M472.0,433.0L475.2,435.7M475.2,435.7L478.4,438.4M478.4,438.4L480.5,440.1M470.4,480.9L472.8,481.2M472.8,481.2L476.9,481.8M476.9,481.8L478.1,481.9M478.1,481.9L480.5,482.3M470.4,488.9L471.1,489.5M471.1,489.5L472.0,490.5M472.0,490.5L474.5,492.9M470.4,502.4L471.4,500.4M470.4,521.8L474.5,520.1L480.5,518.6M480.5,518.6L470.4,522.0M470.4,529.7L472.9,532.2L480.5,533.7M470.4,550.1L472.9,555.7M478.7,247.2L471.2,246.5M471.2,246.5L478.7,245.0L496.9,231.3M471.2,300.4L471.2,313.6M471.2,314.5L471.2,322.7M471.2,322.7L472.7,340.1M473.8,349.6L472.7,348.5L471.2,346.9M471.2,346.9L472.7,340.1M477.2,339.4L471.2,346.9M471.4,500.4L473.8,494.5M473.8,494.5L474.0,493.9M474.0,493.9L474.5,492.9M474.5,494.4L471.4,500.4M471.7,299.6L472.7,293.4L472.0,285.5M472.7,340.1L477.2,339.4M473.5,559.6L472.9,555.7M472.9,555.7L485.1,548.9M491.6,294.9L484.8,293.4L474.2,293.4L473.0,299.6M473.0,195.3L475.7,198.0L480.0,199.1M474.5,567.1L473.6,560.5M475.4,418.6L474.5,416.6M474.5,492.9L475.8,492.2M475.8,492.2L479.5,490.3M479.5,490.3L480.5,489.8M501.7,512.5L495.7,506.5L491.1,508.0L489.6,500.4L485.1,501.9L480.5,500.4L474.5,494.4M480.5,489.8L479.6,490.5M479.6,490.5L476.5,492.8M476.5,492.8L474.5,494.4M475.9,573.6L474.5,567.1M495.5,162.1L494.0,154.7L474.6,153.2M474.6,153.2L476.0,163.5M476.0,163.5L474.6,163.6L474.6,153.2M474.6,153.2L494.0,151.7L489.5,139.7L483.5,129.2L488.0,117.3M475.6,299.6L478.7,298.0L478.3,299.6M476.4,426.8L477.5,422.7L475.9,419.5M495.5,162.1L476.1,163.6L476.0,163.5M488.0,117.3L485.0,108.3L476.1,105.3M480.5,440.1L479.4,437.2M479.4,437.2L478.8,435.7M478.8,435.7L477.3,432.2M477.3,432.2L476.7,430.5M476.7,430.5L476.0,428.7L476.4,426.8M489.3,224.5L484.8,214.7L477.2,213.2M477.2,213.2L483.3,210.1L481.8,199.5M477.2,339.4L482.5,349.6M478.7,247.2L481.8,252.5L480.3,255.6L487.1,261.6M496.9,231.3L478.7,247.2M480.0,199.1L479.0,196.5M479.0,196.5L494.0,187.6M480.0,199.1L481.8,199.5M480.5,440.1L482.0,442.3M482.0,442.3L484.5,446.0M484.5,446.0L485.1,446.9L486.5,449.4M486.5,449.4L489.6,454.5M480.5,440.1L483.8,438.8M483.8,438.8L484.8,438.4M484.8,438.4L488.1,437.1M480.5,489.8L480.5,486.7M480.5,486.7L480.5,486.5M480.5,486.5L480.5,483.0M480.5,483.0L480.5,482.3M480.5,482.3L482.9,481.7M482.9,481.7L486.6,480.7L486.6,480.7M486.6,480.7L487.3,480.6M487.3,480.6L492.6,480.0M491.1,519.4L480.5,518.6M480.5,518.6L483.5,515.6L491.1,519.4M480.5,533.7L489.6,539.0M481.1,536.1L480.5,533.7M487.6,539.2L488.3,538.5L481.1,536.1M481.1,536.1L482.0,539.8M481.8,199.5L492.0,195.2M486.3,266.2L481.8,265.4M481.8,265.4L487.1,261.6M485.1,548.9L482.0,539.8M482.0,539.8L487.6,539.2M497.2,559.5L491.1,554.9L485.1,548.9M486.3,266.2L489.3,275.3L489.1,275.8M487.1,261.6L486.3,266.2M486.6,395.4L490.7,399.6M486.6,395.4L494.1,388.6L491.1,380.3L491.9,368.2L487.3,360.6M487.3,360.6L486.6,350.4M486.8,350.4L489.6,356.1M489.6,356.1L487.3,360.6M489.6,539.0L487.6,539.2M488.0,117.3L485.0,130.7L494.0,139.7L495.5,160.6L499.2,165.9M504.7,172.1L513.4,177.1L522.4,168.1L520.9,148.7L517.9,129.2L522.4,120.3L519.4,109.8L497.0,109.8L488.0,117.3M488.1,437.1L489.8,440.2M489.8,440.2L493.4,446.9L496.6,454.6M488.1,437.1L495.0,434.2M495.0,434.2L512.3,427.2M488.5,284.6L486.3,281.3L489.1,275.8M489.1,275.8L489.3,276.8L501.5,287.4M491.6,294.9L492.4,289.6L486.3,288.9L484.0,285.9L489.3,285.9L489.1,285.5M489.3,224.5L504.5,226.8M506.0,234.4L504.5,227.6L489.3,224.5M506.3,366.7L501.7,362.1L489.6,356.1M489.6,454.5L489.6,454.6M489.6,454.6L489.6,454.5M489.6,539.0L491.9,526.2L491.1,519.4M491.1,519.4L501.7,517.1L501.7,512.5M505.5,517.8L491.1,519.4M493.4,467.1L492.7,463.7M492.7,463.7L491.9,459.1M491.9,459.1L491.2,455.4M491.6,400.4L492.6,401.5L500.2,405.3L509.3,403.0M496.9,291.9L491.6,294.9M492.6,480.0L492.9,483.0M492.9,483.0L493.4,488.3M492.6,480.0L492.9,475.0M492.9,475.0L493.2,470.4M493.2,470.4L493.2,469.6M493.2,469.6L493.2,469.5M493.0,195.4L498.4,199.5L506.0,203.3L515.1,207.9L522.7,205.6M493.3,468.6L493.4,467.1M501.7,464.1L493.4,467.1M507.1,489.0L493.4,488.3M493.4,488.3L494.1,498.2L501.7,500.4M494.0,187.6L506.0,178.6L504.7,172.1M505.2,180.6L494.0,187.6M505.2,180.6L506.0,180.1L495.5,189.1L492.5,193.5L494.4,194.6M499.2,165.9L495.5,162.1M506.0,234.4L496.9,231.3M496.9,291.9L498.3,299.6M501.5,287.4L496.9,291.9M497.2,559.6L497.2,559.5M507.1,553.3L497.2,559.5M498.6,573.6L497.3,560.5M498.4,574.5L498.4,576.4L502.9,589.9L519.3,595.9L529.8,604.8L528.3,583.9M499.2,165.9L504.5,171.1L504.7,172.1M510.5,281.3L506.0,286.6L501.5,287.4M503.3,468.6L502.4,466.1M502.4,466.1L501.7,464.1M501.7,464.1L502.2,463.7M502.2,463.7L508.2,458.6M508.2,458.6L510.4,456.6M510.4,456.6L511.8,455.4M501.7,500.4L504.7,506.5L501.7,512.5M501.7,500.4L507.1,499.9M501.7,512.5L507.1,516.3M507.1,478.8L505.6,474.9M505.6,474.9L503.6,469.3M512.1,228.3L504.5,226.8M504.5,226.8L506.0,234.4M533.2,194.6L523.9,178.6L507.5,178.6L505.2,180.6M507.1,523.6L505.5,517.8M507.1,517.8L505.5,517.8M506.3,366.7L506.9,367.2M507.4,365.5L506.3,366.7M506.9,367.2L512.8,371.2L512.2,372.0M512.2,372.0L506.9,367.2M507.4,365.5L513.8,359.1L524.7,361.3M524.7,361.3L524.2,362.1L513.6,360.6L507.4,365.5M507.8,425.7L513.8,425.7M512.3,427.2L507.8,425.7M507.8,425.7L508.5,419.5M519.9,489.1L508.9,481.5M508.9,481.5L508.0,480.9M518.4,492.1L509.3,489.1L508.0,489.0M508.0,499.8L509.3,499.7M508.0,516.9L509.0,517.7M509.0,517.7L508.0,517.7M532.0,550.4L521.4,540.6L515.3,542.8L508.0,526.6M523.7,559.5L509.3,551.9L508.0,552.7M508.7,418.6L509.3,413.6L517.6,408.3L514.8,400.4M509.0,517.7L509.8,517.6M509.2,454.6L509.3,454.5L516.9,446.9L519.3,442.4M509.3,403.0L512.3,400.4M513.7,400.4L509.3,403.0M519.9,506.5L518.4,500.4L509.3,499.7M509.3,499.7L513.1,496.6L518.4,492.1M509.8,517.6L515.3,515.6M521.4,517.1L509.8,517.6M510.5,281.3L515.8,282.1M513.6,248.0L512.8,260.1L507.5,262.4L512.8,270.7L510.5,281.3M512.1,228.3L515.1,225.3M518.6,226.6L512.1,228.3M514.8,451.9L512.2,454.6M512.2,372.0L513.1,372.7M513.8,431.8L512.3,427.2M518.4,395.4L510.8,384.8L513.1,372.7M513.1,372.7L535.0,371.2M513.4,399.6L518.4,395.4M513.6,248.0L516.6,246.5M523.4,245.7L513.6,248.0M513.8,425.7L513.8,431.8M513.8,425.7L529.0,421.2M522.9,435.6L513.8,431.8M519.3,442.4L514.8,451.9M536.6,454.6L529.1,448.9L514.8,451.9M515.1,225.3L518.6,226.6M522.7,205.6L516.6,216.2L515.1,225.3M538.0,385.6L515.3,399.6M515.3,515.6L521.4,517.1M515.3,515.6L519.9,506.5M518.1,291.9L515.8,282.1M515.8,282.1L521.1,279.0M521.1,229.8L516.6,238.9L516.6,246.5M516.6,246.5L523.4,245.7M528.3,583.9L517.8,574.9M517.8,574.9L518.1,574.5M518.1,574.5L517.8,574.9M518.1,291.9L518.1,299.6M521.1,279.0L516.6,282.8L518.1,291.9M518.4,395.4L538.0,385.6M544.6,503.1L532.0,492.9L518.4,492.1M518.4,492.1L519.9,489.1M518.5,573.6L523.3,560.5M518.6,226.6L526.4,224.5L524.4,226.6M522.9,435.6L519.3,442.4M519.9,489.1L532.0,471.7M544.6,509.4L532.0,505.0L519.9,506.5M521.1,229.8L524.4,226.6M528.7,225.3L521.1,229.8M521.1,279.0L528.7,282.8L536.3,279.8L542.3,281.3M536.5,544.3L527.5,529.2L529.0,521.6L521.4,517.1M522.7,205.6L530.2,207.9M544.6,435.0L535.0,439.3L522.9,435.6M523.4,245.7L525.7,251.0M523.6,559.6L523.7,559.5M523.7,559.5L532.0,550.4M524.4,226.6L528.7,225.3M531.8,366.4L529.0,362.1L524.7,361.3M525.7,251.0L534.8,252.5L536.3,260.1M536.3,260.1L534.8,253.3L525.7,251.0M528.3,583.9L550.3,586.8M528.7,225.3L536.3,209.4M542.3,222.3L536.3,210.1L528.7,225.3M529.0,421.2L529.3,419.5M529.4,419.5L529.0,421.2M529.5,418.6L530.5,413.6L538.0,410.6L541.4,405.5M543.7,408.2L530.5,415.1L529.6,418.6M530.2,207.9L536.3,208.6L543.3,201.6M536.3,209.4L530.2,207.9M531.8,366.4L534.0,369.7M534.0,369.7L533.3,371.2L531.8,366.4M532.0,471.7L540.5,467.7M542.5,470.4L532.0,471.7M532.0,550.4L536.5,544.3M538.0,542.8L532.0,550.4M535.0,371.2L534.0,369.7M535.0,371.2L544.6,374.1M540.4,369.6L535.0,371.2M536.3,209.4L542.3,222.3M543.8,201.9L536.3,209.4M536.3,260.1L538.6,254.8L546.1,252.5M546.1,252.5L539.3,254.8L536.3,260.1M536.5,544.3L538.0,542.8M544.7,449.0L537.8,454.6M544.6,389.1L538.0,385.6M544.7,534.1L538.0,542.8M538.0,542.8L544.6,535.7M540.4,369.6L544.6,374.1M544.6,368.3L540.4,369.6M540.5,467.7L540.3,469.2L542.5,470.4M544.6,465.8L540.5,467.7M544.7,400.4L544.1,401.4L541.4,405.5M541.4,405.5L550.6,400.4M541.7,649.7L546.2,663.1L535.8,676.6L529.8,687.1L531.3,694.5L553.7,706.5L562.7,693.0M541.7,649.7L538.8,640.7L525.3,637.7L508.9,640.7L511.8,658.7L522.3,664.6L517.8,676.6L528.3,687.1L541.7,664.6L541.7,649.7M571.7,654.2L556.7,643.7L538.8,634.7L541.7,649.7M542.3,222.3L546.9,235.9M542.3,281.3L546.9,282.8L549.9,288.9L549.2,299.5L549.2,299.6M542.3,281.3L552.9,276.8L560.0,275.4M542.5,470.4L544.6,470.2M544.7,407.2L543.0,407.8L543.7,408.2M543.7,408.2L544.6,407.8M544.6,374.1L544.6,374.1M549.4,450.9L544.7,449.0M544.7,449.0L547.4,446.8L556.6,436.7M551.7,400.4L548.4,406.0L545.1,407.1M545.3,197.1L546.0,195.4M545.5,374.9L557.5,371.2L560.5,366.6L571.1,365.1L575.7,372.7M545.5,387.2L557.5,389.3M556.0,393.9L545.5,391.0M545.5,409.2L550.4,412.2M545.5,455.9L549.4,450.9M545.5,472.1L551.5,475.4M551.5,475.4L545.5,473.9M565.7,487.6L557.6,486.6L547.4,487.6L545.5,490.8M545.5,502.8L551.5,510.0M545.5,530.2L549.4,524.2M549.4,524.2L545.5,530.7M546.1,252.5L546.9,235.9M547.6,242.5L546.1,252.5M546.6,399.6L548.4,396.9L552.9,398.4M546.9,235.9L547.1,235.5M575.9,459.1L549.4,450.9M551.5,510.0L549.4,524.2M557.6,316.3L549.9,316.7L550.1,314.5M550.2,313.6L551.4,300.4M552.8,418.6L550.4,412.2M550.4,412.2L552.4,400.4M550.6,541.1L551.5,538.5L555.5,530.3L557.3,528.6M554.3,205.1L551.1,200.9M563.7,481.5L551.5,475.4M551.5,510.0L564.7,510.0M551.5,222.3L551.4,222.3L557.3,220.1M552.9,398.4L552.3,399.6M552.9,398.4L556.0,393.9M553.5,420.4L553.2,419.5M556.6,436.7L553.5,420.4M578.6,419.5L553.5,420.4M554.3,225.8L553.8,225.1M555.8,577.8L556.4,576.7M568.1,392.4L556.0,393.9M561.4,250.1L558.2,248.0L556.1,244.8M556.3,329.1L556.0,328.0L561.9,319.4M556.6,436.7L559.6,448.9L575.9,459.1M566.1,336.4L559.0,337.1L556.8,330.6M557.5,389.3L568.1,392.4M557.5,389.3L562.0,381.8L568.1,378.7L575.7,372.7M560.5,525.4L561.6,524.2L566.7,523.2M560.5,272.9L560.5,267.7L561.7,267.0M562.7,693.0L556.7,682.6L559.7,666.1L571.7,654.2M562.7,693.0L571.7,690.1L580.1,684.0M563.5,315.9L564.3,315.9L565.1,316.1M565.7,487.6L563.7,481.5M563.7,481.5L564.7,477.4M564.7,477.4L565.7,483.5L573.9,489.6L586.1,491.6L592.2,497.8M592.2,464.2L581.0,466.2L569.8,469.2L564.7,477.4M564.7,510.0L569.8,516.1L566.7,523.2M564.7,510.0L569.8,499.8L569.8,494.7M565.3,290.6L564.3,287.4L566.1,282.6M569.8,494.7L573.9,490.6L566.7,490.6L565.7,487.6M566.7,523.2L567.6,523.4M571.1,393.9L568.1,392.4M568.1,392.4L569.6,389.3M569.6,389.3L581.7,396.9L583.5,399.6M569.6,389.3L571.1,393.9M592.2,497.8L569.8,494.7M570.9,147.9L565.8,142.7L555.3,148.7L556.8,154.7L546.3,162.1L543.3,169.6L546.3,181.6L562.8,189.1L564.3,181.6L570.5,178.8M571.1,393.9L574.7,399.6M579.7,659.5L571.7,654.2M574.1,400.4L581.7,418.6M575.7,372.7L586.3,378.7M592.2,464.2L575.9,459.1M575.9,459.1L586.1,438.7M579.9,173.9L584.5,170.2M583.5,667.0L581.4,662.0M586.1,438.7L582.0,419.5M582.1,419.5L585.1,428.5M583.2,360.8L582.7,359.1M583.3,677.9L584.0,674.9M589.2,418.6L590.2,416.3L584.2,400.4M585.1,428.5L586.1,438.7M585.1,428.5L588.8,419.5M586.1,438.7L594.2,428.5L604.4,432.6M594.7,399.6L589.3,390.9L586.3,378.7M586.3,378.7L587.4,377.2M588.3,533.4L589.4,533.4M590.4,382.1L589.3,382.5L589.0,379.7M592.2,464.2L598.3,467.2M603.4,475.4L597.3,472.3L592.2,464.2M592.2,497.8L605.4,491.6M598.3,467.2L603.4,475.4M598.3,467.2L602.4,450.9M602.4,450.9L604.4,432.6M612.6,434.6L602.4,450.9M603.4,475.4L608.5,475.4L620.7,473.3M609.5,481.5L603.4,475.4M604.4,432.6L612.6,434.6M605.4,491.6L612.6,501.8L616.4,505.7M605.4,491.6L609.5,481.5M620.7,473.3L609.5,481.5M620.3,399.6L620.3,392.4L615.0,389.3L610.9,375.0M612.6,434.6L620.7,430.5M619.7,538.7L619.7,522.2L619.2,521.8M619.9,504.3L620.7,503.9L620.7,473.3M620.7,418.8L620.7,400.4M620.7,430.5L620.7,419.2M620.7,473.3L620.7,430.5M97.3,394.1L113.7,385.1L118.2,371.7L109.2,368.7L98.8,377.7L79.3,382.1L89.8,392.6L97.3,394.1M140.6,446.4L155.6,437.5L161.6,425.5L149.6,410.6L128.7,416.5L130.2,436.0L140.6,446.4M149.6,395.6L164.6,391.1L166.1,359.7L158.6,350.7L142.1,355.2L142.1,385.1L149.6,395.6M191.5,365.7L203.4,377.7L221.4,380.6L224.4,373.2L209.4,365.7L221.4,362.7L218.4,350.7L203.4,338.8L179.5,341.8L179.5,359.7L191.5,365.7M252.8,410.6L263.3,415.0L270.7,406.1L266.2,398.6L267.7,389.6L257.3,383.6L245.3,386.6L248.3,398.6L252.8,410.6M284.6,737.9L295.0,733.4L293.5,718.5L281.6,717.0L263.6,725.9L245.7,734.9L263.6,734.9L284.6,737.9M312.6,338.8L320.1,322.3L300.6,311.9L287.2,334.3L300.6,349.2L312.6,338.8M314.1,410.6L317.1,403.1L308.1,398.6L297.6,403.1L299.1,412.0L314.1,410.6M348.9,746.9L363.8,733.4L354.8,718.5L338.4,724.4L339.9,736.4L348.9,746.9M386.6,526.2L392.7,523.1L393.4,527.7L388.1,529.2L386.6,526.2M389.2,670.6L402.7,678.1L419.1,670.6L420.6,640.7L407.2,637.7L399.7,622.8L380.3,634.7L368.3,649.7L380.3,663.1L389.2,670.6M402.5,426.5L404.8,425.0L407.1,428.7L404.0,431.0L402.5,426.5M404.2,722.9L414.7,717.0L419.1,694.5L398.2,676.6L387.7,687.1L395.2,703.5L404.2,722.9M444.6,666.1L452.0,672.1L455.0,666.1L467.0,667.6L465.5,663.1L452.0,655.7L444.6,642.2L437.1,640.7L438.6,652.7L444.6,666.1M461.0,758.8L507.4,758.8L507.4,742.4L490.9,734.9L467.0,734.9L464.0,742.4L461.0,758.8M541.7,758.8L541.7,730.4L508.9,742.4L508.9,758.8L541.7,758.8M616.4,388.4L616.9,388.0L617.7,387.1M621.5,539.1L621.4,539.1M621.4,539.1L621.2,537.6M621.3,539.3L621.4,539.1M523.3,611.5L527.7,614.6L531.1,618.9L535.3,622.2L536.0,622.7M523.3,611.5L518.6,616.9L513.1,621.5M513.1,621.5L513.7,626.8L514.9,632.0L517.0,637.0L517.2,637.7M542.1,587.3L540.1,590.7M540.1,590.7L544.7,594.0L548.1,598.7L552.3,602.5L552.4,602.6M523.3,611.5L523.9,604.8L524.1,602.0M530.6,595.7L534.8,593.1L540.1,590.7M509.1,740.7L512.1,735.3M474.8,721.6L474.0,727.2L475.9,732.7L475.8,733.4M474.8,721.6L480.8,720.6L486.2,718.1L491.9,716.2L497.7,714.7M512.1,735.3L509.3,731.2L506.8,726.8L503.3,723.1L500.0,719.2L497.7,714.7M250.6,449.2L252.3,448.1L255.7,444.1L255.9,443.9M224.4,440.4L224.3,439.6L223.6,434.3L222.3,429.1L222.5,423.6M225.7,421.3L222.5,423.6M225.7,421.3L231.0,423.3L235.0,424.9M254.9,186.1L253.9,191.3M228.3,187.7L227.7,190.3L227.3,193.5M227.6,195.4L232.6,195.4L237.9,194.5L243.1,192.4L248.6,192.3L253.9,191.3M105.9,312.8L104.4,312.2M137.1,304.0L137.1,304.0M104.4,312.2L103.1,309.7M137.1,304.0L139.2,297.1L142.1,290.4M142.1,290.4L138.4,285.2L136.0,282.3M72.1,291.0L72.3,291.1L76.2,295.7M91.6,298.8L87.4,298.5L81.8,297.0L76.2,295.7M461.0,708.8L452.3,708.8M461.0,708.8L464.9,705.4L467.3,700.6L471.0,697.0L474.3,693.0M452.3,708.8L449.7,704.3L448.4,699.2L445.7,694.7L442.9,690.2L442.6,684.7L440.4,680.0L437.5,675.6M454.9,669.6L459.3,671.8L463.2,676.0L467.8,678.9L473.0,681.0M445.0,668.4L443.6,668.9M437.5,675.6L443.6,668.9M474.3,693.0L472.6,687.1L473.0,681.0M461.0,708.8L466.0,712.6L470.2,717.3L474.8,721.6M499.2,707.6L497.7,714.7M499.2,707.6L496.6,702.1L494.0,696.5M474.3,693.0L479.3,693.2L484.1,694.9L489.2,695.0L494.0,696.5M544.9,759.5L545.4,758.4L548.9,753.8L552.4,749.3M552.4,749.3L556.4,752.7L561.0,755.3L564.7,756.6M313.0,619.5L308.4,615.2L304.1,610.6L300.7,605.4L298.8,603.2M313.0,619.5L309.5,623.5L307.0,628.2L304.4,632.9L300.5,636.7L300.1,637.5M333.4,650.0L334.1,644.6L332.3,639.3L332.4,634.0L333.1,629.3M333.4,650.0L328.9,652.3L324.0,653.8L319.4,656.0L314.7,658.1M330.3,621.8L327.2,619.8M327.2,619.8L320.1,618.8L313.0,619.5M308.7,653.1L311.0,654.2L314.7,658.1M333.4,650.0L341.0,655.0M341.0,655.0L347.1,653.3L353.0,650.7L359.3,650.0M359.3,650.0L359.7,644.9L361.5,640.1L362.1,635.1L362.3,633.7M309.9,671.5L313.4,669.0M314.7,658.1L313.3,663.5L313.4,669.0M221.9,688.6L225.5,692.3L229.8,695.3L233.6,698.8M221.9,688.6L216.7,688.5L211.5,688.3L206.4,689.0L202.2,688.7M233.6,698.8L230.8,703.6L228.9,708.8L225.6,713.3L224.0,717.8M219.6,723.8L217.7,727.7M213.3,728.0L217.7,727.7M220.2,652.5L219.0,652.4M220.2,652.5L221.3,657.6L220.8,662.8L221.5,667.9L220.2,673.1L220.5,678.3L221.5,683.4L221.9,688.6M217.7,727.7L221.8,732.3L225.7,737.1L228.5,742.5M228.5,742.5L225.1,746.5L223.6,751.7L220.8,756.1L217.3,759.5M560.2,189.5L560.3,189.6L560.6,189.8M522.4,148.7L528.2,145.7L534.8,142.3M534.8,115.3L529.6,113.7L525.1,110.6L520.2,108.4L515.5,105.6M534.8,115.3L535.9,120.8L537.5,126.1L539.7,131.3M534.8,142.3L537.4,136.8L539.7,131.3M508.9,108.3L510.4,107.8L515.5,105.6M544.8,181.8L540.1,183.5M540.1,183.5L536.2,180.0L532.0,177.2L526.9,175.6L522.7,172.8L521.1,171.6M550.1,157.6L547.5,153.7L542.7,150.4L539.4,145.7L534.8,142.3M551.9,97.7L550.9,99.0L547.2,103.3L542.5,106.8L538.0,110.4L534.8,115.3M520.8,71.3L526.8,70.9L532.8,70.5L536.1,70.7M520.8,71.3L520.1,77.0L519.3,82.7L518.0,88.4L518.0,94.3L517.3,100.0L515.5,105.6M565.5,129.6L561.8,129.4L556.3,129.9L550.7,130.2L545.3,131.4L539.7,131.3M520.0,70.7L519.2,67.6M520.0,70.7L514.7,72.4L509.0,72.4L503.5,73.4L498.3,75.9L496.3,75.9M520.8,71.3L520.0,70.7M490.7,113.1L487.9,112.1M529.9,729.3L530.2,723.2L530.4,717.2L532.7,711.3L532.4,705.2M529.9,729.3L534.3,731.5M543.2,736.6L546.2,738.1L551.3,741.7M532.4,705.2L538.4,704.1L543.6,702.8M551.3,741.7L555.2,737.7L557.2,735.9M557.8,703.1L558.3,703.8M526.8,698.4L521.1,699.6L516.0,702.8L510.4,704.5L504.8,705.9L499.2,707.6M526.8,698.4L532.4,705.2M512.1,735.3L518.3,733.9L524.3,732.2L529.9,729.3M552.4,749.3L551.3,741.7M525.8,691.0L528.3,688.6M525.8,691.0L526.8,698.4M577.6,491.8L580.7,494.7M388.4,623.4L386.1,618.0L382.5,613.2L380.1,607.9L377.1,602.8L375.2,597.2M388.4,623.4L385.8,627.6M385.8,627.6L380.0,627.4L374.4,629.4L371.9,629.5M361.0,602.9L363.5,601.7L369.4,599.7L375.2,597.2M205.8,487.5L203.3,485.0L200.7,480.7M214.4,504.1L214.2,504.5M208.7,515.0L208.6,515.1L207.7,520.3L205.0,524.8M205.0,524.8L204.0,525.2M200.7,480.7L195.8,482.2L191.5,484.8L187.6,488.1L183.2,490.6M194.5,445.0L192.6,449.6L189.5,454.4M180.1,417.9L176.3,419.8L170.8,421.3L165.5,423.1L162.9,424.8M161.7,428.6L163.1,431.7L165.0,437.6L165.8,443.7L168.0,449.4M189.5,454.4L184.1,453.3L178.7,452.4L173.3,451.1L168.0,449.4M208.8,470.3L207.7,471.0L202.4,472.7M202.4,472.7L198.5,468.5L195.5,463.8L192.6,459.0L189.5,454.4M222.5,423.6L216.4,424.7L211.1,423.7M202.4,472.7L200.7,480.7M152.9,479.9L157.2,484.1L158.0,484.8M152.9,479.9L153.3,474.2L154.6,468.6L154.7,462.9M154.7,462.9L158.9,458.1L163.6,453.9L168.0,449.4M205.0,524.8L208.7,527.3M191.8,540.0L190.7,541.3M218.2,553.7L217.5,557.6M217.5,557.6L212.3,559.1L208.0,562.5L202.8,564.0M190.7,541.3L193.5,545.6L196.2,550.0L197.8,555.0L199.7,559.8L202.8,564.0M289.9,441.9L289.5,436.7L288.2,431.7L287.7,426.6M289.9,441.9L283.8,444.4L282.3,445.6M264.9,445.6L263.4,444.5M287.7,426.6L286.3,426.4M247.0,399.4L241.5,401.2L235.6,402.3L230.1,404.9M230.1,404.9L228.3,410.3L227.2,415.8L225.7,421.3M263.9,416.4L264.4,419.7L264.3,420.5M347.1,432.6L346.5,433.9M332.0,419.9L330.6,420.7L326.0,424.6M327.9,431.1L327.6,429.9L326.0,424.6M282.6,202.6L278.8,203.3L272.3,206.1M272.3,206.1L267.9,202.1L262.5,199.4L259.0,194.4L253.9,191.3M63.1,290.0L59.0,293.1L54.3,295.5L50.2,298.8M42.6,284.9L43.8,288.9L46.7,294.0L50.2,298.8M64.9,317.7L62.5,324.5L58.5,330.6M64.9,317.7L70.5,320.1L76.2,322.3L81.8,324.4L87.3,327.1M58.5,330.6L62.4,336.6L65.6,343.1M65.6,343.1L71.8,342.4L78.0,342.1L84.3,342.2M84.3,342.2L84.4,337.0L86.7,332.2L87.3,327.1M104.4,312.2L100.6,316.5L95.6,319.3L91.9,323.8L87.3,327.1M76.2,295.7L74.2,301.6L71.2,307.0L66.9,311.7L64.9,317.7M177.2,384.0L172.3,385.4L167.0,385.3L166.3,385.7M177.2,384.0L182.1,387.3L186.3,391.3L190.0,395.9M150.9,396.8L150.1,399.8L149.6,404.9M190.0,395.9L191.0,401.4L191.0,402.0M149.6,404.9L152.6,409.8L155.4,414.8L155.7,415.8M142.1,290.4L147.6,289.1L152.9,286.8L158.4,285.3L163.9,284.0M163.9,284.0L163.3,282.1M162.4,278.6L161.7,275.2M513.1,621.5L507.5,620.6L501.9,621.0L496.3,621.5M500.9,588.7L495.4,589.1L489.9,591.6M489.9,591.6L490.3,596.2M495.3,618.7L496.3,621.5M411.2,624.4L405.1,624.1L401.5,623.1M397.7,622.2L393.2,621.5M411.2,624.4L415.6,619.4L420.1,614.5L424.1,609.6M395.9,617.0L395.8,617.2L393.2,621.5M405.7,599.2L411.4,599.8L412.0,599.8M485.5,575.5L486.4,579.7L487.2,585.2L487.1,590.8M478.9,592.3L487.1,590.8M478.9,592.3L477.2,590.5M486.6,668.7L490.9,673.6L495.7,678.0L501.1,681.7M486.6,668.7L486.6,663.5L487.0,658.4L486.8,653.2M490.1,649.9L496.7,650.5L503.3,651.6L509.2,652.1M490.1,649.9L486.8,653.2M514.8,662.1L517.3,666.5M517.3,666.5L516.1,672.4L514.6,678.3M514.6,678.3L507.7,679.4L501.1,681.7M473.0,681.0L477.5,676.8L482.3,673.0L486.6,668.7M494.0,696.5L496.0,691.4L498.3,686.4L501.1,681.7M457.7,657.1L462.0,652.6M462.0,652.6L468.2,653.5L474.5,651.9L480.6,652.4L486.8,653.2M496.3,621.5L491.9,625.4L489.0,628.6M488.2,635.2L489.8,639.7L489.3,644.9L490.1,649.9M520.1,666.3L517.3,666.5M525.8,691.0L522.4,686.5L517.7,683.1L514.6,678.3M155.5,687.6L155.3,687.7M222.9,618.2L223.5,623.3L225.0,629.0L226.2,634.7L227.1,640.6L228.0,642.9M228.9,645.3L229.3,646.1M226.1,616.0L227.6,615.3L231.4,611.7L235.8,609.0M235.8,609.0L241.1,610.1L246.2,611.6L251.5,613.1L256.8,614.2M229.3,646.1L230.1,646.1M265.3,628.5L265.3,628.5M265.3,628.5L262.1,623.9L260.2,618.6L256.8,614.2M220.2,652.5L224.2,648.5L229.3,646.1M246.2,697.5L249.2,692.7L252.6,688.2M246.2,697.5L240.0,698.7L233.6,698.8M252.6,688.2L251.7,683.2L251.8,678.2L250.6,673.2L250.0,668.3L250.3,663.2L250.1,658.2L247.8,653.5M252.6,688.2L257.3,686.5L262.4,685.9L266.8,683.1L271.6,681.6L274.3,681.0M266.3,628.3L265.3,628.5M235.8,609.0L236.9,602.7L237.0,596.3L237.6,591.6M256.8,614.2L257.2,608.5L257.7,607.4M302.8,586.6L300.7,590.5L300.7,590.7M299.8,595.8L299.8,596.1L299.5,596.6M217.5,557.6L223.6,560.3L224.0,560.6M176.1,604.1L174.5,603.1M246.2,697.5L250.5,703.5L255.9,708.6M255.9,708.6L262.5,709.4L268.9,711.1L275.4,712.2M275.4,712.2L279.1,707.6L280.3,706.9M302.0,694.3L302.0,694.8L302.1,695.9M255.9,708.6L255.2,713.8L254.9,719.0L255.4,724.3L255.6,728.3M228.5,742.5L235.1,744.4M252.1,736.4L250.0,737.6L244.7,739.3L239.7,741.4L235.1,744.4M235.1,744.4L238.3,748.6L240.8,753.2L242.8,758.1L243.7,759.5M567.5,108.7L569.1,110.5L569.8,115.0M493.2,282.2L490.9,284.3M487.6,287.4L487.5,287.5M540.1,183.5L536.8,190.1L535.9,193.5M489.9,591.6L487.1,590.8M255.8,525.9L255.3,525.4M202.3,565.3L197.5,567.2L193.2,570.2L192.7,570.3M202.3,565.3L205.0,570.7L208.0,576.0L209.7,582.0L212.5,587.4M212.5,587.4L209.9,593.1M209.9,593.1L204.2,594.0L198.3,594.1L192.7,595.9L186.8,596.3L181.3,598.6L178.6,598.7M190.7,541.3L185.3,541.4L180.1,543.2L178.9,543.2M170.6,549.1L171.0,550.7L171.3,556.3L171.3,561.6M202.8,564.0L202.3,565.3M228.6,584.5L225.2,585.5L218.8,586.6L212.5,587.4M213.3,606.0L212.5,603.7L210.7,598.5L209.9,593.1M412.3,528.3L410.6,528.4M303.1,448.6L307.4,443.8M303.1,448.6L303.2,449.4M307.4,443.8L311.6,443.3M289.9,441.9L296.8,444.5L303.1,448.6M287.7,426.6L291.0,422.0L295.6,418.5M295.6,418.5L301.4,422.7L307.0,427.1M307.0,427.1L306.3,432.7L306.5,438.2L307.4,443.8M307.0,427.1L312.3,425.2L317.8,423.5L323.6,422.9M323.6,422.9L326.0,424.6M32.6,280.3L31.8,285.0L31.5,286.0M31.5,315.2L31.9,313.4M31.5,313.2L31.9,313.4M86.6,378.9L86.1,374.6L87.0,369.4L87.6,364.2M101.9,393.3L104.5,395.0L109.7,396.4M109.7,396.4L113.8,391.5L117.7,386.7L121.0,381.2M121.0,381.2L119.9,375.3L119.1,373.9M116.8,369.6L114.4,364.7L113.5,358.8M113.5,358.8L108.1,359.5L102.7,358.1L97.3,357.7L91.9,358.7M91.9,358.7L87.6,364.2M69.8,364.9L66.4,368.9L63.7,372.7M69.8,364.9L75.8,364.1L81.7,363.7L87.6,364.2M92.2,422.7L95.5,419.5L99.5,415.8L103.2,411.7L107.2,408.0L110.4,403.4M110.4,403.4L109.7,396.4M140.8,385.7L137.9,384.9L132.3,383.6L126.6,382.6L121.0,381.2M149.6,404.9L144.9,407.4L139.9,408.6L134.5,408.9L129.8,411.1L125.0,413.0M110.4,403.4L114.9,407.1L120.4,409.4L125.0,413.0M120.2,337.2L121.8,341.5L124.7,346.5M124.7,346.5L121.1,350.7L117.0,354.4L113.5,358.8M84.3,342.2L86.0,348.0L89.0,353.3L91.9,358.7M65.6,343.1L60.3,348.0L56.2,353.9M56.2,353.9L60.3,358.1L65.8,360.6L69.8,364.9M35.4,559.2L35.4,556.3L33.4,551.1L33.1,545.6L32.7,540.1L31.8,534.7M34.6,561.7L31.5,561.4M31.5,534.7L31.8,534.7M52.9,533.6L48.9,530.7L43.2,529.5L38.2,526.6M31.8,534.7L34.6,530.3L38.2,526.6M31.5,488.8L31.5,488.8M47.1,512.1L44.2,513.8L41.4,518.3L38.0,522.4M38.0,522.4L33.4,519.1L31.5,516.3M38.2,526.6L38.0,522.4M131.6,454.3L134.2,452.6M104.3,459.8L104.4,459.4L105.1,454.1L106.6,448.9L109.5,444.1L109.8,438.7M109.8,438.7L114.8,437.5L120.0,437.4L124.7,435.3M134.2,452.6L132.7,447.8L130.4,443.2L129.6,438.2M129.6,438.2L124.7,435.3M152.9,479.9L147.7,481.4L147.3,481.5M154.7,462.9L150.0,459.5L144.5,457.7L139.5,454.8L134.2,452.6M92.8,425.5L96.5,427.6L101.2,430.9L104.8,435.7L109.8,438.7M125.0,413.0L125.6,418.6L125.0,424.2L124.6,429.8L124.7,435.3M130.0,437.9L129.6,438.2M88.5,459.9L88.0,459.0L84.1,455.1L80.1,451.3L75.0,448.7L74.2,447.9M31.5,455.4L31.5,455.4M31.5,430.2L34.5,429.4M239.5,373.4L236.7,367.7L232.8,362.5L230.8,356.4M239.5,373.4L235.7,377.7L230.9,381.0L227.5,385.7L222.7,388.9M222.7,388.9L214.2,384.9M214.2,384.9L212.4,380.7M230.8,356.4L225.7,355.7L221.1,353.1L220.5,353.1M252.4,383.3L251.7,380.0L248.8,375.0M230.1,404.9L227.8,399.5L225.0,394.3L222.7,388.9M248.8,375.0L239.5,373.4M190.0,395.9L195.2,394.4L199.3,390.7L204.9,390.1L209.5,387.4L214.2,384.9M177.2,384.0L178.1,378.3L180.3,372.9L181.9,367.4L182.9,363.1M163.9,284.0L168.9,285.4L173.6,287.6M173.6,287.6L176.9,283.3L177.4,282.7M147.6,352.2L147.9,348.9M178.0,355.4L174.1,354.4L168.9,353.4L163.5,352.6L161.8,352.2M154.0,350.4L153.1,350.3L147.9,348.9M137.1,304.0L141.1,307.7L143.8,312.5L147.3,316.5L151.6,319.9L154.4,324.6M124.7,346.5L129.9,346.6L135.2,346.3L140.4,345.6L145.7,346.4M154.4,324.6L152.3,330.1L149.8,335.4L147.4,340.7L145.7,346.4M145.7,346.4L147.9,348.9M56.2,353.9L51.4,354.7M53.1,371.7L50.3,369.9L44.8,366.5M44.8,366.5L48.1,360.6L51.4,354.7M43.9,333.5L45.8,340.5L45.8,347.8M43.9,333.5L42.9,332.7M42.9,332.7L35.5,333.0L31.5,332.8M31.5,349.8L34.0,349.9L39.9,349.3L45.8,347.8M43.9,333.5L51.2,331.7L58.5,330.6M45.8,347.8L51.4,354.7M223.7,212.1L222.7,215.8L223.0,222.0M220.1,223.0L223.0,222.0M296.0,413.7L291.4,410.3L286.9,406.8L283.1,402.6L278.5,399.2L274.5,395.1M296.0,413.7L297.7,412.5M295.3,386.4L293.7,385.6L287.9,384.5L281.9,383.9M274.5,395.1L278.6,389.8L281.9,383.9M295.6,418.5L296.0,413.7M267.9,398.0L274.5,395.1M323.6,422.9L321.3,418.1L319.6,413.3L319.5,407.9L318.0,404.7M248.8,375.0L251.8,370.8L255.8,367.5L258.7,363.3L262.8,360.1M281.9,383.9L281.1,378.3L281.4,377.0M277.1,365.4L275.3,364.7L269.0,362.4L262.8,360.1M363.8,100.3L365.8,99.0L369.2,94.6L373.5,91.5M372.3,82.9L372.8,83.2M373.5,91.5L372.8,83.2M396.6,260.3L398.5,261.1M353.7,232.3L352.5,228.7M383.2,214.4L382.4,214.2L378.2,210.7L373.1,209.6M373.1,209.6L371.3,210.9M509.1,176.3L508.3,177.1M431.0,611.1L436.1,607.2L441.6,604.1L447.0,600.6M431.0,611.1L433.6,615.8L435.1,620.9L437.4,625.8L439.1,630.9M447.0,600.6L452.7,602.7L458.1,605.6L463.5,608.5M439.1,630.9L445.0,629.8L450.8,630.3L456.7,630.4M456.7,630.4L460.6,625.4L461.6,624.3M463.5,611.2L463.5,608.5M444.8,594.7L447.0,600.6M427.8,610.2L431.0,611.1M411.2,624.4L414.0,629.5L416.6,634.8L418.9,638.8M431.3,639.7L425.4,639.3L421.7,639.6M431.3,639.7L435.0,635.1L439.1,630.9M478.9,592.3L475.5,596.8L471.9,601.1L466.7,603.9L463.5,608.5M462.0,652.6L460.7,647.0L460.2,641.3L457.9,636.0L456.7,630.4M443.6,668.9L441.1,664.2L440.2,659.9M439.5,658.3L436.6,654.7L436.2,649.1L432.6,644.9L431.3,639.7M443.7,549.7L443.3,549.3L442.9,548.5M452.3,708.8L447.9,712.5L444.5,717.3L439.7,720.6M460.8,751.8L457.1,751.4L451.4,751.2L445.6,752.2M439.7,720.6L441.5,725.7L442.7,731.0L442.0,736.5L443.9,741.6L444.8,746.9L445.6,752.2M374.6,759.5L375.3,757.9L378.7,753.2L381.0,747.9M381.0,747.9L386.0,747.4L390.9,746.0L395.9,745.8L400.8,744.3L405.8,744.3M409.8,759.5L410.5,758.0L411.7,752.2M411.7,752.2L405.8,744.3M443.5,759.5L443.6,758.9L444.1,753.8M411.7,752.2L417.1,752.6L422.5,752.2L427.9,753.0L433.2,754.1L438.7,753.4L444.1,753.8M444.1,753.8L445.6,752.2M373.2,730.5L368.5,730.5L363.0,728.7L362.7,728.6M374.5,731.0L377.1,736.1L379.5,741.8L381.0,747.9M354.9,759.5L352.5,755.3L350.5,750.4L349.1,748.4M405.8,744.3L406.6,738.3L407.8,732.3L408.1,726.1L409.0,721.9M439.7,720.6L434.9,719.2L429.7,719.7L425.0,717.4L419.9,718.0L416.2,717.0M275.4,712.2L278.3,716.9M258.1,736.4L259.5,737.1L264.4,739.1L268.3,743.0L273.4,744.5M273.4,744.5L276.6,739.3L277.4,738.4M318.1,759.5L317.3,757.7L314.1,753.3M330.0,737.9L335.8,737.5L339.0,737.7M330.0,737.9L325.3,740.3L320.8,743.1L316.7,746.5M314.1,753.3L316.7,746.5M307.0,704.1L306.2,706.1M302.5,717.4L302.3,719.1L299.4,723.7L297.7,728.6M307.0,704.1L313.3,704.5L319.6,704.3M319.6,704.3L320.9,709.2L323.4,713.6L323.4,718.9L325.2,723.6L326.3,728.5L329.3,732.8L330.0,737.9M316.7,746.5L312.4,743.5L309.8,738.6L305.5,735.5L301.9,731.8L297.7,728.6M305.4,702.9L307.0,704.1M297.7,728.6L296.1,728.5M256.9,515.6L257.4,515.0M333.3,260.5L335.7,266.2L339.4,271.1L341.7,276.8M333.3,260.5L336.0,257.8M363.4,261.6L363.9,264.1L365.0,269.6M341.7,276.8L347.3,274.3L353.1,272.5L359.3,271.9L365.0,269.6M389.6,261.4L389.0,261.8L385.0,264.9L381.9,269.2L377.7,272.0L374.0,274.5M365.0,269.6L372.8,274.5M314.2,533.7L314.5,532.4L315.9,526.4L315.9,521.8M313.2,516.0L313.8,516.9M38.8,301.8L36.2,307.9L32.2,313.3M38.8,301.8L44.3,300.3L50.0,299.4M53.9,311.2L48.9,315.1L43.6,318.6M53.9,311.2L51.0,305.6L50.0,299.4M43.6,318.6L37.6,316.5L32.2,313.3M31.5,296.5L38.8,301.8M50.2,298.8L50.0,299.4M64.9,317.7L59.3,314.5L53.9,311.2M42.9,332.7L42.6,325.6L43.6,318.6M182.6,339.9L182.5,339.1L184.7,333.9M154.4,324.6L159.2,322.1L164.6,321.4L169.7,319.7M184.7,333.9L181.1,330.2L177.0,327.0L173.6,323.1L169.7,319.7M216.1,347.0L216.1,345.4L214.4,338.7M214.4,338.7L210.4,332.7L205.3,327.8M184.7,333.9L189.9,332.7L195.2,331.6L200.0,328.8L205.3,327.8M173.6,287.6L175.8,292.8L179.3,297.2M179.3,297.2L176.0,302.5L174.2,308.4L172.8,314.4L169.7,319.7M44.8,366.5L41.8,368.2M41.4,370.7L41.8,368.2M31.5,362.9L32.0,365.0M41.8,368.2L36.8,366.9L32.0,365.0M32.0,365.0L31.5,365.2M34.5,399.0L32.2,392.9L31.5,390.8M34.5,399.4L31.5,401.4M34.5,383.1L31.5,385.3M320.4,238.5L318.9,240.6L316.8,245.7L314.4,250.6M296.9,241.0L298.4,242.3L304.1,244.4L309.0,248.0L314.4,250.6M333.3,260.5L327.2,258.5L321.2,256.0L315.2,253.8M341.7,276.8L339.0,285.5M313.8,290.3L319.0,290.3L324.0,289.0L329.1,288.3L333.9,286.4L339.0,285.5M313.8,290.3L311.8,285.4L309.6,280.7L306.6,276.3L304.2,271.7M304.2,271.7L306.9,267.2L309.0,262.3L313.3,258.8L315.2,253.8M352.1,228.1L349.2,229.2M315.2,253.8L314.4,250.6M286.9,331.8L285.1,330.5L281.0,327.5M320.8,324.4L322.2,323.4M322.2,323.4L321.6,322.3M320.8,321.0L319.6,319.0L317.5,314.5L314.2,310.5L312.7,305.6L310.3,301.2M310.3,301.2L305.0,302.7L299.6,303.5L294.5,303.8M286.7,305.3L283.5,305.7M283.5,305.7L283.0,311.2L282.4,316.7L280.7,322.0L281.0,327.5M330.1,323.8L334.7,320.7L338.2,316.3L342.8,313.1L346.7,309.3L350.4,305.2M330.1,323.8L322.2,323.4M313.8,290.3L312.5,295.9L310.3,301.2M339.0,285.5L342.0,290.4L344.9,295.3L346.8,300.7L350.4,305.2M304.2,271.7L298.3,271.9L292.3,271.9L289.2,272.0M282.0,303.8L283.5,305.7M230.8,356.4L235.5,352.5L240.7,349.1L246.1,346.3M262.8,360.1L260.0,355.4L258.4,350.1M246.1,346.3L252.2,348.4L258.4,350.1M214.4,338.7L219.4,336.1L224.8,334.4L229.5,331.2L234.7,329.0L239.7,326.4M246.1,346.3L244.8,341.3L242.2,336.6L242.1,331.1L239.7,326.4M300.2,350.7L297.4,353.9L296.8,354.4M281.0,327.5L276.2,329.5L270.9,330.2M258.4,350.1L261.4,345.0L265.0,340.3L267.5,335.0L270.9,330.2M444.0,119.0L443.9,118.6M390.8,115.7L396.9,119.9M390.8,115.7L388.9,108.8L388.7,101.6M388.7,101.6L394.2,98.5L399.1,94.7L401.4,92.5M396.9,119.9L402.1,118.5L407.6,118.0L412.5,115.2L414.0,115.1M443.5,130.2L439.3,134.8M439.3,134.8L433.6,133.7L427.9,132.3M427.9,132.3L425.1,128.1L423.9,126.3M373.1,209.6L371.7,203.7L370.7,197.8L370.5,191.7L369.5,185.8M343.9,191.3L344.0,190.0L344.5,185.6M369.5,185.8L363.3,185.0L357.0,186.0L350.8,185.7L348.2,185.4M334.6,186.3L337.0,185.3M413.5,497.9L413.8,497.6M562.9,452.7L562.3,452.9L560.5,452.8M551.0,449.8L551.0,448.7L551.1,445.0M423.1,450.7L423.9,454.6L423.9,455.0M313.4,669.0L316.4,673.2L320.2,676.5L324.7,679.2L328.0,683.1M319.6,704.3L322.3,702.2M328.0,683.1L325.3,689.2L324.9,696.1L322.3,702.2M341.0,655.0L341.4,660.6L343.1,666.0L342.6,671.7L344.0,677.2M328.0,683.1L333.7,682.0L338.6,679.0L344.0,677.2M351.2,718.2L351.2,716.9L352.4,711.7L352.2,706.5M322.3,702.2L327.1,703.8L332.3,703.2L337.3,704.2L342.0,706.0M350.9,706.1L352.2,706.5M359.3,650.0L362.9,653.5L366.4,657.3L371.4,659.2L374.6,663.3M385.8,627.6L386.3,629.3M374.6,663.3L376.9,661.6M437.5,675.6L432.2,675.8L426.9,676.1L421.9,678.3L416.6,678.5M414.9,674.2L416.6,678.5M393.2,621.5L388.4,623.4M415.0,689.0L415.4,685.1L415.6,679.8M416.6,678.5L415.6,679.8M267.9,759.5L270.2,755.8L274.8,751.7M274.8,751.7L279.6,754.3L284.3,757.1L287.4,759.5M273.4,744.5L274.8,751.7M314.1,753.3L309.5,756.4L303.9,757.5L298.7,759.4L298.5,759.5M280.8,494.2L283.5,492.0L285.4,490.3M289.3,486.7L292.4,483.4M267.2,487.6L266.7,486.7M291.9,471.6L292.6,477.5L292.4,483.4M291.9,471.6L285.9,469.6L284.4,468.8M295.0,484.8L292.4,483.4M296.1,469.0L291.9,471.6M350.4,305.2L351.0,305.2M341.3,338.4L347.3,337.7L353.3,338.6L359.3,338.6M341.3,338.4L337.5,333.6L333.7,328.8L330.1,323.8M359.3,338.6L362.0,333.7L364.4,328.5L367.7,323.9L369.4,321.4M362.9,343.9L362.8,343.7L359.3,338.6M398.5,289.5L393.4,293.3M393.4,293.3L387.4,290.3L387.1,290.1M318.5,362.3L314.7,362.7M314.7,362.7L315.0,364.5M315.3,366.6L315.5,367.7M341.3,338.4L341.0,344.6L340.1,348.5M357.2,361.7L355.6,362.2L352.7,361.5M301.5,350.5L306.1,353.5L310.6,357.8L314.7,362.7M368.3,484.4L368.4,483.5M375.2,597.2L375.8,595.7M375.8,595.7L379.2,593.9M375.8,595.7L373.1,591.4L371.0,586.8L368.6,583.3M366.8,581.0L364.8,578.6L362.8,573.8L360.4,569.3M360.4,569.3L365.9,566.3M356.8,562.3L357.9,564.0L360.2,569.3M360.2,569.3L354.7,572.2L352.6,574.1M327.2,619.8L328.6,614.4L328.6,608.7L330.5,604.3M205.3,327.8L206.1,321.6M179.3,297.2L185.5,297.7L187.0,298.2M192.2,300.9L194.7,304.0L197.3,308.5L200.7,312.5L202.8,317.5L206.1,321.6M204.3,265.9L204.9,266.1L210.5,268.4M210.5,268.4L211.7,274.2L214.3,279.7L215.1,285.6M206.8,290.2L210.4,288.5L215.1,285.6M256.7,298.7L253.0,294.7L251.0,289.5L247.1,285.6L244.3,280.9M256.7,298.7L254.1,303.2L250.8,307.2L247.7,311.5L245.4,316.1M245.4,316.1L243.7,316.7M243.7,316.7L239.4,313.6L234.5,311.6L230.6,307.9L225.8,305.6M244.3,280.9L238.6,283.0L233.2,285.6L227.8,288.2L222.3,290.5M222.3,290.5L224.3,295.3L225.2,300.4L225.8,305.6M272.2,295.7L269.1,295.8L263.1,298.2L256.7,298.7M270.9,330.2L266.1,326.9L261.2,323.7L255.4,322.1L250.8,318.3L245.4,316.1M239.7,326.4L242.5,321.9L243.7,316.7M206.1,321.6L209.5,317.8L214.5,315.9L217.9,312.0L222.5,309.6L225.8,305.6M215.1,285.6L222.3,290.5M269.1,249.4L268.6,251.6L267.8,258.5M267.8,258.5L263.2,261.0L258.2,262.7L256.9,263.3M257.8,229.9L256.7,229.8L251.6,229.4L246.6,228.4L241.6,228.5M237.4,227.4L236.4,227.1L231.5,225.5L228.8,225.6M246.6,265.2L243.3,263.2L237.8,260.6L232.4,257.9L227.7,254.0M227.8,250.9L227.7,254.0M274.9,266.4L272.1,263.4L267.8,258.5M272.3,206.1L270.4,211.0L267.2,215.4L265.9,220.5L264.9,224.9M244.3,280.9L245.8,276.1L247.0,271.2L248.3,267.0M223.0,222.0L225.6,224.9M210.5,268.4L215.5,265.6L218.9,260.9L223.7,258.0L227.7,254.0M396.9,119.9L397.2,125.9L398.3,131.7L399.4,137.5L401.0,143.3L402.6,149.0M427.9,132.3L423.4,136.2L418.6,139.6L412.9,141.7L409.1,146.7L403.8,149.3M403.8,149.3L402.7,149.1M419.7,165.3L419.0,170.7L418.6,172.0M419.7,165.3L415.1,161.9L411.2,157.9L407.4,153.7L403.8,149.3M392.3,181.5L387.8,180.1L383.5,177.0M402.7,149.1L400.1,154.2L395.7,158.0L393.0,163.0L389.7,167.5L386.8,172.4L383.5,177.0M369.5,185.8L373.2,182.4L374.0,181.2M383.5,177.0L381.1,177.4M346.3,152.9L349.7,152.9L355.0,154.6L360.6,154.4L365.8,156.2M341.1,137.7L339.8,133.4L339.7,128.3M370.2,127.5L371.7,132.6L373.9,137.5L374.9,142.7M370.2,127.5L365.7,125.1L361.0,122.9L356.1,121.4L351.5,119.3M374.9,142.7L371.4,146.9L368.7,151.6L365.8,156.2M351.5,119.3L345.5,123.7L339.7,128.3M368.7,162.6L368.3,161.8L365.8,156.2M336.7,128.0L339.7,128.3M390.8,115.7L385.5,118.4L380.2,121.0L375.6,125.0L370.2,127.5M402.6,149.0L396.9,148.7L391.7,145.7L385.8,146.1L380.5,144.0L374.9,142.7M352.8,111.0L352.8,113.9L351.5,119.3M388.7,101.6L383.5,98.4L378.4,95.2L373.5,91.5M444.1,165.1L442.2,160.1M443.4,157.7L442.2,160.1M419.7,165.3L425.2,163.6L431.0,163.1L436.5,160.8L442.2,160.1M439.3,134.8L441.6,139.5L441.7,140.8M393.4,293.3L393.5,294.2M348.2,679.5L349.5,685.6L351.0,689.2M348.2,679.5L353.0,677.5L357.9,675.7L363.3,675.3L368.1,673.3L372.9,671.2M358.8,703.6L359.7,703.6L360.8,703.0M372.9,671.2L374.6,676.2L377.3,680.7L380.0,685.2L382.4,689.9M381.4,693.0L382.4,689.9M344.0,677.2L348.2,679.5M352.2,706.5L353.1,705.4M374.6,663.3L372.9,671.2M415.6,679.8L410.3,682.2L407.3,682.4M386.7,688.5L382.4,689.9M372.8,83.2L375.7,78.4L379.4,74.3L383.6,70.5M383.6,70.5L382.5,65.4L382.2,64.5M383.6,70.5L389.3,70.7L394.8,72.5L400.5,72.4M408.9,51.9L406.0,56.3L404.0,61.6L402.6,67.2L400.5,72.4M404.7,79.2L403.4,76.6L400.5,72.4M437.3,461.9L440.6,460.3M440.6,460.3L441.3,459.9L444.3,457.9M485.5,471.7L485.6,474.0M485.5,471.7L487.3,470.1M487.4,476.0L486.6,475.5M487.4,476.0L490.5,473.8M490.5,473.8L490.7,472.2M487.3,470.1L490.7,472.2M485.6,474.0L486.6,475.5M487.4,476.0L487.6,477.3M487.6,477.3L486.8,479.8M481.0,478.0L486.6,475.5M481.1,478.1L486.8,479.8M464.8,471.3L461.6,469.7M464.8,471.3L464.9,474.4M461.6,469.7L459.8,474.1M464.9,474.4L461.1,475.4M459.8,474.1L461.1,475.4M492.3,474.9L491.8,475.0M492.1,475.6L491.8,475.0M490.5,473.8L491.8,475.0M493.2,470.4L493.2,470.4M493.2,470.4L492.9,470.3M492.9,470.3L490.7,472.2M491.2,478.4L487.6,477.3M480.4,447.7L481.2,450.3M480.4,447.7L484.5,446.0M484.5,446.0L484.6,445.9M481.2,450.3L484.9,450.9M484.9,450.9L486.5,449.4M486.5,449.4L486.9,449.0M486.9,449.0L486.9,447.9M486.9,447.9L484.6,445.9M487.3,470.1L487.2,468.0M487.2,468.0L490.0,466.1M493.0,469.9L490.0,466.1M493.0,469.9L493.2,469.6M493.2,469.6L493.3,469.5M482.8,442.1L484.0,438.9M482.8,442.1L482.0,442.3M482.0,442.3L479.2,442.9M479.2,442.9L478.1,438.8M484.0,438.9L483.8,438.8M483.8,438.8L480.1,436.4M478.1,438.8L478.4,438.4M478.4,438.4L479.4,437.2M479.4,437.2L479.9,436.5M473.3,450.7L472.5,446.3M473.3,450.7L469.6,451.5M472.5,446.3L469.6,444.8M469.6,444.8L468.3,445.8M469.6,451.5L467.0,450.5M468.3,445.8L467.0,450.5M481.1,478.1L482.9,481.7M482.9,481.7L483.6,483.0M486.9,480.4L486.8,479.8M486.9,480.4L486.6,480.7M486.6,480.7L484.0,483.3M458.6,474.0L457.4,474.6M458.6,474.0L455.8,469.4M457.4,474.6L453.7,474.8M453.1,470.2L455.8,469.4M453.1,470.2L452.8,470.7M458.6,474.0L459.8,474.1M461.6,469.7L460.9,467.1M459.7,466.3L460.7,466.9M459.7,466.3L457.5,467.5M457.5,467.5L455.8,469.4M466.8,467.6L463.7,467.3M463.7,467.3L460.9,467.1M465.0,471.2L465.5,470.2M465.5,470.2L467.0,467.8M466.8,467.6L466.8,463.6M460.7,466.9L462.5,465.5M462.5,465.5L465.0,463.8M465.0,463.8L466.3,463.3M466.3,463.3L466.8,463.6M481.0,478.0L480.1,477.7M485.6,474.0L481.2,474.5M480.1,477.7L479.9,476.7M481.2,474.5L479.9,476.7M475.2,462.2L475.3,457.8M475.2,462.2L478.1,463.0M478.1,463.0L479.2,462.6M479.2,462.6L478.6,457.3M478.6,457.3L475.3,457.8M489.3,482.0L489.8,481.9M489.3,482.0L489.0,483.6M486.9,480.4L487.3,480.6M487.3,480.6L489.3,482.0M486.8,487.4L484.4,486.1M484.4,486.1L484.0,483.3M475.0,442.7L473.8,445.5M475.0,442.7L479.2,442.9M473.8,445.5L478.6,446.7M479.2,442.9L478.8,446.6M482.8,442.1L484.3,443.9M480.4,447.7L478.8,446.6M484.3,443.9L484.6,445.9M493.9,463.3L492.7,463.7M492.7,463.7L490.5,464.5M490.5,464.5L490.0,466.1M486.8,442.9L489.4,444.7M486.8,442.9L487.8,440.3M489.4,444.7L490.4,441.3M487.8,440.3L489.8,440.2M489.8,440.2L489.8,440.2M486.9,447.9L489.5,445.4M484.3,443.9L486.8,442.9M489.5,445.4L489.4,444.7M484.0,438.9L484.6,438.7M484.6,438.7L487.8,440.3M491.9,445.9L489.5,445.4M489.3,450.6L492.4,447.7M489.3,450.7L493.0,450.4M486.9,449.0L489.3,450.6M493.5,453.4L492.8,454.1M489.3,450.7L490.2,454.1M492.8,454.1L490.2,454.1M492.8,454.1L493.7,455.3M472.5,446.3L473.8,445.5M469.6,444.8L469.6,442.4M475.0,442.7L473.4,440.2M473.4,440.2L469.6,442.4M480.1,436.4L482.2,431.9M482.2,431.9L481.9,431.4M479.9,436.5L478.8,435.7M478.8,435.7L476.9,434.4M480.3,430.5L481.9,431.4M480.3,430.5L477.6,431.0M476.9,434.4L477.3,432.2M477.3,432.2L477.6,431.0M468.3,445.8L467.3,445.5M469.6,442.4L467.9,440.6M467.9,440.6L464.4,442.6M464.4,442.6L467.3,445.5M467.0,450.5L464.6,450.2M464.6,450.2L462.2,446.3M467.3,445.5L462.2,446.3M459.7,466.3L459.5,465.2M465.0,463.8L461.7,461.4M459.5,465.2L460.4,463.6M460.4,463.6L460.5,463.5M460.5,463.5L461.7,461.4M477.9,495.0L478.4,493.5M479.9,494.0L479.3,493.1M478.4,493.5L479.3,493.1M473.8,494.5L473.8,494.5M473.8,494.5L473.7,494.1M473.7,494.1L474.0,493.9M474.0,493.9L475.9,492.6M478.4,493.5L476.5,492.8M476.5,492.8L475.9,492.6M453.9,466.4L454.8,466.0M454.8,466.0L454.1,464.8M453.1,470.2L452.6,469.2M457.5,467.5L454.8,466.0M457.2,462.8L459.5,465.2M457.2,462.8L454.3,463.1M457.4,474.6L456.7,479.8M461.1,475.4L461.1,476.4M461.1,476.4L458.6,480.5M458.6,480.5L456.7,479.8M455.3,479.9L456.7,479.8M471.9,463.2L472.0,466.0M467.0,467.8L469.4,468.7M471.5,462.9L466.8,463.6M469.4,468.7L472.0,466.0M471.9,463.2L475.2,462.2M477.5,466.3L478.1,463.0M477.5,466.3L473.9,467.6M472.0,466.0L473.9,467.6M468.0,457.3L465.7,455.7M468.0,457.3L468.0,457.9M468.0,457.9L465.5,460.7M465.7,455.7L463.8,455.9M463.8,455.9L462.1,459.4M465.5,460.7L462.2,459.6M469.6,451.5L469.8,455.9M469.8,455.9L468.0,457.3M467.0,450.5L465.7,455.7M471.5,462.9L470.9,461.0M470.9,461.0L468.0,457.9M466.3,463.3L465.5,460.7M462.3,454.4L462.8,451.6M462.3,454.4L463.8,455.9M464.6,450.2L462.8,451.6M461.7,461.4L462.2,459.6M477.5,466.3L478.7,468.9M477.6,470.5L478.7,469.8M477.6,470.5L474.4,469.2M473.9,467.6L474.4,469.2M478.7,468.9L478.7,469.8M477.6,470.5L476.2,474.2M476.2,474.2L479.9,476.7M481.2,474.5L481.3,471.2M478.7,469.8L481.3,471.2M485.5,471.7L482.5,470.6M482.5,470.6L481.3,471.2M485.3,462.7L482.5,461.8M485.3,462.7L485.4,467.0M481.9,466.4L483.4,467.4M481.9,466.4L480.6,462.7M480.6,462.7L482.5,461.8M485.4,467.0L483.4,467.4M487.2,468.0L485.4,467.0M490.5,464.5L487.9,461.8M487.9,461.8L485.3,462.7M478.7,468.9L481.9,466.4M482.5,470.6L483.4,467.4M479.2,462.6L480.6,462.7M478.6,457.3L479.1,456.7M482.5,461.8L482.7,460.6M482.7,460.6L479.1,456.7M481.2,450.3L479.2,453.5M484.9,450.9L484.9,454.3M479.2,453.5L479.9,454.9M479.9,454.9L481.9,455.4M484.9,454.3L481.9,455.4M482.7,460.6L483.3,459.1M479.9,454.9L479.1,456.7M481.9,455.4L483.3,459.1M478.8,453.4L473.8,456.4M478.8,453.4L475.2,450.8M473.6,450.9L475.2,450.8M473.6,450.9L473.4,456.2M475.3,457.8L473.8,456.4M478.6,446.7L475.2,450.8M469.8,455.9L473.4,456.2M470.9,461.0L473.5,456.3M480.3,430.5L480.0,428.0M481.9,431.4L482.8,430.1M471.5,436.9L473.8,438.7M471.5,436.9L471.2,435.2M475.5,434.8L473.1,432.9M475.5,434.8L475.2,435.7M475.2,435.7L474.1,438.6M471.2,435.2L472.0,433.0M472.0,433.0L472.1,433.0M473.1,432.9L472.1,433.0M473.4,440.2L473.8,438.7M467.5,438.9L467.9,440.6M467.5,438.9L471.5,436.9M465.6,434.7L467.2,438.6M465.8,434.6L471.2,435.2M476.9,434.4L475.5,434.8M475.9,430.1L476.7,430.5M476.7,430.5L477.6,431.0M475.9,430.1L473.1,432.9M478.1,438.8L474.1,438.6M465.8,434.6L467.9,431.7M472.1,433.0L471.1,431.8M471.1,431.8L470.7,431.8M470.7,431.8L467.9,431.7M453.6,459.5L454.0,458.7M452.6,458.0L454.0,458.7M453.1,450.0L453.9,450.3M454.0,451.2L452.7,452.3M454.0,451.2L453.9,450.3M457.1,459.5L459.5,458.4M457.1,459.5L455.1,458.3M459.5,458.4L459.2,454.8M455.1,458.3L455.2,456.4M455.2,456.4L456.7,453.4M459.2,454.8L457.4,453.3M456.7,453.4L457.4,453.3M457.2,462.8L457.2,462.3M457.2,462.3L457.2,461.7M457.2,461.7L457.1,459.5M462.1,459.4L459.5,458.4M454.0,458.7L455.1,458.3M462.3,454.4L459.2,454.8M452.3,455.3L455.2,456.4M454.0,451.2L455.3,452.3M455.3,452.3L456.7,453.4M459.5,450.8L462.8,451.6M459.5,450.8L457.4,453.3M484.4,486.1L483.2,486.6M482.8,492.0L481.8,491.6M483.2,486.6L481.8,491.6M479.3,493.1L480.3,491.7M481.8,491.6L480.3,491.7M458.6,480.5L459.8,482.5M459.8,482.5L457.4,484.3M468.7,479.9L466.1,479.5M468.7,479.9L468.7,480.0M468.7,480.0L469.6,483.0M469.6,483.0L468.9,483.3M468.9,483.3L465.3,484.7M466.1,479.5L464.8,480.0M464.8,480.0L463.0,482.7M463.0,482.7L465.3,484.7M465.7,474.9L466.1,479.5M465.7,474.9L468.2,474.3M468.2,474.3L468.9,474.2M469.7,478.8L468.9,474.2M469.7,478.8L469.0,479.6M469.0,479.6L468.7,479.9M468.7,479.9L468.7,479.9M464.9,474.4L465.7,474.9M461.1,476.4L464.8,480.0M461.2,483.2L459.8,482.5M461.2,483.2L463.0,482.7M473.7,494.1L471.9,493.6M475.9,492.6L475.8,492.2M475.8,492.2L475.5,490.0M475.5,490.0L472.0,490.5M472.0,490.5L471.4,490.5M471.9,493.6L471.1,491.6M471.4,490.5L471.1,491.6M474.1,479.5L472.8,481.2M472.8,481.2L470.9,483.6M474.1,479.5L473.0,478.3M469.7,478.8L473.0,478.3M469.6,483.0L470.1,483.5M470.1,483.5L470.9,483.6M472.7,471.5L470.0,471.3M472.7,471.5L475.1,474.4M475.1,474.4L473.8,475.7M473.8,475.7L469.1,473.9M469.1,473.9L469.6,471.9M469.6,471.9L470.0,471.3M469.4,468.7L470.0,471.3M474.4,469.2L472.7,471.5M476.2,474.2L475.1,474.4M473.0,478.3L473.8,475.7M465.0,471.2L466.3,471.4M466.3,471.4L469.6,471.9M485.6,458.0L486.3,455.3M485.6,458.0L488.2,460.7M488.2,460.7L489.9,458.6M489.9,458.6L489.3,455.2M489.3,455.2L486.3,455.3M484.9,454.3L486.3,455.3M483.3,459.1L485.6,458.0M487.9,461.8L488.2,460.7M494.0,459.6L491.9,459.1M491.9,459.1L489.9,458.6M490.2,454.1L489.3,455.2M475.8,426.4L474.3,426.7M474.3,426.7L473.0,426.0M475.9,430.1L474.3,426.7M471.1,431.8L472.0,426.4M472.0,426.4L472.5,426.0M472.0,426.4L468.5,426.9M482.3,431.9L484.2,431.4M484.6,438.7L484.8,438.4M484.8,438.4L486.3,435.5M482.3,431.9L486.3,435.5M486.3,435.5L487.1,435.2M453.9,450.3L455.4,446.8M455.4,446.8L454.3,445.9M454.3,445.9L454.1,445.9M459.5,450.8L459.1,446.8M462.2,446.3L461.4,445.8M459.1,446.8L461.4,445.8M455.4,446.8L457.2,446.4M459.1,446.8L458.5,446.6M458.5,446.6L457.2,446.4M467.0,428.9L467.1,428.2M467.1,428.2L467.3,427.3M467.0,428.9L463.5,430.5M463.1,430.1L463.2,430.2M463.2,430.2L463.5,430.5M467.9,431.7L467.0,428.9M465.6,434.7L463.9,434.4M463.9,434.4L463.5,430.5M463.3,434.7L461.8,433.9M461.8,433.9L460.3,433.2M463.3,434.7L463.9,434.4M480.6,486.6L480.5,486.7M480.5,486.7L478.4,488.1M480.6,486.6L480.5,486.5M480.5,486.5L479.4,483.0M478.4,488.1L476.6,487.8M476.6,487.8L475.1,485.8M475.1,485.8L475.0,485.1M475.0,485.1L476.9,481.8M476.9,481.8L477.1,481.3M479.4,483.0L478.1,481.9M478.1,481.9L477.3,481.3M483.2,486.6L480.6,486.6M480.3,491.7L479.6,490.5M479.6,490.5L479.5,490.3M479.5,490.3L478.4,488.1M483.6,483.0L480.5,483.0M480.5,483.0L479.4,483.0M475.5,490.0L476.6,487.8M471.4,490.5L471.1,489.5M471.1,489.5L470.9,488.7M470.9,488.7L475.1,485.8M470.1,483.5L469.2,487.5M470.9,483.6L475.0,485.1M470.9,488.7L469.2,487.5M474.1,479.5L477.1,481.3M480.1,477.7L477.3,481.3M466.3,494.1L466.8,493.2M466.8,493.2L469.9,495.6M471.9,493.6L470.0,495.6M466.7,492.1L464.0,491.1M466.8,492.0L467.9,487.8M464.0,491.1L464.5,488.0M464.5,488.0L465.8,487.0M465.8,487.0L467.9,487.8M462.8,491.6L464.0,491.1M466.8,493.2L466.7,492.1M471.1,491.6L466.8,492.0M469.2,487.5L467.9,487.8M461.2,483.2L461.0,487.0M461.0,487.0L464.5,488.0M465.3,484.7L465.8,487.0M461.0,487.0L459.9,488.4M463.3,442.6L462.0,443.3M463.3,442.6L463.9,439.5M462.0,443.3L461.3,442.4M461.3,442.4L458.7,439.2M463.9,439.5L462.1,438.0M462.1,438.0L461.6,437.5M461.6,437.5L458.7,439.2M464.4,442.6L463.3,442.6M461.4,445.8L462.0,443.3M467.2,438.6L463.9,439.5M463.3,434.7L462.0,436.9M462.0,436.9L461.6,437.5M457.2,442.5L458.2,439.2M457.2,442.5L455.1,442.7M456.6,439.1L456.7,439.1M456.7,439.1L458.2,439.1M457.2,446.4L457.2,442.5M458.7,439.2L458.2,439.2M454.3,445.9L454.2,445.5M456.6,439.1L456.7,439.1M457.9,436.7L458.2,439.1M499.9,468.4L502.4,466.1M502.4,466.1L502.7,465.8M499.9,468.4L496.3,468.3M502.7,465.8L502.2,463.7M502.2,463.7L500.8,457.7M486.9,492.7L485.9,498.3M485.9,498.3L481.1,499.7M507.5,481.9L500.3,478.2M499.7,479.3L500.1,478.4M512.7,481.8L511.9,480.7M511.9,480.7L508.9,481.5M508.9,481.5L507.5,481.9M491.7,483.6L492.9,483.0M492.9,483.0L499.7,479.3M492.6,474.9L492.9,475.0M492.9,475.0L500.1,478.4M499.9,468.4L502.0,474.7M502.0,474.7L500.3,478.2M508.2,466.7L509.4,475.1M508.2,466.7L510.6,465.8M511.7,476.9L509.4,475.1M502.0,474.7L505.6,474.9M505.6,474.9L509.4,475.1M504.9,465.8L502.7,465.8M504.9,465.8L508.2,466.7M513.9,461.4L510.6,465.8M511.9,480.7L511.7,476.9M498.5,447.1L498.0,451.8M500.8,457.7L501.8,456.1M501.8,456.1L498.0,451.8M513.9,461.4L513.6,459.7M462.9,498.6L467.5,500.5M441.8,460.8L446.5,459.2M444.3,449.7L447.6,454.0M444.3,449.7L439.3,451.9M441.8,460.8L440.6,460.3M440.6,460.3L438.9,459.6M438.9,459.6L439.0,458.1M439.0,458.1L439.3,451.9M447.6,454.0L447.0,456.7M447.0,456.7L446.5,459.2M467.5,500.5L467.6,503.3M505.6,447.1L509.1,444.7M505.6,447.1L505.8,454.1M505.8,454.1L509.4,455.8M513.6,459.7L510.4,456.6M510.4,456.6L509.6,455.8M501.8,456.1L505.8,454.1M498.5,447.1L500.6,445.1M500.6,445.1L505.6,447.1M504.9,465.8L507.2,460.8L508.2,458.6M508.2,458.6L509.4,455.8M467.4,426.9L466.4,427.5M466.4,427.5L464.6,428.8M464.6,428.8L460.5,431.5M460.5,431.5L459.7,432.1M459.2,432.0L459.7,432.1M486.3,424.7L485.1,429.4M483.8,430.9L485.1,429.4M485.1,429.4L490.4,432.2L495.0,434.2M495.0,434.2L495.9,434.6M490.5,440.4L496.1,437.0M495.9,434.6L496.1,437.0M500.6,445.1L498.1,438.3M498.1,438.3L496.1,437.0M446.4,495.3L449.2,499.6M467.6,503.3L465.9,508.8M467.6,509.7L465.9,508.8M438.9,459.6L437.3,459.9M437.3,459.9L435.8,460.0M439.3,451.9L436.1,448.9M444.3,449.7L444.9,445.6M450.4,443.8L444.9,445.6M450.4,443.8L453.2,447.3M439.8,442.0L439.9,441.5M444.9,445.6L439.8,442.0M456.0,434.4L455.1,438.4M455.1,438.4L451.0,441.4M451.0,441.4L447.0,436.7M459.2,432.0L456.0,434.4M450.4,443.8L451.0,441.4M439.9,441.5L447.0,436.7M498.1,438.3L504.5,437.0M446.0,487.7L448.2,490.9M448.2,490.9L455.7,490.3M454.3,481.6L452.5,480.7M454.3,481.6L455.8,490.0M446.4,495.3L447.0,493.9M447.0,493.9L447.3,493.0M447.3,493.0L448.2,490.9M457.2,498.3L451.8,499.1M451.8,499.1L451.3,499.2M451.3,499.2L449.2,499.6M457.2,498.3L455.7,490.3M452.7,476.5L452.5,480.7M462.9,498.6L459.1,499.9M459.1,499.9L457.2,498.3M439.5,485.9L438.5,483.9M438.5,483.9L436.3,481.9M446.0,487.7L443.9,487.1M443.9,487.1L440.7,486.2M440.7,486.2L439.5,485.9M459.1,499.9L458.9,503.7M465.9,508.8L463.0,508.8" fill="none" stroke="#e0d8ee" stroke-opacity="0.5" stroke-width="0.45" stroke-linejoin="round"/>
</g>
<g clip-path="url(#c2)">
<path d="M1136.5,72.0L1128.5,84.0L1122.5,97.0L1117.0,107.5L1109.0,111.0L1104.5,113.0L1101.0,118.0L1095.5,120.0L1095.0,126.0L1091.8,130.4L1091.5,134.3L1086.1,135.0L1082.5,138.4L1087.0,142.0L1080.0,147.6L1081.2,163.7L1086.3,171.7L1082.8,177.3L1088.5,179.7L1087.3,183.1L1093.0,187.7L1096.5,184.5L1095.0,189.0L1079.7,199.8L1075.1,194.7L1068.2,202.0L1059.1,204.3L1052.2,206.6L1048.8,214.6L1045.4,207.8L1036.2,197.5L1037.3,189.5L1030.5,187.2L1027.0,192.9L1023.6,196.3L1017.9,191.8L1019.0,186.0L1014.5,190.0L1011.0,181.4L1006.4,187.2L997.3,188.3L992.7,183.7L983.5,188.3L984.7,196.3L990.4,198.6L995.0,196.3L1000.7,202.0L997.3,206.6L983.5,212.4L976.7,210.1L972.6,212.4L977.8,219.2L976.7,224.9L970.9,223.8L965.2,219.2L956.1,223.8L948.1,223.8L951.5,228.4L958.4,231.8L956.1,235.2L960.6,243.3L959.5,249.0L964.1,254.7L959.5,258.1L961.8,268.4L961.4,268.2L960.5,267.8L959.2,267.1L957.5,266.3L954.8,266.0L951.3,266.3L946.8,267.1L941.3,268.6L935.3,270.2L928.5,272.1L921.2,274.1L913.1,276.4L905.1,278.7L897.1,280.8L889.1,282.9L881.1,284.9L873.5,286.6L866.4,288.0L859.6,289.2L853.4,290.0L847.3,290.6L841.6,290.9L836.2,290.9L831.0,290.6L826.0,290.2L821.2,289.6L816.4,288.9L811.9,288.1L807.4,287.0L803.0,285.6L798.8,283.9L794.7,281.9L791.6,280.5L789.5,279.5L788.5,279.0L788.5,571.5L795.8,579.2L807.3,584.9L814.1,586.1L825.6,596.4L838.2,588.4L842.7,588.4L850.8,583.8L865.6,595.2L873.7,589.5L882.8,591.8L896.5,587.2L908.0,587.2L909.1,594.1L911.4,596.4L905.7,604.4L891.3,610.1L890.8,621.6L887.4,628.4L883.3,629.6L882.4,639.9L877.1,643.3L878.2,650.2L881.7,649.0L882.8,653.6L888.5,657.1L898.8,665.1L902.3,663.9L906.9,673.1L905.7,676.5L909.1,678.8L912.6,676.5L912.3,688.5L914.5,693.0L913.4,699.9L907.7,707.9L906.6,718.1L914.5,717.0L926.0,704.4L928.2,701.0L932.8,703.3L941.9,705.6L951.1,712.4L964.8,713.6L970.5,714.7L971.1,705.6L975.0,704.4L975.0,711.3L980.7,717.0L981.9,720.4L976.2,723.8L969.3,728.4L970.5,734.1L970.5,760.0L1324.1,760.0L1323.6,758.6L1322.5,756.0L1321.0,751.9L1318.8,746.5L1317.1,741.5L1315.6,737.0L1314.4,733.0L1313.6,729.4L1313.1,725.6L1312.9,721.7L1313.0,717.5L1313.5,713.2L1314.4,709.2L1315.5,705.6L1317.0,702.4L1318.8,699.5L1320.9,697.0L1323.2,694.9L1325.8,693.1L1328.7,691.6L1331.3,690.1L1333.6,688.5L1335.7,686.8L1337.5,685.0L1339.0,682.9L1340.3,680.6L1341.3,678.0L1342.0,675.1L1342.3,672.2L1342.1,669.4L1341.5,666.5L1340.3,663.6L1339.0,661.1L1337.4,658.9L1335.5,657.1L1333.3,655.7L1331.0,654.1L1328.5,652.2L1325.8,650.3L1322.9,648.1L1319.7,646.0L1316.1,643.8L1312.1,641.6L1307.8,639.5L1304.1,637.6L1301.0,635.9L1298.6,634.6L1296.8,633.5L1295.4,632.3L1294.3,630.8L1293.6,629.2L1293.2,627.4L1293.2,625.6L1293.6,623.8L1294.3,622.0L1295.4,620.2L1296.8,618.2L1298.6,616.1L1300.8,613.8L1303.3,611.2L1305.7,608.7L1307.8,606.2L1309.8,603.7L1311.6,601.2L1312.9,598.8L1313.6,596.7L1313.8,594.7L1313.4,592.9L1312.8,591.4L1311.9,590.1L1310.7,589.1L1309.3,588.4L1308.5,587.5L1308.3,586.4L1308.7,585.2L1309.8,583.7L1310.9,582.2L1312.0,580.6L1313.1,578.9L1314.3,577.2L1314.7,575.3L1314.3,573.3L1313.2,571.2L1311.3,569.1L1309.6,567.1L1308.2,565.3L1306.9,563.6L1305.8,562.2L1305.0,561.1L1304.5,560.4L1304.2,560.0L1303.8,554.3L1307.7,542.9L1316.6,526.3L1325.5,523.8L1335.7,526.3L1345.8,534.0L1361.1,532.7L1368.7,536.5L1379.5,540.0L1379.5,522.4L1374.3,520.4L1374.3,506.0L1379.5,504.0L1379.5,394.0L1368.8,374.3L1348.4,382.0L1344.6,375.6L1340.8,359.1L1333.1,347.6L1326.8,343.8L1324.2,336.2L1314.0,329.8L1320.4,319.6L1315.3,315.8L1326.8,317.1L1328.0,304.4L1322.9,294.2L1324.2,281.4L1317.8,276.4L1320.4,263.6L1324.2,254.7L1312.8,243.3L1305.1,242.0L1305.1,233.1L1312.8,225.5L1308.9,222.9L1315.3,220.4L1315.1,209.4L1309.3,200.3L1301.3,201.4L1302.5,198.0L1311.6,191.1L1320.8,190.0L1328.8,178.5L1335.7,172.8L1337.9,175.1L1342.5,172.8L1342.5,169.4L1341.8,168.3L1340.4,166.2L1338.2,163.0L1335.4,158.7L1332.7,154.4L1330.3,150.3L1328.1,146.2L1326.1,142.2L1324.7,138.0L1323.8,133.8L1323.5,129.3L1323.8,124.7L1324.5,120.9L1325.6,117.9L1327.2,115.7L1329.2,114.2L1330.8,112.9L1331.9,111.6L1332.7,110.4L1332.9,109.2L1332.5,108.4L1331.4,108.0L1329.5,107.9L1327.0,108.3L1324.6,108.2L1322.5,107.8L1320.5,107.0L1318.8,105.8L1317.5,104.3L1316.6,102.5L1316.2,100.2L1316.2,97.7L1315.7,96.0L1314.7,95.3L1313.2,95.5L1311.2,96.7L1309.1,97.3L1306.8,97.5L1304.3,97.1L1301.8,96.3L1299.5,95.2L1297.5,93.9L1295.8,92.4L1294.3,90.6L1293.4,88.3L1293.0,85.4L1293.1,82.0L1293.6,78.0L1294.0,74.6L1294.1,71.9L1294.0,69.9L1293.8,68.4L1292.9,67.5L1291.7,67.1L1289.8,67.2L1287.6,67.7L1285.1,68.0L1282.5,68.0L1279.8,67.7L1277.0,67.2L1274.0,66.6L1270.8,66.0L1267.6,65.4L1264.1,64.9L1261.3,64.2L1259.0,63.3L1257.3,62.3L1256.1,61.2L1255.1,59.8L1254.3,58.2L1253.5,56.3L1253.0,54.2L1252.5,52.6L1252.2,51.5L1252.2,51.4L1143.9,51.4Z" fill="#3e0851"/>
<path d="M1092.2,502.7L1090.0,500.4L1090.0,505.0Z" fill="#7ec86c" stroke="#7ec86c" stroke-width="0.3"/>
<path d="M1106.8,540.8L1105.1,541.3L1115.7,542.8L1120.3,547.4L1118.7,553.4L1120.5,551.4L1121.8,551.9L1120.3,545.9L1115.0,541.3L1106.6,540.6ZM1203.5,400.0L1212.6,398.5L1214.1,396.9ZM1230.8,450.7L1230.0,446.3L1227.1,444.8L1225.8,445.8L1224.5,450.5L1227.1,451.5ZM1236.7,462.6L1235.6,463.0L1235.0,466.3L1236.2,468.9L1239.4,466.4L1238.1,462.7Z" fill="#43377d" stroke="#43377d" stroke-width="0.3"/>
<path d="M1203.4,547.9L1205.1,548.9L1196.7,542.8L1200.5,548.9ZM1127.0,402.5L1125.6,400.0L1121.8,406.8L1129.3,401.5ZM1273.8,510.0L1272.9,511.2L1274.2,510.7ZM1238.4,535.3L1247.5,538.3L1249.0,520.1L1241.4,518.6L1230.8,520.1L1224.0,523.1L1226.3,529.2Z" fill="#423e80" stroke="#423e80" stroke-width="0.3"/>
<path d="M1284.0,560.1L1288.5,553.2L1282.8,560.1ZM1335.7,459.8L1339.8,463.3L1341.1,461.1ZM1322.4,476.3L1322.1,475.4L1322.9,474.8L1313.5,472.5L1302.1,466.8L1299.3,461.1L1298.1,462.2L1297.3,469.2L1308.5,475.4L1321.7,477.4ZM1253.7,452.6L1248.8,444.9L1240.8,434.6L1242.9,439.3L1252.0,449.9L1254.5,455.0L1254.9,455.0L1254.4,453.4ZM1265.0,486.1L1267.7,485.5L1265.0,481.0ZM1229.1,501.9L1237.6,501.9L1229.3,500.4ZM1308.5,510.0L1308.3,511.3L1308.3,511.3L1310.5,514.2L1310.5,514.1ZM1298.3,560.1L1303.4,548.7L1308.5,526.3L1308.8,524.3L1308.6,524.6L1308.9,523.3L1308.3,525.6L1303.0,539.8L1294.1,554.1L1289.6,551.8L1289.3,552.3L1288.5,553.2L1284.0,560.1ZM1209.6,470.1L1205.1,474.7L1211.1,482.3L1208.1,486.8L1202.0,480.7L1194.5,485.3L1189.9,490.6L1182.3,489.8L1176.3,498.2L1170.2,495.1L1168.7,494.4L1173.3,505.0L1185.4,509.5L1192.9,508.0L1191.4,515.6L1199.0,514.1L1206.6,503.5L1212.6,503.5L1221.7,514.1L1227.8,512.5L1227.8,501.9L1229.1,501.9L1229.3,500.4L1237.6,501.9L1245.9,501.2L1249.0,506.5L1255.0,506.5L1261.1,514.1L1265.0,518.6L1265.0,470.1L1255.0,455.0L1211.1,455.0L1211.9,462.6ZM1192.1,279.5L1202.4,280.4L1201.7,278.8ZM1179.6,285.0L1184.6,280.1L1182.2,280.3L1177.7,285.0ZM1204.7,285.0L1203.4,282.4L1203.0,285.0ZM1313.5,472.5L1322.9,474.8L1340.6,464.0L1330.6,455.4L1320.6,444.0L1307.8,448.3L1299.3,461.1L1302.1,466.8ZM1309.1,522.6L1308.6,524.6L1309.2,523.8ZM1282.2,560.8L1289.3,552.3L1289.6,551.8L1288.7,551.4L1294.1,542.5L1293.2,541.2L1276.5,555.1ZM1288.7,551.4L1294.1,554.1L1303.0,539.8L1308.3,525.6L1311.0,514.9L1308.3,511.3L1307.5,518.4L1304.8,523.8L1299.4,533.6L1294.1,542.5ZM1243.1,474.0L1243.0,471.7L1240.0,470.6L1238.8,471.2L1238.7,474.5ZM1227.1,444.8L1230.0,446.3L1231.3,445.5L1232.5,442.7L1230.9,440.2L1227.1,442.4Z" fill="#432c75" stroke="#432c75" stroke-width="0.3"/>
<path d="M1329.2,488.4L1322.7,483.5L1321.7,477.4L1308.5,475.4L1320.7,481.5L1322.7,487.6ZM1109.7,564.0L1118.7,553.4L1120.3,547.4L1115.7,542.8L1105.1,541.3L1090.0,545.9L1083.9,554.9L1070.3,565.5L1067.3,574.0L1108.1,574.0Z" fill="#421c68" stroke="#421c68" stroke-width="0.3"/>
<path d="M1218.7,386.3L1218.2,386.8L1221.7,389.4L1226.3,400.0L1232.3,418.1L1237.7,427.6L1234.4,417.0L1222.3,388.5ZM1263.7,517.1L1259.7,516.1L1258.9,517.3L1259.6,517.1L1264.2,517.7ZM1230.8,518.6L1228.7,520.0L1241.4,518.6ZM1219.1,469.7L1222.3,471.3L1222.4,474.4L1223.2,474.9L1226.4,474.2L1227.2,478.8L1230.5,478.3L1231.3,475.7L1226.6,473.9L1227.1,471.9L1222.5,471.2L1224.5,467.8L1226.9,468.7L1229.5,466.0L1229.4,463.2L1232.7,462.2L1232.8,457.8L1231.3,456.4L1236.3,453.4L1232.7,450.8L1231.1,450.9L1230.9,456.2L1227.3,455.9L1225.5,457.3L1225.5,457.9L1228.4,461.0L1229.0,462.9L1224.3,463.6L1224.3,467.6L1218.4,467.1ZM1215.0,467.5L1217.2,466.3L1217.0,465.2L1214.7,462.8L1210.7,463.2L1212.3,466.0ZM1237.6,477.7L1237.4,476.7L1233.7,474.2L1232.6,474.4L1231.3,475.7L1230.5,478.3L1231.6,479.5L1234.6,481.3L1232.5,485.1L1232.6,485.8L1234.1,487.8L1235.9,488.1L1238.1,486.6L1236.9,483.0L1234.8,481.3ZM1218.6,476.4L1216.1,480.5L1217.3,482.5L1218.7,483.2L1220.5,482.7L1222.3,480.0ZM1260.2,465.8L1257.4,468.4L1259.5,474.7L1266.9,475.1L1265.7,466.7L1262.4,465.8Z" fill="#433179" stroke="#433179" stroke-width="0.3"/>
<path d="M1191.6,365.7L1163.3,365.7L1163.4,366.2L1169.5,365.9L1185.4,367.4L1190.6,370.0ZM1297.3,469.2L1290.5,470.0L1289.9,470.7L1308.5,475.4ZM1242.4,450.9L1238.7,450.3L1236.7,453.5L1237.4,454.9L1239.4,455.4L1242.4,454.3ZM1214.6,459.5L1217.0,458.4L1216.7,454.8L1214.9,453.3L1214.2,453.4L1212.7,456.4L1212.6,458.3ZM1223.6,479.5L1226.2,479.9L1227.2,478.8L1226.4,474.2L1223.2,474.9Z" fill="#432670" stroke="#432670" stroke-width="0.3"/>
<path d="M1178.4,328.7L1174.8,332.8L1181.2,332.8ZM1304.4,487.6L1314.6,486.6L1322.7,487.6L1320.7,481.5L1308.5,475.4L1289.9,470.7L1278.6,485.8L1276.9,488.6L1298.3,497.8ZM1258.9,517.3L1258.0,518.6L1265.0,518.6L1264.2,517.7L1259.6,517.1ZM1284.9,548.1L1293.1,541.2L1286.1,532.4L1284.6,523.4L1280.7,521.1L1277.9,519.4L1267.7,518.1L1265.0,517.8L1265.0,518.6L1265.0,542.6L1273.8,542.6ZM1124.7,458.0L1124.8,458.0L1127.8,455.0L1129.3,453.0L1132.4,440.9L1135.4,440.9L1139.9,430.3L1138.4,428.7L1124.8,433.3L1122.5,440.9L1124.0,446.9ZM1249.0,548.9L1255.0,554.9L1265.0,554.9L1265.0,518.6L1258.0,518.6L1249.0,520.1L1247.5,538.3L1239.9,539.8L1242.2,548.9ZM1234.6,245.9L1251.0,235.4L1257.0,226.4L1242.0,220.5L1234.6,213.0L1216.6,229.4L1218.1,241.4ZM1080.6,262.3L1095.5,271.3L1113.4,268.3L1119.4,256.3L1101.5,253.3L1083.5,247.4L1065.6,229.4L1055.1,235.4L1059.6,247.4ZM1163.3,365.7L1194.7,365.7L1191.7,347.8L1181.2,332.8L1174.8,332.8L1170.8,337.3L1163.6,332.8L1158.8,332.8L1151.3,341.8L1160.3,353.7ZM1170.8,337.3L1182.7,323.8L1179.7,305.9L1176.7,292.4L1164.8,299.9L1160.3,314.9L1158.8,329.8ZM1336.3,489.6L1350.5,495.3L1366.2,479.6L1353.4,466.8L1340.6,464.0L1322.1,475.4L1324.9,483.9Z" fill="#41145f" stroke="#41145f" stroke-width="0.3"/>
<path d="M1176.5,286.4L1176.7,287.9L1179.6,285.0L1177.7,285.0ZM1152.1,559.5L1158.1,572.4L1164.2,570.1L1165.7,554.9L1173.3,548.9L1176.3,545.9L1165.7,545.9L1161.1,541.3L1146.0,545.9L1139.9,542.8L1139.9,553.4L1144.5,554.9ZM1242.1,445.9L1244.4,447.9L1247.0,445.4L1246.9,444.7L1244.3,442.9L1241.8,443.9ZM1224.5,467.8L1222.5,471.2L1227.1,471.9L1227.5,471.3L1226.9,468.7ZM1235.9,493.5L1236.8,493.1L1237.8,491.7L1235.9,488.1L1234.1,487.8L1233.0,490.0L1233.4,492.6ZM1226.2,479.9L1223.6,479.5L1222.3,480.0L1220.5,482.7L1222.8,484.7L1227.1,483.0ZM1219.5,443.3L1220.8,442.6L1221.4,439.5L1219.1,437.5L1216.2,439.2Z" fill="#43206b" stroke="#43206b" stroke-width="0.3"/>
<path d="M1176.7,292.4L1179.7,305.9L1177.4,292.0ZM1232.3,418.1L1226.3,400.0L1221.7,389.4L1212.6,398.5L1211.1,408.3L1218.7,415.1ZM1239.9,515.6L1233.8,509.5L1230.8,518.6L1241.4,518.6ZM1246.5,285.0L1242.0,266.8L1213.6,271.3L1213.6,285.0Z" fill="#411661" stroke="#411661" stroke-width="0.3"/>
<path d="M1160.5,302.6L1159.8,302.1L1157.3,329.8L1151.3,340.3L1150.3,340.4L1151.3,341.8L1158.8,332.8L1163.6,332.8L1158.8,329.8L1160.3,314.9L1164.8,299.9ZM1265.0,517.4L1265.0,517.8L1267.7,518.1ZM1243.0,471.7L1243.1,474.0L1244.1,475.5L1244.9,476.0L1248.0,473.8L1248.2,472.2L1244.8,470.1ZM1217.3,474.1L1219.1,469.7L1218.4,467.1L1224.3,467.6L1224.3,463.6L1223.8,463.3L1222.5,463.8L1218.2,466.9L1217.2,466.3L1215.0,467.5L1213.3,469.4L1216.1,474.0ZM1235.1,470.5L1231.9,469.2L1230.2,471.5L1232.6,474.4L1233.7,474.2ZM1226.2,479.9L1227.1,483.0L1227.6,483.5L1228.4,483.6L1231.6,479.5L1230.5,478.3L1227.2,478.8Z" fill="#43236e" stroke="#43236e" stroke-width="0.3"/>
<path d="M1139.9,396.9L1140.7,397.3L1140.7,396.6ZM1191.4,515.6L1192.9,508.0L1185.4,509.5L1185.4,518.6ZM1248.8,444.9L1242.8,435.0L1240.2,433.2L1240.8,434.6ZM1149.0,512.5L1155.1,508.8L1149.0,511.8L1144.5,511.8ZM1227.0,521.8L1227.0,521.1L1224.0,523.1ZM1245.8,400.6L1256.5,404.1L1270.3,400.0L1247.4,400.0ZM1234.4,417.0L1237.7,427.6L1240.2,433.2L1242.8,435.0ZM1245.9,518.3L1241.8,518.7L1247.5,519.8L1247.4,519.2ZM1227.0,521.1L1227.0,521.8L1230.8,520.1L1238.5,519.0L1228.7,520.0ZM1152.8,398.5L1149.0,394.7L1152.1,387.9L1159.6,383.3L1165.7,384.1L1165.7,375.0L1169.5,365.9L1151.3,366.7L1149.0,375.7L1140.7,387.1L1140.7,397.3L1146.0,400.0ZM1136.9,416.6L1144.5,419.7L1139.9,430.3L1144.5,428.7L1152.1,429.5L1159.6,432.5L1170.2,432.5L1169.5,426.5L1162.7,416.6L1156.6,407.5L1152.8,398.5L1146.0,400.0L1139.9,396.9L1129.3,401.5L1121.8,406.8L1126.3,413.6ZM1122.5,440.9L1124.8,433.3L1138.4,428.7L1144.5,419.7L1136.9,416.6L1126.3,413.6L1112.7,418.1L1106.6,431.8L1112.7,438.6ZM1200.5,427.2L1206.6,430.3L1212.6,425.7L1218.7,415.1L1211.1,408.3L1212.6,398.5L1203.5,400.0L1196.0,403.0L1192.9,407.5L1184.6,410.6L1192.9,418.1ZM1170.2,432.5L1173.3,440.9L1182.3,440.9L1183.9,431.8L1191.4,434.8L1197.5,427.2L1192.9,418.1L1184.6,410.6L1180.8,412.1L1174.8,421.2L1169.5,426.5ZM1096.0,483.0L1095.3,497.4L1096.9,498.5L1106.6,500.4L1108.1,496.6L1114.2,490.6L1122.5,491.3L1121.8,471.7L1121.4,471.1L1119.5,468.6L1117.2,465.6L1096.0,464.8L1090.7,470.1L1093.0,479.2ZM1086.9,466.4L1090.7,470.1L1096.0,464.8L1100.6,462.6L1100.6,455.0L1074.8,455.0L1079.4,464.1ZM1243.7,436.9L1253.7,432.6L1265.1,425.5L1267.9,415.5L1276.5,409.8L1276.5,402.7L1296.4,398.4L1307.8,392.7L1297.8,385.6L1285.0,389.9L1270.8,399.9L1256.5,404.1L1239.4,398.4L1222.3,388.5L1233.7,415.5ZM1277.9,486.8L1290.7,469.7L1299.3,461.1L1307.8,448.3L1287.9,444.0L1273.6,446.9L1260.8,461.1L1267.9,475.4Z" fill="#414483" stroke="#414483" stroke-width="0.3"/>
<path d="M1095.3,498.2L1096.9,498.5L1095.3,497.4L1090.0,500.4Z" fill="#53a885" stroke="#53a885" stroke-width="0.3"/>
<path d="M1182.3,527.7L1180.8,529.7L1183.9,527.7L1194.5,529.2L1205.1,530.0L1196.7,542.8L1205.1,533.7L1209.6,537.5L1205.1,529.2L1185.4,526.2L1185.4,518.6ZM1298.1,462.2L1290.7,469.7L1290.5,470.0L1297.3,469.2ZM1276.9,488.6L1278.6,485.8L1277.9,486.8L1267.9,475.4L1261.4,462.3L1260.5,463.3L1265.0,470.1L1265.0,481.0L1267.7,485.5ZM1292.3,505.8L1307.8,511.0L1307.8,511.2L1308.3,511.3L1308.5,510.0L1298.3,501.8ZM1284.4,506.3L1285.3,505.9L1277.9,505.9L1276.1,507.7ZM1275.5,510.2L1274.6,509.2L1273.8,510.0L1274.2,510.7ZM1293.2,541.2L1290.5,537.1L1287.0,532.7L1286.1,527.3L1285.2,523.8L1284.6,523.4L1286.1,532.4L1293.1,541.2ZM1221.7,514.1L1224.0,523.1L1230.8,518.6L1233.8,509.5L1241.4,515.6L1241.4,508.0L1237.6,501.9L1227.8,501.9L1227.8,512.5ZM1290.7,505.3L1288.0,505.7L1291.4,507.7L1301.2,509.5L1307.8,511.2L1307.8,511.0ZM1275.5,510.2L1279.8,508.6L1284.4,506.3L1273.6,508.1ZM1276.3,518.4L1280.7,521.1L1285.2,523.8L1286.1,527.3L1287.0,532.7L1290.5,537.1L1294.1,542.5L1299.4,533.6L1304.8,523.8L1307.5,518.4L1308.3,511.3L1301.2,509.5L1291.4,507.7L1287.0,505.1L1279.8,508.6L1272.7,511.3Z" fill="#414985" stroke="#414985" stroke-width="0.3"/>
<path d="M1089.6,469.0L1088.1,469.0L1093.0,479.2L1090.7,470.1ZM1165.7,491.3L1179.3,486.8L1191.4,483.0L1185.4,477.7L1178.6,470.9L1170.2,473.9L1162.7,473.2L1162.7,480.7Z" fill="#4ea188" stroke="#4ea188" stroke-width="0.3"/>
<path d="M1254.4,453.4L1254.9,455.0L1257.1,458.1L1255.2,454.4Z" fill="#404b85" stroke="#404b85" stroke-width="0.3"/>
<path d="M1261.4,462.3L1260.0,460.1L1258.9,460.9L1260.5,463.3ZM1133.9,514.8L1126.3,517.1L1144.5,511.8Z" fill="#414684" stroke="#414684" stroke-width="0.3"/>
<path d="M1277.9,519.4L1276.3,518.4L1272.8,511.4L1267.7,518.1ZM1344.1,438.7L1338.0,419.3L1330.9,400.0L1320.2,400.0L1324.9,404.1L1336.3,418.4L1342.0,432.6L1330.6,455.4L1333.5,457.9ZM1272.8,511.4L1272.7,511.3L1272.9,511.2L1273.8,510.0L1274.6,509.2L1273.6,508.1L1276.1,507.7L1277.9,505.9L1285.3,505.9L1287.0,505.1L1288.4,505.9L1288.0,505.7L1290.7,505.3L1292.3,505.8L1298.3,501.8L1298.3,497.8L1276.9,488.6L1267.7,485.5L1265.0,486.1L1265.0,517.4L1267.7,518.1ZM1261.1,514.1L1259.7,516.1L1263.7,517.1ZM1196.0,454.5L1211.1,456.0L1211.8,462.1L1211.1,455.0L1254.5,455.0L1252.0,449.9L1242.9,439.3L1233.8,440.9L1229.3,437.8L1220.2,434.8L1218.7,440.9L1200.5,440.9L1191.4,448.4ZM1313.5,421.2L1316.4,435.5L1320.6,444.0L1330.6,455.4L1342.0,432.6L1336.3,418.4L1324.9,404.1L1313.5,394.2L1307.8,399.9L1306.4,407.0ZM1273.6,446.9L1287.9,444.0L1307.8,448.3L1320.6,444.0L1316.4,435.5L1305.0,429.8L1296.4,421.2L1290.7,415.5L1279.3,421.2L1287.9,411.3L1276.5,409.8L1267.9,415.5L1265.1,425.5L1279.3,432.6ZM1235.6,438.8L1237.4,436.5L1234.4,434.4L1233.0,434.8L1231.6,438.6ZM1227.1,442.4L1230.9,440.2L1231.3,438.7L1229.0,436.9L1225.0,438.9L1225.4,440.6ZM1224.8,445.5L1221.9,442.6L1220.8,442.6L1219.5,443.3L1218.9,445.8L1219.7,446.3ZM1242.8,462.7L1240.0,461.8L1238.1,462.7L1239.4,466.4L1240.9,467.4L1242.9,467.0Z" fill="#432f78" stroke="#432f78" stroke-width="0.3"/>
<path d="M1247.5,538.3L1239.4,535.6L1240.2,539.7ZM1122.6,457.8L1124.7,458.0L1124.2,449.8ZM1180.1,412.8L1180.4,412.7L1180.8,412.1L1184.6,410.6L1192.9,407.5L1189.2,399.2L1182.3,397.7L1176.3,395.4L1179.3,400.0L1180.8,406.8ZM1173.3,389.4L1176.3,395.4L1182.3,397.7L1189.2,399.2L1196.0,389.4L1205.1,377.3L1185.4,367.4L1169.5,365.9L1165.7,375.0L1165.7,384.1ZM1196.0,403.0L1203.5,400.0L1214.1,396.9L1221.7,389.4L1205.1,377.3L1196.0,389.4L1189.2,399.2L1192.9,407.5ZM1156.6,407.5L1162.7,416.6L1169.5,426.5L1174.8,421.2L1171.7,416.6L1180.8,406.8L1179.3,400.0L1176.3,395.4L1173.3,389.4L1165.7,384.1L1159.6,383.3L1152.1,387.9L1149.0,394.7L1152.8,398.5ZM1106.6,431.8L1112.7,418.1L1126.3,413.6L1121.8,406.8L1125.6,400.0L1122.5,394.7L1115.7,393.9L1106.6,401.5L1102.1,406.8L1092.2,422.7L1099.1,431.8ZM1122.5,440.9L1112.7,438.6L1106.6,431.8L1099.1,431.8L1092.2,422.7L1086.9,431.8L1080.9,440.9L1074.8,454.5L1074.9,455.0L1100.6,455.0L1122.6,457.8L1124.2,449.8L1124.0,446.9ZM1079.4,464.1L1075.0,455.4L1077.8,468.5L1086.9,466.4ZM1097.5,464.3L1114.0,465.0L1100.6,462.6L1096.0,464.8L1096.8,464.9ZM1118.4,466.0L1117.2,465.6L1117.9,466.5ZM1089.6,469.0L1086.9,466.4L1088.1,469.0ZM1197.5,427.2L1191.4,434.8L1200.5,440.9L1218.7,440.9L1220.2,434.8L1229.3,437.8L1233.8,440.9L1242.9,439.3L1236.9,425.7L1232.3,418.1L1218.7,415.1L1212.6,425.7L1206.6,430.3ZM1117.2,465.6L1119.5,466.4L1124.8,458.0L1100.6,455.0L1100.6,462.6ZM1134.9,337.3L1142.4,341.8L1151.3,340.3L1157.3,329.8L1158.8,314.9L1160.3,295.4L1145.3,298.4L1134.9,311.9L1128.9,320.8L1130.4,329.8ZM1222.4,474.4L1218.6,475.4L1218.6,476.4L1222.3,480.0L1223.6,479.5L1223.2,474.9ZM1241.5,438.9L1240.3,442.1L1241.8,443.9L1244.3,442.9L1245.3,440.3L1242.1,438.7ZM1230.0,446.3L1230.8,450.7L1227.1,451.5L1227.3,455.9L1230.9,456.2L1231.1,450.9L1232.7,450.8L1236.1,446.7L1231.3,445.5ZM1237.4,476.7L1238.7,474.5L1238.8,471.2L1236.2,469.8L1235.1,470.5L1233.7,474.2ZM1202.4,445.6L1207.9,443.8L1208.5,441.4L1204.5,436.7L1197.4,441.5L1197.3,442.0Z" fill="#43357c" stroke="#43357c" stroke-width="0.3"/>
<path d="M1180.4,412.7L1180.1,412.8L1180.8,406.8L1171.7,416.6L1174.8,421.2ZM1115.7,503.5L1122.5,509.5L1126.3,517.1L1133.9,514.8L1144.5,511.8L1149.0,511.8L1155.1,508.8L1164.2,512.5L1173.3,505.0L1168.7,494.4L1161.1,495.9L1157.4,502.7L1150.5,498.9L1140.7,493.6L1130.1,497.4L1129.3,485.3L1126.3,477.7L1122.5,491.3L1114.2,490.6L1108.1,496.6L1106.6,500.4ZM1120.3,545.9L1121.8,551.9L1130.9,555.7L1139.9,553.4L1139.9,542.8L1146.0,545.9L1161.1,541.3L1165.7,545.9L1176.3,545.9L1180.8,542.8L1177.8,533.7L1179.3,530.7L1180.8,529.7L1182.3,527.7L1185.4,518.6L1185.4,509.5L1173.3,505.0L1164.2,512.5L1155.1,508.8L1149.0,512.5L1149.0,521.6L1144.5,526.2L1136.9,524.7L1133.1,521.6L1132.4,515.6L1126.3,517.1L1124.8,518.6L1121.8,526.2L1115.7,532.2L1115.0,541.3ZM1223.8,463.3L1224.3,463.6L1229.0,462.9L1228.4,461.0L1225.5,457.9L1223.0,460.7ZM1236.6,456.7L1240.2,460.6L1240.8,459.1L1239.4,455.4L1237.4,454.9Z" fill="#423b7f" stroke="#423b7f" stroke-width="0.3"/>
<path d="M1152.1,436.3L1159.6,435.6L1164.2,439.3L1171.7,437.8L1172.2,443.7L1182.3,440.9L1173.3,440.9L1170.2,432.5L1159.6,432.5L1152.1,429.5ZM1241.4,515.6L1249.0,520.1L1258.0,518.6L1261.1,514.1L1255.0,506.5L1249.0,506.5L1245.9,501.2L1237.6,501.9L1241.4,508.0Z" fill="#41768c" stroke="#41768c" stroke-width="0.3"/>
<path d="M1138.4,428.7L1139.9,430.3L1144.5,419.7ZM1200.5,427.2L1192.9,418.1L1197.5,427.2L1206.6,430.3ZM1241.4,518.6L1245.9,518.3L1241.4,515.6L1233.8,509.5L1239.9,515.6Z" fill="#424081" stroke="#424081" stroke-width="0.3"/>
<path d="M1174.8,454.5L1173.5,460.0L1176.3,454.5L1172.5,448.4L1172.3,447.4L1170.2,453.0Z" fill="#4c9c89" stroke="#4c9c89" stroke-width="0.3"/>
<path d="M1155.2,456.0L1155.4,459.0L1156.3,459.0L1156.5,456.7Z" fill="#a4d65a" stroke="#a4d65a" stroke-width="0.3"/>
<path d="M1200.5,440.9L1191.4,434.8L1190.5,434.4L1192.2,439.3L1191.4,448.4ZM1122.5,509.5L1124.8,518.6L1126.3,517.1ZM1249.0,520.1L1247.4,519.2L1247.5,519.8Z" fill="#3f5488" stroke="#3f5488" stroke-width="0.3"/>
<path d="M1201.3,464.3L1202.0,460.5L1205.7,457.7L1206.6,456.5L1207.2,456.6L1208.1,456.0L1209.3,457.0L1211.1,457.3L1211.9,462.6L1211.1,456.0L1196.0,454.5L1192.4,456.0L1197.7,461.4L1199.0,461.3L1199.6,464.2L1200.5,465.6ZM1176.3,454.5L1177.3,455.0L1191.4,455.0L1192.4,456.0L1196.0,454.5L1191.4,448.4L1192.2,439.3L1190.5,434.4L1183.9,431.8L1182.3,440.9L1171.7,443.9L1172.5,448.4ZM1287.9,411.3L1279.3,421.2L1290.7,415.5L1297.8,408.4L1306.4,407.0L1307.8,399.9L1313.5,394.2L1307.8,392.7L1296.4,398.4L1276.5,402.7L1276.5,409.8Z" fill="#43828c" stroke="#43828c" stroke-width="0.3"/>
<path d="M1153.5,469.0L1152.8,469.0L1152.1,470.1Z" fill="#c8df4f" stroke="#c8df4f" stroke-width="0.3"/>
<path d="M1165.7,491.3L1161.1,495.9L1168.7,494.4L1170.2,495.1Z" fill="#44878c" stroke="#44878c" stroke-width="0.3"/>
<path d="M1185.4,477.7L1194.5,485.3L1202.0,480.7L1197.5,476.2L1191.4,477.7Z" fill="#406f8b" stroke="#406f8b" stroke-width="0.3"/>
<path d="M1205.1,474.7L1209.6,470.1L1205.1,473.2L1200.5,471.7Z" fill="#49958b" stroke="#49958b" stroke-width="0.3"/>
<path d="M1196.7,470.1L1191.4,469.4L1196.7,471.7L1200.5,471.7ZM1199.0,461.3L1197.7,461.4L1199.6,464.2ZM1196.7,470.1L1200.5,465.6L1197.5,461.1L1189.2,463.3L1191.4,469.4ZM1202.0,480.7L1208.1,486.8L1211.1,482.3L1205.1,474.7L1200.5,471.7L1196.7,471.7L1197.5,476.2Z" fill="#478e8c" stroke="#478e8c" stroke-width="0.3"/>
<path d="M1118.4,466.0L1117.9,466.5L1119.2,468.2L1120.3,466.4Z" fill="#45898c" stroke="#45898c" stroke-width="0.3"/>
<path d="M1121.8,471.7L1122.5,491.3L1126.3,477.7Z" fill="#3f638a" stroke="#3f638a" stroke-width="0.3"/>
<path d="M1162.7,472.4L1161.1,473.2L1162.7,480.7L1162.7,473.2L1170.2,473.9Z" fill="#69bc78" stroke="#69bc78" stroke-width="0.3"/>
<path d="M1221.7,514.1L1223.2,523.1L1226.3,529.2L1224.0,523.1Z" fill="#3f618a" stroke="#3f618a" stroke-width="0.3"/>
<path d="M1257.1,458.1L1258.9,460.9L1260.0,460.1L1255.2,454.4Z" fill="#3f6a8b" stroke="#3f6a8b" stroke-width="0.3"/>
<path d="M1344.9,464.9L1350.5,466.2L1349.2,464.2ZM1336.3,489.6L1324.9,483.9L1322.4,476.3L1321.7,477.4L1322.7,483.5L1330.9,489.6L1340.2,491.2ZM1366.5,481.5L1365.4,480.4L1350.5,495.3L1344.2,492.8L1349.2,497.8L1362.4,491.6ZM1182.7,323.8L1197.7,326.8L1200.7,302.9L1203.7,280.5L1185.7,279.0L1176.7,287.9L1179.7,305.9Z" fill="#421a65" stroke="#421a65" stroke-width="0.3"/>
<path d="M1239.9,539.8L1240.2,539.7L1239.4,535.6L1238.4,535.3L1241.5,546.5L1241.3,545.4ZM1227.0,548.6L1227.0,550.7L1229.8,553.6L1227.8,548.9ZM1234.2,553.6L1242.3,550.7L1242.0,549.0ZM1176.3,454.5L1173.5,460.0L1173.3,460.7L1173.4,460.8L1176.3,455.0L1177.3,455.0ZM1136.9,524.7L1144.5,526.2L1149.0,521.6L1149.0,512.5L1144.5,511.8L1132.4,515.6L1133.1,521.6ZM1214.1,554.2L1220.2,545.9L1227.8,548.9L1230.8,555.7L1242.2,548.9L1238.4,535.3L1226.3,529.2L1218.7,530.7L1209.6,537.5L1205.1,533.7L1196.7,542.8L1205.1,548.9ZM1185.4,477.7L1191.4,477.7L1197.5,476.2L1196.7,471.7L1191.4,469.4L1189.2,463.3L1197.5,461.1L1191.4,455.0L1176.3,455.0L1173.3,461.1L1178.6,470.9Z" fill="#3f5e89" stroke="#3f5e89" stroke-width="0.3"/>
<path d="M1144.5,448.4L1150.5,451.5L1152.1,436.3L1152.1,429.5L1144.5,428.7L1139.9,430.3L1135.4,440.9L1136.9,443.9ZM1194.5,527.7L1205.1,529.2L1209.6,537.5L1218.7,530.7L1226.3,529.2L1223.2,523.1L1221.7,514.1L1212.6,503.5L1206.6,503.5L1199.0,514.1L1191.4,515.6L1185.4,518.6L1185.4,526.2Z" fill="#417b8c" stroke="#417b8c" stroke-width="0.3"/>
<path d="M1154.1,455.0L1155.1,455.0L1155.2,456.0L1156.5,456.7L1156.6,455.0L1167.2,455.0L1170.2,453.0L1172.3,447.4L1171.7,443.9L1172.2,443.7L1171.7,437.8L1164.2,439.3L1159.6,435.6L1152.1,436.3L1150.5,451.5Z" fill="#5bb180" stroke="#5bb180" stroke-width="0.3"/>
<path d="M1115.9,465.4L1114.0,465.0L1097.5,464.3L1096.8,464.9L1116.1,465.6ZM1305.0,429.8L1316.4,435.5L1313.5,421.2L1306.4,407.0L1297.8,408.4L1290.7,415.5L1296.4,421.2Z" fill="#405287" stroke="#405287" stroke-width="0.3"/>
<path d="M1170.2,453.0L1167.2,455.0L1174.6,455.0L1174.8,454.5ZM1155.9,463.2L1156.3,459.0L1155.4,459.0Z" fill="#7ac76e" stroke="#7ac76e" stroke-width="0.3"/>
<path d="M1136.9,443.9L1135.4,440.9L1132.4,440.9L1129.3,453.0L1127.8,455.0L1127.8,455.0L1154.1,455.0L1150.5,451.5L1144.5,448.4ZM1155.9,463.2L1155.4,458.5L1155.8,464.1ZM1155.8,464.1L1152.8,469.0L1153.5,469.0L1155.8,467.1ZM1133.9,467.9L1120.3,466.4L1119.2,468.2L1119.5,468.6ZM1138.4,470.9L1146.0,472.4L1152.1,470.1L1155.8,464.1L1155.1,455.0L1127.8,455.0L1124.8,458.0L1119.5,466.4L1133.9,467.9Z" fill="#ebe550" stroke="#ebe550" stroke-width="0.3"/>
<path d="M1207.2,456.6L1209.3,457.0L1208.1,456.0ZM1201.3,464.3L1205.7,457.7L1202.0,460.5ZM1205.1,473.2L1209.6,470.1L1211.9,462.6L1211.1,457.3L1206.6,456.5L1200.5,465.6L1196.7,470.1L1200.5,471.7Z" fill="#98d35f" stroke="#98d35f" stroke-width="0.3"/>
<path d="M1103.6,518.6L1102.1,533.7L1106.6,540.6L1115.0,541.3L1115.7,532.2L1121.8,526.2L1124.8,518.6L1122.5,509.5L1115.7,503.5L1106.6,500.4L1095.3,498.2L1090.0,500.4L1100.6,511.0Z" fill="#40728c" stroke="#40728c" stroke-width="0.3"/>
<path d="M1180.8,542.8L1185.4,545.9L1191.4,551.9L1200.5,548.9L1196.7,542.8L1205.1,530.0L1194.5,529.2L1183.9,527.7L1179.3,530.7L1177.8,533.7Z" fill="#400e58" stroke="#400e58" stroke-width="0.3"/>
<path d="M1176.3,498.2L1182.3,489.8L1189.9,490.6L1194.5,485.3L1191.4,483.0L1179.3,486.8L1165.7,491.3L1170.2,495.1Z" fill="#48938b" stroke="#48938b" stroke-width="0.3"/>
<path d="M1161.1,473.2L1162.7,472.4L1170.2,473.9L1178.6,470.9L1173.3,461.1L1174.8,455.0L1156.6,455.0L1155.8,464.1L1155.8,467.1Z" fill="#82ca69" stroke="#82ca69" stroke-width="0.3"/>
<path d="M1129.3,485.3L1130.1,497.4L1140.7,493.6L1150.5,498.9L1157.4,502.7L1161.1,495.9L1165.7,491.3L1162.7,480.7L1161.1,473.2L1155.8,467.1L1152.1,470.1L1146.0,472.4L1138.4,470.9L1133.9,467.9L1119.5,468.6L1126.3,477.7Z" fill="#a8d758" stroke="#a8d758" stroke-width="0.3"/>
<path d="M1066.5,491.3L1071.0,492.9L1069.5,505.0L1065.7,511.0L1068.8,514.8L1067.3,521.6L1080.1,518.6L1083.9,511.0L1090.0,505.0L1090.0,500.4L1095.3,497.4L1096.0,483.0L1093.0,479.2L1090.0,473.2L1086.9,466.4L1074.1,469.4L1072.6,472.4L1065.7,473.2L1060.4,483.0L1064.2,486.0Z" fill="#fae855" stroke="#fae855" stroke-width="0.3"/>
<path d="M1260.8,461.1L1273.6,446.9L1279.3,432.6L1265.1,425.5L1253.7,432.6L1243.7,436.9L1253.7,452.6Z" fill="#3f668a" stroke="#3f668a" stroke-width="0.3"/>
<path d="M1243.0,471.7L1244.8,470.1L1244.7,468.0L1242.9,467.0L1240.9,467.4L1240.0,470.6ZM1234.4,434.4L1235.1,431.0L1233.4,430.1L1230.6,432.9L1233.0,434.8ZM1224.5,450.5L1222.1,450.2L1220.3,451.6L1219.8,454.4L1221.3,455.9L1223.2,455.7Z" fill="#432973" stroke="#432973" stroke-width="0.3"/>
<path d="M1244.9,476.0L1244.1,475.5L1238.5,478.0L1237.6,477.7L1234.8,481.3L1236.9,483.0L1241.1,483.0L1238.6,478.1L1244.3,479.8L1245.1,477.3ZM1237.9,447.7L1242.1,445.9L1241.8,443.9L1240.3,442.1L1236.7,442.9L1235.6,438.8L1231.6,438.6L1233.0,434.8L1230.6,432.9L1229.6,433.0L1228.7,435.2L1229.0,436.9L1231.3,438.7L1230.9,440.2L1232.5,442.7L1236.7,442.9L1236.3,446.6ZM1229.5,466.0L1226.9,468.7L1227.5,471.3L1230.2,471.5L1231.9,469.2L1231.4,467.6ZM1222.8,484.7L1220.5,482.7L1218.7,483.2L1218.5,487.0L1222.0,488.0L1223.3,487.0ZM1231.6,479.5L1228.4,483.6L1232.5,485.1L1234.6,481.3Z" fill="#43367c" stroke="#43367c" stroke-width="0.3"/>
<path d="M1244.1,475.5L1243.1,474.0L1238.7,474.5L1237.4,476.7L1237.6,477.7L1238.5,478.0ZM1235.6,463.0L1232.7,462.2L1229.4,463.2L1229.5,466.0L1231.4,467.6L1235.0,466.3ZM1228.6,491.6L1228.9,490.5L1228.4,488.7L1226.7,487.5L1225.4,487.8L1224.3,492.0ZM1203.9,495.3L1206.7,499.6L1214.7,498.3L1213.2,490.3L1205.7,490.9Z" fill="#43226d" stroke="#43226d" stroke-width="0.3"/>
<path d="M1244.3,479.8L1238.6,478.1L1241.1,483.0L1236.9,483.0L1238.1,486.6L1240.7,486.6L1241.9,486.1L1241.5,483.3L1244.4,480.4Z" fill="#432771" stroke="#432771" stroke-width="0.3"/>
<path d="M1222.3,471.3L1219.1,469.7L1217.3,474.1L1218.6,475.4L1222.4,474.4ZM1224.7,438.6L1223.1,434.7L1221.4,434.4L1220.8,434.7L1219.1,437.5L1221.4,439.5Z" fill="#43256f" stroke="#43256f" stroke-width="0.3"/>
<path d="M1218.6,475.4L1217.3,474.1L1216.1,474.0L1214.9,474.6L1214.2,479.8L1216.1,480.5L1218.6,476.4ZM1232.8,457.8L1232.7,462.2L1235.6,463.0L1236.7,462.6L1236.1,457.3ZM1228.4,483.6L1227.6,483.5L1226.7,487.5L1228.4,488.7L1232.6,485.8L1232.5,485.1Z" fill="#431e69" stroke="#431e69" stroke-width="0.3"/>
<path d="M1237.9,447.7L1238.7,450.3L1242.4,450.9L1244.4,449.0L1244.4,447.9L1242.1,445.9ZM1211.4,450.3L1211.5,451.2L1214.2,453.4L1214.9,453.3L1217.0,450.8L1216.6,446.8L1214.7,446.4L1212.9,446.8Z" fill="#433079" stroke="#433079" stroke-width="0.3"/>
<path d="M1238.7,450.3L1237.9,447.7L1236.3,446.6L1236.7,442.9L1232.5,442.7L1231.3,445.5L1236.1,446.7L1232.7,450.8L1236.3,453.4L1231.3,456.4L1232.8,457.8L1236.1,457.3L1236.6,456.7L1237.4,454.9L1236.7,453.5ZM1222.5,463.8L1223.8,463.3L1223.0,460.7L1219.7,459.6L1219.2,461.4ZM1239.3,491.6L1240.7,486.6L1238.1,486.6L1235.9,488.1L1237.8,491.7Z" fill="#43387e" stroke="#43387e" stroke-width="0.3"/>
<path d="M1244.7,468.0L1247.5,466.1L1248.0,464.5L1245.4,461.8L1242.8,462.7L1242.9,467.0ZM1221.9,442.6L1225.4,440.6L1225.0,438.9L1229.0,436.9L1228.7,435.2L1223.3,434.6L1225.4,431.7L1224.5,428.9L1221.0,430.5L1221.4,434.4L1223.1,434.7L1224.7,438.6L1221.4,439.5L1220.8,442.6ZM1236.2,468.9L1236.2,469.8L1238.8,471.2L1240.0,470.6L1240.9,467.4L1239.4,466.4Z" fill="#43347b" stroke="#43347b" stroke-width="0.3"/>
<path d="M1240.3,442.1L1241.5,438.9L1237.6,436.4L1239.7,431.9L1239.4,431.4L1237.8,430.5L1235.1,431.0L1234.4,434.4L1237.4,436.5L1235.6,438.8L1236.7,442.9Z" fill="#414282" stroke="#414282" stroke-width="0.3"/>
<path d="M1225.8,445.8L1227.1,444.8L1227.1,442.4L1225.4,440.6L1221.9,442.6L1224.8,445.5ZM1236.1,457.3L1236.7,462.6L1238.1,462.7L1240.0,461.8L1240.2,460.6L1236.6,456.7ZM1242.4,454.3L1239.4,455.4L1240.8,459.1L1243.1,458.0L1243.8,455.3ZM1227.1,483.0L1222.8,484.7L1223.3,487.0L1225.4,487.8L1226.7,487.5L1227.6,483.5ZM1228.9,490.5L1233.0,490.0L1234.1,487.8L1232.6,485.8L1228.4,488.7Z" fill="#43337a" stroke="#43337a" stroke-width="0.3"/>
<path d="M1227.1,451.5L1224.5,450.5L1225.8,445.8L1224.8,445.5L1219.7,446.3L1222.1,450.2L1224.5,450.5L1223.2,455.7L1225.5,457.3L1227.3,455.9ZM1228.7,435.2L1229.6,433.0L1228.6,431.8L1225.4,431.7L1223.3,434.6Z" fill="#432d76" stroke="#432d76" stroke-width="0.3"/>
<path d="M1217.2,466.3L1218.2,466.9L1222.5,463.8L1219.2,461.4L1217.0,465.2ZM1219.8,454.4L1220.3,451.6L1217.0,450.8L1214.9,453.3L1216.7,454.8ZM1257.8,478.2L1265.0,481.9L1269.4,480.7L1269.2,476.9L1266.9,475.1L1259.5,474.7Z" fill="#432e77" stroke="#432e77" stroke-width="0.3"/>
<path d="M1222.1,450.2L1219.7,446.3L1218.9,445.8L1216.6,446.8L1217.0,450.8L1220.3,451.6ZM1235.0,466.3L1231.4,467.6L1231.9,469.2L1235.1,470.5L1236.2,469.8L1236.2,468.9ZM1219.6,459.4L1221.3,455.9L1219.8,454.4L1216.7,454.8L1217.0,458.4Z" fill="#43216c" stroke="#43216c" stroke-width="0.3"/>
<path d="M1217.0,465.2L1219.2,461.4L1219.7,459.6L1223.0,460.7L1225.5,457.9L1225.5,457.3L1223.2,455.7L1221.3,455.9L1219.6,459.4L1217.0,458.4L1214.6,459.5L1214.7,462.8ZM1240.0,461.8L1242.8,462.7L1245.4,461.8L1245.7,460.7L1243.1,458.0L1240.8,459.1L1240.2,460.6Z" fill="#432a74" stroke="#432a74" stroke-width="0.3"/>
<path d="M1231.2,494.1L1233.4,492.6L1233.0,490.0L1228.9,490.5L1228.6,491.6L1229.4,493.6Z" fill="#431f6a" stroke="#431f6a" stroke-width="0.3"/>
<path d="M1230.2,471.5L1227.5,471.3L1227.1,471.9L1226.6,473.9L1231.3,475.7L1232.6,474.4Z" fill="#432872" stroke="#432872" stroke-width="0.3"/>
<path d="M1243.8,455.3L1243.1,458.0L1245.7,460.7L1247.4,458.6L1246.8,455.2Z" fill="#42397e" stroke="#42397e" stroke-width="0.3"/>
<path d="M1216.6,446.8L1218.9,445.8L1219.5,443.3L1216.2,439.2L1215.7,439.2L1214.7,442.5L1214.7,446.4Z" fill="#423c7f" stroke="#423c7f" stroke-width="0.3"/>
<path d="M1258.3,457.7L1260.2,465.8L1262.4,465.8L1264.7,460.8L1266.9,455.8L1263.3,454.1L1259.3,456.1Z" fill="#3f5d89" stroke="#3f5d89" stroke-width="0.3"/>
<path d="M1256.0,447.1L1255.5,451.8L1259.3,456.1L1263.3,454.1L1263.1,447.1L1258.1,445.1Z" fill="#3f5f89" stroke="#3f5f89" stroke-width="0.3"/>
<path d="M793.5,443.4L793.5,443.4L817.5,461.3M793.5,443.4L790.5,441.8L790.5,502.2L801.6,504.2L807.6,514.3L812.7,522.3M817.5,461.3L823.4,455.4L848.8,425.5L844.3,407.6L851.8,398.6L835.3,385.1L826.4,374.7L793.5,371.7L793.5,443.4M812.7,522.3L811.7,536.4L797.6,550.5L790.5,570.7L793.5,576.1M802.1,581.8L811.7,584.8M811.7,584.8L812.4,585.3M811.7,584.8L827.8,574.7L829.8,562.6L841.9,554.6L844.9,536.4M812.7,522.3L823.7,520.3L836.8,530.4M837.4,461.4L836.8,459.5L817.5,461.3L817.5,461.3M821.0,591.6L826.2,595.4M835.0,589.9L837.8,587.8L843.9,586.8L845.9,586.0M844.9,536.4L836.8,530.4M836.8,530.4L845.9,520.3L862.0,518.3L868.0,510.3M880.7,481.0L887.7,476.3L890.7,456.9L877.2,449.4L862.3,461.4L837.4,461.4M837.4,461.4L840.2,470.0L851.3,491.0M851.4,490.9L842.1,470.4M851.9,534.4L844.9,536.4M851.9,583.8L847.9,574.7L844.9,568.7L846.0,567.0M846.0,567.0L845.9,566.6L854.9,552.5L851.9,534.4M856.0,552.5L846.0,567.0M851.9,492.1L851.3,491.0M851.3,491.0L851.4,490.9M851.4,490.9L851.9,492.1M851.7,583.8L851.9,583.8M858.0,490.1L851.9,492.1M851.9,534.4L856.0,552.5M851.9,583.8L865.7,594.5M907.0,542.8L894.2,545.5L878.1,547.5L856.0,552.5M868.0,510.3L858.0,490.1M858.0,490.1L874.1,480.1M863.8,304.4L865.3,314.9L860.8,322.3L850.3,325.3L856.3,334.3L877.2,335.8L892.2,331.3L901.1,319.3L898.1,310.4L877.2,308.9L863.8,304.4M863.8,304.4L865.3,302.9L877.2,307.4L893.7,308.9L890.7,285.0L863.8,289.4L841.3,292.4L856.3,301.4L857.8,310.4L863.8,304.4M874.1,514.3L868.0,510.3M868.0,510.3L876.1,506.2M874.1,480.1L880.7,481.0M877.9,470.4L874.1,480.1M874.1,514.3L888.2,522.3L900.2,528.4M876.1,506.2L874.1,514.3M876.1,506.2L892.2,494.2L888.2,482.1M876.4,589.7L878.1,588.8L895.0,587.2M880.1,649.0L887.4,644.5L896.5,647.9M888.2,482.1L880.7,481.0M896.5,647.9L882.2,649.0M908.3,490.1L902.3,480.1L888.2,482.1M907.0,632.7L898.8,637.6L896.5,647.9M899.2,586.7L900.2,574.7L912.3,566.6L926.4,562.6M908.3,542.5L900.2,528.4M900.2,528.4L902.3,516.3M902.3,516.3L906.3,528.4L908.3,542.5M902.3,516.3L908.3,512.3M916.4,510.3L902.3,516.3M920.6,607.8L910.3,610.1L906.0,604.8M906.5,675.6L906.8,676.5L907.0,676.6M912.7,545.0L907.0,542.8M907.0,542.8L908.3,542.5M907.6,602.6L912.1,608.7L918.4,606.9L926.7,606.9M915.3,628.5L910.3,630.7L908.0,632.1M908.0,677.1L909.4,678.0M908.3,512.3L906.3,502.2L908.3,490.1M946.5,507.2L946.5,494.2L934.5,490.1L924.4,482.1L908.3,490.1M908.3,512.3L916.4,510.3M908.3,542.5L912.7,545.0M913.8,700.2L913.7,701.7L908.3,709.5M908.8,589.2L911.2,595.5M918.0,548.1L912.7,545.0M913.0,680.0L914.9,681.1M914.9,681.1L914.3,691.4M937.8,642.2L924.0,649.0L911.4,660.5L921.7,674.2L914.9,681.1M916.4,510.3L920.4,522.3L928.4,534.4M946.5,507.2L916.4,510.3M920.6,607.8L927.5,618.1L920.6,626.2L917.3,627.6M918.0,548.1L920.4,549.5L932.5,546.5L936.5,540.5L928.4,534.4M926.4,562.6L924.4,554.6L918.0,548.1M926.7,606.9L920.6,607.8M928.6,606.6L932.5,598.9L948.6,590.8L955.6,579.7L948.6,570.7L936.5,564.6L926.4,562.6M926.7,606.9L928.6,606.6M928.4,534.4L937.5,538.5M945.8,614.7L935.5,605.5L928.6,606.6M937.0,274.5L937.0,274.5L919.1,280.5L937.0,281.3M937.5,538.5L962.7,538.5L958.6,518.3L944.5,520.3M937.5,538.5L944.5,520.3M937.8,642.2L945.6,628.5M942.3,638.7L937.8,642.2M950.7,266.9L937.9,271.1M938.0,274.3L960.3,270.1M949.8,284.6L950.5,282.0L938.0,281.4M946.1,628.5L942.3,638.7M969.8,630.7L960.7,635.3L951.5,631.9L942.3,638.7M944.5,520.3L946.5,507.2M945.8,614.7L946.9,626.2M969.8,630.7L972.1,621.6L981.3,615.9L979.0,610.1L960.7,607.8L945.8,614.7M946.1,627.6L946.9,626.2M946.9,626.2L946.4,627.6M947.4,709.0L958.4,688.0L960.7,660.5L979.0,649.0L982.4,639.9L969.8,630.7M949.5,285.5L946.0,298.4L963.9,302.9L962.4,285.5M950.3,224.3L955.4,229.4L955.6,229.9M952.0,419.5L959.4,431.5M952.0,419.5L966.9,416.5L955.0,404.6L937.0,401.6L940.0,425.5L950.5,440.5L959.4,431.5M972.4,443.2L965.4,418.0L952.0,419.5M960.3,270.1L956.8,266.7M957.3,234.3L959.6,240.4M959.4,431.5L953.5,444.9L972.2,444.9M960.1,241.4L973.4,239.9L976.0,233.4M962.3,284.6L960.9,270.0L960.3,270.1M970.9,226.3L965.2,219.8M969.9,223.7L968.9,223.4L970.9,226.3M970.0,471.6L965.7,473.0L974.7,481.1M972.2,444.9L971.4,452.4L966.9,468.9L970.0,471.6M970.0,471.6L974.3,470.1M976.0,233.4L972.8,229.0L970.9,226.3M971.8,528.7L969.7,532.4L972.7,550.5L984.8,556.6L996.9,554.6L1004.9,536.4M974.9,504.6L967.7,508.3L967.7,530.4L971.8,528.7M971.8,528.7L972.6,527.5L973.6,525.7M972.2,444.9L972.3,444.2L972.4,443.2M996.8,439.0L986.4,443.4L972.9,439.0L972.4,443.2M973.6,525.7L974.7,522.3L982.8,512.3L980.8,508.7M986.8,512.3L976.7,520.3L973.6,525.7M1000.9,474.0L984.8,482.1L974.7,481.1M974.7,481.1L988.8,488.1M980.8,508.7L976.7,506.2L974.9,504.6M988.8,488.1L972.7,482.1L964.7,488.1L969.7,500.2L974.9,504.6M976.0,233.4L976.4,233.9L982.4,247.4L997.3,256.3L1009.3,268.3L1024.2,245.9L1015.3,235.4L997.3,229.4L977.1,225.2M980.8,508.7L986.8,512.3M1007.1,511.7L1006.9,512.3L996.9,508.3L986.8,512.3M1009.0,504.2L988.8,488.1M996.8,439.0L1007.3,441.9L1026.7,443.4M1010.3,465.9L1011.8,455.4L996.8,439.0M1026.7,443.4L1043.2,437.5L1041.7,419.5L993.8,425.5L996.8,439.0M996.9,556.6L1009.0,558.6L1033.1,550.5M1006.9,560.6L996.9,556.6M996.9,556.6L982.8,558.6L984.8,574.7L988.8,588.8L998.9,590.8L1004.9,602.9L1019.0,606.9M1004.9,536.4L996.9,556.6M1000.9,470.4L1000.9,470.9M1000.9,473.2L1000.9,470.9M1000.9,470.9L1010.3,465.9M1000.9,473.2L1000.9,474.0M1010.3,465.9L1000.9,473.2M1000.9,474.0L1015.0,470.0L1017.0,481.9M1004.9,536.4L1015.0,518.3L1010.7,514.0M1038.2,529.7L1031.1,524.4L1023.1,516.3L1015.0,526.4L1004.9,536.4M1006.9,560.6L1011.0,572.7L1023.1,584.8M1033.1,550.5L1006.9,560.6M1009.4,512.7L1009.0,512.3L1007.1,511.7M1007.1,511.7L1009.0,504.2M1009.0,504.2L1013.0,500.2M1010.7,514.0L1009.0,514.3L1009.4,512.7M1013.0,500.2L1009.4,512.7M1026.7,443.4L1014.8,455.4L1010.3,465.9M1010.7,514.0L1023.1,512.3L1029.1,520.3L1037.1,528.4L1047.2,518.3M1013.0,500.2L1009.0,482.1L1017.0,482.1M1017.0,481.9L1023.7,485.3L1029.7,476.3L1043.2,465.9L1047.7,449.4L1026.7,443.4M1017.0,482.1L1017.0,481.9M1039.2,496.2L1025.1,490.1L1017.0,482.1M1019.0,606.9L1025.1,621.0L1034.1,619.4M1021.0,588.8L1019.0,606.9M1039.2,590.8L1021.0,588.8M1021.0,588.8L1023.1,584.8M1023.1,584.8L1039.2,590.8M1028.2,277.3L1025.2,277.5L1027.6,284.6M1027.9,285.5L1032.7,299.9L1050.7,305.9L1048.6,285.5M1046.5,276.1L1040.7,259.3L1028.7,272.8L1028.2,277.3M1028.2,277.3L1043.6,276.3L1046.5,276.1M1032.0,666.8L1027.1,670.6L1034.6,682.6L1039.1,697.5L1041.8,696.9M1039.0,653.0L1027.1,633.2L1018.1,627.3L986.7,643.7L997.2,651.2L1012.2,652.7L1025.6,663.1L1032.0,666.8M1032.0,666.8L1038.6,661.7M1033.1,550.5L1037.1,542.5M1034.1,619.4L1022.6,624.3L1033.1,637.7L1039.0,653.0M1048.9,613.0L1047.2,617.0L1034.1,619.4M1047.2,550.5L1037.1,542.5M1037.1,542.5L1039.2,538.5L1039.2,533.8M1038.2,529.7L1039.2,530.4L1039.2,533.8M1057.3,528.4L1047.2,523.4L1038.2,529.7M1038.6,661.7L1040.3,656.5M1049.9,695.0L1064.5,691.6L1069.0,676.6L1063.0,667.6L1040.6,660.2L1038.6,661.7M1040.3,656.5L1039.7,654.8L1039.0,653.0M1047.2,518.3L1041.2,508.3L1039.2,496.2M1069.4,494.2L1067.8,492.6M1064.9,489.7L1059.3,484.1L1047.2,488.1L1039.2,496.2M1039.2,533.8L1043.2,540.5L1047.2,550.5M1039.2,590.8L1051.2,592.8M1055.0,595.1L1055.3,593.8L1039.2,590.8M1040.3,656.5L1040.6,657.2L1067.5,669.1L1063.0,643.7L1055.5,637.7L1054.0,610.8M1041.8,696.9L1036.1,699.0L1040.6,709.5L1048.1,717.0L1064.5,715.5L1060.0,697.5L1049.9,695.0M1041.8,696.9L1048.1,694.5L1049.9,695.0M1048.5,284.6L1047.7,276.0L1046.5,276.1M1047.2,518.3L1057.3,528.4M1051.2,592.8L1043.2,574.7L1046.2,566.6L1043.2,558.6L1047.2,550.5M1047.2,550.5L1069.4,548.5M1047.4,212.9L1045.2,219.0L1057.1,229.4M1055.0,595.1L1053.3,602.9L1048.9,613.0M1054.0,610.8L1048.9,613.0M1051.2,592.8L1055.3,590.8L1061.3,582.7M1054.0,610.8L1055.5,595.9L1055.0,595.1M1057.1,229.4L1061.7,230.7M1070.6,233.3L1078.1,235.4L1083.4,246.1M1057.1,229.4L1037.7,219.0L1016.7,229.4L1024.2,244.4L1033.2,254.8L1052.6,241.4L1054.6,236.2M1055.2,234.4L1057.1,229.4M1058.3,538.5L1057.3,528.4M1057.3,528.4L1067.2,522.4M1058.1,382.1L1052.2,389.6L1056.6,398.6L1074.6,395.6L1077.1,396.8M1067.1,374.7L1071.6,365.7L1059.6,355.2L1047.7,356.7L1035.7,362.7L1037.2,373.2L1044.7,380.6L1058.1,382.1M1058.1,382.1L1067.1,374.7M1069.4,548.5L1058.3,538.5M1077.0,543.3L1067.3,530.4L1059.3,528.4L1058.3,538.5M1061.3,582.7L1069.4,586.8M1061.3,582.7L1067.3,574.8M1084.2,370.1L1077.6,365.7L1067.1,374.7M1073.2,561.9L1069.4,564.6L1068.8,567.2M1069.7,496.8L1069.4,494.2M1068.5,492.8L1069.4,494.2M1069.4,548.5L1080.5,552.7M1080.0,553.1L1069.4,548.5M1069.4,586.8L1087.0,590.7M1069.4,586.8L1057.3,592.8L1063.3,602.9L1073.4,608.9L1087.5,602.9L1085.5,590.8L1069.4,586.8M1073.3,562.2L1073.2,561.9M1073.2,561.9L1077.0,559.1M1087.0,211.5L1076.4,196.9M1083.1,435.1L1076.1,437.5L1067.1,447.9L1052.2,455.4L1055.1,468.9L1065.7,472.4M1077.8,442.0L1083.1,435.1M1077.8,396.6L1086.6,386.3L1087.4,386.3M1077.8,403.3L1086.6,413.6L1091.1,419.7L1094.1,418.2M1080.8,548.3L1077.9,546.1M1077.9,554.7L1080.0,553.1M1077.9,363.9L1083.6,367.4M1080.5,552.7L1080.0,553.1M1080.5,552.7L1082.8,551.0M1080.7,519.1L1084.3,527.7L1088.9,533.7L1100.2,532.2M1080.8,548.3L1083.6,550.4M1082.8,551.0L1080.8,548.3M1081.0,147.4L1081.0,154.8M1081.3,158.9L1083.0,165.7M1083.6,550.4L1082.8,551.0M1085.4,432.7L1085.1,432.5L1083.1,435.1M1083.6,367.4L1084.2,370.1M1101.7,353.8L1083.6,367.4M1083.6,550.4L1088.4,546.8M1100.3,541.9L1104.0,540.6M1097.0,184.5L1116.9,183.1L1136.4,178.6L1140.8,169.6L1134.9,160.6L1116.9,168.1L1105.0,163.6L1099.0,139.7L1091.5,135.2L1083.6,138.6M1085.6,376.0L1084.2,370.1M1085.2,174.4L1085.5,175.6L1095.8,184.4M1085.6,376.0L1086.6,380.3L1091.9,385.6L1100.2,381.8M1087.4,386.3L1083.6,385.1L1085.6,376.0M1087.0,211.5L1087.0,232.4L1102.0,235.4L1108.0,223.4M1115.0,232.9L1099.0,236.9L1085.5,232.4L1087.0,211.5M1116.9,205.5L1112.4,196.5L1094.5,190.6L1087.0,196.5L1087.0,211.5M1101.7,386.2L1100.2,385.6L1087.4,386.3M1098.9,510.5L1091.9,506.5L1089.6,506.5M1087.9,587.9L1089.9,601.8L1098.9,607.8M1092.9,504.6L1092.7,504.3M1091.0,423.2L1086.6,425.7L1087.3,429.5M1093.5,505.5L1094.2,506.5L1096.9,508.5M1104.9,402.3L1105.5,400.7L1108.1,399.2M1098.9,607.8L1086.9,625.8L1101.9,633.2L1127.3,631.7L1128.8,625.8L1121.3,606.3L1113.8,601.8M1098.9,607.8L1113.8,601.8M1101.7,353.8L1099.0,350.4M1100.2,381.8L1101.7,386.2M1105.5,369.7L1100.2,381.8M1100.2,532.2L1104.4,540.6M1104.0,540.6L1100.2,532.2M1102.1,525.7L1100.2,532.2M1101.7,386.2L1112.3,390.9M1105.5,369.7L1110.1,363.6L1101.7,353.8M1104.4,540.6L1104.0,540.6M1104.4,540.6L1104.7,540.6M1148.7,372.7L1150.2,366.7L1138.1,365.9L1110.1,364.4L1105.5,369.7M1108.0,223.4L1115.0,232.9M1108.0,223.4L1116.9,205.5M1110.2,565.7L1113.5,560.8M1113.8,601.8L1108.7,574.6M1112.3,390.9L1117.1,393.3M1114.0,394.3L1112.3,390.9M1115.0,232.9L1116.9,232.4L1121.4,241.4M1116.4,360.8L1116.1,362.1L1116.1,363.6L1138.1,365.1L1160.8,365.1M1140.2,341.4L1122.4,343.3L1116.4,355.2L1116.4,360.8M1116.4,360.8L1118.4,353.0L1122.6,350.2M1137.2,227.0L1137.9,226.4L1136.4,219.0L1128.9,214.5L1122.9,202.5L1116.9,205.5M1119.3,258.3L1125.9,263.8L1140.8,260.8L1160.1,257.9M1117.3,255.2L1121.4,241.4M1118.9,701.3L1122.8,706.5L1130.1,709.4M1134.8,693.0L1130.3,685.6L1104.9,691.6L1094.4,697.5L1101.9,706.5L1118.9,701.3M1118.9,701.3L1118.3,700.5L1134.8,693.0M1119.9,551.9L1121.1,552.3M1123.9,483.5L1122.9,480.7M1121.4,241.4L1136.4,226.4L1137.2,227.0M1122.8,393.9L1124.4,393.9L1127.5,400.7L1130.8,400.0M1125.9,402.9L1125.7,401.4M1122.8,476.6L1124.9,479.6M1128.8,555.7L1122.9,555.7L1127.5,564.0L1123.1,573.6M1127.8,401.6L1127.5,401.5L1127.4,401.9M1125.4,574.5L1125.8,580.9L1137.8,592.9M1135.9,338.9L1137.5,341.4L1139.2,340.8M1146.0,297.5L1137.4,276.0L1119.4,276.0L1106.0,287.9L1109.0,302.9L1116.4,316.4L1128.3,320.3M1130.1,709.4L1128.8,709.5L1118.3,724.4L1134.8,730.4L1143.7,737.9L1146.7,727.4L1158.7,717.0L1152.9,708.3M1130.1,709.4L1152.7,708.0L1152.9,708.3M1136.8,397.4L1139.6,395.4L1139.6,386.3M1139.6,396.2L1139.6,396.2L1139.3,396.3M1152.9,708.3L1154.2,708.0L1146.7,697.5L1134.8,693.0M1139.9,304.1L1140.7,302.4L1141.8,301.6M1146.8,233.9L1137.2,227.0M1137.8,592.9L1146.7,600.3L1155.7,618.3L1160.2,603.3L1164.7,589.9M1137.8,592.9L1157.2,577.9M1139.6,386.3L1139.9,392.0M1139.6,386.3L1141.5,384.6M1147.6,376.4L1148.7,372.7M1140.0,554.3L1141.1,556.5L1151.7,561.0L1156.2,571.6M1153.2,434.8L1152.9,434.1M1157.0,295.0L1149.4,295.9L1147.9,297.1M1157.9,235.3L1146.8,233.9M1157.0,208.5L1140.8,208.5L1146.8,233.9M1149.5,370.4L1148.7,372.7M1156.5,334.3L1157.0,333.4M1153.1,435.4L1153.2,434.8M1153.2,434.8L1155.2,435.2M1154.3,573.1L1153.6,573.7M1157.2,577.9L1154.3,573.1M1154.3,573.1L1156.2,571.6M1156.2,571.6L1156.8,571.5M1165.0,570.1L1165.3,570.1M1163.8,436.3L1161.5,436.1M1157.6,435.0L1159.3,433.3L1159.3,433.3M1191.7,169.6L1167.8,175.6L1151.3,181.6L1149.8,193.5L1157.0,205.6M1161.5,574.5L1157.2,577.9M1157.9,235.3L1157.7,234.8M1160.1,257.9L1157.8,259.8M1160.0,240.2L1157.9,235.3M1178.7,207.9L1168.1,203.3L1158.0,207.0M1158.0,294.9L1158.0,294.9L1158.2,295.0M1161.0,297.1L1162.4,298.1L1162.1,298.9M1161.6,300.4L1160.5,303.8M1159.7,313.9L1159.7,314.1M1158.7,330.7L1158.0,332.0M1164.5,494.4L1164.6,494.4M1164.6,494.4L1164.6,494.4M1165.3,570.1L1164.9,570.3M1163.8,571.1L1160.0,573.6M1160.0,240.2L1162.0,245.0M1160.3,257.7L1161.8,247.4L1160.0,240.2M1160.1,257.9L1160.2,257.8L1160.3,257.7M1163.5,437.8L1163.8,436.3M1162.8,255.6L1160.3,257.7M1160.8,365.1L1162.3,365.1M1160.8,365.1L1160.8,359.0M1161.9,299.6L1162.1,298.9M1162.0,245.0L1162.8,255.6M1180.2,246.5L1174.2,248.0L1168.1,242.7L1162.0,245.0M1162.1,298.9L1164.2,299.3M1168.4,296.7L1174.2,291.9M1162.8,255.6L1166.6,260.1L1171.1,269.2L1180.2,278.3M1167.4,433.3L1163.8,436.3M1164.6,494.4L1164.6,494.4M1164.6,494.4L1165.9,492.6M1164.7,589.9L1173.6,603.3L1184.1,609.3L1191.6,597.4M1164.7,589.9L1175.1,574.9M1165.3,570.1L1168.4,558.0L1174.4,548.9M1191.2,481.7L1192.6,481.5M1170.4,437.3L1168.7,433.3M1195.6,369.7L1187.8,367.7M1170.8,436.5L1170.7,437.2M1177.6,411.5L1172.9,416.9M1175.1,574.9L1173.6,574.5M1174.2,291.9L1174.7,292.8M1180.2,278.3L1177.7,283.9M1177.0,285.4L1176.2,287.4M1176.0,287.9L1174.2,291.9M1174.4,548.9L1174.4,548.9M1179.1,544.9L1181.7,544.4M1185.8,558.0L1182.0,553.4L1174.4,548.9M1174.8,573.9L1176.0,573.5M1176.0,573.5L1175.1,574.9M1185.8,558.0L1182.0,571.6L1176.0,573.5M1186.5,515.6L1186.2,515.0M1186.2,513.3L1188.0,514.1L1191.8,509.0M1192.3,209.4L1178.7,207.9M1178.7,207.9L1180.2,216.2L1178.7,237.4L1180.2,246.5M1180.2,246.5L1190.8,245.7L1195.4,251.8M1180.2,278.3L1182.5,279.4M1197.4,278.3L1198.4,276.8M1183.1,334.0L1189.3,340.9L1193.6,349.6M1181.9,332.3L1185.5,326.5L1195.0,327.1M1192.6,481.5L1188.8,478.5M1192.0,552.6L1195.6,558.0M1182.1,573.6L1185.8,558.0M1196.1,458.5L1196.5,458.1M1196.5,458.1L1198.6,456.0L1204.5,456.7M1204.5,456.7L1205.4,456.8M1189.6,527.7L1189.5,527.7M1184.1,526.9L1184.6,526.3M1191.7,169.6L1182.7,193.5L1183.5,194.6M1185.0,195.4L1192.3,209.4M1186.5,515.6L1186.4,517.2M1189.6,514.8L1186.5,515.6M1190.0,515.4L1189.6,514.8M1190.9,513.9L1189.6,514.8M1191.6,597.4L1196.1,580.9L1200.6,571.8M1191.6,597.4L1206.5,591.4L1218.5,585.4L1229.0,592.9L1235.0,588.4L1229.9,574.5M1206.6,165.1L1191.7,169.6M1192.3,209.4L1198.4,217.7L1201.4,229.8L1206.0,233.6L1215.8,234.4M1195.3,477.6L1198.6,479.2L1200.0,481.0M1192.9,478.2L1193.7,483.7M1193.1,483.3L1192.6,481.5M1205.5,531.6L1203.1,534.4M1195.6,369.7L1195.3,366.2M1195.1,363.5L1194.1,350.4M1194.5,350.0L1214.5,350.8M1195.3,252.0L1193.1,260.1L1198.4,269.2L1198.4,276.8M1195.3,252.0L1195.4,251.8M1209.0,247.2L1195.3,252.0M1195.4,251.8L1209.0,247.2M1195.6,369.7L1202.4,372.7M1202.5,375.1L1195.6,369.7M1200.8,565.9L1197.1,561.0L1195.6,558.0M1195.6,558.0L1197.1,573.6M1195.6,558.0L1200.2,551.9M1199.8,546.2L1204.7,549.6M1200.2,551.9L1199.4,550.1M1198.4,327.1L1207.5,325.0L1222.6,322.7M1198.4,276.8L1199.9,278.1M1204.7,549.6L1200.2,551.9M1200.3,573.6L1200.6,571.8M1200.6,571.8L1201.2,569.4L1201.5,567.7M1200.8,565.9L1201.7,567.1M1201.5,567.7L1200.8,565.9M1201.7,567.1L1201.5,567.7M1201.7,567.1L1210.8,567.1L1213.8,568.6M1202.4,372.7L1215.3,382.6L1222.0,387.7M1214.5,350.8L1202.4,372.7M1204.4,281.3L1209.0,281.3L1207.5,275.3L1212.8,273.9M1204.7,549.6L1204.9,549.7M1220.1,547.4L1223.8,548.2M1216.3,384.4L1215.3,383.3L1212.5,381.7M1206.6,165.1L1224.6,171.1L1217.1,181.6L1221.6,190.6L1236.5,196.5M1212.6,141.2L1200.7,141.2L1197.7,148.7L1206.6,165.1M1209.0,247.2L1216.6,249.5L1219.8,245.6M1212.6,99.3L1224.6,106.8L1233.6,105.3M1212.6,99.3L1203.6,103.8L1202.2,139.7L1212.6,141.2M1217.1,78.4L1212.6,99.3M1212.6,141.2L1224.6,145.7L1232.1,153.2M1213.5,270.5L1213.5,266.9L1221.1,266.9L1222.2,269.1M1235.1,267.1L1239.3,265.4M1213.8,568.6L1232.0,567.1M1232.0,567.1L1228.9,567.8L1213.8,568.6M1214.5,350.8L1218.5,352.3M1219.8,245.6L1219.6,245.7L1216.6,240.4L1215.8,234.4M1215.8,234.4L1216.0,231.4M1216.3,228.7L1216.6,225.3L1219.6,223.8L1220.3,217.0L1226.2,219.6M1221.6,53.0L1170.8,53.0L1164.8,75.4L1160.3,91.9L1167.8,106.8L1176.7,120.3L1187.2,129.2L1200.7,117.3L1202.2,103.8L1212.6,97.8L1217.1,78.4M1217.1,78.4L1224.6,70.9L1221.6,53.0M1218.5,352.3L1224.7,354.2M1224.4,354.5L1218.5,352.3M1219.8,245.6L1220.3,245.0L1220.9,245.1M1228.7,246.5L1220.9,245.1M1220.9,245.1L1222.6,244.2L1228.7,246.5M1233.6,105.3L1242.5,106.8L1253.0,109.8L1248.5,94.9L1251.5,79.9L1254.5,65.0L1250.0,53.0L1221.6,53.0M1223.6,388.3L1238.0,392.4L1244.1,395.4M1222.7,387.7L1228.9,386.3L1230.4,380.3L1226.7,366.7L1224.4,354.5M1222.6,322.7L1228.7,322.7M1230.2,340.1L1228.7,330.3L1222.6,322.7M1223.7,349.4L1224.9,352.2L1226.3,352.6M1225.1,353.8L1222.6,350.0L1223.7,349.4M1223.7,349.4L1223.4,348.5L1227.9,346.2L1228.7,346.9M1224.7,354.2L1224.4,354.5M1224.7,354.2L1225.1,353.8M1226.3,352.6L1225.1,353.8M1226.0,610.8L1242.4,622.8M1226.0,610.8L1218.5,613.8L1221.5,628.8L1232.0,637.7L1246.9,633.2L1242.4,622.8M1242.4,622.8L1255.9,615.3L1258.9,606.3L1251.4,595.9L1226.0,610.8M1226.3,352.6L1228.6,350.3M1236.2,247.2L1228.7,246.5M1228.7,246.5L1231.6,245.9M1228.7,300.4L1228.7,313.6M1228.7,314.5L1228.7,322.7M1228.7,322.7L1230.2,340.1M1231.3,349.6L1230.2,348.5L1228.7,346.9M1228.7,346.9L1230.2,340.1M1234.7,339.4L1228.7,346.9M1229.2,299.6L1230.2,293.4L1229.6,285.8M1230.2,340.1L1234.7,339.4M1231.0,559.6L1230.5,556.5M1249.1,294.9L1242.3,293.4L1231.7,293.4L1230.5,299.6M1230.5,195.3L1233.2,198.0L1237.5,199.1M1232.0,567.1L1231.1,560.5M1233.4,573.6L1232.0,567.1M1253.0,162.1L1251.5,154.7L1232.1,153.2M1232.1,153.2L1233.5,163.5M1233.5,163.5L1232.1,163.6L1232.1,153.2M1232.1,153.2L1251.5,151.7L1247.0,139.7L1241.0,129.2L1245.5,117.3M1233.1,299.6L1236.2,298.0L1235.8,299.6M1253.0,162.1L1233.6,163.6L1233.5,163.5M1245.5,117.3L1242.5,108.3L1233.6,105.3M1245.1,220.8L1242.3,214.7L1236.2,213.5M1235.5,212.8L1240.8,210.1L1239.3,199.5M1234.7,339.4L1240.0,349.6M1236.2,247.2L1239.3,252.5L1237.8,255.6L1244.6,261.6M1242.5,241.8L1236.2,247.2M1237.5,199.1L1236.5,196.5M1236.5,196.5L1251.5,187.6M1237.5,199.1L1239.3,199.5M1239.3,199.5L1249.5,195.2M1243.8,266.2L1239.3,265.4M1239.3,265.4L1244.6,261.6M1254.7,559.5L1248.6,554.9L1243.4,549.7M1243.8,266.2L1246.8,275.3L1246.6,275.8M1244.6,261.6L1243.8,266.2M1244.1,395.4L1247.8,399.2M1244.1,395.4L1251.6,388.6L1248.6,380.3L1249.4,368.2L1244.8,360.6M1244.8,360.6L1244.1,350.4M1244.3,350.4L1247.1,356.1M1247.1,356.1L1244.8,360.6M1245.5,117.3L1242.5,130.7L1251.5,139.7L1253.0,160.6L1256.7,165.9M1262.2,172.1L1270.9,177.1L1279.9,168.1L1278.4,148.7L1275.4,129.2L1279.9,120.3L1276.9,109.8L1254.5,109.8L1245.5,117.3M1245.6,277.8L1246.6,275.8M1246.6,275.8L1246.8,276.8L1259.0,287.4M1249.1,294.9L1249.9,289.6L1243.8,288.9L1241.5,285.9L1246.8,285.9L1246.8,285.8M1257.7,226.2L1262.0,226.8M1263.5,234.4L1262.0,227.6L1257.7,226.7M1263.8,366.7L1259.2,362.1L1247.1,356.1M1254.4,291.9L1249.1,294.9M1250.5,195.4L1255.9,199.5L1263.5,203.3L1272.6,207.9L1280.2,205.6M1251.5,187.6L1263.5,178.6L1262.2,172.1M1262.7,180.6L1251.5,187.6M1262.7,180.6L1263.5,180.1L1253.0,189.1L1250.0,193.5L1251.9,194.6M1256.7,165.9L1253.0,162.1M1263.5,234.4L1254.6,231.4M1254.4,291.9L1255.8,299.6M1259.0,287.4L1254.4,291.9M1254.7,559.6L1254.7,559.5M1260.7,555.7L1254.7,559.5M1256.1,573.6L1254.8,560.5M1255.9,574.5L1255.9,576.4L1260.4,589.9L1276.8,595.9L1287.3,604.8L1285.8,583.9M1256.7,165.9L1262.0,171.1L1262.2,172.1M1268.0,281.3L1263.5,286.6L1259.0,287.4M1269.6,228.3L1262.0,226.8M1262.0,226.8L1263.5,234.4M1290.7,194.6L1281.4,178.6L1265.0,178.6L1262.7,180.6M1263.8,366.7L1264.4,367.2M1264.9,365.5L1263.8,366.7M1264.4,367.2L1270.3,371.2L1269.7,372.0M1269.7,372.0L1264.4,367.2M1264.9,365.5L1271.3,359.1L1282.2,361.3M1282.2,361.3L1281.7,362.1L1271.1,360.6L1264.9,365.5M1278.1,557.8L1266.8,551.9L1265.8,552.5M1269.8,516.7L1272.8,515.6M1274.8,517.3L1269.4,517.5M1268.0,281.3L1273.3,282.1M1271.1,248.0L1270.3,260.1L1265.0,262.4L1270.3,270.7L1268.0,281.3M1269.6,228.3L1272.6,225.3M1276.1,226.6L1269.6,228.3M1269.7,372.0L1270.6,372.7M1275.8,395.4L1268.3,384.8L1270.6,372.7M1270.6,372.7L1292.5,371.2M1271.1,248.0L1274.1,246.5M1280.9,245.7L1271.1,248.0M1272.6,225.3L1276.1,226.6M1280.2,205.6L1274.1,216.2L1272.6,225.3M1272.8,515.6L1274.1,515.9M1272.8,515.6L1273.4,514.5M1275.6,291.9L1273.3,282.1M1273.3,282.1L1278.6,279.0M1278.6,229.8L1274.1,238.9L1274.1,246.5M1274.1,246.5L1280.9,245.7M1285.8,583.9L1275.3,574.9M1275.3,574.9L1275.6,574.5M1275.6,574.5L1275.3,574.9M1275.6,291.9L1275.6,299.6M1278.6,279.0L1274.1,282.8L1275.6,291.9M1302.1,503.1L1299.1,500.7M1276.0,573.6L1280.8,560.6M1276.1,226.6L1283.9,224.5L1281.9,226.6M1278.6,229.8L1281.9,226.6M1286.2,225.3L1278.6,229.8M1278.6,279.0L1286.2,282.8L1293.8,279.8L1299.8,281.3M1280.2,205.6L1287.7,207.9M1280.9,245.7L1283.2,251.0M1281.9,226.6L1286.2,225.3M1289.3,366.4L1286.5,362.1L1282.2,361.3M1283.2,251.0L1292.3,252.5L1293.8,260.1M1293.8,260.1L1292.3,253.3L1283.2,251.0M1285.8,583.9L1307.8,586.8M1286.2,225.3L1293.8,209.4M1299.8,222.3L1293.8,210.1L1286.2,225.3M1287.7,207.9L1293.8,208.6L1300.8,201.6M1293.8,209.4L1287.7,207.9M1289.3,366.4L1291.5,369.7M1291.5,369.7L1290.8,371.2L1289.3,366.4M1298.2,470.6L1294.6,471.1M1292.5,371.2L1291.5,369.7M1292.5,371.2L1302.1,374.1M1297.9,369.6L1292.5,371.2M1293.8,209.4L1299.8,222.3M1301.3,201.9L1293.8,209.4M1293.8,260.1L1296.1,254.8L1303.6,252.5M1303.6,252.5L1296.8,254.8L1293.8,260.1M1297.9,369.6L1302.1,374.1M1302.1,368.3L1297.9,369.6M1299.2,649.7L1303.7,663.1L1293.3,676.6L1287.3,687.1L1288.8,694.5L1311.2,706.5L1320.2,693.0M1299.2,649.7L1296.3,640.7L1282.8,637.7L1266.4,640.7L1269.3,658.7L1279.8,664.6L1275.3,676.6L1285.8,687.1L1299.2,664.6L1299.2,649.7M1329.2,654.2L1314.2,643.7L1296.3,634.7L1299.2,649.7M1299.8,222.3L1304.4,235.9M1299.8,281.3L1304.4,282.8L1307.4,288.9L1306.7,299.5L1306.7,299.6M1299.8,281.3L1310.4,276.8L1317.5,275.4M1302.1,374.1L1302.1,374.1M1302.8,197.1L1303.5,195.4M1303.0,374.9L1315.0,371.2L1318.0,366.6L1328.6,365.1L1333.2,372.7M1303.0,387.2L1315.0,389.3M1303.0,502.8L1307.4,508.1M1303.6,252.5L1304.4,235.9M1305.1,242.5L1303.6,252.5M1304.4,235.9L1304.6,235.5M1315.1,316.3L1307.4,316.7L1307.6,314.5M1307.7,313.6L1308.9,300.4M1308.1,541.1L1309.0,538.5L1313.0,530.3L1314.8,528.6M1311.8,205.1L1308.6,200.9M1309.4,510.0L1322.2,510.0M1309.0,222.3L1308.9,222.3L1314.8,220.1M1311.8,225.8L1311.3,225.1M1313.3,577.8L1313.9,576.7M1325.6,392.4L1314.3,393.8M1318.9,250.1L1315.7,248.0L1313.6,244.8M1313.8,329.1L1313.5,328.0L1319.4,319.4M1323.6,336.4L1316.5,337.1L1314.3,330.6M1315.0,389.3L1325.6,392.4M1315.0,389.3L1319.5,381.8L1325.6,378.7L1333.2,372.7M1318.0,525.4L1319.1,524.2L1324.2,523.2M1318.0,272.9L1318.0,267.7L1319.2,267.0M1320.2,693.0L1314.2,682.6L1317.2,666.1L1329.2,654.2M1320.2,693.0L1329.2,690.1L1337.6,684.0M1321.0,315.9L1321.8,315.9L1322.6,316.1M1321.3,481.0L1321.4,480.5M1322.2,510.0L1327.3,516.1L1324.2,523.2M1322.2,510.0L1327.3,499.8L1327.3,494.7M1322.8,290.6L1321.8,287.4L1323.6,282.6M1327.3,494.7L1331.4,490.6L1324.2,490.6L1323.4,488.0M1324.2,523.2L1325.1,523.4M1328.6,393.9L1325.6,392.4M1325.6,392.4L1327.1,389.3M1327.1,389.3L1339.2,396.9L1341.0,399.6M1327.1,389.3L1328.6,393.9M1347.8,497.5L1327.3,494.7M1328.4,147.9L1323.3,142.7L1312.8,148.7L1314.3,154.7L1303.8,162.1L1300.8,169.6L1303.8,181.6L1320.3,189.1L1321.8,181.6L1328.0,178.8M1328.6,393.9L1332.2,399.6M1337.2,659.5L1329.2,654.2M1334.2,406.7L1339.2,418.6M1333.2,372.7L1343.8,378.7M1347.9,463.6L1341.7,461.6M1337.4,173.9L1342.0,170.2M1341.0,667.0L1338.9,662.0M1340.9,425.8L1339.5,419.5M1339.6,419.5L1342.6,428.5M1340.7,360.8L1340.2,359.1M1340.8,677.9L1341.5,674.9M1346.7,418.6L1347.7,416.3L1341.7,400.4M1342.6,428.5L1343.0,432.4M1342.6,428.5L1346.3,419.5M1344.6,437.5L1351.7,428.5L1361.9,432.6M1352.2,399.6L1346.8,390.9L1343.8,378.7M1343.8,378.7L1344.9,377.2M1345.8,533.4L1346.9,533.4M1347.9,382.1L1346.8,382.5L1346.5,379.7M1350.3,464.5L1353.4,466.0M1354.0,466.3L1355.8,467.2M1355.8,467.2L1357.3,469.6M1355.8,467.2L1359.9,450.9M1359.9,450.9L1361.9,432.6M1370.1,434.6L1359.9,450.9M1363.1,475.4L1366.0,475.4L1378.2,473.3M1361.9,432.6L1370.1,434.6M1363.2,492.0L1370.1,501.8L1373.9,505.7M1378.2,473.3L1367.3,481.3M1377.8,399.6L1377.8,392.4L1372.5,389.3L1368.4,375.0M1370.1,434.6L1378.2,430.5M1377.2,538.7L1377.2,522.2L1376.7,521.8M1377.4,504.3L1378.2,503.9L1378.2,473.3M1378.2,418.8L1378.2,400.4M1378.2,430.5L1378.2,419.2M1378.2,473.3L1378.2,430.5M854.8,394.1L871.2,385.1L875.7,371.7L866.7,368.7L856.3,377.7L836.8,382.1L847.3,392.6L854.8,394.1M898.1,446.4L913.1,437.5L919.1,425.5L907.1,410.6L886.2,416.5L887.7,436.0L898.1,446.4M907.1,395.6L922.1,391.1L923.6,359.7L916.1,350.7L899.6,355.2L899.6,385.1L907.1,395.6M949.0,365.7L960.9,377.7L978.9,380.6L981.9,373.2L966.9,365.7L978.9,362.7L975.9,350.7L960.9,338.8L937.0,341.8L937.0,359.7L949.0,365.7M1010.3,410.6L1020.8,415.0L1028.2,406.1L1023.7,398.6L1025.2,389.6L1014.8,383.6L1002.8,386.6L1005.8,398.6L1010.3,410.6M1042.1,737.9L1052.5,733.4L1051.0,718.5L1039.1,717.0L1021.1,725.9L1003.2,734.9L1021.1,734.9L1042.1,737.9M1070.1,338.8L1077.6,322.3L1058.1,311.9L1044.7,334.3L1058.1,349.2L1070.1,338.8M1071.6,410.6L1074.6,403.1L1065.6,398.6L1055.1,403.1L1056.6,412.0L1071.6,410.6M1106.4,746.9L1121.3,733.4L1112.3,718.5L1095.9,724.4L1097.4,736.4L1106.4,746.9M1146.7,670.6L1160.2,678.1L1176.6,670.6L1178.1,640.7L1164.7,637.7L1157.2,622.8L1137.8,634.7L1125.8,649.7L1137.8,663.1L1146.7,670.6M1161.7,722.9L1172.2,717.0L1176.6,694.5L1155.7,676.6L1145.2,687.1L1152.7,703.5L1161.7,722.9M1202.1,666.1L1209.5,672.1L1212.5,666.1L1224.5,667.6L1223.0,663.1L1209.5,655.7L1202.1,642.2L1194.6,640.7L1196.1,652.7L1202.1,666.1M1218.5,758.8L1264.9,758.8L1264.9,742.4L1248.4,734.9L1224.5,734.9L1221.5,742.4L1218.5,758.8M1299.2,758.8L1299.2,730.4L1266.4,742.4L1266.4,758.8L1299.2,758.8M1373.9,388.4L1374.4,388.0L1375.2,387.1M1379.0,539.1L1378.9,539.1M1378.9,539.1L1378.7,537.6M1378.8,539.3L1378.9,539.1M1280.8,611.5L1285.2,614.6L1288.6,618.9L1292.8,622.2L1293.5,622.7M1280.8,611.5L1276.1,616.9L1270.6,621.5M1270.6,621.5L1271.2,626.8L1272.4,632.0L1274.5,637.0L1274.7,637.7M1299.6,587.3L1297.6,590.7M1297.6,590.7L1302.2,594.0L1305.6,598.7L1309.8,602.5L1309.9,602.6M1280.8,611.5L1281.4,604.8L1281.6,602.0M1288.1,595.7L1292.3,593.1L1297.6,590.7M1266.6,740.7L1269.6,735.3M1232.3,721.6L1231.5,727.2L1233.4,732.7L1233.3,733.4M1232.3,721.6L1238.3,720.6L1243.7,718.1L1249.4,716.2L1255.2,714.7M1269.6,735.3L1266.8,731.2L1264.3,726.8L1260.8,723.1L1257.5,719.2L1255.2,714.7M1008.1,449.2L1009.8,448.1L1013.2,444.1L1013.4,443.9M981.9,440.4L981.8,439.6L981.1,434.3L979.8,429.1L980.0,423.6M983.2,421.3L980.0,423.6M983.2,421.3L988.5,423.3L992.5,424.9M1012.4,186.1L1011.4,191.3M985.8,187.7L985.2,190.3L984.8,193.5M985.1,195.4L990.1,195.4L995.4,194.5L1000.6,192.4L1006.1,192.3L1011.4,191.3M863.4,312.8L861.9,312.2M894.6,304.0L894.6,304.0M861.9,312.2L860.6,309.7M894.6,304.0L896.7,297.1L899.6,290.4M899.6,290.4L895.9,285.2L893.5,282.3M829.6,291.0L829.8,291.1L833.7,295.7M849.1,298.8L844.9,298.5L839.3,297.0L833.7,295.7M1218.5,708.8L1209.8,708.8M1218.5,708.8L1222.4,705.4L1224.8,700.6L1228.5,697.0L1231.8,693.0M1209.8,708.8L1207.2,704.3L1205.9,699.2L1203.2,694.7L1200.4,690.2L1200.1,684.7L1197.9,680.0L1195.0,675.6M1212.4,669.6L1216.8,671.8L1220.7,676.0L1225.3,678.9L1230.5,681.0M1202.5,668.4L1201.1,668.9M1195.0,675.6L1201.1,668.9M1231.8,693.0L1230.1,687.1L1230.5,681.0M1218.5,708.8L1223.5,712.6L1227.7,717.3L1232.3,721.6M1256.7,707.6L1255.2,714.7M1256.7,707.6L1254.1,702.1L1251.5,696.5M1231.8,693.0L1236.8,693.2L1241.6,694.9L1246.7,695.0L1251.5,696.5M1302.4,759.5L1302.9,758.4L1306.4,753.8L1309.9,749.3M1309.9,749.3L1313.9,752.7L1318.5,755.3L1322.2,756.6M1070.5,619.5L1065.9,615.2L1061.6,610.6L1058.2,605.4L1056.3,603.2M1070.5,619.5L1067.0,623.5L1064.5,628.2L1061.9,632.9L1058.0,636.7L1057.6,637.5M1090.9,650.0L1091.6,644.6L1089.8,639.3L1089.9,634.0L1090.6,629.3M1090.9,650.0L1086.4,652.3L1081.5,653.8L1076.9,656.0L1072.2,658.1M1087.8,621.8L1084.7,619.8M1084.7,619.8L1077.6,618.8L1070.5,619.5M1066.2,653.1L1068.5,654.2L1072.2,658.1M1090.9,650.0L1098.5,655.0M1098.5,655.0L1104.6,653.3L1110.5,650.7L1116.8,650.0M1116.8,650.0L1117.2,644.9L1119.0,640.1L1119.6,635.1L1119.8,633.7M1067.4,671.5L1070.9,669.0M1072.2,658.1L1070.8,663.5L1070.9,669.0M979.4,688.6L983.0,692.3L987.3,695.3L991.1,698.8M979.4,688.6L974.2,688.5L969.0,688.3L963.9,689.0L959.7,688.7M991.1,698.8L988.3,703.6L986.4,708.8L983.1,713.3L981.5,717.8M977.1,723.8L975.2,727.7M970.8,728.0L975.2,727.7M977.7,652.5L976.5,652.4M977.7,652.5L978.8,657.6L978.3,662.8L979.0,667.9L977.7,673.1L978.0,678.3L979.0,683.4L979.4,688.6M975.2,727.7L979.3,732.3L983.2,737.1L986.0,742.5M986.0,742.5L982.6,746.5L981.1,751.7L978.3,756.1L974.8,759.5M1317.7,189.5L1317.8,189.6L1318.1,189.8M1279.9,148.7L1285.7,145.7L1292.3,142.3M1292.3,115.3L1287.1,113.7L1282.6,110.6L1277.7,108.4L1273.0,105.6M1292.3,115.3L1293.4,120.8L1295.0,126.1L1297.2,131.3M1292.3,142.3L1294.9,136.8L1297.2,131.3M1266.4,108.3L1267.9,107.8L1273.0,105.6M1302.3,181.8L1297.6,183.5M1297.6,183.5L1293.7,180.0L1289.5,177.2L1284.4,175.6L1280.2,172.8L1278.6,171.6M1307.6,157.6L1305.0,153.7L1300.2,150.4L1296.9,145.7L1292.3,142.3M1309.4,97.7L1308.4,99.0L1304.7,103.3L1300.0,106.8L1295.5,110.4L1292.3,115.3M1278.3,71.3L1284.3,70.9L1290.3,70.5L1293.6,70.7M1278.3,71.3L1277.6,77.0L1276.8,82.7L1275.5,88.4L1275.5,94.3L1274.8,100.0L1273.0,105.6M1323.0,129.6L1319.3,129.4L1313.8,129.9L1308.2,130.2L1302.8,131.4L1297.2,131.3M1277.5,70.7L1276.7,67.6M1277.5,70.7L1272.2,72.4L1266.5,72.4L1261.0,73.4L1255.8,75.9L1253.8,75.9M1278.3,71.3L1277.5,70.7M1248.2,113.1L1245.4,112.1M1287.4,729.3L1287.7,723.2L1287.9,717.2L1290.2,711.3L1289.9,705.2M1287.4,729.3L1291.8,731.5M1300.7,736.6L1303.7,738.1L1308.8,741.7M1289.9,705.2L1295.9,704.1L1301.1,702.8M1308.8,741.7L1312.7,737.7L1314.7,735.9M1315.3,703.1L1315.8,703.8M1284.3,698.4L1278.6,699.6L1273.5,702.8L1267.9,704.5L1262.3,705.9L1256.7,707.6M1284.3,698.4L1289.9,705.2M1269.6,735.3L1275.8,733.9L1281.8,732.2L1287.4,729.3M1309.9,749.3L1308.8,741.7M1283.3,691.0L1285.8,688.6M1283.3,691.0L1284.3,698.4M1335.1,491.8L1338.2,494.7M1145.9,623.4L1143.6,618.0L1140.0,613.2L1137.6,607.9L1134.6,602.8L1132.7,597.2M1145.9,623.4L1143.3,627.6M1143.3,627.6L1137.5,627.4L1131.9,629.4L1129.4,629.5M1118.5,602.9L1121.0,601.7L1126.9,599.7L1132.7,597.2M963.3,487.5L960.8,485.0L958.2,480.7M971.9,504.1L971.7,504.5M966.2,515.0L966.1,515.1L965.2,520.3L962.5,524.8M962.5,524.8L961.5,525.2M958.2,480.7L953.3,482.2L949.0,484.8L945.1,488.1L940.7,490.6M952.0,445.0L950.1,449.6L947.0,454.4M937.6,417.9L933.8,419.8L928.3,421.3L923.0,423.1L920.4,424.8M919.2,428.6L920.6,431.7L922.5,437.6L923.3,443.7L925.5,449.4M947.0,454.4L941.6,453.3L936.2,452.4L930.8,451.1L925.5,449.4M966.3,470.3L965.2,471.0L959.9,472.7M959.9,472.7L956.0,468.5L953.0,463.8L950.1,459.0L947.0,454.4M980.0,423.6L973.9,424.7L968.6,423.7M959.9,472.7L958.2,480.7M910.4,479.9L914.7,484.1L915.5,484.8M910.4,479.9L910.8,474.2L912.1,468.6L912.2,462.9M912.2,462.9L916.4,458.1L921.1,453.9L925.5,449.4M962.5,524.8L966.2,527.3M949.3,540.0L948.2,541.3M975.7,553.7L975.0,557.6M975.0,557.6L969.8,559.1L965.5,562.5L960.3,564.0M948.2,541.3L951.0,545.6L953.7,550.0L955.3,555.0L957.2,559.8L960.3,564.0M1047.4,441.9L1047.0,436.7L1045.7,431.7L1045.2,426.6M1047.4,441.9L1041.3,444.4L1039.8,445.6M1022.4,445.6L1020.9,444.5M1045.2,426.6L1043.8,426.4M1004.5,399.4L999.0,401.2L993.1,402.3L987.6,404.9M987.6,404.9L985.8,410.3L984.7,415.8L983.2,421.3M1021.4,416.4L1021.9,419.7L1021.8,420.5M1089.5,419.9L1088.1,420.7L1083.5,424.6M1085.4,431.1L1085.1,429.9L1083.5,424.6M1040.1,202.6L1036.3,203.3L1029.8,206.1M1029.8,206.1L1025.4,202.1L1020.0,199.4L1016.5,194.4L1011.4,191.3M820.6,290.0L816.5,293.1L811.8,295.5L807.7,298.8M800.1,284.9L801.3,288.9L804.2,294.0L807.7,298.8M822.4,317.7L820.0,324.5L816.0,330.6M822.4,317.7L828.0,320.1L833.7,322.3L839.3,324.4L844.8,327.1M816.0,330.6L819.9,336.6L823.1,343.1M823.1,343.1L829.3,342.4L835.5,342.1L841.8,342.2M841.8,342.2L841.9,337.0L844.2,332.2L844.8,327.1M861.9,312.2L858.1,316.5L853.1,319.3L849.4,323.8L844.8,327.1M833.7,295.7L831.7,301.6L828.7,307.0L824.4,311.7L822.4,317.7M934.7,384.0L929.8,385.4L924.5,385.3L923.8,385.7M934.7,384.0L939.6,387.3L943.8,391.3L947.5,395.9M908.4,396.8L907.6,399.8L907.1,404.9M947.5,395.9L948.5,401.4L948.5,402.0M907.1,404.9L910.1,409.8L912.9,414.8L913.2,415.8M899.6,290.4L905.1,289.1L910.4,286.8L915.9,285.3L921.4,284.0M921.4,284.0L920.8,282.1M919.9,278.6L919.2,275.2M1270.6,621.5L1265.0,620.6L1259.4,621.0L1253.8,621.5M1258.4,588.7L1252.9,589.1L1247.4,591.6M1247.4,591.6L1247.8,596.2M1252.8,618.7L1253.8,621.5M1168.7,624.4L1162.6,624.1L1159.0,623.1M1155.2,622.2L1150.7,621.5M1168.7,624.4L1173.1,619.4L1177.6,614.5L1181.6,609.6M1153.4,617.0L1153.3,617.2L1150.7,621.5M1163.2,599.2L1168.9,599.8L1169.5,599.8M1243.0,575.5L1243.9,579.7L1244.7,585.2L1244.6,590.8M1236.4,592.3L1244.6,590.8M1236.4,592.3L1234.7,590.5M1244.1,668.7L1248.4,673.6L1253.2,678.0L1258.6,681.7M1244.1,668.7L1244.1,663.5L1244.5,658.4L1244.3,653.2M1247.6,649.9L1254.2,650.5L1260.8,651.6L1266.7,652.1M1247.6,649.9L1244.3,653.2M1272.3,662.1L1274.8,666.5M1274.8,666.5L1273.6,672.4L1272.1,678.3M1272.1,678.3L1265.2,679.4L1258.6,681.7M1230.5,681.0L1235.0,676.8L1239.8,673.0L1244.1,668.7M1251.5,696.5L1253.5,691.4L1255.8,686.4L1258.6,681.7M1215.2,657.1L1219.5,652.6M1219.5,652.6L1225.7,653.5L1232.0,651.9L1238.1,652.4L1244.3,653.2M1253.8,621.5L1249.4,625.4L1246.5,628.6M1245.7,635.2L1247.3,639.7L1246.8,644.9L1247.6,649.9M1277.6,666.3L1274.8,666.5M1283.3,691.0L1279.9,686.5L1275.2,683.1L1272.1,678.3M913.0,687.6L912.8,687.7M980.4,618.2L981.0,623.3L982.5,629.0L983.7,634.7L984.6,640.6L985.5,642.9M986.4,645.3L986.8,646.1M983.6,616.0L985.1,615.3L988.9,611.7L993.3,609.0M993.3,609.0L998.6,610.1L1003.7,611.6L1009.0,613.1L1014.3,614.2M986.8,646.1L987.6,646.1M1022.8,628.5L1022.8,628.5M1022.8,628.5L1019.6,623.9L1017.7,618.6L1014.3,614.2M977.7,652.5L981.7,648.5L986.8,646.1M1003.7,697.5L1006.7,692.7L1010.1,688.2M1003.7,697.5L997.5,698.7L991.1,698.8M1010.1,688.2L1009.2,683.2L1009.3,678.2L1008.1,673.2L1007.5,668.3L1007.8,663.2L1007.6,658.2L1005.3,653.5M1010.1,688.2L1014.8,686.5L1019.9,685.9L1024.3,683.1L1029.1,681.6L1031.8,681.0M1023.8,628.3L1022.8,628.5M993.3,609.0L994.4,602.7L994.5,596.3L995.1,591.6M1014.3,614.2L1014.7,608.5L1015.2,607.4M1060.3,586.6L1058.2,590.5L1058.2,590.7M1057.3,595.8L1057.3,596.1L1057.0,596.6M975.0,557.6L981.1,560.3L981.5,560.6M933.6,604.1L932.0,603.1M1003.7,697.5L1008.0,703.5L1013.4,708.6M1013.4,708.6L1020.0,709.4L1026.4,711.1L1032.9,712.2M1032.9,712.2L1036.6,707.6L1037.8,706.9M1059.5,694.3L1059.5,694.8L1059.6,695.9M1013.4,708.6L1012.7,713.8L1012.4,719.0L1012.9,724.3L1013.1,728.3M986.0,742.5L992.6,744.4M1009.6,736.4L1007.5,737.6L1002.2,739.3L997.2,741.4L992.6,744.4M992.6,744.4L995.8,748.6L998.3,753.2L1000.3,758.1L1001.2,759.5M1325.0,108.7L1326.6,110.5L1327.3,115.0M1250.7,282.2L1248.4,284.3M1245.1,287.4L1245.0,287.5M1297.6,183.5L1294.3,190.1L1293.4,193.5M1247.4,591.6L1244.6,590.8M1013.3,525.9L1012.8,525.4M959.8,565.3L955.0,567.2L950.7,570.2L950.2,570.3M959.8,565.3L962.5,570.7L965.5,576.0L967.2,582.0L970.0,587.4M970.0,587.4L967.4,593.1M967.4,593.1L961.7,594.0L955.8,594.1L950.2,595.9L944.3,596.3L938.8,598.6L936.1,598.7M948.2,541.3L942.8,541.4L937.6,543.2L936.4,543.2M928.1,549.1L928.5,550.7L928.8,556.3L928.8,561.6M960.3,564.0L959.8,565.3M986.1,584.5L982.7,585.5L976.3,586.6L970.0,587.4M970.8,606.0L970.0,603.7L968.2,598.5L967.4,593.1M1060.6,448.6L1064.9,443.8M1060.6,448.6L1060.7,449.4M1064.9,443.8L1069.1,443.3M1047.4,441.9L1054.3,444.5L1060.6,448.6M1045.2,426.6L1048.5,422.0L1053.1,418.5M1053.1,418.5L1058.9,422.7L1064.5,427.1M1064.5,427.1L1063.8,432.7L1064.0,438.2L1064.9,443.8M1064.5,427.1L1069.8,425.2L1075.3,423.5L1081.1,422.9M1081.1,422.9L1083.5,424.6M790.1,280.3L789.3,285.0L789.0,286.0M789.0,315.2L789.4,313.4M789.0,313.2L789.4,313.4M844.1,378.9L843.6,374.6L844.5,369.4L845.1,364.2M859.4,393.3L862.0,395.0L867.2,396.4M867.2,396.4L871.3,391.5L875.2,386.7L878.5,381.2M878.5,381.2L877.4,375.3L876.6,373.9M874.3,369.6L871.9,364.7L871.0,358.8M871.0,358.8L865.6,359.5L860.2,358.1L854.8,357.7L849.4,358.7M849.4,358.7L845.1,364.2M827.3,364.9L823.9,368.9L821.2,372.7M827.3,364.9L833.3,364.1L839.2,363.7L845.1,364.2M849.7,422.7L853.0,419.5L857.0,415.8L860.7,411.7L864.7,408.0L867.9,403.4M867.9,403.4L867.2,396.4M898.3,385.7L895.4,384.9L889.8,383.6L884.1,382.6L878.5,381.2M907.1,404.9L902.4,407.4L897.4,408.6L892.0,408.9L887.3,411.1L882.5,413.0M867.9,403.4L872.4,407.1L877.9,409.4L882.5,413.0M877.7,337.2L879.3,341.5L882.2,346.5M882.2,346.5L878.6,350.7L874.5,354.4L871.0,358.8M841.8,342.2L843.5,348.0L846.5,353.3L849.4,358.7M823.1,343.1L817.8,348.0L813.7,353.9M813.7,353.9L817.8,358.1L823.3,360.6L827.3,364.9M792.9,559.2L792.9,556.3L790.9,551.1L790.6,545.6L790.2,540.1L789.3,534.7M792.1,561.7L789.0,561.4M789.0,534.7L789.3,534.7M810.4,533.6L806.4,530.7L800.7,529.5L795.7,526.6M789.3,534.7L792.1,530.3L795.7,526.6M789.0,488.8L789.0,488.8M804.6,512.1L801.7,513.8L798.9,518.3L795.5,522.4M795.5,522.4L790.9,519.1L789.0,516.3M795.7,526.6L795.5,522.4M889.1,454.3L891.7,452.6M861.8,459.8L861.9,459.4L862.6,454.1L864.1,448.9L867.0,444.1L867.3,438.7M867.3,438.7L872.3,437.5L877.5,437.4L882.2,435.3M891.7,452.6L890.2,447.8L887.9,443.2L887.1,438.2M887.1,438.2L882.2,435.3M910.4,479.9L905.2,481.4L904.8,481.5M912.2,462.9L907.5,459.5L902.0,457.7L897.0,454.8L891.7,452.6M850.3,425.5L854.0,427.6L858.7,430.9L862.3,435.7L867.3,438.7M882.5,413.0L883.1,418.6L882.5,424.2L882.1,429.8L882.2,435.3M887.5,437.9L887.1,438.2M846.0,459.9L845.5,459.0L841.6,455.1L837.6,451.3L832.5,448.7L831.7,447.9M789.0,455.4L789.0,455.4M789.0,430.2L792.0,429.4M997.0,373.4L994.2,367.7L990.3,362.5L988.3,356.4M997.0,373.4L993.2,377.7L988.4,381.0L985.0,385.7L980.2,388.9M980.2,388.9L971.7,384.9M971.7,384.9L969.9,380.7M988.3,356.4L983.2,355.7L978.6,353.1L978.0,353.1M1009.9,383.3L1009.2,380.0L1006.3,375.0M987.6,404.9L985.3,399.5L982.5,394.3L980.2,388.9M1006.3,375.0L997.0,373.4M947.5,395.9L952.7,394.4L956.8,390.7L962.4,390.1L967.0,387.4L971.7,384.9M934.7,384.0L935.6,378.3L937.8,372.9L939.4,367.4L940.4,363.1M921.4,284.0L926.4,285.4L931.1,287.6M931.1,287.6L934.4,283.3L934.9,282.7M905.1,352.2L905.4,348.9M935.5,355.4L931.6,354.4L926.4,353.4L921.0,352.6L919.3,352.2M911.5,350.4L910.6,350.3L905.4,348.9M894.6,304.0L898.6,307.7L901.3,312.5L904.8,316.5L909.1,319.9L911.9,324.6M882.2,346.5L887.4,346.6L892.7,346.3L897.9,345.6L903.2,346.4M911.9,324.6L909.8,330.1L907.3,335.4L904.9,340.7L903.2,346.4M903.2,346.4L905.4,348.9M813.7,353.9L808.9,354.7M810.6,371.7L807.8,369.9L802.3,366.5M802.3,366.5L805.6,360.6L808.9,354.7M801.4,333.5L803.3,340.5L803.3,347.8M801.4,333.5L800.4,332.7M800.4,332.7L793.0,333.0L789.0,332.8M789.0,349.8L791.5,349.9L797.4,349.3L803.3,347.8M801.4,333.5L808.7,331.7L816.0,330.6M803.3,347.8L808.9,354.7M981.2,212.1L980.2,215.8L980.5,222.0M977.6,223.0L980.5,222.0M1053.5,413.7L1048.9,410.3L1044.4,406.8L1040.6,402.6L1036.0,399.2L1032.0,395.1M1053.5,413.7L1055.2,412.5M1052.8,386.4L1051.2,385.6L1045.4,384.5L1039.4,383.9M1032.0,395.1L1036.1,389.8L1039.4,383.9M1053.1,418.5L1053.5,413.7M1025.4,398.0L1032.0,395.1M1081.1,422.9L1078.8,418.1L1077.1,413.3L1077.0,407.9L1075.5,404.7M1006.3,375.0L1009.3,370.8L1013.3,367.5L1016.2,363.3L1020.3,360.1M1039.4,383.9L1038.6,378.3L1038.9,377.0M1034.6,365.4L1032.8,364.7L1026.5,362.4L1020.3,360.1M1121.3,100.3L1123.3,99.0L1126.7,94.6L1131.0,91.5M1129.8,82.9L1130.3,83.2M1131.0,91.5L1130.3,83.2M1154.1,260.3L1156.0,261.1M1111.2,232.3L1110.0,228.7M1140.7,214.4L1139.9,214.2L1135.7,210.7L1130.6,209.6M1130.6,209.6L1128.8,210.9M1266.6,176.3L1265.8,177.1M1188.5,611.1L1193.6,607.2L1199.1,604.1L1204.5,600.6M1188.5,611.1L1191.1,615.8L1192.6,620.9L1194.9,625.8L1196.6,630.9M1204.5,600.6L1210.2,602.7L1215.6,605.6L1221.0,608.5M1196.6,630.9L1202.5,629.8L1208.3,630.3L1214.2,630.4M1214.2,630.4L1218.1,625.4L1219.1,624.3M1221.0,611.2L1221.0,608.5M1202.3,594.7L1204.5,600.6M1185.3,610.2L1188.5,611.1M1168.7,624.4L1171.5,629.5L1174.1,634.8L1176.4,638.8M1188.8,639.7L1182.9,639.3L1179.2,639.6M1188.8,639.7L1192.5,635.1L1196.6,630.9M1236.4,592.3L1233.0,596.8L1229.4,601.1L1224.2,603.9L1221.0,608.5M1219.5,652.6L1218.2,647.0L1217.7,641.3L1215.4,636.0L1214.2,630.4M1201.1,668.9L1198.6,664.2L1197.7,659.9M1197.0,658.3L1194.1,654.7L1193.7,649.1L1190.1,644.9L1188.8,639.7M1201.2,549.7L1201.0,549.5M1209.8,708.8L1205.4,712.5L1202.0,717.3L1197.2,720.6M1218.3,751.8L1214.6,751.4L1208.9,751.2L1203.1,752.2M1197.2,720.6L1199.0,725.7L1200.2,731.0L1199.5,736.5L1201.4,741.6L1202.3,746.9L1203.1,752.2M1132.1,759.5L1132.8,757.9L1136.2,753.2L1138.5,747.9M1138.5,747.9L1143.5,747.4L1148.4,746.0L1153.4,745.8L1158.3,744.3L1163.3,744.3M1167.3,759.5L1168.0,758.0L1169.2,752.2M1169.2,752.2L1163.3,744.3M1201.0,759.5L1201.1,758.9L1201.6,753.8M1169.2,752.2L1174.6,752.6L1180.0,752.2L1185.4,753.0L1190.7,754.1L1196.2,753.4L1201.6,753.8M1201.6,753.8L1203.1,752.2M1130.7,730.5L1126.0,730.5L1120.5,728.7L1120.2,728.6M1132.0,731.0L1134.6,736.1L1137.0,741.8L1138.5,747.9M1112.4,759.5L1110.0,755.3L1108.0,750.4L1106.6,748.4M1163.3,744.3L1164.1,738.3L1165.3,732.3L1165.6,726.1L1166.5,721.9M1197.2,720.6L1192.4,719.2L1187.2,719.7L1182.5,717.4L1177.4,718.0L1173.7,717.0M1032.9,712.2L1035.8,716.9M1015.6,736.4L1017.0,737.1L1021.9,739.1L1025.8,743.0L1030.9,744.5M1030.9,744.5L1034.1,739.3L1034.9,738.4M1075.6,759.5L1074.8,757.7L1071.6,753.3M1087.5,737.9L1093.3,737.5L1096.5,737.7M1087.5,737.9L1082.8,740.3L1078.3,743.1L1074.2,746.5M1071.6,753.3L1074.2,746.5M1064.5,704.1L1063.7,706.1M1060.0,717.4L1059.8,719.1L1056.9,723.7L1055.2,728.6M1064.5,704.1L1070.8,704.5L1077.1,704.3M1077.1,704.3L1078.4,709.2L1080.9,713.6L1080.9,718.9L1082.7,723.6L1083.8,728.5L1086.8,732.8L1087.5,737.9M1074.2,746.5L1069.9,743.5L1067.3,738.6L1063.0,735.5L1059.4,731.8L1055.2,728.6M1062.9,702.9L1064.5,704.1M1055.2,728.6L1053.6,728.5M1014.4,515.6L1014.9,515.0M1097.2,271.8L1099.2,276.8M1120.9,261.6L1121.4,264.1L1122.5,269.6M1099.2,276.8L1104.8,274.3L1110.6,272.5L1116.8,271.9L1122.5,269.6M1147.1,261.4L1146.5,261.8L1142.5,264.9L1139.4,269.2L1135.2,272.0L1131.5,274.5M1122.5,269.6L1130.3,274.5M1071.7,533.7L1072.0,532.4L1073.4,526.4L1073.4,521.8M796.3,301.8L793.7,307.9L789.7,313.3M796.3,301.8L801.8,300.3L807.5,299.4M811.4,311.2L806.4,315.1L801.1,318.6M811.4,311.2L808.5,305.6L807.5,299.4M801.1,318.6L795.1,316.5L789.7,313.3M789.0,296.5L796.3,301.8M807.7,298.8L807.5,299.4M822.4,317.7L816.8,314.5L811.4,311.2M800.4,332.7L800.1,325.6L801.1,318.6M940.1,339.9L940.0,339.1L942.2,333.9M911.9,324.6L916.7,322.1L922.1,321.4L927.2,319.7M942.2,333.9L938.6,330.2L934.5,327.0L931.1,323.1L927.2,319.7M973.6,347.0L973.6,345.4L971.9,338.7M971.9,338.7L967.9,332.7L962.8,327.8M942.2,333.9L947.4,332.7L952.7,331.6L957.5,328.8L962.8,327.8M931.1,287.6L933.3,292.8L936.8,297.2M936.8,297.2L933.5,302.5L931.7,308.4L930.3,314.4L927.2,319.7M802.3,366.5L799.3,368.2M798.9,370.7L799.3,368.2M789.0,362.9L789.5,365.0M799.3,368.2L794.3,366.9L789.5,365.0M789.5,365.0L789.0,365.2M792.0,399.0L789.7,392.9L789.0,390.8M792.0,399.4L789.0,401.4M792.0,383.1L789.0,385.3M1077.9,238.5L1077.0,239.7M1054.4,241.0L1055.9,242.3L1057.0,242.7M1099.2,276.8L1096.5,285.5M1071.3,290.3L1076.5,290.3L1081.5,289.0L1086.6,288.3L1091.4,286.4L1096.5,285.5M1071.3,290.3L1069.3,285.4L1067.1,280.7L1064.1,276.3L1061.7,271.7M1061.7,271.7L1064.4,267.2L1066.5,262.3L1070.8,258.8L1071.5,256.9M1109.6,228.1L1106.7,229.2M1044.4,331.8L1042.6,330.5L1038.5,327.5M1078.3,324.4L1079.7,323.4M1079.7,323.4L1079.1,322.3M1078.3,321.0L1077.1,319.0L1075.0,314.5L1071.7,310.5L1070.2,305.6L1067.8,301.2M1067.8,301.2L1062.5,302.7L1057.1,303.5L1052.0,303.8M1044.2,305.3L1041.0,305.7M1041.0,305.7L1040.5,311.2L1039.9,316.7L1038.2,322.0L1038.5,327.5M1087.6,323.8L1092.2,320.7L1095.7,316.3L1100.3,313.1L1104.2,309.3L1107.9,305.2M1087.6,323.8L1079.7,323.4M1071.3,290.3L1070.0,295.9L1067.8,301.2M1096.5,285.5L1099.5,290.4L1102.4,295.3L1104.3,300.7L1107.9,305.2M1061.7,271.7L1055.8,271.9L1049.8,271.9L1046.7,272.0M1039.5,303.8L1041.0,305.7M988.3,356.4L993.0,352.5L998.2,349.1L1003.6,346.3M1020.3,360.1L1017.5,355.4L1015.9,350.1M1003.6,346.3L1009.7,348.4L1015.9,350.1M971.9,338.7L976.9,336.1L982.3,334.4L987.0,331.2L992.2,329.0L997.2,326.4M1003.6,346.3L1002.3,341.3L999.7,336.6L999.6,331.1L997.2,326.4M1057.7,350.7L1054.9,353.9L1054.3,354.4M1038.5,327.5L1033.7,329.5L1028.4,330.2M1015.9,350.1L1018.9,345.0L1022.5,340.3L1025.0,335.0L1028.4,330.2M1201.5,119.0L1201.4,118.6M1148.3,115.7L1154.4,119.9M1148.3,115.7L1146.4,108.8L1146.2,101.6M1146.2,101.6L1151.7,98.5L1156.6,94.7L1158.9,92.5M1154.4,119.9L1159.6,118.5L1165.1,118.0L1170.0,115.2L1171.5,115.1M1201.0,130.2L1196.8,134.8M1196.8,134.8L1191.1,133.7L1185.4,132.3M1185.4,132.3L1182.6,128.1L1181.4,126.3M1130.6,209.6L1129.2,203.7L1128.2,197.8L1128.0,191.7L1127.0,185.8M1101.4,191.3L1101.5,190.0L1102.0,185.6M1127.0,185.8L1120.8,185.0L1114.5,186.0L1108.3,185.7L1105.7,185.4M1092.1,186.3L1094.5,185.3M1070.9,669.0L1073.9,673.2L1077.7,676.5L1082.2,679.2L1085.5,683.1M1077.1,704.3L1079.8,702.2M1085.5,683.1L1082.8,689.2L1082.4,696.1L1079.8,702.2M1098.5,655.0L1098.9,660.6L1100.6,666.0L1100.1,671.7L1101.5,677.2M1085.5,683.1L1091.2,682.0L1096.1,679.0L1101.5,677.2M1108.7,718.2L1108.7,716.9L1109.9,711.7L1109.7,706.5M1079.8,702.2L1084.6,703.8L1089.8,703.2L1094.8,704.2L1099.5,706.0M1108.4,706.1L1109.7,706.5M1116.8,650.0L1120.4,653.5L1123.9,657.3L1128.9,659.2L1132.1,663.3M1143.3,627.6L1143.8,629.3M1132.1,663.3L1134.4,661.6M1195.0,675.6L1189.7,675.8L1184.4,676.1L1179.4,678.3L1174.1,678.5M1172.4,674.2L1174.1,678.5M1150.7,621.5L1145.9,623.4M1172.5,689.0L1172.9,685.1L1173.1,679.8M1174.1,678.5L1173.1,679.8M1025.4,759.5L1027.7,755.8L1032.3,751.7M1032.3,751.7L1037.1,754.3L1041.8,757.1L1044.9,759.5M1030.9,744.5L1032.3,751.7M1071.6,753.3L1067.0,756.4L1061.4,757.5L1056.2,759.4L1056.0,759.5M1038.3,494.2L1041.0,492.0L1042.9,490.3M1046.8,486.7L1049.9,483.4M1024.7,487.6L1024.2,486.7M1049.4,471.6L1050.1,477.5L1049.9,483.4M1049.4,471.6L1043.4,469.6L1041.9,468.8M1052.5,484.8L1049.9,483.4M1053.6,469.0L1049.4,471.6M1107.9,305.2L1108.5,305.2M1098.8,338.4L1104.8,337.7L1110.8,338.6L1116.8,338.6M1098.8,338.4L1095.0,333.6L1091.2,328.8L1087.6,323.8M1116.8,338.6L1119.5,333.7L1121.9,328.5L1125.2,323.9L1126.9,321.4M1120.4,343.9L1120.3,343.7L1116.8,338.6M1156.0,289.5L1150.9,293.3M1150.9,293.3L1144.9,290.3L1144.6,290.1M1076.0,362.3L1072.2,362.7M1072.2,362.7L1072.5,364.5M1072.8,366.6L1073.0,367.7M1098.8,338.4L1098.5,344.6L1097.6,348.5M1114.7,361.7L1113.1,362.2L1110.2,361.5M1059.0,350.5L1063.6,353.5L1068.1,357.8L1072.2,362.7M1132.7,597.2L1133.3,595.7M1133.3,595.7L1136.7,593.9M1133.3,595.7L1130.6,591.4L1128.5,586.8L1126.1,583.3M1124.3,581.0L1122.3,578.6L1120.3,573.8L1117.9,569.3M1117.9,569.3L1123.4,566.3M1114.3,562.3L1115.4,564.0L1117.7,569.3M1117.7,569.3L1112.2,572.2L1110.1,574.1M1084.7,619.8L1086.1,614.4L1086.1,608.7L1088.0,604.3M962.8,327.8L963.6,321.6M936.8,297.2L943.0,297.7L944.5,298.2M949.7,300.9L952.2,304.0L954.8,308.5L958.2,312.5L960.3,317.5L963.6,321.6M961.8,265.9L962.4,266.1L968.0,268.4M968.0,268.4L969.2,274.2L971.8,279.7L972.6,285.6M964.3,290.2L967.9,288.5L972.6,285.6M1014.2,298.7L1010.5,294.7L1008.5,289.5L1004.6,285.6L1001.8,280.9M1014.2,298.7L1011.6,303.2L1008.3,307.2L1005.2,311.5L1002.9,316.1M1002.9,316.1L1001.2,316.7M1001.2,316.7L996.9,313.6L992.0,311.6L988.1,307.9L983.3,305.6M1001.8,280.9L996.1,283.0L990.7,285.6L985.3,288.2L979.8,290.5M979.8,290.5L981.8,295.3L982.7,300.4L983.3,305.6M1029.7,295.7L1026.6,295.8L1020.6,298.2L1014.2,298.7M1028.4,330.2L1023.6,326.9L1018.7,323.7L1012.9,322.1L1008.3,318.3L1002.9,316.1M997.2,326.4L1000.0,321.9L1001.2,316.7M963.6,321.6L967.0,317.8L972.0,315.9L975.4,312.0L980.0,309.6L983.3,305.6M972.6,285.6L979.8,290.5M1026.6,249.4L1026.1,251.6L1025.3,258.5M1025.3,258.5L1020.7,261.0L1015.7,262.7L1014.4,263.3M1015.3,229.9L1014.2,229.8L1009.1,229.4L1004.1,228.4L999.1,228.5M994.9,227.4L993.9,227.1L989.0,225.5L986.3,225.6M1004.1,265.2L1000.8,263.2L995.3,260.6L989.9,257.9L985.2,254.0M985.3,250.9L985.2,254.0M1032.4,266.4L1029.6,263.4L1025.3,258.5M1029.8,206.1L1027.9,211.0L1024.7,215.4L1023.4,220.5L1022.4,224.9M1001.8,280.9L1003.3,276.1L1004.5,271.2L1005.8,267.0M980.5,222.0L983.1,224.9M968.0,268.4L973.0,265.6L976.4,260.9L981.2,258.0L985.2,254.0M1154.4,119.9L1154.7,125.9L1155.8,131.7L1156.9,137.5L1158.5,143.3L1160.1,149.0M1185.4,132.3L1180.9,136.2L1176.1,139.6L1170.4,141.7L1166.6,146.7L1161.3,149.3M1161.3,149.3L1160.2,149.1M1177.2,165.3L1176.5,170.7L1176.1,172.0M1177.2,165.3L1172.6,161.9L1168.7,157.9L1164.9,153.7L1161.3,149.3M1149.8,181.5L1145.3,180.1L1141.0,177.0M1160.2,149.1L1157.6,154.2L1153.2,158.0L1150.5,163.0L1147.2,167.5L1144.3,172.4L1141.0,177.0M1127.0,185.8L1130.7,182.4L1131.5,181.2M1141.0,177.0L1138.6,177.4M1103.8,152.9L1107.2,152.9L1112.5,154.6L1118.1,154.4L1123.3,156.2M1098.6,137.7L1097.3,133.4L1097.2,128.3M1127.7,127.5L1129.2,132.6L1131.4,137.5L1132.4,142.7M1127.7,127.5L1123.2,125.1L1118.5,122.9L1113.6,121.4L1109.0,119.3M1132.4,142.7L1128.9,146.9L1126.2,151.6L1123.3,156.2M1109.0,119.3L1103.0,123.7L1097.2,128.3M1126.2,162.6L1125.8,161.8L1123.3,156.2M1094.2,128.0L1097.2,128.3M1148.3,115.7L1143.0,118.4L1137.7,121.0L1133.1,125.0L1127.7,127.5M1160.1,149.0L1154.4,148.7L1149.2,145.7L1143.3,146.1L1138.0,144.0L1132.4,142.7M1110.3,111.0L1110.3,113.9L1109.0,119.3M1146.2,101.6L1141.0,98.4L1135.9,95.2L1131.0,91.5M1201.6,165.1L1199.7,160.1M1200.9,157.7L1199.7,160.1M1177.2,165.3L1182.7,163.6L1188.5,163.1L1194.0,160.8L1199.7,160.1M1196.8,134.8L1199.1,139.5L1199.2,140.8M1150.9,293.3L1151.0,294.2M1105.7,679.5L1107.0,685.6L1108.5,689.2M1105.7,679.5L1110.5,677.5L1115.4,675.7L1120.8,675.3L1125.6,673.3L1130.4,671.2M1116.3,703.6L1117.2,703.6L1118.3,703.0M1130.4,671.2L1132.1,676.2L1134.8,680.7L1137.5,685.2L1139.9,689.9M1138.9,693.0L1139.9,689.9M1101.5,677.2L1105.7,679.5M1109.7,706.5L1110.6,705.4M1132.1,663.3L1130.4,671.2M1173.1,679.8L1167.8,682.2L1164.8,682.4M1144.2,688.5L1139.9,689.9M1130.3,83.2L1133.2,78.4L1136.9,74.3L1141.1,70.5M1141.1,70.5L1140.0,65.4L1139.7,64.5M1141.1,70.5L1146.8,70.7L1152.3,72.5L1158.0,72.4M1166.4,51.9L1163.5,56.3L1161.5,61.6L1160.1,67.2L1158.0,72.4M1162.2,79.2L1160.9,76.6L1158.0,72.4M1197.9,460.4L1198.1,460.3M1198.1,460.3L1198.8,459.9L1201.8,457.9M1243.0,471.7L1243.1,474.0M1243.0,471.7L1244.8,470.1M1244.9,476.0L1244.1,475.5M1244.9,476.0L1248.0,473.8M1248.0,473.8L1248.2,472.2M1244.8,470.1L1248.2,472.2M1243.1,474.0L1244.1,475.5M1244.9,476.0L1245.1,477.3M1245.1,477.3L1244.3,479.8M1238.5,478.0L1244.1,475.5M1238.6,478.1L1244.3,479.8M1222.3,471.3L1219.1,469.7M1222.3,471.3L1222.4,474.4M1219.1,469.7L1217.3,474.1M1222.4,474.4L1218.6,475.4M1217.3,474.1L1218.6,475.4M1249.8,474.9L1249.3,475.0M1249.6,475.6L1249.3,475.0M1248.0,473.8L1249.3,475.0M1250.7,470.4L1250.4,470.3M1250.4,470.3L1248.2,472.2M1248.7,478.4L1245.1,477.3M1237.9,447.7L1238.7,450.3M1237.9,447.7L1242.1,445.9M1238.7,450.3L1242.4,450.9M1242.4,450.9L1244.4,449.0M1244.4,449.0L1244.4,447.9M1244.4,447.9L1242.1,445.9M1244.8,470.1L1244.7,468.0M1244.7,468.0L1247.5,466.1M1250.5,469.9L1247.5,466.1M1250.5,469.9L1250.8,469.5M1240.3,442.1L1241.5,438.9M1240.3,442.1L1236.7,442.9M1236.7,442.9L1235.6,438.8M1241.5,438.9L1237.6,436.4M1235.6,438.8L1237.4,436.5M1230.8,450.7L1230.0,446.3M1230.8,450.7L1227.1,451.5M1230.0,446.3L1227.1,444.8M1227.1,444.8L1225.8,445.8M1227.1,451.5L1224.5,450.5M1225.8,445.8L1224.5,450.5M1238.6,478.1L1241.1,483.0M1244.4,480.4L1244.3,479.8M1244.4,480.4L1241.5,483.3M1216.1,474.0L1214.9,474.6M1216.1,474.0L1213.3,469.4M1214.9,474.6L1211.2,474.8M1210.6,470.2L1213.3,469.4M1210.6,470.2L1210.3,470.7M1216.1,474.0L1217.3,474.1M1219.1,469.7L1218.4,467.1M1217.2,466.3L1218.2,466.9M1217.2,466.3L1215.0,467.5M1215.0,467.5L1213.3,469.4M1224.3,467.6L1218.4,467.1M1222.5,471.2L1224.5,467.8M1224.3,467.6L1224.3,463.6M1218.2,466.9L1222.5,463.8M1222.5,463.8L1223.8,463.3M1223.8,463.3L1224.3,463.6M1238.5,478.0L1237.6,477.7M1243.1,474.0L1238.7,474.5M1237.6,477.7L1237.4,476.7M1238.7,474.5L1237.4,476.7M1232.7,462.2L1232.8,457.8M1232.7,462.2L1235.6,463.0M1235.6,463.0L1236.7,462.6M1236.7,462.6L1236.1,457.3M1236.1,457.3L1232.8,457.8M1246.8,482.0L1247.3,481.9M1246.8,482.0L1246.5,483.6M1244.4,480.4L1246.8,482.0M1244.3,487.4L1241.9,486.1M1241.9,486.1L1241.5,483.3M1232.5,442.7L1231.3,445.5M1232.5,442.7L1236.7,442.9M1231.3,445.5L1236.1,446.7M1236.7,442.9L1236.3,446.6M1240.3,442.1L1241.8,443.9M1237.9,447.7L1236.3,446.6M1241.8,443.9L1242.1,445.9M1251.4,463.3L1248.0,464.5M1248.0,464.5L1247.5,466.1M1244.3,442.9L1246.9,444.7M1244.3,442.9L1245.3,440.3M1246.9,444.7L1247.9,441.3M1245.3,440.3L1247.3,440.2M1244.4,447.9L1247.0,445.4M1241.8,443.9L1244.3,442.9M1247.0,445.4L1246.9,444.7M1241.5,438.9L1242.1,438.7M1242.1,438.7L1245.3,440.3M1249.4,445.9L1247.0,445.4M1246.8,450.6L1249.9,447.7M1246.8,450.7L1250.5,450.4M1244.4,449.0L1246.8,450.6M1251.0,453.4L1250.3,454.1M1246.8,450.7L1247.7,454.1M1250.3,454.1L1247.7,454.1M1250.3,454.1L1251.2,455.3M1230.0,446.3L1231.3,445.5M1227.1,444.8L1227.1,442.4M1232.5,442.7L1230.9,440.2M1230.9,440.2L1227.1,442.4M1237.6,436.4L1239.7,431.9M1239.7,431.9L1239.4,431.4M1237.4,436.5L1234.4,434.4M1237.8,430.5L1239.4,431.4M1237.8,430.5L1235.1,431.0M1234.4,434.4L1235.1,431.0M1225.8,445.8L1224.8,445.5M1227.1,442.4L1225.4,440.6M1225.4,440.6L1221.9,442.6M1221.9,442.6L1224.8,445.5M1224.5,450.5L1222.1,450.2M1222.1,450.2L1219.7,446.3M1224.8,445.5L1219.7,446.3M1217.2,466.3L1217.0,465.2M1222.5,463.8L1219.2,461.4M1217.0,465.2L1219.2,461.4M1235.4,495.0L1235.9,493.5M1237.4,494.0L1236.8,493.1M1235.9,493.5L1236.8,493.1M1231.8,495.9L1231.2,494.1M1231.2,494.1L1233.4,492.6M1235.9,493.5L1233.4,492.6M1211.2,466.5L1212.3,466.0M1212.3,466.0L1211.7,464.9M1210.6,470.2L1210.3,469.6M1215.0,467.5L1212.3,466.0M1214.7,462.8L1217.0,465.2M1214.7,462.8L1212.2,463.1M1214.9,474.6L1214.2,479.8M1218.6,475.4L1218.6,476.4M1218.6,476.4L1216.1,480.5M1216.1,480.5L1214.2,479.8M1212.8,479.9L1214.2,479.8M1229.4,463.2L1229.5,466.0M1224.5,467.8L1226.9,468.7M1229.0,462.9L1224.3,463.6M1226.9,468.7L1229.5,466.0M1229.4,463.2L1232.7,462.2M1235.0,466.3L1235.6,463.0M1235.0,466.3L1231.4,467.6M1229.5,466.0L1231.4,467.6M1225.5,457.3L1223.2,455.7M1225.5,457.3L1225.5,457.9M1225.5,457.9L1223.0,460.7M1223.2,455.7L1221.3,455.9M1221.3,455.9L1219.6,459.4M1223.0,460.7L1219.7,459.6M1227.1,451.5L1227.3,455.9M1227.3,455.9L1225.5,457.3M1224.5,450.5L1223.2,455.7M1229.0,462.9L1228.4,461.0M1228.4,461.0L1225.5,457.9M1223.8,463.3L1223.0,460.7M1219.8,454.4L1220.3,451.6M1219.8,454.4L1221.3,455.9M1222.1,450.2L1220.3,451.6M1219.2,461.4L1219.7,459.6M1235.0,466.3L1236.2,468.9M1235.1,470.5L1236.2,469.8M1235.1,470.5L1231.9,469.2M1231.4,467.6L1231.9,469.2M1236.2,468.9L1236.2,469.8M1235.1,470.5L1233.7,474.2M1233.7,474.2L1237.4,476.7M1238.7,474.5L1238.8,471.2M1236.2,469.8L1238.8,471.2M1243.0,471.7L1240.0,470.6M1240.0,470.6L1238.8,471.2M1242.8,462.7L1240.0,461.8M1242.8,462.7L1242.9,467.0M1239.4,466.4L1240.9,467.4M1239.4,466.4L1238.1,462.7M1238.1,462.7L1240.0,461.8M1242.9,467.0L1240.9,467.4M1244.7,468.0L1242.9,467.0M1248.0,464.5L1245.4,461.8M1245.4,461.8L1242.8,462.7M1236.2,468.9L1239.4,466.4M1240.0,470.6L1240.9,467.4M1236.7,462.6L1238.1,462.7M1236.1,457.3L1236.6,456.7M1240.0,461.8L1240.2,460.6M1240.2,460.6L1236.6,456.7M1238.7,450.3L1236.7,453.5M1242.4,450.9L1242.4,454.3M1236.7,453.5L1237.4,454.9M1237.4,454.9L1239.4,455.4M1242.4,454.3L1239.4,455.4M1240.2,460.6L1240.8,459.1M1237.4,454.9L1236.6,456.7M1239.4,455.4L1240.8,459.1M1236.3,453.4L1231.3,456.4M1236.3,453.4L1232.7,450.8M1231.1,450.9L1232.7,450.8M1231.1,450.9L1230.9,456.2M1232.8,457.8L1231.3,456.4M1236.1,446.7L1232.7,450.8M1227.3,455.9L1230.9,456.2M1228.4,461.0L1231.0,456.3M1237.8,430.5L1237.5,428.0M1239.4,431.4L1240.3,430.1M1229.0,436.9L1231.3,438.7M1229.0,436.9L1228.7,435.2M1233.0,434.8L1230.6,432.9M1233.0,434.8L1231.6,438.6M1228.7,435.2L1229.6,433.0M1230.6,432.9L1229.6,433.0M1230.9,440.2L1231.3,438.7M1225.0,438.9L1225.4,440.6M1225.0,438.9L1229.0,436.9M1223.1,434.7L1224.7,438.6M1223.3,434.6L1228.7,435.2M1234.4,434.4L1233.0,434.8M1233.4,430.1L1235.1,431.0M1233.4,430.1L1230.6,432.9M1235.6,438.8L1231.6,438.6M1223.3,434.6L1225.4,431.7M1229.6,433.0L1228.6,431.8M1228.6,431.8L1225.4,431.7M1210.6,450.0L1211.4,450.3M1211.5,451.2L1210.2,452.3M1211.5,451.2L1211.4,450.3M1214.6,459.5L1217.0,458.4M1214.6,459.5L1212.6,458.3M1217.0,458.4L1216.7,454.8M1212.6,458.3L1212.7,456.4M1212.7,456.4L1214.2,453.4M1216.7,454.8L1214.9,453.3M1214.2,453.4L1214.9,453.3M1214.7,462.8L1214.6,459.5M1219.6,459.4L1217.0,458.4M1211.8,458.6L1212.6,458.3M1219.8,454.4L1216.7,454.8M1209.8,455.3L1212.7,456.4M1211.5,451.2L1214.2,453.4M1217.0,450.8L1220.3,451.6M1217.0,450.8L1214.9,453.3M1241.9,486.1L1240.7,486.6M1240.3,492.0L1239.3,491.6M1240.7,486.6L1239.3,491.6M1236.8,493.1L1237.8,491.7M1239.3,491.6L1237.8,491.7M1216.1,480.5L1217.3,482.5M1217.3,482.5L1214.9,484.3M1226.2,479.9L1223.6,479.5M1226.2,479.9L1227.1,483.0M1227.1,483.0L1222.8,484.7M1223.6,479.5L1222.3,480.0M1222.3,480.0L1220.5,482.7M1220.5,482.7L1222.8,484.7M1223.2,474.9L1223.6,479.5M1223.2,474.9L1226.4,474.2M1227.2,478.8L1226.4,474.2M1227.2,478.8L1226.2,479.9M1222.4,474.4L1223.2,474.9M1218.6,476.4L1222.3,480.0M1218.7,483.2L1217.3,482.5M1218.7,483.2L1220.5,482.7M1231.2,494.1L1229.4,493.6M1233.4,492.6L1233.0,490.0M1233.0,490.0L1228.9,490.5M1229.4,493.6L1228.6,491.6M1228.9,490.5L1228.6,491.6M1231.6,479.5L1228.4,483.6M1231.6,479.5L1230.5,478.3M1227.2,478.8L1230.5,478.3M1227.1,483.0L1227.6,483.5M1227.6,483.5L1228.4,483.6M1230.2,471.5L1227.5,471.3M1230.2,471.5L1232.6,474.4M1232.6,474.4L1231.3,475.7M1231.3,475.7L1226.6,473.9M1226.6,473.9L1227.1,471.9M1227.1,471.9L1227.5,471.3M1226.9,468.7L1227.5,471.3M1231.9,469.2L1230.2,471.5M1233.7,474.2L1232.6,474.4M1230.5,478.3L1231.3,475.7M1222.5,471.2L1227.1,471.9M1243.1,458.0L1243.8,455.3M1243.1,458.0L1245.7,460.7M1245.7,460.7L1247.4,458.6M1247.4,458.6L1246.8,455.2M1246.8,455.2L1243.8,455.3M1242.4,454.3L1243.8,455.3M1240.8,459.1L1243.1,458.0M1245.4,461.8L1245.7,460.7M1251.5,459.6L1247.4,458.6M1247.7,454.1L1246.8,455.2M1233.3,426.4L1231.8,426.7M1231.8,426.7L1230.5,426.0M1233.4,430.1L1231.8,426.7M1228.6,431.8L1229.5,426.4M1229.5,426.4L1230.0,426.0M1229.5,426.4L1226.0,426.9M1239.8,431.9L1241.7,431.4M1242.1,438.7L1243.8,435.5M1239.8,431.9L1243.8,435.5M1243.8,435.5L1244.6,435.2M1211.4,450.3L1212.9,446.8M1212.9,446.8L1211.8,445.9M1211.8,445.9L1211.6,445.9M1217.0,450.8L1216.6,446.8M1219.7,446.3L1218.9,445.8M1216.6,446.8L1218.9,445.8M1212.9,446.8L1214.7,446.4M1216.6,446.8L1214.7,446.4M1224.5,428.9L1224.8,427.3M1224.5,428.9L1221.0,430.5M1220.6,430.1L1221.0,430.5M1225.4,431.7L1224.5,428.9M1223.1,434.7L1221.4,434.4M1221.4,434.4L1221.0,430.5M1220.8,434.7L1217.8,433.2M1220.8,434.7L1221.4,434.4M1238.1,486.6L1235.9,488.1M1238.1,486.6L1236.9,483.0M1235.9,488.1L1234.1,487.8M1234.1,487.8L1232.6,485.8M1232.6,485.8L1232.5,485.1M1232.5,485.1L1234.6,481.3M1236.9,483.0L1234.8,481.3M1240.7,486.6L1238.1,486.6M1237.8,491.7L1235.9,488.1M1241.1,483.0L1236.9,483.0M1233.0,490.0L1234.1,487.8M1228.9,490.5L1228.4,488.7M1228.4,488.7L1232.6,485.8M1227.6,483.5L1226.7,487.5M1228.4,483.6L1232.5,485.1M1228.4,488.7L1226.7,487.5M1231.6,479.5L1234.6,481.3M1237.6,477.7L1234.8,481.3M1223.8,494.1L1224.3,493.2M1224.3,493.2L1227.4,495.6M1229.4,493.6L1227.5,495.6M1224.2,492.1L1221.5,491.1M1224.3,492.0L1225.4,487.8M1221.5,491.1L1222.0,488.0M1222.0,488.0L1223.3,487.0M1223.3,487.0L1225.4,487.8M1220.3,491.6L1221.5,491.1M1224.3,493.2L1224.2,492.1M1228.6,491.6L1224.3,492.0M1226.7,487.5L1225.4,487.8M1218.7,483.2L1218.5,487.0M1218.5,487.0L1222.0,488.0M1222.8,484.7L1223.3,487.0M1218.5,487.0L1217.4,488.4M1220.8,442.6L1219.5,443.3M1220.8,442.6L1221.4,439.5M1219.5,443.3L1216.2,439.2M1221.4,439.5L1219.1,437.5M1219.1,437.5L1216.2,439.2M1221.9,442.6L1220.8,442.6M1218.9,445.8L1219.5,443.3M1224.7,438.6L1221.4,439.5M1220.8,434.7L1219.1,437.5M1214.7,442.5L1215.7,439.2M1214.7,442.5L1212.6,442.7M1214.1,439.1L1214.2,439.1M1214.2,439.1L1215.7,439.1M1214.7,446.4L1214.7,442.5M1216.2,439.2L1215.7,439.2M1211.8,445.9L1211.7,445.5M1214.1,439.1L1214.2,439.1M1215.4,436.7L1215.7,439.1M1257.4,468.4L1260.2,465.8M1257.4,468.4L1253.8,468.3M1260.2,465.8L1258.3,457.7M1244.4,492.7L1243.4,498.3M1243.4,498.3L1238.6,499.7M1265.0,481.9L1257.8,478.2M1257.2,479.3L1257.6,478.4M1270.2,481.8L1269.4,480.7M1269.4,480.7L1265.0,481.9M1249.2,483.6L1257.2,479.3M1250.1,474.9L1257.6,478.4M1257.4,468.4L1259.5,474.7M1259.5,474.7L1257.8,478.2M1265.7,466.7L1266.9,475.1M1265.7,466.7L1268.1,465.8M1269.2,476.9L1266.9,475.1M1259.5,474.7L1266.9,475.1M1262.4,465.8L1260.2,465.8M1262.4,465.8L1265.7,466.7M1271.4,461.4L1268.1,465.8M1269.4,480.7L1269.2,476.9M1256.0,447.1L1255.5,451.8M1258.3,457.7L1259.3,456.1M1259.3,456.1L1255.5,451.8M1271.4,461.4L1271.1,459.7M1220.4,498.6L1225.0,500.5M1199.3,460.8L1202.1,459.9M1201.8,449.7L1205.1,454.0M1201.8,449.7L1196.8,451.9M1199.3,460.8L1198.1,460.3M1198.1,460.3L1196.4,459.6M1196.4,459.6L1196.5,458.1M1196.5,458.1L1196.8,451.9M1205.1,454.0L1204.5,456.7M1204.5,456.7L1204.2,458.3M1225.0,500.5L1225.1,503.3M1263.1,447.1L1266.6,444.7M1263.1,447.1L1263.3,454.1M1263.3,454.1L1266.9,455.8M1271.1,459.7L1267.1,455.8M1259.3,456.1L1263.3,454.1M1256.0,447.1L1258.1,445.1M1258.1,445.1L1263.1,447.1M1262.4,465.8L1264.7,460.8L1266.9,455.8M1224.9,426.9L1217.2,432.1M1216.7,432.0L1217.2,432.1M1243.8,424.7L1242.6,429.4M1241.3,430.9L1242.6,429.4M1242.6,429.4L1247.9,432.2L1253.4,434.6M1248.0,440.4L1253.6,437.0M1253.4,434.6L1253.6,437.0M1258.1,445.1L1255.6,438.3M1255.6,438.3L1253.6,437.0M1203.9,495.3L1206.7,499.6M1225.1,503.3L1223.4,508.8M1225.1,509.7L1223.4,508.8M1196.4,459.6L1193.3,460.0M1196.8,451.9L1193.6,448.9M1201.8,449.7L1202.4,445.6M1207.9,443.8L1202.4,445.6M1207.9,443.8L1210.7,447.3M1197.3,442.0L1197.4,441.5M1202.4,445.6L1197.3,442.0M1213.5,434.4L1212.6,438.4M1212.6,438.4L1208.5,441.4M1208.5,441.4L1204.5,436.7M1216.7,432.0L1213.5,434.4M1207.9,443.8L1208.5,441.4M1197.4,441.5L1204.5,436.7M1255.6,438.3L1262.0,437.0M1203.5,487.7L1205.7,490.9M1205.7,490.9L1213.2,490.3M1211.8,481.6L1210.8,481.1M1211.8,481.6L1213.3,490.0M1203.9,495.3L1205.7,490.9M1214.7,498.3L1206.7,499.6M1214.7,498.3L1213.2,490.3M1210.2,476.5L1210.0,480.1M1220.4,498.6L1216.6,499.9M1216.6,499.9L1214.7,498.3M1197.0,485.9L1196.0,483.9M1196.0,483.9L1193.8,481.9M1203.5,487.7L1197.0,485.9M1216.6,499.9L1216.4,503.7M1223.4,508.8L1220.5,508.8M1077.0,560.3L1070.3,565.5L1067.4,573.6M1069.2,505.5L1065.7,511.0L1068.8,514.8L1067.3,521.6L1080.1,518.6L1083.9,511.0L1087.0,507.9M1077.0,468.7L1074.1,469.4L1072.6,472.4L1065.7,473.2L1060.4,483.0L1064.2,486.0L1066.5,491.3L1071.0,492.9L1069.6,504.6M1077.0,449.5L1074.8,454.5L1074.8,454.6M1075.0,455.4L1077.0,465.2M1077.0,459.4L1075.1,455.4M1092.2,422.7L1086.9,431.8L1080.9,440.9L1078.0,447.5M1086.9,466.4L1079.4,464.1L1078.0,461.2M1078.0,468.5L1086.9,466.4M1108.2,573.6L1109.7,564.0L1118.7,553.4L1120.3,547.4L1115.7,542.8L1105.1,541.3L1090.0,545.9L1083.9,554.9L1078.0,559.6M1086.9,466.4L1089.2,468.6M1087.9,468.6L1086.9,466.4M1087.9,507.0L1089.4,505.5M1093.0,479.2L1090.0,473.2L1088.3,469.5M1090.0,500.4L1094.1,504.6M1090.0,504.6L1090.0,500.4M1090.0,500.4L1095.3,497.4M1096.9,498.5L1095.3,498.2L1090.0,500.4M1090.1,469.5L1090.7,470.1M1090.7,470.1L1093.0,479.2M1091.4,469.5L1090.7,470.1M1092.2,422.7L1099.1,431.8L1106.6,431.8M1121.8,406.8L1125.6,400.0L1122.5,394.7L1115.7,393.9L1106.6,401.5L1102.1,406.8L1092.2,422.7M1096.0,464.8L1092.3,468.6M1093.0,479.2L1096.0,483.0L1095.3,497.4M1095.0,505.5L1100.6,511.0L1103.6,518.6L1102.1,533.7L1106.6,540.6L1115.0,541.3M1095.3,497.4L1096.9,498.5M1117.2,465.6L1096.0,464.8M1096.0,464.8L1100.6,462.6M1096.9,498.5L1106.6,500.4M1100.6,462.6L1100.6,455.4M1100.6,462.6L1117.2,465.6M1104.2,455.4L1122.6,457.8M1106.6,431.8L1112.7,438.6L1122.5,440.9M1106.6,431.8L1112.7,418.1L1126.3,413.6M1117.0,504.6L1115.7,503.5L1106.6,500.4M1106.6,500.4L1108.1,496.6L1114.2,490.6L1122.5,491.3M1115.0,541.3L1120.3,545.9L1121.8,551.9L1130.9,555.7L1139.9,553.4M1115.0,541.3L1115.7,532.2L1121.8,526.2L1124.8,518.6M1117.2,465.6L1119.5,466.4M1119.5,468.6L1117.2,465.6M1122.5,509.5L1118.0,505.5M1119.5,466.4L1133.9,467.9M1119.5,466.4L1124.8,458.0M1121.8,471.7L1121.6,471.5L1121.4,471.1L1120.1,469.5M1133.9,467.9L1120.6,468.6M1121.8,406.8L1126.3,413.6M1140.7,397.3L1139.9,396.9L1129.3,401.5L1121.8,406.8M1121.8,471.7L1126.3,477.7M1122.5,491.3L1121.8,471.7M1124.2,449.8L1124.0,446.9L1122.5,440.9M1122.5,440.9L1124.8,433.3L1138.4,428.7M1126.3,477.7L1122.5,491.3M1122.5,509.5L1126.3,517.1M1124.8,518.6L1122.5,509.5M1124.7,458.0L1122.6,457.8M1122.6,457.8L1123.1,455.4M1123.3,454.6L1124.2,449.8M1124.2,449.8L1124.5,454.6M1124.6,455.4L1124.7,458.0M1124.7,458.0L1124.8,458.0M1124.8,458.0L1127.4,455.4M1126.3,517.1L1124.8,518.6M1126.3,413.6L1136.9,416.6L1144.5,419.7M1161.1,495.9L1157.4,502.7L1150.5,498.9L1140.7,493.6L1130.1,497.4L1129.3,485.3L1126.3,477.7M1126.3,517.1L1133.9,514.8L1144.5,511.8M1132.4,515.6L1126.3,517.1M1128.2,454.6L1129.3,453.0L1132.4,440.9L1135.4,440.9M1132.4,515.6L1133.1,521.6L1136.9,524.7L1144.5,526.2L1149.0,521.6L1149.0,512.5M1144.5,511.8L1132.4,515.6M1134.9,468.6L1133.9,467.9M1135.4,440.9L1136.9,443.9L1144.5,448.4L1150.5,451.5M1135.4,440.9L1139.9,430.3M1152.1,470.1L1146.0,472.4L1138.4,470.9L1136.3,469.5M1139.9,430.3L1138.4,428.7M1138.4,428.7L1144.5,419.7M1144.5,419.7L1139.9,430.3M1139.9,430.3L1144.5,428.7L1152.1,429.5M1139.9,553.4L1144.5,554.9L1152.1,559.5L1158.1,572.4L1164.2,570.1L1165.7,554.9L1173.3,548.9L1176.3,545.9M1139.9,553.4L1139.9,542.8L1146.0,545.9L1161.1,541.3L1165.7,545.9L1176.3,545.9M1140.7,397.3L1146.0,400.0L1152.8,398.5M1169.5,365.9L1151.3,366.7L1149.0,375.7L1140.7,387.1L1140.7,397.3M1144.5,511.8L1149.0,511.8L1155.1,508.8M1149.0,512.5L1144.5,511.8M1155.1,508.8L1149.0,512.5M1150.5,451.5L1153.6,454.6M1150.5,451.5L1152.1,436.3M1152.1,429.5L1159.6,432.5L1170.2,432.5M1152.1,436.3L1152.1,429.5M1172.2,443.7L1171.7,437.8L1164.2,439.3L1159.6,435.6L1152.1,436.3M1152.1,470.1L1152.5,469.5M1152.9,469.5L1152.1,470.1M1152.8,398.5L1156.6,407.5L1162.7,416.6L1169.5,426.5M1152.8,398.5L1149.0,394.7L1152.1,387.9L1159.6,383.3L1165.7,384.1M1153.0,468.6L1155.8,464.1M1155.8,467.1L1154.0,468.6M1155.1,508.8L1164.2,512.5L1173.3,505.0M1155.1,455.4L1155.2,456.0M1155.2,456.0L1156.5,456.7M1155.8,464.1L1155.2,456.0M1155.8,464.1L1155.8,467.1M1156.5,456.7L1155.8,464.1M1155.8,467.1L1157.1,468.6M1156.5,456.7L1156.6,455.4M1157.0,296.1L1145.3,298.4L1134.9,311.9L1128.9,320.8L1130.4,329.8L1134.9,337.3L1142.4,341.8L1151.3,340.3L1157.0,330.3M1157.0,334.9L1151.3,341.8L1157.0,349.4M1157.9,469.5L1161.1,473.2M1160.0,299.6L1160.3,295.4L1158.0,295.9M1158.0,323.4L1158.8,314.9L1159.9,300.4M1163.6,332.8L1158.8,332.8L1158.0,333.8M1158.0,350.6L1160.3,353.7L1163.3,365.7L1194.7,365.7L1192.1,350.4M1162.7,480.7L1161.1,473.2M1161.1,473.2L1162.7,472.4L1170.2,473.9M1161.1,495.9L1165.7,491.3M1168.7,494.4L1161.1,495.9M1162.7,480.7L1165.7,491.3M1170.2,473.9L1162.7,473.2L1162.7,480.7M1174.8,332.8L1170.8,337.3L1163.6,332.8M1164.6,300.4L1160.3,314.9L1158.8,329.8L1163.6,332.8M1178.3,299.6L1176.7,292.4L1165.4,299.6M1165.7,384.1L1173.3,389.4L1176.3,395.4M1165.7,384.1L1165.7,375.0L1169.5,365.9M1165.7,491.3L1170.2,495.1M1165.7,491.3L1179.3,486.8L1191.4,483.0M1167.9,454.6L1170.2,453.0L1172.3,447.4M1170.2,495.1L1168.7,494.4M1168.7,494.4L1173.3,505.0M1205.1,377.3L1185.4,367.4L1169.5,365.9M1170.2,432.5L1169.5,426.5M1169.5,426.5L1174.8,421.2M1170.2,432.5L1173.3,440.9L1182.3,440.9M1178.6,470.9L1170.2,473.9M1194.5,485.3L1189.9,490.6L1182.3,489.8L1176.3,498.2L1170.2,495.1M1172.3,447.4L1171.7,443.9L1172.2,443.7M1182.3,440.9L1172.2,443.7M1172.3,447.4L1172.5,448.4L1176.3,454.5L1176.4,454.6M1173.0,418.6L1171.7,416.6L1180.8,406.8M1173.3,461.1L1177.3,468.6M1173.3,461.1L1174.7,455.4M1176.1,455.4L1173.3,461.1M1173.3,505.0L1185.4,509.5M1174.8,421.2L1173.6,419.5M1192.0,349.6L1191.7,347.8L1181.2,332.8L1174.8,332.8M1174.8,332.8L1182.7,323.8M1175.9,419.5L1174.8,421.2M1189.2,399.2L1182.3,397.7L1176.3,395.4M1176.3,395.4L1179.3,400.0L1180.8,406.8M1176.3,545.9L1180.8,542.8M1180.4,412.7L1176.5,418.6M1177.8,469.5L1178.6,470.9M1179.7,305.9L1178.5,300.4M1178.6,470.9L1185.4,477.7M1179.2,285.5L1176.7,287.9L1178.7,299.6M1178.8,300.4L1179.7,305.9M1179.7,305.9L1182.7,323.8M1203.1,284.6L1203.7,280.5L1185.7,279.0L1180.1,284.6M1180.8,406.8L1180.1,412.8L1180.4,412.7M1180.4,412.7L1180.8,412.1L1184.6,410.6M1180.8,542.8L1177.8,533.7L1179.3,530.7L1180.8,529.7M1180.8,529.7L1182.3,527.7L1185.4,518.6M1196.7,542.8L1205.1,530.0L1194.5,529.2L1183.9,527.7L1180.8,529.7M1180.8,542.8L1185.4,545.9L1191.4,551.9L1200.5,548.9L1196.7,542.8M1190.5,434.4L1183.9,431.8L1182.3,440.9M1182.7,323.8L1197.7,326.8L1199.2,314.5M1184.6,410.6L1192.9,418.1M1184.6,410.6L1192.9,407.5M1185.4,477.7L1191.4,477.7L1197.5,476.2M1191.4,483.0L1185.4,477.7M1185.4,518.6L1185.4,509.5M1185.4,509.5L1192.9,508.0L1191.4,515.6M1185.4,518.6L1185.4,526.2L1194.5,527.7L1205.1,529.2L1209.6,537.5M1191.4,515.6L1185.4,518.6M1192.9,407.5L1189.2,399.2M1189.2,399.2L1196.0,389.4L1205.1,377.3M1190.5,434.4L1191.4,434.8M1191.4,448.4L1192.2,439.3L1190.5,434.4M1191.1,468.6L1189.2,463.3L1197.5,461.1M1191.4,434.8L1200.5,440.9M1191.4,434.8L1197.5,427.2M1196.0,454.5L1191.4,448.4M1200.5,440.9L1191.4,448.4M1194.5,485.3L1191.4,483.0M1191.4,515.6L1199.0,514.1L1206.6,503.5L1212.6,503.5L1221.7,514.1M1196.7,471.7L1191.6,469.5M1191.7,455.3L1192.4,456.0M1192.0,469.5L1196.7,470.1M1197.5,461.1L1192.4,456.0M1192.4,456.0L1196.0,454.5M1192.9,407.5L1196.0,403.0L1203.5,400.0M1192.9,418.1L1193.3,418.6M1193.2,418.6L1192.9,418.1M1197.5,427.2L1193.6,419.5M1194.0,419.5L1200.5,427.2L1206.6,430.3M1202.0,480.7L1194.5,485.3M1196.0,454.5L1211.1,456.0L1211.8,462.1M1196.7,470.1L1200.5,471.7M1196.7,470.1L1197.3,469.5M1200.5,471.7L1196.7,471.7M1197.5,476.2L1196.7,471.7M1196.7,542.8L1205.1,548.9L1214.1,554.2L1220.2,545.9L1226.5,548.4M1209.6,537.5L1205.1,533.7L1196.7,542.8M1206.6,430.3L1197.5,427.2M1200.5,465.6L1197.5,461.1M1197.5,476.2L1202.0,480.7M1198.0,468.6L1200.5,465.6M1199.3,313.6L1200.7,302.9L1201.0,300.4M1200.5,440.9L1218.7,440.9L1220.2,434.8L1226.5,436.9M1211.9,462.6L1211.1,457.3L1206.6,456.5L1200.5,465.6M1200.5,471.7L1205.1,473.2L1209.6,470.1M1205.1,474.7L1200.5,471.7M1201.1,299.6L1203.0,285.5M1205.1,474.7L1211.1,482.3L1208.1,486.8L1202.0,480.7M1203.5,400.0L1214.1,396.9M1212.6,398.5L1203.5,400.0M1221.7,389.4L1205.1,377.3M1209.6,470.1L1205.1,474.7M1206.6,430.3L1212.6,425.7L1216.2,419.5M1209.8,469.5L1209.6,470.1M1209.6,537.5L1218.7,530.7L1226.3,529.2M1211.9,462.6L1210.1,468.6M1211.8,462.1L1211.2,455.4M1211.8,462.1L1211.9,462.6M1218.7,415.1L1211.1,408.3L1212.6,398.5M1214.1,396.9L1212.6,398.5M1246.4,284.6L1242.0,266.8L1213.6,271.3L1213.6,284.6M1214.1,396.9L1221.7,389.4M1216.7,418.6L1218.7,415.1M1218.7,415.1L1232.3,418.1M1232.3,418.1L1226.3,400.0L1221.7,389.4M1221.7,514.1L1224.0,523.1M1226.3,529.2L1223.2,523.1L1221.7,514.1M1221.7,514.1L1227.0,512.7M1224.0,523.1L1226.3,529.2M1224.0,523.1L1226.5,521.4M1226.5,522.0L1224.0,523.1M1226.5,529.3L1226.3,529.2M1228.0,437.4L1229.3,437.8L1233.8,440.9L1242.9,439.3M1228.0,501.9L1229.1,501.9M1228.0,520.5L1230.8,518.6M1241.4,518.6L1230.8,520.1L1228.0,521.4M1238.4,535.3L1228.0,530.0M1228.0,549.3L1230.8,555.7L1242.2,548.9M1237.6,501.9L1229.1,501.9M1229.1,501.9L1229.3,500.4L1237.6,501.9M1230.8,518.6L1241.4,518.6M1230.8,518.6L1233.8,509.5M1232.6,418.6L1232.3,418.1M1242.9,439.3L1236.9,425.7L1233.1,419.5M1233.8,509.5L1241.4,515.6M1241.4,518.6L1239.9,515.6L1233.8,509.5M1245.8,400.6L1239.4,398.4L1222.3,388.5L1233.7,415.5L1235.2,418.6M1235.6,419.5L1243.7,436.9M1237.6,501.9L1241.4,508.0L1241.4,515.6M1237.6,501.9L1245.9,501.2L1249.0,506.5L1255.0,506.5L1261.1,514.1M1238.4,535.3L1247.5,538.3M1242.2,548.9L1238.4,535.3M1241.4,515.6L1249.0,520.1M1249.0,520.1L1241.4,518.6M1242.2,548.9L1249.0,548.9L1255.0,554.9L1264.6,554.9M1247.5,538.3L1239.9,539.8L1242.2,548.9M1254.3,454.6L1252.0,449.9L1242.9,439.3M1243.7,436.9L1253.7,452.6L1255.3,454.6M1243.7,436.9L1253.7,432.6L1265.1,425.5M1245.8,400.6L1256.5,404.1L1268.8,400.4M1246.9,400.2L1245.8,400.6M1247.5,538.3L1249.0,520.1M1249.0,520.1L1258.0,518.6M1260.5,463.3L1255.3,455.4M1256.1,455.4L1260.8,461.1M1264.6,518.6L1258.0,518.6M1258.0,518.6L1261.1,514.1M1260.5,463.3L1264.8,469.8M1261.4,462.3L1260.5,463.3M1260.8,461.1L1261.4,462.3M1260.8,461.1L1265.9,455.4M1261.1,514.1L1264.6,518.1M1265.1,469.7L1261.4,462.3M1273.6,446.9L1279.3,432.6L1265.1,425.5M1265.1,425.5L1266.8,419.5M1278.6,485.8L1277.9,486.8L1267.9,475.4L1265.5,470.4M1265.5,481.8L1267.7,485.5M1267.7,485.5L1265.5,486.0M1265.5,517.6L1267.7,518.1M1267.7,518.1L1265.5,517.8M1265.5,542.6L1273.8,542.6L1284.9,548.1M1266.7,454.6L1273.6,446.9M1267.1,418.6L1267.9,415.5L1276.5,409.8M1267.7,485.5L1276.9,488.6M1277.9,519.4L1267.7,518.1M1267.7,518.1L1272.8,511.4M1302.1,388.6L1297.8,385.6L1285.0,389.9L1271.2,399.6M1272.8,511.4L1276.3,518.4L1277.9,519.4M1272.8,511.4L1272.7,511.3L1272.9,511.2M1272.9,511.2L1273.8,510.0L1274.6,509.2L1273.6,508.1L1276.1,507.7L1277.9,505.9L1285.3,505.9M1285.3,505.9L1279.8,508.6L1272.9,511.2M1307.8,448.3L1287.9,444.0L1273.6,446.9M1276.5,409.8L1287.9,411.3L1281.6,418.6M1276.5,409.8L1276.5,402.7L1287.0,400.4M1276.9,488.6L1298.3,497.8M1276.9,488.6L1278.6,485.8M1284.6,523.4L1280.7,521.1L1277.9,519.4M1289.9,470.7L1278.6,485.8M1280.8,419.5L1279.3,421.2L1282.8,419.5M1284.9,548.1L1276.5,555.1L1281.0,559.6M1281.9,560.5L1282.2,560.8L1282.4,560.5M1283.2,559.6L1288.5,553.2M1288.5,553.2L1284.3,559.6M1284.6,523.4L1285.2,523.8L1286.1,527.3L1287.0,532.7L1290.5,537.1L1293.2,541.2M1293.1,541.2L1286.1,532.4L1284.6,523.4M1284.6,418.6L1290.7,415.5M1284.9,548.1L1289.8,544.0L1293.1,541.2M1285.3,505.9L1287.0,505.1L1288.0,505.7M1288.4,505.9L1288.3,505.9L1288.0,505.7M1288.0,505.7L1288.4,505.9M1288.0,505.7L1290.7,505.3L1292.3,505.8M1302.1,509.7L1301.2,509.5L1291.4,507.7L1288.4,505.9M1289.6,551.8L1289.3,552.3L1288.5,553.2M1302.1,541.3L1294.1,554.1L1289.6,551.8M1289.6,551.8L1288.7,551.4L1294.1,542.5M1302.1,473.8L1289.9,470.7M1289.9,470.7L1290.5,470.0M1298.1,462.2L1290.7,469.7L1290.5,470.0M1290.5,470.0L1297.3,469.2M1290.7,415.5L1293.8,418.6M1290.7,415.5L1297.8,408.4L1302.1,407.7M1291.2,399.6L1296.4,398.4L1302.1,395.6M1292.3,505.8L1302.1,509.1M1298.3,501.8L1292.3,505.8M1293.2,541.2L1293.1,541.2M1294.1,542.5L1293.2,541.2M1302.1,528.8L1299.4,533.6L1294.1,542.5M1294.7,419.5L1296.4,421.2L1302.1,426.9M1297.3,469.2L1302.1,471.9M1297.3,469.2L1298.1,462.2M1299.3,461.1L1298.1,462.2M1298.3,501.8L1298.3,497.8M1298.3,497.8L1302.1,491.5M1302.1,504.9L1298.3,501.8M1298.5,559.6L1302.1,551.6M1322.9,474.8L1313.5,472.5L1302.1,466.8L1299.3,461.1M1299.3,461.1L1302.1,456.9M1307.8,392.7L1303.0,389.3M1303.0,395.2L1307.8,392.7M1303.0,407.5L1306.4,407.0M1303.0,427.8L1305.0,429.8L1316.4,435.5M1303.0,455.6L1307.8,448.3M1303.0,472.4L1308.5,475.4M1308.5,475.4L1303.0,474.0M1303.0,490.0L1304.4,487.6L1314.6,486.6L1322.7,487.6L1320.7,481.5L1308.5,475.4M1308.3,511.3L1308.5,510.0L1303.0,505.6M1303.0,509.4L1307.8,511.0L1307.8,511.2M1307.8,511.2L1303.0,510.0M1308.3,511.3L1307.5,518.4L1304.8,523.8L1303.0,527.1M1308.6,524.6L1308.3,525.6L1303.0,539.8L1303.0,539.9M1303.0,549.6L1303.4,548.7L1308.5,526.3L1308.8,524.3L1308.6,524.6M1312.2,418.6L1306.4,407.0M1306.4,407.0L1307.7,400.4M1313.5,394.2L1307.8,392.7M1307.8,448.3L1320.6,444.0M1307.8,511.2L1308.3,511.3M1308.1,399.6L1313.5,394.2M1308.3,511.3L1308.3,511.3M1308.9,523.3L1311.0,514.9L1308.3,511.3M1308.5,475.4L1321.7,477.4L1322.4,476.3M1308.6,524.6L1308.8,523.9L1308.9,523.3M1308.9,523.3L1308.6,524.6M1316.4,435.5L1313.5,421.2L1312.6,419.5M1319.7,399.6L1313.5,394.2M1316.4,435.5L1320.6,444.0M1320.6,444.0L1330.6,455.4M1320.7,400.4L1324.9,404.1L1336.3,418.4L1336.4,418.6M1322.4,476.3L1324.9,483.9L1336.3,489.6L1344.2,492.8M1322.4,476.3L1322.1,475.4L1322.9,474.8M1322.9,474.8L1340.6,464.0M1330.6,455.4L1333.5,457.9M1336.7,419.5L1342.0,432.6L1330.6,455.4M1337.7,418.6L1331.0,400.4M1340.6,464.0L1333.5,457.9M1333.5,457.9L1344.1,438.7L1338.0,419.5M1365.4,480.4L1366.2,479.6L1353.4,466.8L1340.6,464.0M1365.4,480.4L1350.5,495.3L1344.2,492.8M1344.2,492.8L1349.2,497.8L1362.4,491.6L1366.5,481.5L1365.4,480.4M1080.6,262.3L1095.5,271.3L1113.4,268.3L1119.4,256.3L1101.5,253.3L1083.5,247.4L1065.6,229.4L1055.1,235.4L1059.6,247.4L1080.6,262.3M1234.6,245.9L1251.0,235.4L1257.0,226.4L1242.0,220.5L1234.6,213.0L1216.6,229.4L1218.1,241.4L1234.6,245.9" fill="none" stroke="#e0d8ee" stroke-opacity="0.5" stroke-width="0.45" stroke-linejoin="round"/>
</g>
<rect x="32.0" y="52.4" width="589.0" height="706.6" fill="none" stroke="#000" stroke-width="1.42"/>
<rect x="633.7" y="52.4" width="29.6" height="706.6" fill="url(#vg)" stroke="#000" stroke-width="1.42"/>
<rect x="789.5" y="52.4" width="589.0" height="706.6" fill="none" stroke="#000" stroke-width="1.42"/>
<rect x="1391.2" y="52.4" width="29.6" height="706.6" fill="url(#vg)" stroke="#000" stroke-width="1.42"/>
<text x="326.3" y="41.5" font-size="21.33" text-anchor="middle">Census counts</text>
<text x="1083.8" y="41.5" font-size="21.33" text-anchor="middle">Survey counts</text>
<line x1="663.3" y1="652.7" x2="669.3" y2="652.7" stroke="#000" stroke-width="1.42"/>
<text x="675.6" y="659.4" font-size="17.78">10000</text>
<line x1="663.3" y1="529.0" x2="669.3" y2="529.0" stroke="#000" stroke-width="1.42"/>
<text x="675.6" y="535.7" font-size="17.78">20000</text>
<line x1="663.3" y1="405.3" x2="669.3" y2="405.3" stroke="#000" stroke-width="1.42"/>
<text x="675.6" y="412.0" font-size="17.78">30000</text>
<line x1="663.3" y1="281.5" x2="669.3" y2="281.5" stroke="#000" stroke-width="1.42"/>
<text x="675.6" y="288.2" font-size="17.78">40000</text>
<line x1="663.3" y1="157.8" x2="669.3" y2="157.8" stroke="#000" stroke-width="1.42"/>
<text x="675.6" y="164.5" font-size="17.78">50000</text>
<line x1="1420.8" y1="759.0" x2="1426.8" y2="759.0" stroke="#000" stroke-width="1.42"/>
<text x="1433.1" y="765.7" font-size="17.78">0</text>
<line x1="1420.8" y1="677.1" x2="1426.8" y2="677.1" stroke="#000" stroke-width="1.42"/>
<text x="1433.1" y="683.8" font-size="17.78">100</text>
<line x1="1420.8" y1="595.3" x2="1426.8" y2="595.3" stroke="#000" stroke-width="1.42"/>
<text x="1433.1" y="602.0" font-size="17.78">200</text>
<line x1="1420.8" y1="513.5" x2="1426.8" y2="513.5" stroke="#000" stroke-width="1.42"/>
<text x="1433.1" y="520.2" font-size="17.78">300</text>
<line x1="1420.8" y1="431.7" x2="1426.8" y2="431.7" stroke="#000" stroke-width="1.42"/>
<text x="1433.1" y="438.4" font-size="17.78">400</text>
<line x1="1420.8" y1="349.8" x2="1426.8" y2="349.8" stroke="#000" stroke-width="1.42"/>
<text x="1433.1" y="356.5" font-size="17.78">500</text>
<line x1="1420.8" y1="268.0" x2="1426.8" y2="268.0" stroke="#000" stroke-width="1.42"/>
<text x="1433.1" y="274.7" font-size="17.78">600</text>
<line x1="1420.8" y1="186.2" x2="1426.8" y2="186.2" stroke="#000" stroke-width="1.42"/>
<text x="1433.1" y="192.9" font-size="17.78">700</text>
<line x1="1420.8" y1="104.4" x2="1426.8" y2="104.4" stroke="#000" stroke-width="1.42"/>
<text x="1433.1" y="111.1" font-size="17.78">800</text>
</svg></body></html>
